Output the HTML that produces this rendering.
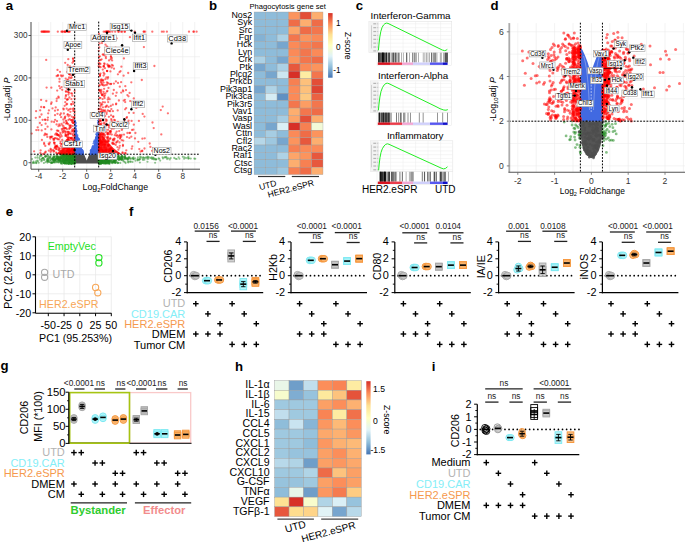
<!DOCTYPE html>
<html><head><meta charset="utf-8"><style>
html,body{margin:0;padding:0;background:#fff;}
svg{display:block;font-family:"Liberation Sans", sans-serif;}
</style></head><body>
<svg width="685" height="542" viewBox="0 0 685 542">
<rect x="0" y="0" width="685" height="542" fill="#fff"/>
<line x1="38.70" y1="22.00" x2="38.70" y2="169.20" stroke="#ebebeb" stroke-width="0.6"/>
<line x1="50.70" y1="22.00" x2="50.70" y2="169.20" stroke="#ebebeb" stroke-width="0.6"/>
<line x1="62.70" y1="22.00" x2="62.70" y2="169.20" stroke="#ebebeb" stroke-width="0.6"/>
<line x1="74.70" y1="22.00" x2="74.70" y2="169.20" stroke="#ebebeb" stroke-width="0.6"/>
<line x1="86.70" y1="22.00" x2="86.70" y2="169.20" stroke="#ebebeb" stroke-width="0.6"/>
<line x1="98.70" y1="22.00" x2="98.70" y2="169.20" stroke="#ebebeb" stroke-width="0.6"/>
<line x1="110.70" y1="22.00" x2="110.70" y2="169.20" stroke="#ebebeb" stroke-width="0.6"/>
<line x1="122.70" y1="22.00" x2="122.70" y2="169.20" stroke="#ebebeb" stroke-width="0.6"/>
<line x1="134.70" y1="22.00" x2="134.70" y2="169.20" stroke="#ebebeb" stroke-width="0.6"/>
<line x1="146.70" y1="22.00" x2="146.70" y2="169.20" stroke="#ebebeb" stroke-width="0.6"/>
<line x1="158.70" y1="22.00" x2="158.70" y2="169.20" stroke="#ebebeb" stroke-width="0.6"/>
<line x1="170.70" y1="22.00" x2="170.70" y2="169.20" stroke="#ebebeb" stroke-width="0.6"/>
<line x1="182.70" y1="22.00" x2="182.70" y2="169.20" stroke="#ebebeb" stroke-width="0.6"/>
<line x1="194.70" y1="22.00" x2="194.70" y2="169.20" stroke="#ebebeb" stroke-width="0.6"/>
<line x1="31.00" y1="162.70" x2="200.00" y2="162.70" stroke="#ebebeb" stroke-width="0.6"/>
<line x1="31.00" y1="141.50" x2="200.00" y2="141.50" stroke="#ebebeb" stroke-width="0.6"/>
<line x1="31.00" y1="120.30" x2="200.00" y2="120.30" stroke="#ebebeb" stroke-width="0.6"/>
<line x1="31.00" y1="99.10" x2="200.00" y2="99.10" stroke="#ebebeb" stroke-width="0.6"/>
<line x1="31.00" y1="77.90" x2="200.00" y2="77.90" stroke="#ebebeb" stroke-width="0.6"/>
<line x1="31.00" y1="56.70" x2="200.00" y2="56.70" stroke="#ebebeb" stroke-width="0.6"/>
<line x1="31.00" y1="35.50" x2="200.00" y2="35.50" stroke="#ebebeb" stroke-width="0.6"/>
<polygon points="74.70,154.22 84.06,154.22 86.70,160.58 89.34,154.22 98.70,154.22 98.70,163.55 74.70,163.55" fill="#4d4d4d" stroke="none" stroke-width="1"/>
<polygon points="83.10,154.22 82.82,154.06 82.54,153.75 82.26,153.31 81.98,152.79 81.70,152.17 81.42,151.48 81.14,150.71 80.86,149.87 80.58,148.97 80.30,148.01 80.02,146.98 79.74,145.90 79.46,144.76 79.18,143.57 78.90,142.33 78.62,141.04 78.34,139.70 78.06,138.30 77.78,136.87 77.50,135.38 77.22,133.85 76.94,132.28 76.66,130.66 76.38,129.00 76.10,127.30 75.82,125.56 75.54,123.77 75.26,121.95 74.98,120.08 74.70,118.18 74.70,154.22 83.10,154.22" fill="#4169e1" stroke="none" stroke-width="1"/>
<polygon points="90.30,154.22 90.58,154.06 90.86,153.75 91.14,153.31 91.42,152.79 91.70,152.17 91.98,151.48 92.26,150.71 92.54,149.87 92.82,148.97 93.10,148.01 93.38,146.98 93.66,145.90 93.94,144.76 94.22,143.57 94.50,142.33 94.78,141.04 95.06,139.70 95.34,138.30 95.62,136.87 95.90,135.38 96.18,133.85 96.46,132.28 96.74,130.66 97.02,129.00 97.30,127.30 97.58,125.56 97.86,123.77 98.14,121.95 98.42,120.08 98.70,118.18 98.70,154.22 90.30,154.22" fill="#4169e1" stroke="none" stroke-width="1"/>
<polygon points="74.70,154.22 74.70,141.50 67.50,145.74 59.10,151.25 56.70,154.22" fill="#ff0000" stroke="none" stroke-width="1" fill-opacity="0.8"/>
<polygon points="98.70,154.22 98.70,130.90 105.90,139.38 113.10,147.86 119.10,152.52 121.50,154.22" fill="#ff0000" stroke="none" stroke-width="1" fill-opacity="0.8"/>
<g fill="#228b22" fill-opacity="0.5"><circle cx="105.8" cy="158.9" r="1.05"/><circle cx="111.9" cy="158.1" r="1.05"/><circle cx="70.9" cy="162.7" r="1.05"/><circle cx="99.8" cy="156.3" r="1.05"/><circle cx="128.9" cy="157.3" r="1.05"/><circle cx="100.0" cy="158.8" r="1.05"/><circle cx="102.1" cy="158.7" r="1.05"/><circle cx="66.1" cy="163.8" r="1.05"/><circle cx="67.9" cy="160.7" r="1.05"/><circle cx="57.3" cy="157.9" r="1.05"/><circle cx="62.8" cy="160.0" r="1.05"/><circle cx="74.7" cy="161.0" r="1.05"/><circle cx="117.9" cy="156.8" r="1.05"/><circle cx="137.8" cy="159.6" r="1.05"/><circle cx="103.4" cy="156.3" r="1.05"/><circle cx="102.0" cy="162.1" r="1.05"/><circle cx="105.5" cy="160.2" r="1.05"/><circle cx="69.1" cy="159.5" r="1.05"/><circle cx="52.2" cy="158.7" r="1.05"/><circle cx="119.2" cy="157.4" r="1.05"/><circle cx="59.1" cy="158.2" r="1.05"/><circle cx="107.6" cy="159.7" r="1.05"/><circle cx="107.7" cy="154.4" r="1.05"/><circle cx="115.6" cy="157.3" r="1.05"/><circle cx="107.1" cy="160.3" r="1.05"/><circle cx="60.7" cy="155.1" r="1.05"/><circle cx="100.2" cy="155.5" r="1.05"/><circle cx="67.5" cy="163.3" r="1.05"/><circle cx="111.0" cy="159.5" r="1.05"/><circle cx="62.5" cy="163.6" r="1.05"/><circle cx="125.0" cy="157.9" r="1.05"/><circle cx="61.4" cy="157.7" r="1.05"/><circle cx="72.0" cy="154.9" r="1.05"/><circle cx="73.8" cy="155.5" r="1.05"/><circle cx="102.8" cy="158.7" r="1.05"/><circle cx="100.4" cy="157.3" r="1.05"/><circle cx="113.9" cy="161.1" r="1.05"/><circle cx="101.1" cy="158.2" r="1.05"/><circle cx="56.9" cy="156.5" r="1.05"/><circle cx="71.8" cy="154.2" r="1.05"/><circle cx="115.4" cy="162.9" r="1.05"/><circle cx="107.5" cy="160.6" r="1.05"/><circle cx="58.4" cy="157.1" r="1.05"/><circle cx="63.5" cy="162.1" r="1.05"/><circle cx="104.0" cy="154.7" r="1.05"/><circle cx="107.1" cy="161.1" r="1.05"/><circle cx="100.0" cy="162.4" r="1.05"/><circle cx="102.7" cy="156.3" r="1.05"/><circle cx="60.3" cy="157.6" r="1.05"/><circle cx="73.4" cy="159.8" r="1.05"/><circle cx="73.5" cy="161.9" r="1.05"/><circle cx="64.3" cy="154.9" r="1.05"/><circle cx="74.3" cy="156.7" r="1.05"/><circle cx="128.6" cy="158.4" r="1.05"/><circle cx="54.0" cy="162.2" r="1.05"/><circle cx="99.6" cy="159.8" r="1.05"/><circle cx="69.3" cy="162.1" r="1.05"/><circle cx="55.1" cy="159.6" r="1.05"/><circle cx="100.8" cy="156.6" r="1.05"/><circle cx="64.4" cy="154.7" r="1.05"/><circle cx="99.1" cy="155.8" r="1.05"/><circle cx="102.2" cy="159.9" r="1.05"/><circle cx="121.3" cy="160.1" r="1.05"/><circle cx="111.5" cy="162.2" r="1.05"/><circle cx="98.8" cy="162.3" r="1.05"/><circle cx="99.2" cy="160.0" r="1.05"/><circle cx="67.6" cy="155.4" r="1.05"/><circle cx="99.0" cy="163.2" r="1.05"/><circle cx="99.1" cy="161.0" r="1.05"/><circle cx="73.6" cy="163.5" r="1.05"/><circle cx="111.0" cy="156.9" r="1.05"/><circle cx="108.5" cy="159.9" r="1.05"/><circle cx="130.1" cy="158.2" r="1.05"/><circle cx="74.0" cy="154.4" r="1.05"/><circle cx="102.6" cy="157.7" r="1.05"/><circle cx="105.3" cy="163.2" r="1.05"/><circle cx="68.6" cy="161.8" r="1.05"/><circle cx="103.7" cy="157.2" r="1.05"/><circle cx="110.9" cy="156.6" r="1.05"/><circle cx="101.3" cy="154.0" r="1.05"/><circle cx="46.1" cy="156.6" r="1.05"/><circle cx="99.2" cy="162.9" r="1.05"/><circle cx="104.4" cy="160.1" r="1.05"/><circle cx="99.1" cy="158.5" r="1.05"/><circle cx="73.1" cy="159.8" r="1.05"/><circle cx="118.0" cy="162.9" r="1.05"/><circle cx="99.6" cy="155.8" r="1.05"/><circle cx="74.3" cy="159.9" r="1.05"/><circle cx="102.1" cy="162.5" r="1.05"/><circle cx="113.5" cy="156.6" r="1.05"/><circle cx="68.4" cy="161.3" r="1.05"/><circle cx="102.3" cy="160.4" r="1.05"/><circle cx="126.9" cy="158.7" r="1.05"/><circle cx="62.6" cy="159.3" r="1.05"/><circle cx="110.1" cy="155.4" r="1.05"/><circle cx="105.6" cy="154.8" r="1.05"/><circle cx="101.8" cy="162.2" r="1.05"/><circle cx="66.3" cy="162.8" r="1.05"/><circle cx="64.9" cy="163.3" r="1.05"/><circle cx="108.2" cy="160.6" r="1.05"/><circle cx="69.7" cy="160.5" r="1.05"/><circle cx="105.0" cy="158.5" r="1.05"/><circle cx="46.7" cy="160.6" r="1.05"/><circle cx="73.9" cy="154.0" r="1.05"/><circle cx="46.9" cy="156.0" r="1.05"/><circle cx="113.9" cy="156.1" r="1.05"/><circle cx="113.2" cy="162.1" r="1.05"/><circle cx="106.4" cy="153.9" r="1.05"/><circle cx="109.6" cy="156.3" r="1.05"/><circle cx="42.2" cy="158.2" r="1.05"/><circle cx="67.6" cy="154.0" r="1.05"/><circle cx="100.4" cy="162.3" r="1.05"/><circle cx="106.1" cy="154.7" r="1.05"/><circle cx="68.7" cy="156.5" r="1.05"/><circle cx="73.5" cy="158.3" r="1.05"/><circle cx="73.4" cy="161.2" r="1.05"/><circle cx="105.4" cy="163.0" r="1.05"/><circle cx="53.0" cy="158.2" r="1.05"/><circle cx="52.1" cy="163.0" r="1.05"/><circle cx="53.3" cy="157.7" r="1.05"/><circle cx="49.4" cy="158.6" r="1.05"/><circle cx="118.8" cy="159.9" r="1.05"/><circle cx="105.8" cy="154.3" r="1.05"/><circle cx="110.3" cy="155.6" r="1.05"/><circle cx="101.4" cy="161.8" r="1.05"/><circle cx="111.9" cy="158.6" r="1.05"/><circle cx="68.8" cy="155.0" r="1.05"/><circle cx="106.6" cy="163.4" r="1.05"/><circle cx="104.2" cy="161.9" r="1.05"/><circle cx="61.3" cy="163.7" r="1.05"/><circle cx="70.6" cy="154.9" r="1.05"/><circle cx="130.5" cy="159.0" r="1.05"/><circle cx="105.9" cy="158.5" r="1.05"/><circle cx="114.1" cy="155.8" r="1.05"/><circle cx="63.4" cy="160.7" r="1.05"/><circle cx="66.7" cy="157.9" r="1.05"/><circle cx="132.5" cy="161.9" r="1.05"/><circle cx="145.6" cy="157.5" r="1.05"/><circle cx="102.8" cy="159.8" r="1.05"/><circle cx="119.0" cy="158.0" r="1.05"/><circle cx="122.0" cy="156.7" r="1.05"/><circle cx="67.6" cy="155.8" r="1.05"/><circle cx="58.9" cy="159.4" r="1.05"/><circle cx="67.8" cy="162.6" r="1.05"/><circle cx="68.6" cy="163.6" r="1.05"/><circle cx="71.3" cy="155.2" r="1.05"/><circle cx="101.7" cy="153.8" r="1.05"/><circle cx="66.5" cy="156.4" r="1.05"/><circle cx="103.8" cy="156.0" r="1.05"/><circle cx="60.4" cy="158.9" r="1.05"/><circle cx="110.0" cy="162.8" r="1.05"/><circle cx="36.0" cy="161.4" r="1.05"/><circle cx="71.4" cy="159.0" r="1.05"/><circle cx="103.3" cy="156.6" r="1.05"/><circle cx="99.5" cy="157.7" r="1.05"/><circle cx="105.9" cy="158.4" r="1.05"/><circle cx="41.4" cy="155.7" r="1.05"/><circle cx="65.5" cy="159.6" r="1.05"/><circle cx="99.8" cy="161.1" r="1.05"/><circle cx="67.3" cy="155.9" r="1.05"/><circle cx="112.6" cy="157.0" r="1.05"/><circle cx="69.1" cy="157.1" r="1.05"/><circle cx="66.6" cy="154.7" r="1.05"/><circle cx="52.8" cy="162.3" r="1.05"/><circle cx="47.8" cy="161.6" r="1.05"/><circle cx="103.6" cy="154.9" r="1.05"/><circle cx="101.8" cy="158.9" r="1.05"/><circle cx="105.8" cy="161.6" r="1.05"/><circle cx="102.4" cy="158.9" r="1.05"/><circle cx="122.1" cy="155.7" r="1.05"/><circle cx="65.8" cy="159.4" r="1.05"/><circle cx="115.3" cy="161.4" r="1.05"/><circle cx="60.7" cy="159.7" r="1.05"/><circle cx="72.2" cy="158.2" r="1.05"/><circle cx="127.7" cy="159.1" r="1.05"/><circle cx="100.2" cy="159.6" r="1.05"/><circle cx="61.1" cy="161.1" r="1.05"/><circle cx="69.5" cy="159.1" r="1.05"/><circle cx="64.1" cy="162.0" r="1.05"/><circle cx="109.4" cy="158.4" r="1.05"/><circle cx="70.2" cy="156.9" r="1.05"/><circle cx="113.7" cy="156.3" r="1.05"/><circle cx="66.9" cy="160.5" r="1.05"/><circle cx="73.0" cy="161.2" r="1.05"/><circle cx="65.9" cy="156.8" r="1.05"/><circle cx="109.1" cy="161.5" r="1.05"/><circle cx="65.1" cy="154.9" r="1.05"/><circle cx="74.7" cy="163.6" r="1.05"/><circle cx="63.8" cy="162.9" r="1.05"/><circle cx="61.7" cy="153.9" r="1.05"/><circle cx="64.2" cy="158.6" r="1.05"/><circle cx="70.1" cy="162.4" r="1.05"/><circle cx="57.9" cy="157.9" r="1.05"/><circle cx="73.8" cy="156.5" r="1.05"/><circle cx="70.4" cy="161.1" r="1.05"/><circle cx="74.3" cy="162.4" r="1.05"/><circle cx="43.8" cy="158.3" r="1.05"/><circle cx="61.7" cy="161.0" r="1.05"/><circle cx="102.2" cy="154.3" r="1.05"/><circle cx="56.1" cy="158.2" r="1.05"/><circle cx="107.1" cy="155.1" r="1.05"/><circle cx="61.7" cy="157.6" r="1.05"/><circle cx="106.2" cy="158.4" r="1.05"/><circle cx="48.6" cy="158.3" r="1.05"/><circle cx="99.2" cy="158.7" r="1.05"/><circle cx="71.9" cy="159.4" r="1.05"/><circle cx="101.3" cy="161.1" r="1.05"/><circle cx="104.5" cy="159.7" r="1.05"/><circle cx="69.4" cy="157.2" r="1.05"/><circle cx="105.8" cy="155.4" r="1.05"/><circle cx="109.1" cy="163.5" r="1.05"/><circle cx="61.6" cy="162.2" r="1.05"/><circle cx="100.1" cy="155.0" r="1.05"/><circle cx="53.7" cy="156.7" r="1.05"/><circle cx="49.7" cy="161.9" r="1.05"/><circle cx="103.0" cy="159.4" r="1.05"/><circle cx="64.2" cy="161.1" r="1.05"/><circle cx="113.2" cy="158.5" r="1.05"/><circle cx="40.0" cy="156.1" r="1.05"/><circle cx="103.0" cy="158.2" r="1.05"/><circle cx="104.2" cy="156.0" r="1.05"/><circle cx="103.6" cy="154.5" r="1.05"/><circle cx="64.1" cy="163.2" r="1.05"/><circle cx="74.3" cy="156.7" r="1.05"/><circle cx="74.2" cy="162.7" r="1.05"/><circle cx="66.6" cy="160.2" r="1.05"/><circle cx="108.3" cy="155.8" r="1.05"/><circle cx="101.2" cy="155.7" r="1.05"/><circle cx="65.3" cy="160.2" r="1.05"/><circle cx="57.6" cy="156.1" r="1.05"/><circle cx="50.6" cy="160.5" r="1.05"/><circle cx="147.9" cy="157.2" r="1.05"/><circle cx="68.2" cy="160.0" r="1.05"/><circle cx="55.4" cy="159.8" r="1.05"/><circle cx="107.8" cy="158.6" r="1.05"/><circle cx="62.0" cy="154.9" r="1.05"/><circle cx="63.0" cy="158.9" r="1.05"/><circle cx="60.6" cy="154.0" r="1.05"/><circle cx="48.8" cy="160.2" r="1.05"/><circle cx="100.4" cy="156.6" r="1.05"/><circle cx="70.0" cy="154.1" r="1.05"/><circle cx="112.5" cy="159.2" r="1.05"/><circle cx="67.0" cy="156.1" r="1.05"/><circle cx="100.6" cy="159.4" r="1.05"/><circle cx="106.3" cy="154.5" r="1.05"/><circle cx="100.2" cy="160.0" r="1.05"/><circle cx="74.4" cy="163.0" r="1.05"/><circle cx="58.1" cy="158.0" r="1.05"/><circle cx="101.8" cy="162.2" r="1.05"/><circle cx="114.4" cy="155.9" r="1.05"/><circle cx="68.9" cy="157.4" r="1.05"/><circle cx="120.6" cy="159.0" r="1.05"/><circle cx="74.6" cy="155.8" r="1.05"/><circle cx="120.1" cy="158.1" r="1.05"/><circle cx="71.6" cy="156.0" r="1.05"/><circle cx="127.7" cy="161.8" r="1.05"/><circle cx="105.2" cy="159.5" r="1.05"/><circle cx="123.4" cy="157.6" r="1.05"/><circle cx="109.3" cy="157.2" r="1.05"/><circle cx="101.3" cy="156.0" r="1.05"/><circle cx="62.9" cy="159.9" r="1.05"/><circle cx="107.9" cy="159.0" r="1.05"/><circle cx="101.2" cy="163.6" r="1.05"/><circle cx="102.1" cy="161.0" r="1.05"/><circle cx="64.4" cy="153.9" r="1.05"/><circle cx="102.1" cy="158.4" r="1.05"/><circle cx="66.8" cy="159.6" r="1.05"/><circle cx="69.0" cy="159.9" r="1.05"/><circle cx="55.3" cy="160.4" r="1.05"/><circle cx="65.2" cy="155.3" r="1.05"/><circle cx="107.5" cy="156.5" r="1.05"/><circle cx="72.9" cy="161.2" r="1.05"/><circle cx="71.0" cy="159.1" r="1.05"/><circle cx="73.1" cy="161.2" r="1.05"/><circle cx="56.3" cy="159.0" r="1.05"/><circle cx="68.3" cy="155.1" r="1.05"/><circle cx="106.0" cy="159.9" r="1.05"/><circle cx="63.5" cy="163.0" r="1.05"/><circle cx="99.2" cy="156.3" r="1.05"/><circle cx="61.6" cy="157.9" r="1.05"/><circle cx="65.9" cy="163.0" r="1.05"/><circle cx="69.2" cy="160.9" r="1.05"/><circle cx="137.7" cy="160.4" r="1.05"/><circle cx="101.0" cy="156.7" r="1.05"/><circle cx="66.0" cy="162.9" r="1.05"/><circle cx="100.8" cy="159.1" r="1.05"/><circle cx="55.8" cy="158.6" r="1.05"/><circle cx="111.3" cy="161.2" r="1.05"/><circle cx="54.6" cy="160.7" r="1.05"/><circle cx="126.9" cy="158.3" r="1.05"/><circle cx="52.8" cy="158.3" r="1.05"/><circle cx="72.0" cy="158.7" r="1.05"/><circle cx="47.7" cy="157.7" r="1.05"/><circle cx="103.1" cy="154.6" r="1.05"/><circle cx="60.3" cy="161.2" r="1.05"/><circle cx="73.2" cy="161.8" r="1.05"/><circle cx="103.0" cy="159.0" r="1.05"/><circle cx="101.5" cy="157.4" r="1.05"/><circle cx="121.6" cy="159.3" r="1.05"/><circle cx="129.6" cy="157.3" r="1.05"/><circle cx="71.1" cy="162.8" r="1.05"/><circle cx="99.9" cy="158.2" r="1.05"/><circle cx="74.2" cy="161.6" r="1.05"/><circle cx="105.7" cy="154.5" r="1.05"/><circle cx="99.6" cy="157.0" r="1.05"/><circle cx="68.4" cy="159.4" r="1.05"/><circle cx="106.8" cy="161.9" r="1.05"/><circle cx="105.3" cy="161.8" r="1.05"/><circle cx="50.8" cy="155.6" r="1.05"/><circle cx="99.3" cy="154.7" r="1.05"/><circle cx="54.2" cy="161.8" r="1.05"/><circle cx="47.7" cy="160.9" r="1.05"/><circle cx="66.8" cy="153.9" r="1.05"/><circle cx="103.2" cy="153.9" r="1.05"/><circle cx="115.3" cy="158.2" r="1.05"/><circle cx="47.8" cy="159.5" r="1.05"/><circle cx="105.9" cy="154.7" r="1.05"/><circle cx="68.4" cy="157.9" r="1.05"/><circle cx="72.9" cy="157.9" r="1.05"/><circle cx="101.6" cy="155.1" r="1.05"/><circle cx="112.2" cy="159.6" r="1.05"/><circle cx="112.8" cy="158.0" r="1.05"/><circle cx="65.0" cy="163.6" r="1.05"/><circle cx="102.4" cy="160.1" r="1.05"/><circle cx="107.8" cy="158.0" r="1.05"/><circle cx="63.2" cy="155.3" r="1.05"/><circle cx="66.8" cy="155.7" r="1.05"/><circle cx="72.7" cy="160.5" r="1.05"/><circle cx="48.9" cy="162.0" r="1.05"/><circle cx="70.4" cy="158.7" r="1.05"/><circle cx="147.6" cy="156.6" r="1.05"/><circle cx="99.0" cy="163.1" r="1.05"/><circle cx="114.1" cy="161.1" r="1.05"/><circle cx="105.9" cy="158.0" r="1.05"/><circle cx="99.4" cy="162.1" r="1.05"/><circle cx="101.5" cy="162.9" r="1.05"/><circle cx="59.9" cy="161.1" r="1.05"/><circle cx="71.0" cy="159.0" r="1.05"/><circle cx="101.9" cy="155.1" r="1.05"/><circle cx="114.2" cy="162.6" r="1.05"/><circle cx="45.1" cy="156.6" r="1.05"/><circle cx="68.0" cy="160.1" r="1.05"/><circle cx="99.0" cy="160.6" r="1.05"/><circle cx="118.3" cy="162.8" r="1.05"/><circle cx="108.5" cy="155.1" r="1.05"/><circle cx="33.5" cy="161.6" r="1.05"/><circle cx="73.1" cy="157.9" r="1.05"/><circle cx="71.2" cy="161.8" r="1.05"/><circle cx="37.3" cy="160.6" r="1.05"/><circle cx="110.3" cy="161.6" r="1.05"/><circle cx="98.8" cy="154.0" r="1.05"/><circle cx="71.4" cy="158.3" r="1.05"/><circle cx="58.2" cy="162.5" r="1.05"/><circle cx="99.0" cy="158.5" r="1.05"/><circle cx="70.8" cy="158.9" r="1.05"/><circle cx="69.0" cy="157.2" r="1.05"/><circle cx="72.4" cy="156.9" r="1.05"/><circle cx="43.9" cy="159.9" r="1.05"/><circle cx="74.4" cy="163.6" r="1.05"/><circle cx="63.5" cy="157.1" r="1.05"/><circle cx="103.8" cy="156.7" r="1.05"/><circle cx="73.8" cy="159.6" r="1.05"/><circle cx="113.4" cy="155.9" r="1.05"/><circle cx="106.2" cy="158.3" r="1.05"/><circle cx="104.5" cy="157.0" r="1.05"/><circle cx="116.2" cy="159.7" r="1.05"/><circle cx="54.4" cy="158.0" r="1.05"/><circle cx="106.2" cy="155.7" r="1.05"/><circle cx="101.4" cy="160.7" r="1.05"/><circle cx="99.1" cy="159.2" r="1.05"/><circle cx="101.1" cy="159.3" r="1.05"/><circle cx="122.1" cy="157.8" r="1.05"/><circle cx="103.1" cy="159.4" r="1.05"/><circle cx="102.7" cy="155.9" r="1.05"/><circle cx="58.8" cy="157.5" r="1.05"/><circle cx="74.5" cy="160.4" r="1.05"/><circle cx="112.6" cy="155.1" r="1.05"/><circle cx="73.7" cy="162.6" r="1.05"/><circle cx="108.0" cy="162.5" r="1.05"/><circle cx="127.6" cy="158.5" r="1.05"/><circle cx="37.3" cy="157.8" r="1.05"/><circle cx="58.1" cy="159.3" r="1.05"/><circle cx="102.8" cy="160.8" r="1.05"/><circle cx="66.2" cy="159.2" r="1.05"/><circle cx="99.4" cy="161.8" r="1.05"/><circle cx="107.1" cy="157.6" r="1.05"/><circle cx="101.2" cy="159.8" r="1.05"/><circle cx="72.8" cy="153.9" r="1.05"/><circle cx="117.7" cy="163.1" r="1.05"/><circle cx="102.0" cy="158.8" r="1.05"/><circle cx="99.0" cy="160.1" r="1.05"/><circle cx="117.4" cy="159.2" r="1.05"/><circle cx="64.1" cy="157.9" r="1.05"/><circle cx="65.6" cy="161.0" r="1.05"/><circle cx="70.5" cy="162.9" r="1.05"/><circle cx="66.8" cy="155.1" r="1.05"/><circle cx="111.2" cy="153.9" r="1.05"/><circle cx="69.4" cy="161.5" r="1.05"/><circle cx="66.4" cy="158.7" r="1.05"/><circle cx="45.5" cy="155.7" r="1.05"/><circle cx="74.7" cy="163.1" r="1.05"/><circle cx="115.9" cy="162.6" r="1.05"/><circle cx="65.9" cy="160.4" r="1.05"/><circle cx="74.6" cy="161.7" r="1.05"/><circle cx="70.7" cy="158.3" r="1.05"/><circle cx="71.7" cy="161.7" r="1.05"/><circle cx="101.2" cy="158.2" r="1.05"/><circle cx="70.1" cy="159.7" r="1.05"/><circle cx="72.4" cy="157.4" r="1.05"/><circle cx="100.9" cy="162.0" r="1.05"/><circle cx="99.6" cy="155.8" r="1.05"/><circle cx="100.1" cy="155.5" r="1.05"/><circle cx="74.2" cy="160.9" r="1.05"/><circle cx="64.5" cy="159.4" r="1.05"/><circle cx="108.5" cy="162.6" r="1.05"/><circle cx="59.1" cy="162.2" r="1.05"/><circle cx="113.7" cy="161.4" r="1.05"/><circle cx="71.4" cy="159.5" r="1.05"/><circle cx="74.3" cy="161.3" r="1.05"/><circle cx="69.8" cy="159.2" r="1.05"/><circle cx="108.4" cy="157.6" r="1.05"/><circle cx="103.1" cy="159.5" r="1.05"/><circle cx="54.5" cy="156.4" r="1.05"/><circle cx="107.1" cy="162.6" r="1.05"/><circle cx="56.5" cy="156.4" r="1.05"/><circle cx="121.5" cy="156.0" r="1.05"/><circle cx="102.9" cy="159.2" r="1.05"/><circle cx="69.0" cy="159.1" r="1.05"/><circle cx="73.1" cy="162.1" r="1.05"/><circle cx="117.2" cy="157.7" r="1.05"/><circle cx="67.7" cy="157.5" r="1.05"/><circle cx="73.8" cy="157.7" r="1.05"/><circle cx="62.9" cy="162.1" r="1.05"/><circle cx="102.0" cy="159.5" r="1.05"/><circle cx="118.3" cy="156.1" r="1.05"/><circle cx="109.1" cy="163.1" r="1.05"/><circle cx="66.0" cy="153.9" r="1.05"/><circle cx="100.6" cy="160.2" r="1.05"/><circle cx="105.1" cy="155.1" r="1.05"/><circle cx="112.4" cy="157.5" r="1.05"/><circle cx="102.5" cy="162.6" r="1.05"/><circle cx="99.0" cy="161.1" r="1.05"/><circle cx="128.9" cy="161.5" r="1.05"/><circle cx="53.2" cy="160.6" r="1.05"/><circle cx="69.6" cy="163.3" r="1.05"/><circle cx="109.5" cy="163.7" r="1.05"/><circle cx="73.0" cy="160.1" r="1.05"/><circle cx="100.1" cy="161.5" r="1.05"/><circle cx="66.6" cy="154.8" r="1.05"/><circle cx="119.7" cy="159.0" r="1.05"/><circle cx="51.3" cy="158.7" r="1.05"/><circle cx="66.5" cy="160.2" r="1.05"/><circle cx="73.8" cy="161.7" r="1.05"/><circle cx="100.0" cy="161.7" r="1.05"/><circle cx="69.6" cy="163.3" r="1.05"/><circle cx="64.0" cy="157.0" r="1.05"/><circle cx="99.5" cy="157.3" r="1.05"/><circle cx="69.9" cy="158.0" r="1.05"/><circle cx="108.7" cy="153.9" r="1.05"/><circle cx="70.4" cy="159.0" r="1.05"/><circle cx="74.1" cy="160.1" r="1.05"/><circle cx="100.0" cy="163.1" r="1.05"/><circle cx="59.3" cy="158.8" r="1.05"/><circle cx="107.1" cy="154.9" r="1.05"/><circle cx="104.6" cy="159.6" r="1.05"/><circle cx="74.0" cy="157.2" r="1.05"/><circle cx="98.9" cy="162.0" r="1.05"/><circle cx="70.4" cy="155.4" r="1.05"/><circle cx="70.5" cy="158.9" r="1.05"/><circle cx="101.8" cy="157.4" r="1.05"/><circle cx="68.3" cy="154.5" r="1.05"/><circle cx="69.7" cy="157.2" r="1.05"/><circle cx="106.4" cy="157.7" r="1.05"/><circle cx="102.2" cy="160.3" r="1.05"/><circle cx="66.3" cy="158.1" r="1.05"/><circle cx="103.2" cy="159.3" r="1.05"/><circle cx="130.6" cy="161.3" r="1.05"/><circle cx="101.3" cy="156.4" r="1.05"/><circle cx="66.6" cy="158.1" r="1.05"/><circle cx="121.1" cy="157.1" r="1.05"/><circle cx="104.9" cy="163.6" r="1.05"/><circle cx="106.1" cy="156.4" r="1.05"/><circle cx="64.6" cy="163.2" r="1.05"/><circle cx="114.2" cy="159.8" r="1.05"/><circle cx="108.5" cy="160.7" r="1.05"/><circle cx="58.5" cy="160.4" r="1.05"/><circle cx="68.0" cy="155.5" r="1.05"/><circle cx="106.2" cy="154.1" r="1.05"/><circle cx="67.0" cy="163.7" r="1.05"/><circle cx="50.9" cy="162.7" r="1.05"/><circle cx="105.1" cy="153.9" r="1.05"/><circle cx="99.9" cy="161.1" r="1.05"/><circle cx="102.3" cy="162.0" r="1.05"/><circle cx="107.3" cy="160.7" r="1.05"/><circle cx="103.7" cy="159.2" r="1.05"/><circle cx="100.4" cy="157.6" r="1.05"/><circle cx="106.8" cy="155.9" r="1.05"/><circle cx="72.8" cy="163.7" r="1.05"/><circle cx="99.8" cy="160.0" r="1.05"/><circle cx="110.6" cy="157.6" r="1.05"/><circle cx="55.5" cy="159.7" r="1.05"/><circle cx="99.2" cy="156.6" r="1.05"/><circle cx="69.1" cy="159.3" r="1.05"/><circle cx="67.9" cy="155.3" r="1.05"/><circle cx="72.2" cy="154.0" r="1.05"/><circle cx="69.1" cy="154.7" r="1.05"/><circle cx="100.4" cy="157.8" r="1.05"/><circle cx="57.7" cy="158.9" r="1.05"/><circle cx="99.3" cy="154.5" r="1.05"/><circle cx="53.1" cy="159.8" r="1.05"/><circle cx="99.7" cy="163.2" r="1.05"/><circle cx="44.3" cy="159.6" r="1.05"/><circle cx="100.3" cy="158.4" r="1.05"/><circle cx="49.8" cy="157.5" r="1.05"/><circle cx="72.9" cy="162.3" r="1.05"/><circle cx="107.2" cy="161.5" r="1.05"/><circle cx="100.9" cy="159.2" r="1.05"/><circle cx="99.7" cy="162.7" r="1.05"/><circle cx="72.8" cy="160.0" r="1.05"/><circle cx="71.0" cy="163.6" r="1.05"/><circle cx="68.0" cy="156.4" r="1.05"/><circle cx="64.8" cy="160.6" r="1.05"/><circle cx="100.4" cy="158.9" r="1.05"/><circle cx="67.7" cy="158.4" r="1.05"/><circle cx="102.1" cy="155.5" r="1.05"/><circle cx="106.1" cy="157.4" r="1.05"/><circle cx="102.2" cy="157.9" r="1.05"/><circle cx="67.1" cy="159.8" r="1.05"/><circle cx="100.9" cy="161.4" r="1.05"/><circle cx="64.4" cy="161.3" r="1.05"/><circle cx="119.9" cy="157.3" r="1.05"/><circle cx="42.1" cy="160.5" r="1.05"/><circle cx="64.4" cy="157.2" r="1.05"/><circle cx="57.1" cy="156.6" r="1.05"/><circle cx="71.8" cy="159.8" r="1.05"/><circle cx="108.7" cy="162.0" r="1.05"/><circle cx="48.2" cy="155.8" r="1.05"/><circle cx="112.3" cy="155.4" r="1.05"/><circle cx="73.9" cy="157.7" r="1.05"/><circle cx="60.6" cy="160.8" r="1.05"/><circle cx="55.9" cy="162.4" r="1.05"/><circle cx="72.8" cy="158.4" r="1.05"/><circle cx="137.9" cy="157.4" r="1.05"/><circle cx="68.2" cy="158.4" r="1.05"/><circle cx="109.6" cy="154.1" r="1.05"/><circle cx="100.8" cy="162.2" r="1.05"/><circle cx="100.3" cy="154.1" r="1.05"/><circle cx="64.7" cy="162.5" r="1.05"/><circle cx="70.1" cy="155.9" r="1.05"/><circle cx="102.1" cy="162.4" r="1.05"/><circle cx="72.5" cy="161.4" r="1.05"/><circle cx="67.1" cy="154.6" r="1.05"/><circle cx="66.0" cy="158.1" r="1.05"/><circle cx="69.6" cy="162.4" r="1.05"/><circle cx="102.6" cy="163.1" r="1.05"/><circle cx="66.1" cy="154.9" r="1.05"/><circle cx="100.8" cy="154.7" r="1.05"/><circle cx="61.1" cy="163.3" r="1.05"/><circle cx="100.6" cy="155.8" r="1.05"/><circle cx="112.0" cy="162.7" r="1.05"/><circle cx="73.4" cy="156.6" r="1.05"/><circle cx="105.4" cy="157.3" r="1.05"/><circle cx="100.1" cy="160.1" r="1.05"/><circle cx="58.9" cy="160.0" r="1.05"/><circle cx="65.6" cy="161.7" r="1.05"/><circle cx="71.6" cy="163.6" r="1.05"/><circle cx="104.2" cy="157.6" r="1.05"/><circle cx="99.2" cy="155.6" r="1.05"/><circle cx="98.8" cy="159.5" r="1.05"/><circle cx="103.5" cy="155.2" r="1.05"/><circle cx="108.4" cy="154.7" r="1.05"/><circle cx="106.6" cy="163.3" r="1.05"/><circle cx="61.4" cy="158.5" r="1.05"/><circle cx="102.6" cy="155.4" r="1.05"/><circle cx="63.1" cy="159.4" r="1.05"/><circle cx="74.5" cy="162.5" r="1.05"/><circle cx="67.4" cy="163.5" r="1.05"/><circle cx="56.6" cy="155.6" r="1.05"/><circle cx="67.5" cy="157.8" r="1.05"/><circle cx="65.9" cy="157.0" r="1.05"/><circle cx="108.0" cy="158.3" r="1.05"/><circle cx="47.0" cy="159.1" r="1.05"/><circle cx="59.6" cy="159.8" r="1.05"/><circle cx="64.5" cy="155.1" r="1.05"/><circle cx="73.5" cy="162.7" r="1.05"/><circle cx="99.8" cy="157.2" r="1.05"/><circle cx="66.5" cy="154.7" r="1.05"/><circle cx="70.5" cy="157.7" r="1.05"/><circle cx="106.1" cy="159.9" r="1.05"/><circle cx="64.4" cy="161.0" r="1.05"/><circle cx="103.9" cy="161.1" r="1.05"/><circle cx="102.2" cy="154.1" r="1.05"/><circle cx="66.0" cy="161.1" r="1.05"/><circle cx="60.7" cy="159.2" r="1.05"/><circle cx="100.5" cy="158.7" r="1.05"/><circle cx="111.5" cy="157.1" r="1.05"/><circle cx="61.5" cy="157.8" r="1.05"/><circle cx="63.4" cy="160.7" r="1.05"/><circle cx="72.9" cy="154.1" r="1.05"/><circle cx="114.5" cy="161.1" r="1.05"/><circle cx="112.7" cy="158.4" r="1.05"/><circle cx="73.4" cy="153.8" r="1.05"/><circle cx="115.8" cy="159.7" r="1.05"/><circle cx="120.4" cy="159.0" r="1.05"/><circle cx="32.1" cy="159.0" r="1.05"/><circle cx="107.5" cy="163.1" r="1.05"/><circle cx="74.6" cy="161.1" r="1.05"/><circle cx="109.3" cy="158.1" r="1.05"/><circle cx="61.5" cy="157.7" r="1.05"/><circle cx="109.2" cy="154.5" r="1.05"/><circle cx="63.9" cy="158.5" r="1.05"/><circle cx="108.9" cy="161.9" r="1.05"/><circle cx="73.3" cy="163.3" r="1.05"/><circle cx="102.0" cy="155.9" r="1.05"/><circle cx="72.8" cy="155.1" r="1.05"/><circle cx="69.7" cy="156.9" r="1.05"/><circle cx="101.5" cy="162.4" r="1.05"/><circle cx="101.3" cy="155.2" r="1.05"/><circle cx="43.9" cy="163.0" r="1.05"/><circle cx="101.7" cy="159.0" r="1.05"/><circle cx="55.8" cy="161.7" r="1.05"/><circle cx="99.0" cy="157.4" r="1.05"/><circle cx="103.7" cy="155.3" r="1.05"/><circle cx="69.7" cy="154.7" r="1.05"/><circle cx="112.7" cy="161.5" r="1.05"/><circle cx="102.8" cy="155.1" r="1.05"/><circle cx="71.9" cy="161.2" r="1.05"/><circle cx="133.7" cy="159.1" r="1.05"/><circle cx="61.5" cy="154.8" r="1.05"/><circle cx="98.7" cy="160.6" r="1.05"/><circle cx="109.6" cy="153.8" r="1.05"/><circle cx="113.1" cy="157.9" r="1.05"/><circle cx="74.3" cy="156.1" r="1.05"/><circle cx="51.9" cy="162.1" r="1.05"/><circle cx="108.0" cy="154.9" r="1.05"/><circle cx="103.9" cy="158.6" r="1.05"/><circle cx="71.5" cy="158.0" r="1.05"/><circle cx="69.6" cy="157.4" r="1.05"/><circle cx="118.9" cy="159.8" r="1.05"/><circle cx="103.6" cy="156.2" r="1.05"/><circle cx="124.9" cy="162.0" r="1.05"/><circle cx="70.8" cy="157.6" r="1.05"/><circle cx="100.7" cy="161.1" r="1.05"/><circle cx="101.5" cy="155.5" r="1.05"/><circle cx="57.3" cy="162.0" r="1.05"/><circle cx="112.4" cy="154.4" r="1.05"/><circle cx="98.9" cy="157.2" r="1.05"/><circle cx="111.9" cy="159.2" r="1.05"/><circle cx="101.7" cy="155.8" r="1.05"/><circle cx="34.4" cy="162.9" r="1.05"/><circle cx="100.0" cy="156.1" r="1.05"/><circle cx="104.8" cy="155.4" r="1.05"/><circle cx="74.4" cy="155.8" r="1.05"/><circle cx="73.7" cy="157.1" r="1.05"/><circle cx="99.5" cy="157.7" r="1.05"/><circle cx="74.2" cy="163.0" r="1.05"/><circle cx="70.5" cy="160.7" r="1.05"/><circle cx="107.4" cy="155.3" r="1.05"/><circle cx="100.4" cy="157.5" r="1.05"/><circle cx="101.3" cy="157.8" r="1.05"/><circle cx="107.8" cy="156.8" r="1.05"/><circle cx="102.2" cy="160.8" r="1.05"/><circle cx="67.2" cy="155.1" r="1.05"/><circle cx="100.1" cy="161.4" r="1.05"/><circle cx="71.3" cy="161.7" r="1.05"/><circle cx="65.5" cy="154.7" r="1.05"/><circle cx="107.4" cy="160.6" r="1.05"/><circle cx="100.8" cy="163.4" r="1.05"/><circle cx="56.9" cy="157.8" r="1.05"/><circle cx="71.9" cy="157.4" r="1.05"/><circle cx="112.9" cy="159.3" r="1.05"/><circle cx="73.9" cy="161.5" r="1.05"/><circle cx="110.0" cy="158.2" r="1.05"/><circle cx="39.9" cy="159.6" r="1.05"/><circle cx="100.6" cy="161.3" r="1.05"/><circle cx="64.1" cy="154.7" r="1.05"/><circle cx="69.8" cy="160.9" r="1.05"/><circle cx="74.6" cy="156.0" r="1.05"/><circle cx="99.1" cy="163.0" r="1.05"/><circle cx="70.6" cy="161.3" r="1.05"/><circle cx="100.6" cy="161.8" r="1.05"/><circle cx="107.5" cy="156.9" r="1.05"/><circle cx="98.9" cy="154.0" r="1.05"/><circle cx="71.8" cy="159.0" r="1.05"/><circle cx="125.6" cy="163.1" r="1.05"/><circle cx="74.5" cy="162.4" r="1.05"/><circle cx="99.5" cy="158.4" r="1.05"/><circle cx="74.6" cy="161.0" r="1.05"/><circle cx="65.8" cy="155.1" r="1.05"/><circle cx="105.6" cy="161.0" r="1.05"/><circle cx="67.3" cy="159.8" r="1.05"/><circle cx="100.8" cy="163.5" r="1.05"/><circle cx="70.4" cy="161.6" r="1.05"/><circle cx="50.5" cy="157.6" r="1.05"/><circle cx="114.8" cy="156.4" r="1.05"/><circle cx="61.4" cy="162.5" r="1.05"/><circle cx="69.1" cy="161.1" r="1.05"/><circle cx="72.2" cy="156.7" r="1.05"/><circle cx="120.3" cy="162.9" r="1.05"/><circle cx="100.6" cy="158.6" r="1.05"/><circle cx="100.3" cy="162.9" r="1.05"/><circle cx="74.1" cy="155.4" r="1.05"/><circle cx="98.8" cy="155.8" r="1.05"/><circle cx="99.1" cy="157.9" r="1.05"/><circle cx="72.5" cy="155.6" r="1.05"/><circle cx="113.8" cy="156.0" r="1.05"/><circle cx="108.5" cy="155.1" r="1.05"/><circle cx="70.0" cy="159.0" r="1.05"/><circle cx="102.8" cy="155.6" r="1.05"/><circle cx="115.6" cy="159.7" r="1.05"/><circle cx="102.7" cy="153.9" r="1.05"/><circle cx="103.0" cy="157.6" r="1.05"/><circle cx="61.5" cy="157.8" r="1.05"/><circle cx="99.4" cy="159.6" r="1.05"/><circle cx="99.3" cy="156.2" r="1.05"/><circle cx="107.5" cy="156.1" r="1.05"/><circle cx="104.2" cy="158.7" r="1.05"/><circle cx="108.9" cy="161.0" r="1.05"/><circle cx="111.8" cy="155.3" r="1.05"/><circle cx="72.6" cy="156.9" r="1.05"/><circle cx="110.5" cy="158.9" r="1.05"/><circle cx="37.9" cy="161.2" r="1.05"/><circle cx="74.4" cy="162.9" r="1.05"/><circle cx="108.5" cy="161.6" r="1.05"/><circle cx="100.4" cy="160.1" r="1.05"/><circle cx="112.2" cy="159.2" r="1.05"/><circle cx="104.4" cy="157.1" r="1.05"/><circle cx="106.1" cy="158.2" r="1.05"/><circle cx="99.0" cy="163.6" r="1.05"/><circle cx="70.5" cy="158.4" r="1.05"/><circle cx="109.0" cy="163.6" r="1.05"/><circle cx="101.1" cy="154.1" r="1.05"/><circle cx="53.5" cy="157.7" r="1.05"/><circle cx="66.5" cy="159.8" r="1.05"/><circle cx="101.1" cy="159.8" r="1.05"/><circle cx="74.6" cy="158.4" r="1.05"/><circle cx="100.3" cy="155.4" r="1.05"/><circle cx="43.1" cy="158.0" r="1.05"/><circle cx="103.9" cy="155.4" r="1.05"/><circle cx="110.0" cy="159.7" r="1.05"/><circle cx="101.6" cy="160.4" r="1.05"/><circle cx="99.4" cy="155.5" r="1.05"/><circle cx="100.3" cy="159.5" r="1.05"/><circle cx="105.1" cy="158.7" r="1.05"/><circle cx="100.4" cy="153.9" r="1.05"/><circle cx="101.7" cy="160.3" r="1.05"/><circle cx="117.1" cy="158.9" r="1.05"/><circle cx="69.6" cy="158.3" r="1.05"/><circle cx="109.7" cy="161.5" r="1.05"/><circle cx="62.5" cy="161.1" r="1.05"/><circle cx="100.3" cy="153.8" r="1.05"/><circle cx="101.3" cy="163.6" r="1.05"/><circle cx="99.8" cy="162.2" r="1.05"/><circle cx="72.5" cy="162.8" r="1.05"/><circle cx="108.3" cy="155.9" r="1.05"/><circle cx="74.1" cy="159.1" r="1.05"/><circle cx="100.8" cy="157.8" r="1.05"/><circle cx="48.6" cy="156.5" r="1.05"/><circle cx="103.1" cy="162.9" r="1.05"/><circle cx="103.9" cy="160.3" r="1.05"/><circle cx="60.6" cy="156.5" r="1.05"/><circle cx="71.2" cy="162.3" r="1.05"/><circle cx="37.4" cy="155.7" r="1.05"/><circle cx="64.5" cy="154.1" r="1.05"/><circle cx="130.5" cy="162.0" r="1.05"/><circle cx="115.3" cy="162.2" r="1.05"/><circle cx="41.3" cy="161.3" r="1.05"/><circle cx="120.5" cy="157.7" r="1.05"/><circle cx="101.9" cy="155.3" r="1.05"/><circle cx="68.9" cy="158.9" r="1.05"/><circle cx="99.0" cy="163.0" r="1.05"/><circle cx="72.8" cy="154.7" r="1.05"/><circle cx="64.6" cy="159.5" r="1.05"/><circle cx="122.1" cy="156.3" r="1.05"/><circle cx="63.9" cy="156.0" r="1.05"/><circle cx="106.0" cy="159.1" r="1.05"/><circle cx="74.6" cy="163.5" r="1.05"/><circle cx="60.2" cy="160.1" r="1.05"/><circle cx="101.5" cy="154.1" r="1.05"/><circle cx="101.5" cy="159.9" r="1.05"/><circle cx="69.0" cy="161.4" r="1.05"/><circle cx="102.1" cy="156.9" r="1.05"/><circle cx="60.7" cy="157.4" r="1.05"/><circle cx="57.9" cy="156.5" r="1.05"/><circle cx="109.4" cy="159.4" r="1.05"/><circle cx="111.6" cy="160.6" r="1.05"/><circle cx="112.6" cy="156.8" r="1.05"/><circle cx="99.2" cy="155.7" r="1.05"/><circle cx="61.5" cy="157.3" r="1.05"/><circle cx="59.5" cy="156.6" r="1.05"/><circle cx="98.9" cy="154.6" r="1.05"/><circle cx="106.8" cy="156.2" r="1.05"/><circle cx="68.8" cy="163.4" r="1.05"/><circle cx="113.5" cy="159.2" r="1.05"/><circle cx="114.3" cy="161.9" r="1.05"/><circle cx="110.3" cy="158.0" r="1.05"/><circle cx="101.4" cy="157.0" r="1.05"/><circle cx="103.2" cy="154.4" r="1.05"/><circle cx="72.9" cy="162.1" r="1.05"/><circle cx="119.4" cy="158.1" r="1.05"/><circle cx="108.0" cy="157.7" r="1.05"/><circle cx="103.2" cy="159.9" r="1.05"/><circle cx="113.4" cy="157.5" r="1.05"/><circle cx="63.3" cy="161.1" r="1.05"/><circle cx="71.3" cy="163.7" r="1.05"/><circle cx="62.0" cy="155.8" r="1.05"/><circle cx="41.3" cy="159.6" r="1.05"/><circle cx="99.1" cy="163.0" r="1.05"/><circle cx="99.6" cy="163.4" r="1.05"/><circle cx="99.1" cy="159.6" r="1.05"/><circle cx="99.8" cy="155.4" r="1.05"/><circle cx="131.9" cy="158.4" r="1.05"/><circle cx="100.3" cy="158.0" r="1.05"/><circle cx="116.8" cy="161.8" r="1.05"/><circle cx="103.3" cy="158.7" r="1.05"/><circle cx="108.6" cy="160.5" r="1.05"/><circle cx="122.7" cy="157.0" r="1.05"/><circle cx="74.5" cy="158.0" r="1.05"/><circle cx="73.7" cy="155.1" r="1.05"/><circle cx="70.9" cy="160.7" r="1.05"/><circle cx="125.1" cy="157.1" r="1.05"/><circle cx="73.3" cy="154.2" r="1.05"/><circle cx="63.0" cy="156.0" r="1.05"/><circle cx="118.2" cy="156.0" r="1.05"/><circle cx="60.6" cy="162.8" r="1.05"/><circle cx="62.0" cy="161.0" r="1.05"/><circle cx="58.5" cy="161.5" r="1.05"/><circle cx="100.1" cy="161.5" r="1.05"/><circle cx="101.1" cy="155.4" r="1.05"/><circle cx="73.1" cy="157.1" r="1.05"/><circle cx="63.6" cy="162.6" r="1.05"/><circle cx="70.7" cy="158.6" r="1.05"/><circle cx="72.0" cy="155.4" r="1.05"/><circle cx="69.8" cy="155.1" r="1.05"/><circle cx="112.0" cy="162.4" r="1.05"/><circle cx="99.6" cy="155.8" r="1.05"/><circle cx="71.9" cy="159.5" r="1.05"/><circle cx="62.2" cy="155.6" r="1.05"/><circle cx="113.1" cy="162.2" r="1.05"/><circle cx="54.0" cy="160.6" r="1.05"/><circle cx="106.2" cy="162.3" r="1.05"/><circle cx="45.4" cy="156.2" r="1.05"/><circle cx="98.8" cy="163.6" r="1.05"/><circle cx="113.1" cy="157.8" r="1.05"/><circle cx="47.4" cy="162.6" r="1.05"/><circle cx="109.2" cy="160.1" r="1.05"/><circle cx="100.6" cy="154.2" r="1.05"/><circle cx="102.4" cy="160.5" r="1.05"/><circle cx="102.5" cy="157.9" r="1.05"/><circle cx="124.8" cy="157.4" r="1.05"/><circle cx="69.7" cy="163.0" r="1.05"/><circle cx="115.5" cy="161.4" r="1.05"/><circle cx="69.9" cy="160.9" r="1.05"/><circle cx="64.4" cy="154.3" r="1.05"/><circle cx="58.7" cy="157.2" r="1.05"/><circle cx="115.7" cy="159.9" r="1.05"/><circle cx="99.3" cy="162.2" r="1.05"/><circle cx="115.3" cy="159.5" r="1.05"/><circle cx="104.8" cy="159.7" r="1.05"/><circle cx="121.5" cy="156.2" r="1.05"/><circle cx="100.9" cy="160.7" r="1.05"/><circle cx="99.0" cy="160.8" r="1.05"/><circle cx="101.3" cy="157.3" r="1.05"/><circle cx="73.1" cy="160.4" r="1.05"/><circle cx="71.0" cy="160.7" r="1.05"/><circle cx="106.4" cy="158.8" r="1.05"/><circle cx="70.8" cy="155.8" r="1.05"/><circle cx="72.9" cy="159.9" r="1.05"/><circle cx="124.1" cy="156.8" r="1.05"/><circle cx="72.6" cy="154.9" r="1.05"/><circle cx="64.7" cy="154.1" r="1.05"/><circle cx="66.3" cy="160.7" r="1.05"/><circle cx="73.4" cy="157.6" r="1.05"/><circle cx="99.9" cy="163.7" r="1.05"/><circle cx="69.7" cy="159.4" r="1.05"/><circle cx="105.3" cy="163.4" r="1.05"/><circle cx="68.0" cy="162.1" r="1.05"/><circle cx="111.0" cy="155.7" r="1.05"/><circle cx="100.8" cy="155.9" r="1.05"/><circle cx="72.6" cy="163.4" r="1.05"/><circle cx="39.4" cy="157.9" r="1.05"/><circle cx="103.0" cy="159.4" r="1.05"/><circle cx="160.2" cy="160.6" r="1.05"/><circle cx="104.7" cy="161.7" r="1.05"/><circle cx="99.5" cy="155.8" r="1.05"/><circle cx="62.6" cy="156.0" r="1.05"/><circle cx="41.1" cy="155.6" r="1.05"/><circle cx="73.8" cy="157.4" r="1.05"/><circle cx="100.9" cy="156.0" r="1.05"/><circle cx="71.3" cy="162.9" r="1.05"/><circle cx="111.4" cy="156.8" r="1.05"/><circle cx="70.7" cy="163.2" r="1.05"/><circle cx="71.4" cy="161.7" r="1.05"/><circle cx="68.9" cy="163.7" r="1.05"/><circle cx="98.7" cy="160.0" r="1.05"/><circle cx="72.7" cy="156.8" r="1.05"/><circle cx="57.4" cy="157.9" r="1.05"/><circle cx="105.5" cy="156.6" r="1.05"/><circle cx="68.8" cy="163.6" r="1.05"/><circle cx="68.6" cy="157.6" r="1.05"/><circle cx="115.1" cy="162.7" r="1.05"/><circle cx="103.2" cy="159.6" r="1.05"/><circle cx="73.6" cy="159.3" r="1.05"/><circle cx="115.9" cy="158.1" r="1.05"/><circle cx="64.4" cy="155.6" r="1.05"/><circle cx="70.8" cy="161.2" r="1.05"/><circle cx="100.1" cy="157.5" r="1.05"/><circle cx="60.0" cy="159.3" r="1.05"/><circle cx="52.3" cy="159.0" r="1.05"/><circle cx="71.9" cy="162.1" r="1.05"/><circle cx="72.7" cy="157.3" r="1.05"/><circle cx="103.1" cy="161.2" r="1.05"/><circle cx="102.9" cy="156.1" r="1.05"/><circle cx="110.1" cy="154.4" r="1.05"/><circle cx="53.0" cy="160.0" r="1.05"/><circle cx="107.3" cy="160.9" r="1.05"/><circle cx="52.5" cy="159.4" r="1.05"/><circle cx="64.8" cy="162.4" r="1.05"/><circle cx="71.3" cy="156.0" r="1.05"/><circle cx="52.0" cy="162.8" r="1.05"/><circle cx="74.7" cy="156.9" r="1.05"/><circle cx="112.5" cy="155.6" r="1.05"/><circle cx="103.7" cy="160.1" r="1.05"/><circle cx="104.7" cy="161.8" r="1.05"/><circle cx="69.0" cy="154.9" r="1.05"/><circle cx="59.9" cy="157.7" r="1.05"/><circle cx="106.3" cy="156.7" r="1.05"/><circle cx="51.1" cy="162.7" r="1.05"/><circle cx="99.8" cy="161.5" r="1.05"/><circle cx="103.1" cy="156.9" r="1.05"/><circle cx="73.6" cy="160.3" r="1.05"/><circle cx="113.6" cy="156.5" r="1.05"/><circle cx="42.1" cy="158.8" r="1.05"/><circle cx="66.7" cy="157.0" r="1.05"/><circle cx="99.8" cy="154.1" r="1.05"/><circle cx="98.7" cy="160.9" r="1.05"/><circle cx="99.2" cy="160.7" r="1.05"/><circle cx="99.9" cy="156.6" r="1.05"/><circle cx="101.5" cy="155.7" r="1.05"/><circle cx="72.3" cy="156.1" r="1.05"/><circle cx="100.9" cy="159.8" r="1.05"/><circle cx="100.4" cy="163.1" r="1.05"/><circle cx="72.1" cy="157.0" r="1.05"/><circle cx="72.3" cy="157.6" r="1.05"/><circle cx="105.9" cy="154.1" r="1.05"/><circle cx="111.2" cy="158.0" r="1.05"/><circle cx="73.8" cy="158.5" r="1.05"/><circle cx="65.2" cy="159.4" r="1.05"/><circle cx="106.4" cy="158.2" r="1.05"/><circle cx="106.0" cy="162.6" r="1.05"/><circle cx="110.9" cy="160.1" r="1.05"/><circle cx="65.3" cy="159.9" r="1.05"/><circle cx="155.1" cy="162.7" r="1.05"/><circle cx="140.2" cy="156.5" r="1.05"/><circle cx="62.3" cy="159.1" r="1.05"/><circle cx="72.8" cy="161.8" r="1.05"/><circle cx="70.9" cy="161.7" r="1.05"/><circle cx="101.7" cy="155.5" r="1.05"/><circle cx="71.8" cy="159.5" r="1.05"/><circle cx="54.0" cy="159.4" r="1.05"/><circle cx="72.1" cy="156.8" r="1.05"/><circle cx="70.6" cy="161.7" r="1.05"/><circle cx="58.5" cy="160.6" r="1.05"/><circle cx="73.4" cy="158.7" r="1.05"/><circle cx="125.2" cy="156.0" r="1.05"/><circle cx="66.9" cy="158.9" r="1.05"/><circle cx="103.7" cy="154.5" r="1.05"/><circle cx="103.9" cy="154.2" r="1.05"/><circle cx="98.8" cy="157.5" r="1.05"/><circle cx="108.2" cy="161.8" r="1.05"/><circle cx="99.0" cy="155.3" r="1.05"/><circle cx="53.7" cy="161.8" r="1.05"/><circle cx="71.4" cy="158.7" r="1.05"/><circle cx="105.2" cy="163.1" r="1.05"/><circle cx="115.1" cy="160.3" r="1.05"/><circle cx="68.7" cy="154.2" r="1.05"/><circle cx="100.4" cy="161.8" r="1.05"/><circle cx="102.4" cy="156.8" r="1.05"/><circle cx="114.4" cy="157.0" r="1.05"/><circle cx="113.5" cy="161.3" r="1.05"/><circle cx="100.9" cy="162.5" r="1.05"/><circle cx="141.5" cy="157.3" r="1.05"/><circle cx="99.5" cy="158.5" r="1.05"/><circle cx="65.8" cy="159.7" r="1.05"/><circle cx="65.7" cy="155.9" r="1.05"/><circle cx="100.1" cy="154.4" r="1.05"/><circle cx="102.7" cy="154.0" r="1.05"/><circle cx="68.9" cy="155.4" r="1.05"/><circle cx="69.0" cy="163.7" r="1.05"/><circle cx="69.7" cy="155.4" r="1.05"/><circle cx="99.6" cy="155.8" r="1.05"/><circle cx="102.0" cy="162.0" r="1.05"/><circle cx="123.7" cy="161.5" r="1.05"/><circle cx="70.1" cy="154.1" r="1.05"/><circle cx="74.5" cy="161.9" r="1.05"/><circle cx="36.2" cy="162.8" r="1.05"/><circle cx="105.4" cy="154.9" r="1.05"/><circle cx="110.1" cy="161.3" r="1.05"/><circle cx="98.8" cy="153.9" r="1.05"/><circle cx="71.1" cy="155.0" r="1.05"/><circle cx="69.1" cy="160.7" r="1.05"/><circle cx="71.4" cy="158.6" r="1.05"/><circle cx="71.2" cy="163.7" r="1.05"/><circle cx="57.4" cy="157.7" r="1.05"/><circle cx="100.2" cy="154.5" r="1.05"/><circle cx="102.6" cy="154.2" r="1.05"/><circle cx="115.5" cy="158.9" r="1.05"/><circle cx="100.2" cy="162.4" r="1.05"/><circle cx="61.2" cy="154.2" r="1.05"/><circle cx="73.0" cy="154.9" r="1.05"/><circle cx="99.9" cy="163.4" r="1.05"/><circle cx="71.1" cy="163.7" r="1.05"/><circle cx="54.1" cy="162.6" r="1.05"/><circle cx="60.3" cy="156.6" r="1.05"/><circle cx="73.1" cy="159.5" r="1.05"/><circle cx="67.9" cy="160.8" r="1.05"/><circle cx="32.9" cy="163.1" r="1.05"/><circle cx="53.1" cy="159.3" r="1.05"/><circle cx="99.4" cy="153.9" r="1.05"/><circle cx="57.1" cy="161.3" r="1.05"/><circle cx="113.4" cy="157.5" r="1.05"/><circle cx="101.0" cy="155.3" r="1.05"/><circle cx="100.5" cy="161.6" r="1.05"/><circle cx="48.2" cy="160.6" r="1.05"/><circle cx="73.2" cy="155.8" r="1.05"/><circle cx="100.8" cy="155.8" r="1.05"/><circle cx="112.9" cy="156.7" r="1.05"/><circle cx="69.7" cy="154.9" r="1.05"/><circle cx="73.5" cy="155.2" r="1.05"/><circle cx="122.1" cy="158.5" r="1.05"/><circle cx="103.8" cy="163.1" r="1.05"/><circle cx="101.3" cy="159.9" r="1.05"/><circle cx="70.2" cy="158.6" r="1.05"/><circle cx="99.4" cy="154.9" r="1.05"/><circle cx="59.5" cy="160.5" r="1.05"/><circle cx="70.1" cy="161.5" r="1.05"/><circle cx="62.1" cy="157.0" r="1.05"/><circle cx="60.8" cy="157.6" r="1.05"/><circle cx="64.8" cy="163.2" r="1.05"/><circle cx="101.5" cy="157.9" r="1.05"/><circle cx="109.7" cy="158.2" r="1.05"/><circle cx="101.3" cy="159.1" r="1.05"/><circle cx="67.0" cy="154.1" r="1.05"/><circle cx="111.0" cy="154.8" r="1.05"/><circle cx="100.0" cy="153.9" r="1.05"/><circle cx="103.7" cy="163.1" r="1.05"/><circle cx="115.6" cy="159.1" r="1.05"/><circle cx="60.7" cy="161.9" r="1.05"/><circle cx="71.6" cy="158.5" r="1.05"/><circle cx="106.1" cy="162.1" r="1.05"/><circle cx="71.9" cy="158.7" r="1.05"/><circle cx="108.3" cy="155.2" r="1.05"/><circle cx="74.4" cy="158.3" r="1.05"/><circle cx="70.1" cy="156.5" r="1.05"/><circle cx="50.7" cy="160.0" r="1.05"/><circle cx="99.1" cy="163.1" r="1.05"/><circle cx="99.0" cy="157.4" r="1.05"/><circle cx="70.6" cy="154.2" r="1.05"/><circle cx="102.0" cy="159.9" r="1.05"/><circle cx="73.2" cy="154.3" r="1.05"/><circle cx="110.0" cy="159.5" r="1.05"/><circle cx="63.3" cy="161.3" r="1.05"/><circle cx="124.8" cy="155.7" r="1.05"/><circle cx="70.7" cy="155.2" r="1.05"/><circle cx="65.4" cy="156.6" r="1.05"/><circle cx="67.6" cy="162.9" r="1.05"/><circle cx="35.3" cy="157.6" r="1.05"/><circle cx="100.8" cy="160.8" r="1.05"/><circle cx="144.6" cy="158.2" r="1.05"/><circle cx="103.2" cy="155.4" r="1.05"/><circle cx="101.0" cy="154.6" r="1.05"/><circle cx="71.1" cy="158.8" r="1.05"/><circle cx="102.6" cy="162.7" r="1.05"/><circle cx="108.7" cy="162.6" r="1.05"/><circle cx="103.1" cy="159.6" r="1.05"/><circle cx="114.8" cy="155.7" r="1.05"/><circle cx="103.1" cy="160.0" r="1.05"/><circle cx="73.9" cy="158.7" r="1.05"/><circle cx="64.8" cy="161.6" r="1.05"/><circle cx="119.3" cy="159.6" r="1.05"/><circle cx="101.9" cy="162.4" r="1.05"/><circle cx="103.8" cy="157.1" r="1.05"/><circle cx="103.8" cy="160.1" r="1.05"/><circle cx="67.7" cy="154.9" r="1.05"/><circle cx="135.2" cy="158.4" r="1.05"/><circle cx="51.6" cy="162.6" r="1.05"/><circle cx="104.0" cy="157.0" r="1.05"/><circle cx="105.3" cy="155.6" r="1.05"/><circle cx="105.1" cy="154.7" r="1.05"/><circle cx="72.8" cy="156.7" r="1.05"/><circle cx="103.5" cy="163.5" r="1.05"/><circle cx="71.8" cy="163.0" r="1.05"/><circle cx="64.2" cy="160.0" r="1.05"/><circle cx="100.9" cy="157.7" r="1.05"/><circle cx="70.9" cy="162.3" r="1.05"/><circle cx="101.7" cy="157.1" r="1.05"/><circle cx="106.0" cy="157.2" r="1.05"/><circle cx="99.6" cy="156.1" r="1.05"/><circle cx="113.9" cy="162.3" r="1.05"/><circle cx="62.8" cy="160.7" r="1.05"/><circle cx="102.0" cy="159.3" r="1.05"/><circle cx="65.4" cy="161.6" r="1.05"/><circle cx="101.6" cy="154.6" r="1.05"/><circle cx="102.4" cy="155.6" r="1.05"/><circle cx="99.0" cy="154.1" r="1.05"/><circle cx="70.0" cy="155.8" r="1.05"/><circle cx="74.4" cy="154.1" r="1.05"/><circle cx="63.1" cy="158.1" r="1.05"/><circle cx="54.8" cy="156.9" r="1.05"/><circle cx="63.7" cy="155.2" r="1.05"/><circle cx="73.2" cy="158.0" r="1.05"/><circle cx="69.2" cy="158.8" r="1.05"/><circle cx="64.7" cy="155.5" r="1.05"/><circle cx="65.8" cy="161.9" r="1.05"/><circle cx="67.4" cy="161.3" r="1.05"/><circle cx="99.7" cy="159.3" r="1.05"/><circle cx="112.5" cy="163.2" r="1.05"/><circle cx="100.2" cy="154.6" r="1.05"/><circle cx="118.6" cy="156.1" r="1.05"/><circle cx="69.6" cy="157.9" r="1.05"/><circle cx="62.4" cy="155.1" r="1.05"/><circle cx="70.3" cy="155.1" r="1.05"/><circle cx="73.7" cy="156.3" r="1.05"/><circle cx="64.7" cy="163.1" r="1.05"/><circle cx="113.8" cy="159.7" r="1.05"/><circle cx="58.0" cy="159.1" r="1.05"/><circle cx="72.5" cy="157.0" r="1.05"/><circle cx="98.7" cy="160.7" r="1.05"/><circle cx="100.2" cy="155.2" r="1.05"/><circle cx="71.5" cy="159.2" r="1.05"/><circle cx="47.8" cy="159.3" r="1.05"/><circle cx="63.9" cy="156.3" r="1.05"/><circle cx="108.1" cy="157.0" r="1.05"/><circle cx="71.0" cy="162.5" r="1.05"/><circle cx="103.0" cy="154.3" r="1.05"/><circle cx="57.3" cy="159.8" r="1.05"/><circle cx="69.1" cy="157.5" r="1.05"/><circle cx="102.5" cy="161.5" r="1.05"/><circle cx="64.5" cy="157.0" r="1.05"/><circle cx="104.8" cy="160.5" r="1.05"/><circle cx="107.8" cy="156.5" r="1.05"/><circle cx="54.9" cy="160.1" r="1.05"/><circle cx="99.4" cy="163.8" r="1.05"/><circle cx="73.8" cy="162.9" r="1.05"/><circle cx="105.9" cy="163.1" r="1.05"/><circle cx="103.8" cy="157.0" r="1.05"/><circle cx="102.7" cy="155.5" r="1.05"/><circle cx="103.4" cy="160.2" r="1.05"/><circle cx="54.4" cy="159.3" r="1.05"/><circle cx="74.6" cy="157.2" r="1.05"/><circle cx="58.1" cy="158.5" r="1.05"/><circle cx="73.9" cy="157.1" r="1.05"/><circle cx="102.3" cy="155.7" r="1.05"/><circle cx="108.4" cy="155.9" r="1.05"/><circle cx="74.2" cy="162.2" r="1.05"/><circle cx="107.5" cy="163.5" r="1.05"/><circle cx="73.4" cy="161.2" r="1.05"/><circle cx="122.3" cy="158.8" r="1.05"/><circle cx="45.6" cy="162.1" r="1.05"/><circle cx="108.0" cy="161.4" r="1.05"/><circle cx="100.4" cy="157.9" r="1.05"/><circle cx="73.4" cy="154.4" r="1.05"/><circle cx="69.5" cy="157.4" r="1.05"/><circle cx="73.6" cy="160.8" r="1.05"/><circle cx="56.0" cy="159.0" r="1.05"/><circle cx="100.1" cy="155.5" r="1.05"/><circle cx="135.5" cy="160.8" r="1.05"/><circle cx="58.2" cy="159.8" r="1.05"/><circle cx="99.6" cy="154.2" r="1.05"/><circle cx="36.3" cy="163.1" r="1.05"/><circle cx="67.5" cy="160.1" r="1.05"/><circle cx="123.5" cy="159.2" r="1.05"/><circle cx="107.9" cy="162.4" r="1.05"/><circle cx="111.1" cy="156.6" r="1.05"/><circle cx="74.1" cy="155.5" r="1.05"/><circle cx="99.3" cy="163.3" r="1.05"/><circle cx="59.5" cy="159.7" r="1.05"/><circle cx="117.8" cy="158.6" r="1.05"/><circle cx="108.0" cy="160.1" r="1.05"/><circle cx="47.2" cy="161.1" r="1.05"/><circle cx="105.3" cy="156.4" r="1.05"/><circle cx="118.0" cy="156.7" r="1.05"/><circle cx="54.2" cy="156.5" r="1.05"/><circle cx="100.7" cy="153.9" r="1.05"/><circle cx="103.1" cy="160.7" r="1.05"/><circle cx="108.4" cy="160.0" r="1.05"/><circle cx="140.1" cy="157.9" r="1.05"/><circle cx="106.9" cy="160.7" r="1.05"/><circle cx="109.5" cy="155.0" r="1.05"/><circle cx="42.9" cy="157.8" r="1.05"/><circle cx="115.3" cy="159.7" r="1.05"/><circle cx="118.6" cy="155.7" r="1.05"/><circle cx="99.3" cy="161.4" r="1.05"/><circle cx="73.0" cy="160.0" r="1.05"/><circle cx="139.9" cy="162.5" r="1.05"/><circle cx="105.8" cy="155.8" r="1.05"/><circle cx="102.6" cy="156.8" r="1.05"/><circle cx="102.3" cy="154.5" r="1.05"/><circle cx="98.8" cy="155.2" r="1.05"/><circle cx="38.7" cy="162.7" r="1.05"/><circle cx="105.1" cy="161.0" r="1.05"/><circle cx="54.2" cy="159.9" r="1.05"/><circle cx="50.1" cy="156.7" r="1.05"/><circle cx="66.5" cy="159.8" r="1.05"/><circle cx="72.1" cy="162.6" r="1.05"/><circle cx="68.5" cy="161.2" r="1.05"/><circle cx="99.6" cy="161.4" r="1.05"/><circle cx="106.3" cy="161.9" r="1.05"/><circle cx="98.9" cy="160.7" r="1.05"/><circle cx="68.7" cy="159.1" r="1.05"/><circle cx="104.9" cy="154.8" r="1.05"/><circle cx="99.1" cy="162.7" r="1.05"/><circle cx="101.8" cy="159.1" r="1.05"/><circle cx="103.7" cy="155.1" r="1.05"/><circle cx="71.2" cy="163.1" r="1.05"/><circle cx="65.8" cy="161.6" r="1.05"/><circle cx="100.3" cy="156.3" r="1.05"/><circle cx="128.3" cy="162.5" r="1.05"/><circle cx="120.4" cy="159.1" r="1.05"/><circle cx="45.4" cy="156.8" r="1.05"/><circle cx="103.4" cy="160.5" r="1.05"/><circle cx="33.2" cy="162.5" r="1.05"/><circle cx="63.3" cy="155.0" r="1.05"/><circle cx="107.1" cy="155.2" r="1.05"/><circle cx="66.4" cy="156.1" r="1.05"/><circle cx="60.9" cy="159.5" r="1.05"/><circle cx="69.7" cy="156.4" r="1.05"/><circle cx="109.1" cy="156.6" r="1.05"/><circle cx="70.5" cy="159.8" r="1.05"/><circle cx="70.2" cy="154.9" r="1.05"/><circle cx="100.2" cy="162.4" r="1.05"/><circle cx="63.1" cy="156.8" r="1.05"/><circle cx="64.9" cy="157.7" r="1.05"/><circle cx="56.0" cy="160.5" r="1.05"/><circle cx="72.9" cy="157.3" r="1.05"/><circle cx="53.4" cy="156.4" r="1.05"/><circle cx="57.4" cy="157.9" r="1.05"/><circle cx="147.5" cy="161.8" r="1.05"/><circle cx="68.7" cy="161.1" r="1.05"/><circle cx="116.1" cy="159.5" r="1.05"/><circle cx="71.2" cy="156.6" r="1.05"/><circle cx="74.2" cy="161.2" r="1.05"/><circle cx="159.3" cy="158.7" r="1.05"/><circle cx="133.3" cy="159.1" r="1.05"/><circle cx="125.6" cy="157.8" r="1.05"/><circle cx="142.5" cy="158.6" r="1.05"/><circle cx="158.6" cy="158.4" r="1.05"/><circle cx="190.8" cy="158.6" r="1.05"/><circle cx="156.4" cy="159.3" r="1.05"/><circle cx="121.6" cy="158.4" r="1.05"/><circle cx="143.6" cy="157.8" r="1.05"/><circle cx="155.9" cy="159.6" r="1.05"/><circle cx="123.2" cy="160.4" r="1.05"/><circle cx="163.0" cy="158.4" r="1.05"/><circle cx="140.1" cy="159.2" r="1.05"/><circle cx="151.4" cy="157.3" r="1.05"/><circle cx="188.4" cy="156.6" r="1.05"/><circle cx="176.7" cy="159.0" r="1.05"/><circle cx="146.6" cy="157.5" r="1.05"/><circle cx="133.0" cy="158.1" r="1.05"/><circle cx="125.4" cy="158.0" r="1.05"/><circle cx="137.5" cy="159.4" r="1.05"/><circle cx="194.3" cy="158.6" r="1.05"/><circle cx="189.0" cy="158.2" r="1.05"/><circle cx="139.2" cy="159.7" r="1.05"/><circle cx="121.3" cy="159.4" r="1.05"/><circle cx="152.4" cy="158.9" r="1.05"/><circle cx="117.3" cy="157.9" r="1.05"/><circle cx="184.4" cy="157.3" r="1.05"/><circle cx="127.7" cy="159.9" r="1.05"/><circle cx="155.7" cy="159.2" r="1.05"/><circle cx="139.3" cy="159.4" r="1.05"/><circle cx="178.6" cy="157.3" r="1.05"/><circle cx="133.4" cy="157.4" r="1.05"/><circle cx="165.3" cy="157.2" r="1.05"/><circle cx="170.7" cy="158.1" r="1.05"/><circle cx="154.5" cy="158.5" r="1.05"/><circle cx="122.2" cy="157.7" r="1.05"/><circle cx="144.4" cy="159.8" r="1.05"/><circle cx="125.1" cy="159.3" r="1.05"/><circle cx="174.2" cy="157.9" r="1.05"/><circle cx="143.3" cy="157.3" r="1.05"/><circle cx="122.2" cy="159.7" r="1.05"/><circle cx="187.8" cy="157.7" r="1.05"/><circle cx="154.1" cy="159.5" r="1.05"/><circle cx="164.7" cy="157.4" r="1.05"/><circle cx="184.1" cy="158.8" r="1.05"/><circle cx="162.6" cy="157.2" r="1.05"/><circle cx="188.4" cy="158.8" r="1.05"/><circle cx="128.3" cy="157.6" r="1.05"/><circle cx="147.4" cy="158.7" r="1.05"/><circle cx="175.6" cy="158.7" r="1.05"/><circle cx="128.5" cy="158.7" r="1.05"/><circle cx="166.3" cy="156.8" r="1.05"/><circle cx="124.9" cy="158.5" r="1.05"/><circle cx="126.7" cy="158.6" r="1.05"/><circle cx="168.4" cy="158.2" r="1.05"/><circle cx="148.4" cy="158.7" r="1.05"/><circle cx="182.8" cy="156.7" r="1.05"/><circle cx="153.0" cy="157.6" r="1.05"/><circle cx="151.7" cy="158.5" r="1.05"/><circle cx="166.8" cy="157.7" r="1.05"/><circle cx="153.5" cy="158.4" r="1.05"/><circle cx="186.0" cy="158.1" r="1.05"/><circle cx="167.1" cy="159.1" r="1.05"/><circle cx="195.3" cy="158.8" r="1.05"/><circle cx="179.4" cy="158.8" r="1.05"/><circle cx="169.7" cy="159.4" r="1.05"/><circle cx="143.0" cy="159.9" r="1.05"/><circle cx="150.6" cy="158.0" r="1.05"/><circle cx="118.1" cy="158.9" r="1.05"/><circle cx="149.0" cy="157.3" r="1.05"/></g>
<g fill="#4169e1" fill-opacity="0.8"><circle cx="82.0" cy="150.1" r="1.05"/><circle cx="76.7" cy="147.4" r="1.05"/><circle cx="78.9" cy="147.4" r="1.05"/><circle cx="77.6" cy="137.2" r="1.05"/><circle cx="82.3" cy="154.1" r="1.05"/><circle cx="76.1" cy="141.0" r="1.05"/><circle cx="76.7" cy="154.2" r="1.05"/><circle cx="79.4" cy="144.6" r="1.05"/><circle cx="81.2" cy="147.8" r="1.05"/><circle cx="75.5" cy="153.2" r="1.05"/><circle cx="82.9" cy="152.3" r="1.05"/><circle cx="75.2" cy="140.5" r="1.05"/><circle cx="81.3" cy="151.5" r="1.05"/><circle cx="82.9" cy="153.4" r="1.05"/><circle cx="79.4" cy="147.8" r="1.05"/><circle cx="81.1" cy="152.6" r="1.05"/><circle cx="81.3" cy="151.2" r="1.05"/><circle cx="80.7" cy="154.0" r="1.05"/><circle cx="76.1" cy="137.2" r="1.05"/><circle cx="77.7" cy="150.3" r="1.05"/><circle cx="74.8" cy="120.7" r="1.05"/><circle cx="82.1" cy="152.7" r="1.05"/><circle cx="77.0" cy="136.6" r="1.05"/><circle cx="75.2" cy="139.1" r="1.05"/><circle cx="76.1" cy="134.0" r="1.05"/><circle cx="80.6" cy="149.1" r="1.05"/><circle cx="75.7" cy="126.4" r="1.05"/><circle cx="78.9" cy="145.1" r="1.05"/><circle cx="82.8" cy="153.4" r="1.05"/><circle cx="76.4" cy="142.4" r="1.05"/><circle cx="81.6" cy="151.2" r="1.05"/><circle cx="77.2" cy="138.1" r="1.05"/><circle cx="80.0" cy="149.4" r="1.05"/><circle cx="78.8" cy="142.1" r="1.05"/><circle cx="78.7" cy="147.9" r="1.05"/><circle cx="79.0" cy="153.8" r="1.05"/><circle cx="82.7" cy="151.7" r="1.05"/><circle cx="74.8" cy="131.4" r="1.05"/><circle cx="79.8" cy="152.3" r="1.05"/><circle cx="78.9" cy="139.1" r="1.05"/><circle cx="76.6" cy="139.6" r="1.05"/><circle cx="75.9" cy="146.9" r="1.05"/><circle cx="78.8" cy="139.2" r="1.05"/><circle cx="78.2" cy="145.8" r="1.05"/><circle cx="80.8" cy="149.9" r="1.05"/><circle cx="75.1" cy="154.0" r="1.05"/><circle cx="76.5" cy="131.4" r="1.05"/><circle cx="75.7" cy="129.7" r="1.05"/><circle cx="76.3" cy="139.1" r="1.05"/><circle cx="78.4" cy="146.7" r="1.05"/><circle cx="82.6" cy="151.0" r="1.05"/><circle cx="78.3" cy="150.6" r="1.05"/><circle cx="78.9" cy="146.7" r="1.05"/><circle cx="80.1" cy="150.6" r="1.05"/><circle cx="78.6" cy="143.8" r="1.05"/><circle cx="78.0" cy="145.1" r="1.05"/><circle cx="82.9" cy="153.4" r="1.05"/><circle cx="81.6" cy="150.9" r="1.05"/><circle cx="75.9" cy="128.9" r="1.05"/><circle cx="76.4" cy="131.0" r="1.05"/><circle cx="81.0" cy="148.0" r="1.05"/><circle cx="77.4" cy="152.3" r="1.05"/><circle cx="83.0" cy="154.2" r="1.05"/><circle cx="76.8" cy="147.6" r="1.05"/><circle cx="82.2" cy="151.4" r="1.05"/><circle cx="80.2" cy="153.5" r="1.05"/><circle cx="81.8" cy="151.4" r="1.05"/><circle cx="81.7" cy="152.7" r="1.05"/><circle cx="77.1" cy="143.2" r="1.05"/><circle cx="80.4" cy="149.8" r="1.05"/><circle cx="82.9" cy="152.9" r="1.05"/><circle cx="79.6" cy="151.9" r="1.05"/><circle cx="82.2" cy="150.2" r="1.05"/><circle cx="78.8" cy="150.9" r="1.05"/><circle cx="78.0" cy="138.2" r="1.05"/><circle cx="82.9" cy="154.2" r="1.05"/><circle cx="81.9" cy="150.6" r="1.05"/><circle cx="81.8" cy="150.5" r="1.05"/><circle cx="77.4" cy="141.8" r="1.05"/><circle cx="81.2" cy="147.8" r="1.05"/><circle cx="76.4" cy="139.5" r="1.05"/><circle cx="81.2" cy="149.9" r="1.05"/><circle cx="79.8" cy="147.6" r="1.05"/><circle cx="80.4" cy="148.4" r="1.05"/><circle cx="82.6" cy="153.1" r="1.05"/><circle cx="75.0" cy="121.3" r="1.05"/><circle cx="80.5" cy="146.6" r="1.05"/><circle cx="80.5" cy="145.8" r="1.05"/><circle cx="76.9" cy="143.5" r="1.05"/><circle cx="81.0" cy="154.2" r="1.05"/><circle cx="75.7" cy="153.0" r="1.05"/><circle cx="76.2" cy="125.7" r="1.05"/><circle cx="78.3" cy="151.1" r="1.05"/><circle cx="75.8" cy="122.9" r="1.05"/><circle cx="77.2" cy="142.0" r="1.05"/><circle cx="79.9" cy="150.4" r="1.05"/><circle cx="81.4" cy="150.0" r="1.05"/><circle cx="79.5" cy="151.7" r="1.05"/><circle cx="82.2" cy="151.3" r="1.05"/><circle cx="80.6" cy="150.0" r="1.05"/><circle cx="80.4" cy="146.1" r="1.05"/><circle cx="75.5" cy="153.6" r="1.05"/><circle cx="81.4" cy="152.2" r="1.05"/><circle cx="74.8" cy="123.9" r="1.05"/><circle cx="80.3" cy="152.1" r="1.05"/><circle cx="77.4" cy="135.3" r="1.05"/><circle cx="75.3" cy="142.0" r="1.05"/><circle cx="75.7" cy="131.6" r="1.05"/><circle cx="79.0" cy="139.7" r="1.05"/><circle cx="81.1" cy="149.2" r="1.05"/><circle cx="82.4" cy="153.5" r="1.05"/><circle cx="75.4" cy="146.9" r="1.05"/><circle cx="76.7" cy="138.3" r="1.05"/><circle cx="76.0" cy="142.9" r="1.05"/><circle cx="80.2" cy="151.4" r="1.05"/><circle cx="75.8" cy="134.8" r="1.05"/><circle cx="75.1" cy="121.5" r="1.05"/><circle cx="82.0" cy="151.5" r="1.05"/><circle cx="82.2" cy="154.0" r="1.05"/><circle cx="82.5" cy="150.8" r="1.05"/><circle cx="96.9" cy="131.0" r="1.05"/><circle cx="93.2" cy="148.2" r="1.05"/><circle cx="96.9" cy="143.7" r="1.05"/><circle cx="95.1" cy="150.2" r="1.05"/><circle cx="91.0" cy="153.1" r="1.05"/><circle cx="97.8" cy="135.4" r="1.05"/><circle cx="98.1" cy="138.1" r="1.05"/><circle cx="92.6" cy="147.9" r="1.05"/><circle cx="97.3" cy="153.8" r="1.05"/><circle cx="95.9" cy="152.2" r="1.05"/><circle cx="91.3" cy="150.2" r="1.05"/><circle cx="90.6" cy="153.4" r="1.05"/><circle cx="98.6" cy="137.9" r="1.05"/><circle cx="91.3" cy="153.5" r="1.05"/><circle cx="92.3" cy="148.9" r="1.05"/><circle cx="91.2" cy="150.3" r="1.05"/><circle cx="93.5" cy="143.5" r="1.05"/><circle cx="97.9" cy="144.1" r="1.05"/><circle cx="92.4" cy="150.7" r="1.05"/><circle cx="91.1" cy="151.4" r="1.05"/><circle cx="90.6" cy="154.2" r="1.05"/><circle cx="98.6" cy="142.9" r="1.05"/><circle cx="95.3" cy="145.6" r="1.05"/><circle cx="92.9" cy="153.7" r="1.05"/><circle cx="98.0" cy="120.7" r="1.05"/><circle cx="98.4" cy="150.0" r="1.05"/><circle cx="92.1" cy="150.2" r="1.05"/><circle cx="98.5" cy="133.4" r="1.05"/><circle cx="96.1" cy="138.9" r="1.05"/><circle cx="92.5" cy="150.1" r="1.05"/><circle cx="92.9" cy="152.0" r="1.05"/><circle cx="91.0" cy="153.1" r="1.05"/><circle cx="98.6" cy="137.0" r="1.05"/><circle cx="95.8" cy="140.3" r="1.05"/><circle cx="98.2" cy="140.1" r="1.05"/><circle cx="92.9" cy="151.3" r="1.05"/><circle cx="93.0" cy="146.5" r="1.05"/><circle cx="97.8" cy="144.1" r="1.05"/><circle cx="93.1" cy="149.0" r="1.05"/><circle cx="95.2" cy="143.2" r="1.05"/><circle cx="92.4" cy="154.1" r="1.05"/><circle cx="92.3" cy="153.7" r="1.05"/><circle cx="94.9" cy="153.0" r="1.05"/><circle cx="90.9" cy="151.7" r="1.05"/><circle cx="92.7" cy="147.6" r="1.05"/><circle cx="94.4" cy="141.3" r="1.05"/><circle cx="91.6" cy="151.6" r="1.05"/><circle cx="97.0" cy="152.0" r="1.05"/><circle cx="98.3" cy="147.9" r="1.05"/><circle cx="96.8" cy="127.2" r="1.05"/><circle cx="97.2" cy="144.7" r="1.05"/><circle cx="91.2" cy="152.0" r="1.05"/><circle cx="98.0" cy="144.0" r="1.05"/><circle cx="97.8" cy="149.5" r="1.05"/><circle cx="97.9" cy="153.1" r="1.05"/><circle cx="93.0" cy="146.0" r="1.05"/><circle cx="97.1" cy="128.1" r="1.05"/><circle cx="97.4" cy="131.3" r="1.05"/><circle cx="96.1" cy="150.1" r="1.05"/><circle cx="93.9" cy="152.2" r="1.05"/><circle cx="96.3" cy="137.9" r="1.05"/><circle cx="92.4" cy="153.7" r="1.05"/><circle cx="98.4" cy="124.0" r="1.05"/><circle cx="94.9" cy="144.9" r="1.05"/><circle cx="97.5" cy="140.1" r="1.05"/><circle cx="93.6" cy="150.3" r="1.05"/><circle cx="92.5" cy="154.0" r="1.05"/><circle cx="95.7" cy="145.3" r="1.05"/><circle cx="95.1" cy="153.1" r="1.05"/><circle cx="93.3" cy="152.8" r="1.05"/><circle cx="91.4" cy="153.0" r="1.05"/><circle cx="97.3" cy="142.3" r="1.05"/><circle cx="93.7" cy="147.0" r="1.05"/><circle cx="92.3" cy="154.2" r="1.05"/><circle cx="94.7" cy="146.0" r="1.05"/><circle cx="95.8" cy="144.8" r="1.05"/><circle cx="96.1" cy="137.3" r="1.05"/><circle cx="92.3" cy="150.7" r="1.05"/><circle cx="94.3" cy="151.0" r="1.05"/><circle cx="93.8" cy="147.4" r="1.05"/><circle cx="97.9" cy="122.8" r="1.05"/><circle cx="92.6" cy="149.1" r="1.05"/><circle cx="90.7" cy="154.0" r="1.05"/><circle cx="94.6" cy="140.4" r="1.05"/><circle cx="91.6" cy="150.2" r="1.05"/><circle cx="97.7" cy="144.0" r="1.05"/><circle cx="96.1" cy="134.3" r="1.05"/><circle cx="93.4" cy="146.7" r="1.05"/><circle cx="96.5" cy="139.1" r="1.05"/><circle cx="97.5" cy="126.0" r="1.05"/><circle cx="98.4" cy="133.0" r="1.05"/><circle cx="91.8" cy="152.8" r="1.05"/><circle cx="92.1" cy="150.5" r="1.05"/><circle cx="96.7" cy="152.8" r="1.05"/><circle cx="96.0" cy="137.8" r="1.05"/><circle cx="93.2" cy="149.0" r="1.05"/><circle cx="91.7" cy="150.3" r="1.05"/><circle cx="90.6" cy="150.7" r="1.05"/><circle cx="97.1" cy="136.0" r="1.05"/><circle cx="92.5" cy="147.1" r="1.05"/><circle cx="98.4" cy="149.1" r="1.05"/><circle cx="96.8" cy="131.2" r="1.05"/><circle cx="95.8" cy="138.9" r="1.05"/><circle cx="94.0" cy="142.0" r="1.05"/><circle cx="98.5" cy="139.8" r="1.05"/><circle cx="97.0" cy="141.8" r="1.05"/><circle cx="91.7" cy="152.5" r="1.05"/><circle cx="91.4" cy="149.9" r="1.05"/><circle cx="98.4" cy="149.8" r="1.05"/><circle cx="95.3" cy="146.3" r="1.05"/><circle cx="91.3" cy="152.9" r="1.05"/><circle cx="92.4" cy="148.8" r="1.05"/><circle cx="90.3" cy="153.6" r="1.05"/><circle cx="94.0" cy="153.9" r="1.05"/><circle cx="95.6" cy="141.8" r="1.05"/><circle cx="97.3" cy="147.9" r="1.05"/><circle cx="92.7" cy="149.8" r="1.05"/><circle cx="92.6" cy="149.6" r="1.05"/><circle cx="92.4" cy="149.2" r="1.05"/><circle cx="96.9" cy="131.4" r="1.05"/></g>
<g fill="#ff0000" fill-opacity="0.55"><circle cx="68.7" cy="147.8" r="1.15"/><circle cx="49.8" cy="142.7" r="1.15"/><circle cx="70.2" cy="150.7" r="1.15"/><circle cx="64.7" cy="150.7" r="1.15"/><circle cx="72.8" cy="101.8" r="1.15"/><circle cx="72.0" cy="84.5" r="1.15"/><circle cx="66.6" cy="84.3" r="1.15"/><circle cx="67.1" cy="154.2" r="1.15"/><circle cx="68.2" cy="143.1" r="1.15"/><circle cx="51.3" cy="87.7" r="1.15"/><circle cx="57.1" cy="145.7" r="1.15"/><circle cx="66.1" cy="85.7" r="1.15"/><circle cx="54.2" cy="151.0" r="1.15"/><circle cx="65.9" cy="120.7" r="1.15"/><circle cx="69.2" cy="73.9" r="1.15"/><circle cx="58.1" cy="75.5" r="1.15"/><circle cx="73.6" cy="140.6" r="1.15"/><circle cx="68.1" cy="140.7" r="1.15"/><circle cx="69.0" cy="153.1" r="1.15"/><circle cx="66.7" cy="148.1" r="1.15"/><circle cx="74.5" cy="149.6" r="1.15"/><circle cx="67.0" cy="139.9" r="1.15"/><circle cx="58.5" cy="131.1" r="1.15"/><circle cx="57.7" cy="75.5" r="1.15"/><circle cx="72.2" cy="129.8" r="1.15"/><circle cx="65.3" cy="102.2" r="1.15"/><circle cx="54.0" cy="139.4" r="1.15"/><circle cx="72.0" cy="152.5" r="1.15"/><circle cx="39.8" cy="117.0" r="1.15"/><circle cx="56.9" cy="130.6" r="1.15"/><circle cx="57.2" cy="90.6" r="1.15"/><circle cx="61.0" cy="75.4" r="1.15"/><circle cx="69.4" cy="154.2" r="1.15"/><circle cx="53.2" cy="150.0" r="1.15"/><circle cx="63.0" cy="75.7" r="1.15"/><circle cx="69.8" cy="154.1" r="1.15"/><circle cx="72.8" cy="131.2" r="1.15"/><circle cx="74.6" cy="91.1" r="1.15"/><circle cx="51.3" cy="136.9" r="1.15"/><circle cx="45.3" cy="152.3" r="1.15"/><circle cx="72.8" cy="149.6" r="1.15"/><circle cx="74.3" cy="140.7" r="1.15"/><circle cx="70.1" cy="138.0" r="1.15"/><circle cx="60.0" cy="71.8" r="1.15"/><circle cx="39.9" cy="123.0" r="1.15"/><circle cx="71.4" cy="138.4" r="1.15"/><circle cx="66.0" cy="95.1" r="1.15"/><circle cx="41.7" cy="130.4" r="1.15"/><circle cx="71.0" cy="154.1" r="1.15"/><circle cx="69.1" cy="145.0" r="1.15"/><circle cx="74.2" cy="147.6" r="1.15"/><circle cx="59.2" cy="124.4" r="1.15"/><circle cx="45.0" cy="133.6" r="1.15"/><circle cx="72.0" cy="122.0" r="1.15"/><circle cx="56.2" cy="149.2" r="1.15"/><circle cx="67.3" cy="132.0" r="1.15"/><circle cx="50.6" cy="151.9" r="1.15"/><circle cx="73.6" cy="143.5" r="1.15"/><circle cx="73.1" cy="119.7" r="1.15"/><circle cx="71.3" cy="104.1" r="1.15"/><circle cx="62.8" cy="143.7" r="1.15"/><circle cx="72.5" cy="139.7" r="1.15"/><circle cx="72.9" cy="152.3" r="1.15"/><circle cx="73.8" cy="147.7" r="1.15"/><circle cx="70.4" cy="84.1" r="1.15"/><circle cx="66.9" cy="151.5" r="1.15"/><circle cx="61.8" cy="129.1" r="1.15"/><circle cx="68.7" cy="144.8" r="1.15"/><circle cx="72.7" cy="83.2" r="1.15"/><circle cx="72.1" cy="93.6" r="1.15"/><circle cx="68.5" cy="151.6" r="1.15"/><circle cx="73.0" cy="109.2" r="1.15"/><circle cx="70.0" cy="125.4" r="1.15"/><circle cx="73.0" cy="121.5" r="1.15"/><circle cx="55.2" cy="134.5" r="1.15"/><circle cx="72.7" cy="145.3" r="1.15"/><circle cx="69.7" cy="151.2" r="1.15"/><circle cx="68.3" cy="150.9" r="1.15"/><circle cx="54.1" cy="142.7" r="1.15"/><circle cx="68.8" cy="131.8" r="1.15"/><circle cx="66.0" cy="123.5" r="1.15"/><circle cx="73.5" cy="103.9" r="1.15"/><circle cx="57.9" cy="139.3" r="1.15"/><circle cx="57.0" cy="135.2" r="1.15"/><circle cx="50.0" cy="136.9" r="1.15"/><circle cx="60.3" cy="132.9" r="1.15"/><circle cx="58.5" cy="149.9" r="1.15"/><circle cx="71.1" cy="125.6" r="1.15"/><circle cx="68.5" cy="152.2" r="1.15"/><circle cx="41.1" cy="99.9" r="1.15"/><circle cx="45.3" cy="129.1" r="1.15"/><circle cx="51.6" cy="102.5" r="1.15"/><circle cx="57.9" cy="135.1" r="1.15"/><circle cx="68.4" cy="92.2" r="1.15"/><circle cx="68.5" cy="150.0" r="1.15"/><circle cx="72.2" cy="144.6" r="1.15"/><circle cx="41.2" cy="107.0" r="1.15"/><circle cx="68.2" cy="124.2" r="1.15"/><circle cx="65.5" cy="144.2" r="1.15"/><circle cx="60.0" cy="125.6" r="1.15"/><circle cx="56.8" cy="98.7" r="1.15"/><circle cx="67.1" cy="80.1" r="1.15"/><circle cx="73.5" cy="82.1" r="1.15"/><circle cx="69.0" cy="139.9" r="1.15"/><circle cx="61.6" cy="87.1" r="1.15"/><circle cx="45.0" cy="119.7" r="1.15"/><circle cx="68.1" cy="144.1" r="1.15"/><circle cx="67.2" cy="137.1" r="1.15"/><circle cx="74.6" cy="80.3" r="1.15"/><circle cx="56.2" cy="146.8" r="1.15"/><circle cx="71.7" cy="77.6" r="1.15"/><circle cx="69.4" cy="150.6" r="1.15"/><circle cx="61.4" cy="144.1" r="1.15"/><circle cx="61.7" cy="76.3" r="1.15"/><circle cx="68.4" cy="139.9" r="1.15"/><circle cx="74.0" cy="122.6" r="1.15"/><circle cx="44.4" cy="135.2" r="1.15"/><circle cx="55.7" cy="146.6" r="1.15"/><circle cx="68.2" cy="110.3" r="1.15"/><circle cx="70.6" cy="78.2" r="1.15"/><circle cx="38.4" cy="130.1" r="1.15"/><circle cx="60.2" cy="137.4" r="1.15"/><circle cx="69.4" cy="85.4" r="1.15"/><circle cx="65.3" cy="145.1" r="1.15"/><circle cx="51.1" cy="103.9" r="1.15"/><circle cx="67.7" cy="139.4" r="1.15"/><circle cx="55.8" cy="138.3" r="1.15"/><circle cx="60.7" cy="146.1" r="1.15"/><circle cx="63.5" cy="151.3" r="1.15"/><circle cx="47.9" cy="117.6" r="1.15"/><circle cx="44.4" cy="153.4" r="1.15"/><circle cx="40.6" cy="150.4" r="1.15"/><circle cx="74.4" cy="117.2" r="1.15"/><circle cx="73.0" cy="135.3" r="1.15"/><circle cx="53.7" cy="140.3" r="1.15"/><circle cx="69.9" cy="66.3" r="1.15"/><circle cx="73.9" cy="80.7" r="1.15"/><circle cx="71.2" cy="93.3" r="1.15"/><circle cx="62.8" cy="128.7" r="1.15"/><circle cx="54.3" cy="143.1" r="1.15"/><circle cx="31.7" cy="133.6" r="1.15"/><circle cx="52.5" cy="108.4" r="1.15"/><circle cx="65.7" cy="145.5" r="1.15"/><circle cx="57.2" cy="138.7" r="1.15"/><circle cx="69.2" cy="148.8" r="1.15"/><circle cx="65.3" cy="131.3" r="1.15"/><circle cx="64.0" cy="145.4" r="1.15"/><circle cx="67.7" cy="65.0" r="1.15"/><circle cx="63.9" cy="122.4" r="1.15"/><circle cx="46.6" cy="87.6" r="1.15"/><circle cx="63.2" cy="148.6" r="1.15"/><circle cx="71.7" cy="144.3" r="1.15"/><circle cx="67.9" cy="145.6" r="1.15"/><circle cx="74.3" cy="130.0" r="1.15"/><circle cx="71.4" cy="104.5" r="1.15"/><circle cx="65.1" cy="152.7" r="1.15"/><circle cx="62.5" cy="125.4" r="1.15"/><circle cx="69.8" cy="115.1" r="1.15"/><circle cx="57.1" cy="133.9" r="1.15"/><circle cx="42.8" cy="154.2" r="1.15"/><circle cx="74.5" cy="113.8" r="1.15"/><circle cx="71.7" cy="116.6" r="1.15"/><circle cx="71.4" cy="99.1" r="1.15"/><circle cx="68.3" cy="149.8" r="1.15"/><circle cx="53.1" cy="138.8" r="1.15"/><circle cx="74.0" cy="142.6" r="1.15"/><circle cx="69.3" cy="84.1" r="1.15"/><circle cx="72.5" cy="62.8" r="1.15"/><circle cx="36.3" cy="130.1" r="1.15"/><circle cx="46.2" cy="59.9" r="1.15"/><circle cx="69.5" cy="125.8" r="1.15"/><circle cx="58.9" cy="148.5" r="1.15"/><circle cx="55.0" cy="115.2" r="1.15"/><circle cx="60.1" cy="88.3" r="1.15"/><circle cx="58.7" cy="97.7" r="1.15"/><circle cx="69.3" cy="109.3" r="1.15"/><circle cx="68.4" cy="137.4" r="1.15"/><circle cx="65.6" cy="148.0" r="1.15"/><circle cx="65.4" cy="135.9" r="1.15"/><circle cx="57.5" cy="113.8" r="1.15"/><circle cx="63.7" cy="148.9" r="1.15"/><circle cx="68.8" cy="148.7" r="1.15"/><circle cx="65.8" cy="91.3" r="1.15"/><circle cx="51.7" cy="121.7" r="1.15"/><circle cx="62.4" cy="130.7" r="1.15"/><circle cx="61.1" cy="117.2" r="1.15"/><circle cx="69.2" cy="73.9" r="1.15"/><circle cx="68.1" cy="131.9" r="1.15"/><circle cx="72.2" cy="146.1" r="1.15"/><circle cx="60.9" cy="113.5" r="1.15"/><circle cx="71.2" cy="142.5" r="1.15"/><circle cx="68.5" cy="148.9" r="1.15"/><circle cx="70.7" cy="150.6" r="1.15"/><circle cx="69.8" cy="73.8" r="1.15"/><circle cx="65.4" cy="132.2" r="1.15"/><circle cx="64.2" cy="128.1" r="1.15"/><circle cx="69.1" cy="148.2" r="1.15"/><circle cx="68.7" cy="150.7" r="1.15"/><circle cx="56.6" cy="101.1" r="1.15"/><circle cx="61.8" cy="144.1" r="1.15"/><circle cx="72.8" cy="140.4" r="1.15"/><circle cx="68.6" cy="116.3" r="1.15"/><circle cx="50.6" cy="148.8" r="1.15"/><circle cx="68.8" cy="137.6" r="1.15"/><circle cx="73.6" cy="74.7" r="1.15"/><circle cx="73.3" cy="117.7" r="1.15"/><circle cx="73.3" cy="61.3" r="1.15"/><circle cx="59.2" cy="86.1" r="1.15"/><circle cx="54.1" cy="138.8" r="1.15"/><circle cx="73.7" cy="66.8" r="1.15"/><circle cx="37.7" cy="127.3" r="1.15"/><circle cx="57.8" cy="110.0" r="1.15"/><circle cx="72.2" cy="149.1" r="1.15"/><circle cx="70.8" cy="138.2" r="1.15"/><circle cx="58.4" cy="96.7" r="1.15"/><circle cx="72.7" cy="145.6" r="1.15"/><circle cx="60.5" cy="153.7" r="1.15"/><circle cx="70.6" cy="127.7" r="1.15"/><circle cx="72.5" cy="137.7" r="1.15"/><circle cx="55.7" cy="107.4" r="1.15"/><circle cx="67.6" cy="149.2" r="1.15"/><circle cx="74.1" cy="145.0" r="1.15"/><circle cx="69.4" cy="153.2" r="1.15"/><circle cx="68.7" cy="150.3" r="1.15"/><circle cx="47.6" cy="126.7" r="1.15"/><circle cx="67.3" cy="71.9" r="1.15"/><circle cx="66.0" cy="135.0" r="1.15"/><circle cx="65.3" cy="116.6" r="1.15"/><circle cx="73.9" cy="86.0" r="1.15"/><circle cx="65.5" cy="144.7" r="1.15"/><circle cx="66.6" cy="150.9" r="1.15"/><circle cx="68.1" cy="135.0" r="1.15"/><circle cx="69.0" cy="92.8" r="1.15"/><circle cx="55.2" cy="147.7" r="1.15"/><circle cx="66.8" cy="140.5" r="1.15"/><circle cx="73.7" cy="61.0" r="1.15"/><circle cx="40.4" cy="153.0" r="1.15"/><circle cx="67.0" cy="99.8" r="1.15"/><circle cx="62.3" cy="153.4" r="1.15"/><circle cx="41.9" cy="139.9" r="1.15"/><circle cx="67.1" cy="142.1" r="1.15"/><circle cx="73.4" cy="148.1" r="1.15"/><circle cx="73.4" cy="128.8" r="1.15"/><circle cx="46.3" cy="101.0" r="1.15"/><circle cx="70.3" cy="150.7" r="1.15"/><circle cx="70.2" cy="133.6" r="1.15"/><circle cx="74.3" cy="139.7" r="1.15"/><circle cx="59.3" cy="136.2" r="1.15"/><circle cx="74.7" cy="143.4" r="1.15"/><circle cx="68.0" cy="150.7" r="1.15"/><circle cx="60.3" cy="143.3" r="1.15"/><circle cx="69.7" cy="74.6" r="1.15"/><circle cx="74.1" cy="138.4" r="1.15"/><circle cx="71.6" cy="131.5" r="1.15"/><circle cx="65.2" cy="62.8" r="1.15"/><circle cx="57.5" cy="69.9" r="1.15"/><circle cx="64.0" cy="130.4" r="1.15"/><circle cx="58.5" cy="126.2" r="1.15"/><circle cx="66.9" cy="150.9" r="1.15"/><circle cx="74.2" cy="145.9" r="1.15"/><circle cx="55.0" cy="110.7" r="1.15"/><circle cx="44.2" cy="144.2" r="1.15"/><circle cx="69.8" cy="153.4" r="1.15"/><circle cx="68.0" cy="69.9" r="1.15"/><circle cx="69.1" cy="77.5" r="1.15"/><circle cx="57.8" cy="147.2" r="1.15"/><circle cx="70.5" cy="126.9" r="1.15"/><circle cx="43.9" cy="107.2" r="1.15"/><circle cx="52.2" cy="136.6" r="1.15"/><circle cx="45.9" cy="134.4" r="1.15"/><circle cx="65.8" cy="135.3" r="1.15"/><circle cx="71.6" cy="150.6" r="1.15"/><circle cx="59.5" cy="78.9" r="1.15"/><circle cx="62.7" cy="132.5" r="1.15"/><circle cx="56.6" cy="76.1" r="1.15"/><circle cx="48.8" cy="150.7" r="1.15"/><circle cx="73.7" cy="67.4" r="1.15"/><circle cx="72.2" cy="153.8" r="1.15"/><circle cx="68.0" cy="99.3" r="1.15"/><circle cx="73.3" cy="111.0" r="1.15"/><circle cx="63.7" cy="109.4" r="1.15"/><circle cx="73.5" cy="130.9" r="1.15"/><circle cx="67.1" cy="104.0" r="1.15"/><circle cx="67.9" cy="143.2" r="1.15"/><circle cx="69.6" cy="142.4" r="1.15"/><circle cx="36.1" cy="111.2" r="1.15"/><circle cx="68.4" cy="94.6" r="1.15"/><circle cx="60.6" cy="150.7" r="1.15"/><circle cx="45.3" cy="119.8" r="1.15"/><circle cx="48.7" cy="143.7" r="1.15"/><circle cx="73.7" cy="141.5" r="1.15"/><circle cx="62.3" cy="150.7" r="1.15"/><circle cx="58.9" cy="153.3" r="1.15"/><circle cx="73.1" cy="58.4" r="1.15"/><circle cx="71.9" cy="149.0" r="1.15"/><circle cx="69.1" cy="133.2" r="1.15"/><circle cx="67.3" cy="123.4" r="1.15"/><circle cx="62.9" cy="150.7" r="1.15"/><circle cx="61.8" cy="148.6" r="1.15"/><circle cx="47.3" cy="136.9" r="1.15"/><circle cx="66.1" cy="91.7" r="1.15"/><circle cx="58.9" cy="135.1" r="1.15"/><circle cx="67.2" cy="99.4" r="1.15"/><circle cx="64.7" cy="145.9" r="1.15"/><circle cx="56.5" cy="148.9" r="1.15"/><circle cx="72.3" cy="82.7" r="1.15"/><circle cx="48.2" cy="113.3" r="1.15"/><circle cx="71.5" cy="138.6" r="1.15"/><circle cx="60.6" cy="141.6" r="1.15"/><circle cx="34.1" cy="151.3" r="1.15"/><circle cx="67.6" cy="81.0" r="1.15"/><circle cx="55.1" cy="119.8" r="1.15"/><circle cx="71.3" cy="138.0" r="1.15"/><circle cx="63.4" cy="108.6" r="1.15"/><circle cx="73.6" cy="87.1" r="1.15"/><circle cx="65.9" cy="128.1" r="1.15"/><circle cx="65.3" cy="145.4" r="1.15"/><circle cx="72.8" cy="126.1" r="1.15"/><circle cx="72.4" cy="95.7" r="1.15"/><circle cx="74.7" cy="136.1" r="1.15"/><circle cx="44.2" cy="107.3" r="1.15"/><circle cx="62.2" cy="139.9" r="1.15"/><circle cx="64.7" cy="152.7" r="1.15"/><circle cx="69.4" cy="152.7" r="1.15"/><circle cx="72.4" cy="134.2" r="1.15"/><circle cx="72.1" cy="87.0" r="1.15"/><circle cx="66.7" cy="108.7" r="1.15"/><circle cx="45.7" cy="151.7" r="1.15"/><circle cx="50.8" cy="149.7" r="1.15"/><circle cx="45.3" cy="145.9" r="1.15"/><circle cx="47.0" cy="134.5" r="1.15"/><circle cx="65.4" cy="133.9" r="1.15"/><circle cx="67.7" cy="114.7" r="1.15"/><circle cx="56.2" cy="133.5" r="1.15"/><circle cx="70.4" cy="111.8" r="1.15"/><circle cx="53.6" cy="151.7" r="1.15"/><circle cx="50.3" cy="138.5" r="1.15"/><circle cx="40.2" cy="110.3" r="1.15"/><circle cx="59.5" cy="81.7" r="1.15"/><circle cx="64.4" cy="147.7" r="1.15"/><circle cx="65.4" cy="128.1" r="1.15"/><circle cx="71.2" cy="120.2" r="1.15"/><circle cx="69.7" cy="119.1" r="1.15"/><circle cx="73.0" cy="123.2" r="1.15"/><circle cx="68.4" cy="133.9" r="1.15"/><circle cx="67.9" cy="134.5" r="1.15"/><circle cx="57.0" cy="121.2" r="1.15"/><circle cx="73.0" cy="58.9" r="1.15"/><circle cx="74.5" cy="152.9" r="1.15"/><circle cx="67.7" cy="114.4" r="1.15"/><circle cx="70.0" cy="89.7" r="1.15"/><circle cx="35.8" cy="117.8" r="1.15"/><circle cx="71.8" cy="142.7" r="1.15"/><circle cx="56.9" cy="146.6" r="1.15"/><circle cx="72.6" cy="120.3" r="1.15"/><circle cx="63.5" cy="131.8" r="1.15"/><circle cx="64.5" cy="147.7" r="1.15"/><circle cx="66.4" cy="135.9" r="1.15"/><circle cx="73.3" cy="123.1" r="1.15"/><circle cx="59.7" cy="148.3" r="1.15"/><circle cx="73.5" cy="151.5" r="1.15"/><circle cx="57.3" cy="134.4" r="1.15"/><circle cx="66.0" cy="153.8" r="1.15"/><circle cx="63.6" cy="142.9" r="1.15"/><circle cx="67.9" cy="140.3" r="1.15"/><circle cx="66.9" cy="123.0" r="1.15"/><circle cx="56.2" cy="152.6" r="1.15"/><circle cx="73.1" cy="151.3" r="1.15"/><circle cx="71.0" cy="145.6" r="1.15"/><circle cx="69.6" cy="128.0" r="1.15"/><circle cx="41.5" cy="114.5" r="1.15"/><circle cx="62.4" cy="147.2" r="1.15"/><circle cx="61.2" cy="153.9" r="1.15"/><circle cx="61.2" cy="152.4" r="1.15"/><circle cx="68.5" cy="119.8" r="1.15"/><circle cx="45.6" cy="123.7" r="1.15"/><circle cx="68.5" cy="153.6" r="1.15"/><circle cx="70.7" cy="108.9" r="1.15"/><circle cx="68.2" cy="138.3" r="1.15"/><circle cx="72.2" cy="146.4" r="1.15"/><circle cx="42.6" cy="119.8" r="1.15"/><circle cx="68.3" cy="59.2" r="1.15"/><circle cx="70.5" cy="133.7" r="1.15"/><circle cx="74.3" cy="146.1" r="1.15"/><circle cx="66.7" cy="88.5" r="1.15"/><circle cx="56.6" cy="124.4" r="1.15"/><circle cx="60.1" cy="114.9" r="1.15"/><circle cx="56.4" cy="146.1" r="1.15"/><circle cx="49.1" cy="144.4" r="1.15"/><circle cx="71.3" cy="75.7" r="1.15"/><circle cx="73.5" cy="145.4" r="1.15"/><circle cx="63.9" cy="113.5" r="1.15"/><circle cx="68.9" cy="148.0" r="1.15"/><circle cx="65.8" cy="96.2" r="1.15"/><circle cx="68.2" cy="79.5" r="1.15"/><circle cx="74.6" cy="98.6" r="1.15"/><circle cx="64.8" cy="117.4" r="1.15"/><circle cx="48.9" cy="110.4" r="1.15"/><circle cx="71.7" cy="149.7" r="1.15"/><circle cx="64.6" cy="128.4" r="1.15"/><circle cx="47.6" cy="120.0" r="1.15"/><circle cx="65.7" cy="78.6" r="1.15"/><circle cx="62.4" cy="152.5" r="1.15"/><circle cx="51.4" cy="129.4" r="1.15"/><circle cx="63.4" cy="119.5" r="1.15"/><circle cx="72.6" cy="148.8" r="1.15"/><circle cx="69.4" cy="97.5" r="1.15"/><circle cx="70.3" cy="140.4" r="1.15"/><circle cx="58.2" cy="135.1" r="1.15"/><circle cx="54.8" cy="138.1" r="1.15"/><circle cx="59.3" cy="150.2" r="1.15"/><circle cx="61.5" cy="123.8" r="1.15"/><circle cx="54.1" cy="122.0" r="1.15"/><circle cx="71.4" cy="120.1" r="1.15"/><circle cx="41.6" cy="125.1" r="1.15"/><circle cx="69.2" cy="128.9" r="1.15"/><circle cx="60.8" cy="134.6" r="1.15"/><circle cx="44.1" cy="142.9" r="1.15"/><circle cx="73.5" cy="154.2" r="1.15"/><circle cx="72.3" cy="143.3" r="1.15"/><circle cx="66.1" cy="140.8" r="1.15"/><circle cx="63.5" cy="146.8" r="1.15"/><circle cx="66.9" cy="129.2" r="1.15"/><circle cx="62.2" cy="89.8" r="1.15"/><circle cx="72.6" cy="146.3" r="1.15"/><circle cx="51.7" cy="150.6" r="1.15"/><circle cx="63.6" cy="126.5" r="1.15"/><circle cx="74.5" cy="111.2" r="1.15"/><circle cx="72.1" cy="150.4" r="1.15"/><circle cx="69.7" cy="151.5" r="1.15"/><circle cx="54.7" cy="144.6" r="1.15"/><circle cx="68.1" cy="139.3" r="1.15"/><circle cx="66.4" cy="104.5" r="1.15"/><circle cx="73.7" cy="132.8" r="1.15"/><circle cx="72.9" cy="147.8" r="1.15"/><circle cx="51.2" cy="137.0" r="1.15"/><circle cx="64.5" cy="153.5" r="1.15"/><circle cx="73.5" cy="108.3" r="1.15"/><circle cx="54.6" cy="148.1" r="1.15"/><circle cx="74.0" cy="117.5" r="1.15"/><circle cx="61.6" cy="136.2" r="1.15"/><circle cx="70.9" cy="70.3" r="1.15"/><circle cx="56.1" cy="146.1" r="1.15"/><circle cx="71.5" cy="144.9" r="1.15"/><circle cx="64.9" cy="118.3" r="1.15"/><circle cx="65.3" cy="98.3" r="1.15"/><circle cx="56.7" cy="153.5" r="1.15"/><circle cx="66.9" cy="151.8" r="1.15"/><circle cx="67.7" cy="91.6" r="1.15"/><circle cx="66.5" cy="121.3" r="1.15"/><circle cx="67.6" cy="149.2" r="1.15"/><circle cx="57.8" cy="130.7" r="1.15"/><circle cx="63.6" cy="153.6" r="1.15"/><circle cx="54.6" cy="142.8" r="1.15"/><circle cx="55.1" cy="146.8" r="1.15"/><circle cx="64.7" cy="105.8" r="1.15"/><circle cx="67.5" cy="142.5" r="1.15"/><circle cx="74.0" cy="144.0" r="1.15"/><circle cx="59.1" cy="139.4" r="1.15"/><circle cx="74.2" cy="135.7" r="1.15"/><circle cx="49.1" cy="31.7" r="1.15"/><circle cx="68.3" cy="31.7" r="1.15"/><circle cx="48.4" cy="31.7" r="1.15"/><circle cx="69.1" cy="31.7" r="1.15"/><circle cx="62.4" cy="31.7" r="1.15"/><circle cx="46.8" cy="31.7" r="1.15"/><circle cx="61.4" cy="31.7" r="1.15"/><circle cx="43.8" cy="31.7" r="1.15"/><circle cx="67.5" cy="31.7" r="1.15"/><circle cx="57.8" cy="31.7" r="1.15"/><circle cx="111.1" cy="115.3" r="1.15"/><circle cx="99.9" cy="102.8" r="1.15"/><circle cx="104.7" cy="128.8" r="1.15"/><circle cx="100.8" cy="79.9" r="1.15"/><circle cx="105.5" cy="142.3" r="1.15"/><circle cx="120.5" cy="137.1" r="1.15"/><circle cx="111.0" cy="56.3" r="1.15"/><circle cx="103.5" cy="91.8" r="1.15"/><circle cx="116.7" cy="131.6" r="1.15"/><circle cx="104.0" cy="123.6" r="1.15"/><circle cx="100.6" cy="60.1" r="1.15"/><circle cx="101.3" cy="149.6" r="1.15"/><circle cx="159.9" cy="151.4" r="1.15"/><circle cx="118.2" cy="152.8" r="1.15"/><circle cx="102.4" cy="134.0" r="1.15"/><circle cx="108.8" cy="141.0" r="1.15"/><circle cx="110.2" cy="131.4" r="1.15"/><circle cx="115.8" cy="95.8" r="1.15"/><circle cx="100.8" cy="131.4" r="1.15"/><circle cx="132.3" cy="146.3" r="1.15"/><circle cx="108.1" cy="125.0" r="1.15"/><circle cx="98.7" cy="66.2" r="1.15"/><circle cx="121.3" cy="136.2" r="1.15"/><circle cx="104.3" cy="150.8" r="1.15"/><circle cx="121.7" cy="140.2" r="1.15"/><circle cx="105.4" cy="151.9" r="1.15"/><circle cx="105.0" cy="149.4" r="1.15"/><circle cx="129.6" cy="92.9" r="1.15"/><circle cx="113.4" cy="143.9" r="1.15"/><circle cx="111.7" cy="67.5" r="1.15"/><circle cx="113.8" cy="90.0" r="1.15"/><circle cx="117.4" cy="147.1" r="1.15"/><circle cx="107.0" cy="84.7" r="1.15"/><circle cx="101.6" cy="59.3" r="1.15"/><circle cx="110.4" cy="148.8" r="1.15"/><circle cx="114.0" cy="68.7" r="1.15"/><circle cx="111.9" cy="128.8" r="1.15"/><circle cx="99.3" cy="149.7" r="1.15"/><circle cx="103.4" cy="134.7" r="1.15"/><circle cx="100.9" cy="115.2" r="1.15"/><circle cx="109.9" cy="132.1" r="1.15"/><circle cx="109.0" cy="60.4" r="1.15"/><circle cx="111.0" cy="131.2" r="1.15"/><circle cx="107.1" cy="71.1" r="1.15"/><circle cx="101.7" cy="145.1" r="1.15"/><circle cx="100.8" cy="92.5" r="1.15"/><circle cx="104.0" cy="96.4" r="1.15"/><circle cx="103.2" cy="139.3" r="1.15"/><circle cx="112.6" cy="152.8" r="1.15"/><circle cx="111.8" cy="134.6" r="1.15"/><circle cx="99.0" cy="149.1" r="1.15"/><circle cx="117.7" cy="110.4" r="1.15"/><circle cx="101.5" cy="132.0" r="1.15"/><circle cx="100.6" cy="133.9" r="1.15"/><circle cx="122.7" cy="153.1" r="1.15"/><circle cx="109.2" cy="125.7" r="1.15"/><circle cx="104.3" cy="63.5" r="1.15"/><circle cx="111.3" cy="119.1" r="1.15"/><circle cx="99.9" cy="145.3" r="1.15"/><circle cx="108.6" cy="66.0" r="1.15"/><circle cx="152.5" cy="122.5" r="1.15"/><circle cx="108.4" cy="146.1" r="1.15"/><circle cx="106.3" cy="149.9" r="1.15"/><circle cx="124.9" cy="99.8" r="1.15"/><circle cx="111.4" cy="109.1" r="1.15"/><circle cx="115.7" cy="144.9" r="1.15"/><circle cx="104.9" cy="95.6" r="1.15"/><circle cx="105.4" cy="79.2" r="1.15"/><circle cx="116.4" cy="135.8" r="1.15"/><circle cx="142.3" cy="106.0" r="1.15"/><circle cx="102.8" cy="140.4" r="1.15"/><circle cx="100.1" cy="135.3" r="1.15"/><circle cx="103.4" cy="142.0" r="1.15"/><circle cx="123.0" cy="145.0" r="1.15"/><circle cx="104.9" cy="102.3" r="1.15"/><circle cx="100.2" cy="140.5" r="1.15"/><circle cx="108.4" cy="145.4" r="1.15"/><circle cx="104.7" cy="144.5" r="1.15"/><circle cx="103.5" cy="134.7" r="1.15"/><circle cx="108.0" cy="129.8" r="1.15"/><circle cx="118.0" cy="82.9" r="1.15"/><circle cx="127.0" cy="117.1" r="1.15"/><circle cx="101.2" cy="131.3" r="1.15"/><circle cx="99.4" cy="153.9" r="1.15"/><circle cx="105.0" cy="128.6" r="1.15"/><circle cx="101.2" cy="118.2" r="1.15"/><circle cx="99.7" cy="89.8" r="1.15"/><circle cx="110.3" cy="149.9" r="1.15"/><circle cx="101.3" cy="147.4" r="1.15"/><circle cx="114.8" cy="135.2" r="1.15"/><circle cx="128.6" cy="120.7" r="1.15"/><circle cx="127.4" cy="95.1" r="1.15"/><circle cx="101.5" cy="147.5" r="1.15"/><circle cx="101.5" cy="103.6" r="1.15"/><circle cx="98.7" cy="127.2" r="1.15"/><circle cx="108.6" cy="106.9" r="1.15"/><circle cx="113.0" cy="139.4" r="1.15"/><circle cx="103.6" cy="66.7" r="1.15"/><circle cx="107.6" cy="47.5" r="1.15"/><circle cx="107.5" cy="138.0" r="1.15"/><circle cx="102.4" cy="136.8" r="1.15"/><circle cx="99.4" cy="143.4" r="1.15"/><circle cx="100.0" cy="121.0" r="1.15"/><circle cx="112.1" cy="60.4" r="1.15"/><circle cx="103.2" cy="120.2" r="1.15"/><circle cx="138.9" cy="120.9" r="1.15"/><circle cx="99.5" cy="139.4" r="1.15"/><circle cx="117.7" cy="140.9" r="1.15"/><circle cx="105.3" cy="145.0" r="1.15"/><circle cx="106.4" cy="149.0" r="1.15"/><circle cx="109.2" cy="150.6" r="1.15"/><circle cx="144.4" cy="116.6" r="1.15"/><circle cx="137.1" cy="103.4" r="1.15"/><circle cx="99.8" cy="125.0" r="1.15"/><circle cx="153.7" cy="128.1" r="1.15"/><circle cx="104.9" cy="144.5" r="1.15"/><circle cx="112.4" cy="122.3" r="1.15"/><circle cx="102.1" cy="84.6" r="1.15"/><circle cx="167.9" cy="113.3" r="1.15"/><circle cx="103.7" cy="66.1" r="1.15"/><circle cx="101.6" cy="133.5" r="1.15"/><circle cx="110.6" cy="54.2" r="1.15"/><circle cx="119.2" cy="131.1" r="1.15"/><circle cx="101.5" cy="123.5" r="1.15"/><circle cx="100.4" cy="98.1" r="1.15"/><circle cx="117.9" cy="74.3" r="1.15"/><circle cx="130.2" cy="101.1" r="1.15"/><circle cx="99.8" cy="152.7" r="1.15"/><circle cx="107.9" cy="145.3" r="1.15"/><circle cx="104.1" cy="146.2" r="1.15"/><circle cx="102.2" cy="127.4" r="1.15"/><circle cx="100.1" cy="137.0" r="1.15"/><circle cx="127.4" cy="133.0" r="1.15"/><circle cx="108.4" cy="97.6" r="1.15"/><circle cx="99.7" cy="144.6" r="1.15"/><circle cx="106.8" cy="46.3" r="1.15"/><circle cx="106.6" cy="137.3" r="1.15"/><circle cx="102.9" cy="151.8" r="1.15"/><circle cx="110.4" cy="148.4" r="1.15"/><circle cx="102.6" cy="99.1" r="1.15"/><circle cx="102.0" cy="80.6" r="1.15"/><circle cx="120.5" cy="71.2" r="1.15"/><circle cx="105.0" cy="135.1" r="1.15"/><circle cx="98.7" cy="117.6" r="1.15"/><circle cx="106.2" cy="141.7" r="1.15"/><circle cx="103.6" cy="82.6" r="1.15"/><circle cx="100.5" cy="73.6" r="1.15"/><circle cx="112.8" cy="104.7" r="1.15"/><circle cx="133.4" cy="129.7" r="1.15"/><circle cx="99.3" cy="138.2" r="1.15"/><circle cx="111.2" cy="152.7" r="1.15"/><circle cx="112.9" cy="154.0" r="1.15"/><circle cx="108.5" cy="87.9" r="1.15"/><circle cx="133.8" cy="124.7" r="1.15"/><circle cx="107.4" cy="133.9" r="1.15"/><circle cx="111.5" cy="128.1" r="1.15"/><circle cx="118.7" cy="153.5" r="1.15"/><circle cx="126.5" cy="117.9" r="1.15"/><circle cx="99.1" cy="56.8" r="1.15"/><circle cx="103.9" cy="66.1" r="1.15"/><circle cx="99.1" cy="131.7" r="1.15"/><circle cx="109.0" cy="151.3" r="1.15"/><circle cx="108.0" cy="133.2" r="1.15"/><circle cx="105.7" cy="125.7" r="1.15"/><circle cx="121.1" cy="82.2" r="1.15"/><circle cx="110.9" cy="148.1" r="1.15"/><circle cx="103.1" cy="144.2" r="1.15"/><circle cx="114.4" cy="153.1" r="1.15"/><circle cx="126.2" cy="108.1" r="1.15"/><circle cx="118.6" cy="135.8" r="1.15"/><circle cx="113.8" cy="124.8" r="1.15"/><circle cx="131.3" cy="82.3" r="1.15"/><circle cx="107.4" cy="90.9" r="1.15"/><circle cx="106.3" cy="77.3" r="1.15"/><circle cx="107.4" cy="139.3" r="1.15"/><circle cx="103.3" cy="127.7" r="1.15"/><circle cx="99.8" cy="56.3" r="1.15"/><circle cx="101.2" cy="82.4" r="1.15"/><circle cx="108.3" cy="35.8" r="1.15"/><circle cx="101.4" cy="36.8" r="1.15"/><circle cx="115.6" cy="153.0" r="1.15"/><circle cx="99.3" cy="47.3" r="1.15"/><circle cx="121.8" cy="129.9" r="1.15"/><circle cx="121.2" cy="92.6" r="1.15"/><circle cx="99.9" cy="112.1" r="1.15"/><circle cx="105.5" cy="107.0" r="1.15"/><circle cx="111.9" cy="58.1" r="1.15"/><circle cx="99.0" cy="34.0" r="1.15"/><circle cx="120.4" cy="137.8" r="1.15"/><circle cx="99.6" cy="63.5" r="1.15"/><circle cx="108.9" cy="149.3" r="1.15"/><circle cx="119.5" cy="142.4" r="1.15"/><circle cx="102.1" cy="95.2" r="1.15"/><circle cx="122.5" cy="152.5" r="1.15"/><circle cx="101.2" cy="141.8" r="1.15"/><circle cx="118.4" cy="149.7" r="1.15"/><circle cx="101.0" cy="126.5" r="1.15"/><circle cx="103.6" cy="75.6" r="1.15"/><circle cx="106.8" cy="153.4" r="1.15"/><circle cx="102.2" cy="153.6" r="1.15"/><circle cx="149.7" cy="143.5" r="1.15"/><circle cx="110.8" cy="105.9" r="1.15"/><circle cx="112.2" cy="142.9" r="1.15"/><circle cx="113.0" cy="65.6" r="1.15"/><circle cx="101.2" cy="141.1" r="1.15"/><circle cx="111.9" cy="148.3" r="1.15"/><circle cx="99.8" cy="85.0" r="1.15"/><circle cx="116.4" cy="152.2" r="1.15"/><circle cx="102.7" cy="150.0" r="1.15"/><circle cx="107.9" cy="132.6" r="1.15"/><circle cx="135.4" cy="133.0" r="1.15"/><circle cx="108.1" cy="77.2" r="1.15"/><circle cx="103.8" cy="110.6" r="1.15"/><circle cx="102.3" cy="112.2" r="1.15"/><circle cx="100.3" cy="118.3" r="1.15"/><circle cx="120.0" cy="138.6" r="1.15"/><circle cx="103.4" cy="114.3" r="1.15"/><circle cx="110.4" cy="71.4" r="1.15"/><circle cx="126.3" cy="150.3" r="1.15"/><circle cx="108.1" cy="134.3" r="1.15"/><circle cx="99.5" cy="149.2" r="1.15"/><circle cx="104.1" cy="133.6" r="1.15"/><circle cx="100.8" cy="91.3" r="1.15"/><circle cx="101.6" cy="109.8" r="1.15"/><circle cx="108.9" cy="116.8" r="1.15"/><circle cx="111.6" cy="120.5" r="1.15"/><circle cx="102.1" cy="130.0" r="1.15"/><circle cx="114.2" cy="119.9" r="1.15"/><circle cx="100.0" cy="148.0" r="1.15"/><circle cx="110.0" cy="138.7" r="1.15"/><circle cx="109.0" cy="127.6" r="1.15"/><circle cx="104.5" cy="64.1" r="1.15"/><circle cx="129.4" cy="137.9" r="1.15"/><circle cx="110.1" cy="131.2" r="1.15"/><circle cx="100.6" cy="153.8" r="1.15"/><circle cx="109.4" cy="111.1" r="1.15"/><circle cx="103.7" cy="150.4" r="1.15"/><circle cx="102.9" cy="80.7" r="1.15"/><circle cx="102.9" cy="107.3" r="1.15"/><circle cx="100.6" cy="67.2" r="1.15"/><circle cx="105.9" cy="58.2" r="1.15"/><circle cx="101.0" cy="105.0" r="1.15"/><circle cx="117.9" cy="137.3" r="1.15"/><circle cx="99.2" cy="127.8" r="1.15"/><circle cx="107.4" cy="64.5" r="1.15"/><circle cx="104.6" cy="98.1" r="1.15"/><circle cx="125.2" cy="102.1" r="1.15"/><circle cx="125.1" cy="109.3" r="1.15"/><circle cx="98.8" cy="152.9" r="1.15"/><circle cx="107.7" cy="78.5" r="1.15"/><circle cx="107.4" cy="149.9" r="1.15"/><circle cx="131.6" cy="120.9" r="1.15"/><circle cx="98.8" cy="50.8" r="1.15"/><circle cx="101.5" cy="93.7" r="1.15"/><circle cx="109.8" cy="66.6" r="1.15"/><circle cx="136.3" cy="107.9" r="1.15"/><circle cx="105.9" cy="124.4" r="1.15"/><circle cx="101.3" cy="129.4" r="1.15"/><circle cx="122.9" cy="145.9" r="1.15"/><circle cx="99.6" cy="90.5" r="1.15"/><circle cx="99.5" cy="59.9" r="1.15"/><circle cx="101.9" cy="150.7" r="1.15"/><circle cx="108.2" cy="152.4" r="1.15"/><circle cx="106.8" cy="152.8" r="1.15"/><circle cx="107.1" cy="70.9" r="1.15"/><circle cx="108.2" cy="141.7" r="1.15"/><circle cx="108.4" cy="125.3" r="1.15"/><circle cx="119.8" cy="86.7" r="1.15"/><circle cx="113.8" cy="128.5" r="1.15"/><circle cx="113.3" cy="116.3" r="1.15"/><circle cx="102.5" cy="95.2" r="1.15"/><circle cx="108.9" cy="152.7" r="1.15"/><circle cx="123.9" cy="58.4" r="1.15"/><circle cx="109.8" cy="134.2" r="1.15"/><circle cx="111.9" cy="65.0" r="1.15"/><circle cx="122.9" cy="90.4" r="1.15"/><circle cx="106.3" cy="106.3" r="1.15"/><circle cx="101.9" cy="129.4" r="1.15"/><circle cx="100.8" cy="124.6" r="1.15"/><circle cx="104.9" cy="68.2" r="1.15"/><circle cx="142.2" cy="151.2" r="1.15"/><circle cx="102.8" cy="135.0" r="1.15"/><circle cx="113.2" cy="117.0" r="1.15"/><circle cx="119.9" cy="134.9" r="1.15"/><circle cx="102.9" cy="151.8" r="1.15"/><circle cx="101.7" cy="83.3" r="1.15"/><circle cx="99.2" cy="146.7" r="1.15"/><circle cx="144.7" cy="138.3" r="1.15"/><circle cx="109.2" cy="65.6" r="1.15"/><circle cx="100.4" cy="64.0" r="1.15"/><circle cx="126.0" cy="90.1" r="1.15"/><circle cx="115.0" cy="120.3" r="1.15"/><circle cx="112.0" cy="127.7" r="1.15"/><circle cx="102.0" cy="142.1" r="1.15"/><circle cx="119.4" cy="147.8" r="1.15"/><circle cx="105.4" cy="50.2" r="1.15"/><circle cx="108.9" cy="145.1" r="1.15"/><circle cx="110.9" cy="57.0" r="1.15"/><circle cx="107.9" cy="110.5" r="1.15"/><circle cx="101.0" cy="120.6" r="1.15"/><circle cx="100.4" cy="140.9" r="1.15"/><circle cx="103.4" cy="54.4" r="1.15"/><circle cx="104.7" cy="41.1" r="1.15"/><circle cx="103.5" cy="152.6" r="1.15"/><circle cx="102.0" cy="43.1" r="1.15"/><circle cx="102.6" cy="85.0" r="1.15"/><circle cx="108.6" cy="67.0" r="1.15"/><circle cx="105.5" cy="85.2" r="1.15"/><circle cx="99.7" cy="120.2" r="1.15"/><circle cx="98.9" cy="108.9" r="1.15"/><circle cx="125.2" cy="153.0" r="1.15"/><circle cx="124.6" cy="120.2" r="1.15"/><circle cx="101.0" cy="130.5" r="1.15"/><circle cx="106.9" cy="91.6" r="1.15"/><circle cx="120.0" cy="135.9" r="1.15"/><circle cx="109.4" cy="83.8" r="1.15"/><circle cx="99.0" cy="153.9" r="1.15"/><circle cx="102.9" cy="112.4" r="1.15"/><circle cx="104.4" cy="73.9" r="1.15"/><circle cx="99.9" cy="74.6" r="1.15"/><circle cx="121.4" cy="66.7" r="1.15"/><circle cx="100.7" cy="153.7" r="1.15"/><circle cx="106.3" cy="121.4" r="1.15"/><circle cx="100.3" cy="117.6" r="1.15"/><circle cx="105.7" cy="150.4" r="1.15"/><circle cx="98.7" cy="149.7" r="1.15"/><circle cx="100.0" cy="75.5" r="1.15"/><circle cx="106.7" cy="120.2" r="1.15"/><circle cx="98.8" cy="136.6" r="1.15"/><circle cx="142.4" cy="138.7" r="1.15"/><circle cx="103.6" cy="129.6" r="1.15"/><circle cx="123.7" cy="124.4" r="1.15"/><circle cx="106.2" cy="151.0" r="1.15"/><circle cx="116.6" cy="92.7" r="1.15"/><circle cx="128.5" cy="123.7" r="1.15"/><circle cx="130.1" cy="132.9" r="1.15"/><circle cx="100.4" cy="124.1" r="1.15"/><circle cx="99.4" cy="145.5" r="1.15"/><circle cx="128.5" cy="96.3" r="1.15"/><circle cx="100.5" cy="143.3" r="1.15"/><circle cx="122.3" cy="128.4" r="1.15"/><circle cx="119.8" cy="145.8" r="1.15"/><circle cx="99.0" cy="122.8" r="1.15"/><circle cx="99.6" cy="115.3" r="1.15"/><circle cx="99.8" cy="127.5" r="1.15"/><circle cx="114.2" cy="140.3" r="1.15"/><circle cx="102.9" cy="102.2" r="1.15"/><circle cx="104.9" cy="141.5" r="1.15"/><circle cx="108.6" cy="139.6" r="1.15"/><circle cx="103.8" cy="144.7" r="1.15"/><circle cx="109.3" cy="149.8" r="1.15"/><circle cx="125.6" cy="153.5" r="1.15"/><circle cx="112.9" cy="93.7" r="1.15"/><circle cx="99.1" cy="150.9" r="1.15"/><circle cx="110.1" cy="111.2" r="1.15"/><circle cx="106.9" cy="125.0" r="1.15"/><circle cx="99.6" cy="43.4" r="1.15"/><circle cx="104.7" cy="141.1" r="1.15"/><circle cx="104.1" cy="88.8" r="1.15"/><circle cx="112.6" cy="143.8" r="1.15"/><circle cx="114.4" cy="138.9" r="1.15"/><circle cx="128.2" cy="122.5" r="1.15"/><circle cx="103.2" cy="80.2" r="1.15"/><circle cx="99.9" cy="75.9" r="1.15"/><circle cx="106.0" cy="150.0" r="1.15"/><circle cx="110.4" cy="138.4" r="1.15"/><circle cx="100.5" cy="112.0" r="1.15"/><circle cx="102.9" cy="133.4" r="1.15"/><circle cx="101.3" cy="90.0" r="1.15"/><circle cx="99.9" cy="151.2" r="1.15"/><circle cx="99.2" cy="90.6" r="1.15"/><circle cx="109.4" cy="66.2" r="1.15"/><circle cx="111.1" cy="83.8" r="1.15"/><circle cx="113.1" cy="142.6" r="1.15"/><circle cx="107.5" cy="141.6" r="1.15"/><circle cx="108.6" cy="144.9" r="1.15"/><circle cx="115.9" cy="81.4" r="1.15"/><circle cx="100.7" cy="108.9" r="1.15"/><circle cx="119.5" cy="72.2" r="1.15"/><circle cx="123.6" cy="75.7" r="1.15"/><circle cx="104.6" cy="136.4" r="1.15"/><circle cx="108.2" cy="102.1" r="1.15"/><circle cx="102.1" cy="94.7" r="1.15"/><circle cx="107.8" cy="99.5" r="1.15"/><circle cx="105.8" cy="56.6" r="1.15"/><circle cx="113.9" cy="83.6" r="1.15"/><circle cx="142.2" cy="150.7" r="1.15"/><circle cx="100.7" cy="142.9" r="1.15"/><circle cx="99.3" cy="85.8" r="1.15"/><circle cx="99.3" cy="139.7" r="1.15"/><circle cx="99.0" cy="146.5" r="1.15"/><circle cx="112.9" cy="111.2" r="1.15"/><circle cx="102.7" cy="54.6" r="1.15"/><circle cx="129.9" cy="37.2" r="1.15"/><circle cx="99.5" cy="66.7" r="1.15"/><circle cx="102.4" cy="142.3" r="1.15"/><circle cx="114.3" cy="143.9" r="1.15"/><circle cx="100.6" cy="37.1" r="1.15"/><circle cx="99.9" cy="130.4" r="1.15"/><circle cx="101.6" cy="149.3" r="1.15"/><circle cx="103.1" cy="110.3" r="1.15"/><circle cx="103.6" cy="72.7" r="1.15"/><circle cx="114.0" cy="127.5" r="1.15"/><circle cx="103.1" cy="152.0" r="1.15"/><circle cx="106.4" cy="153.7" r="1.15"/><circle cx="117.9" cy="121.8" r="1.15"/><circle cx="142.7" cy="113.9" r="1.15"/><circle cx="162.7" cy="106.6" r="1.15"/><circle cx="103.8" cy="93.8" r="1.15"/><circle cx="144.5" cy="148.5" r="1.15"/><circle cx="102.8" cy="69.6" r="1.15"/><circle cx="116.3" cy="142.6" r="1.15"/><circle cx="102.8" cy="130.9" r="1.15"/><circle cx="111.1" cy="150.3" r="1.15"/><circle cx="103.8" cy="147.9" r="1.15"/><circle cx="105.5" cy="44.7" r="1.15"/><circle cx="133.6" cy="112.9" r="1.15"/><circle cx="123.3" cy="140.6" r="1.15"/><circle cx="110.9" cy="84.1" r="1.15"/><circle cx="105.9" cy="147.5" r="1.15"/><circle cx="105.4" cy="93.5" r="1.15"/><circle cx="131.7" cy="148.7" r="1.15"/><circle cx="100.6" cy="142.6" r="1.15"/><circle cx="129.4" cy="133.0" r="1.15"/><circle cx="98.8" cy="63.2" r="1.15"/><circle cx="102.0" cy="145.1" r="1.15"/><circle cx="124.0" cy="134.6" r="1.15"/><circle cx="139.3" cy="149.1" r="1.15"/><circle cx="105.6" cy="129.9" r="1.15"/><circle cx="102.9" cy="137.5" r="1.15"/><circle cx="112.1" cy="150.1" r="1.15"/><circle cx="104.3" cy="55.2" r="1.15"/><circle cx="116.8" cy="142.1" r="1.15"/><circle cx="105.1" cy="110.4" r="1.15"/><circle cx="98.7" cy="144.1" r="1.15"/><circle cx="99.9" cy="139.3" r="1.15"/><circle cx="101.0" cy="116.5" r="1.15"/><circle cx="110.7" cy="132.7" r="1.15"/><circle cx="116.2" cy="103.7" r="1.15"/><circle cx="107.9" cy="83.0" r="1.15"/><circle cx="100.4" cy="121.2" r="1.15"/><circle cx="115.7" cy="133.3" r="1.15"/><circle cx="100.8" cy="149.8" r="1.15"/><circle cx="104.3" cy="154.1" r="1.15"/><circle cx="108.1" cy="65.7" r="1.15"/><circle cx="127.0" cy="137.1" r="1.15"/><circle cx="99.6" cy="97.8" r="1.15"/><circle cx="123.3" cy="91.3" r="1.15"/><circle cx="138.3" cy="141.8" r="1.15"/><circle cx="118.9" cy="100.5" r="1.15"/><circle cx="100.9" cy="134.3" r="1.15"/><circle cx="117.1" cy="135.2" r="1.15"/><circle cx="106.6" cy="114.1" r="1.15"/><circle cx="129.0" cy="112.8" r="1.15"/><circle cx="101.1" cy="142.3" r="1.15"/><circle cx="108.7" cy="50.7" r="1.15"/><circle cx="103.7" cy="139.2" r="1.15"/><circle cx="99.4" cy="126.8" r="1.15"/><circle cx="101.8" cy="142.5" r="1.15"/><circle cx="101.5" cy="143.4" r="1.15"/><circle cx="122.0" cy="124.5" r="1.15"/><circle cx="100.5" cy="81.4" r="1.15"/><circle cx="105.7" cy="124.9" r="1.15"/><circle cx="98.8" cy="117.6" r="1.15"/><circle cx="99.3" cy="141.3" r="1.15"/><circle cx="99.0" cy="147.8" r="1.15"/><circle cx="100.4" cy="106.6" r="1.15"/><circle cx="107.1" cy="71.1" r="1.15"/><circle cx="114.3" cy="138.6" r="1.15"/><circle cx="109.0" cy="151.7" r="1.15"/><circle cx="99.6" cy="153.9" r="1.15"/><circle cx="131.3" cy="136.7" r="1.15"/><circle cx="107.8" cy="136.7" r="1.15"/><circle cx="107.5" cy="134.1" r="1.15"/><circle cx="140.6" cy="151.5" r="1.15"/><circle cx="98.7" cy="109.4" r="1.15"/><circle cx="112.9" cy="140.2" r="1.15"/><circle cx="101.6" cy="79.5" r="1.15"/><circle cx="123.7" cy="100.6" r="1.15"/><circle cx="106.9" cy="105.6" r="1.15"/><circle cx="108.1" cy="137.7" r="1.15"/><circle cx="99.3" cy="130.2" r="1.15"/><circle cx="106.0" cy="132.2" r="1.15"/><circle cx="104.2" cy="137.7" r="1.15"/><circle cx="121.6" cy="134.8" r="1.15"/><circle cx="101.0" cy="152.4" r="1.15"/><circle cx="100.5" cy="124.7" r="1.15"/><circle cx="106.1" cy="151.1" r="1.15"/><circle cx="99.5" cy="149.0" r="1.15"/><circle cx="104.7" cy="147.3" r="1.15"/><circle cx="106.6" cy="112.4" r="1.15"/><circle cx="99.1" cy="130.7" r="1.15"/><circle cx="104.3" cy="122.6" r="1.15"/><circle cx="112.0" cy="126.5" r="1.15"/><circle cx="103.3" cy="40.1" r="1.15"/><circle cx="108.0" cy="140.9" r="1.15"/><circle cx="103.7" cy="152.9" r="1.15"/><circle cx="101.3" cy="111.6" r="1.15"/><circle cx="107.5" cy="51.9" r="1.15"/><circle cx="102.3" cy="104.6" r="1.15"/><circle cx="160.8" cy="110.1" r="1.15"/><circle cx="161.3" cy="134.4" r="1.15"/><circle cx="104.8" cy="111.6" r="1.15"/><circle cx="133.8" cy="98.4" r="1.15"/><circle cx="128.2" cy="73.0" r="1.15"/><circle cx="105.1" cy="116.1" r="1.15"/><circle cx="154.4" cy="66.0" r="1.15"/><circle cx="115.5" cy="47.6" r="1.15"/><circle cx="116.0" cy="104.3" r="1.15"/><circle cx="101.2" cy="130.7" r="1.15"/><circle cx="102.3" cy="149.7" r="1.15"/><circle cx="157.7" cy="153.7" r="1.15"/><circle cx="143.9" cy="47.1" r="1.15"/><circle cx="106.9" cy="82.4" r="1.15"/><circle cx="132.0" cy="129.9" r="1.15"/><circle cx="152.1" cy="150.8" r="1.15"/><circle cx="141.8" cy="80.0" r="1.15"/><circle cx="135.0" cy="138.4" r="1.15"/><circle cx="116.6" cy="38.4" r="1.15"/><circle cx="110.7" cy="59.2" r="1.15"/><circle cx="150.4" cy="146.9" r="1.15"/><circle cx="109.6" cy="99.2" r="1.15"/><circle cx="103.9" cy="85.5" r="1.15"/><circle cx="105.8" cy="119.5" r="1.15"/><circle cx="125.3" cy="86.2" r="1.15"/><circle cx="144.0" cy="31.7" r="1.15"/><circle cx="143.6" cy="31.7" r="1.15"/><circle cx="163.7" cy="31.7" r="1.15"/><circle cx="193.5" cy="31.7" r="1.15"/><circle cx="189.0" cy="31.7" r="1.15"/><circle cx="134.7" cy="31.7" r="1.15"/><circle cx="161.9" cy="31.7" r="1.15"/><circle cx="166.9" cy="31.7" r="1.15"/><circle cx="193.8" cy="31.7" r="1.15"/><circle cx="196.6" cy="31.7" r="1.15"/><circle cx="145.2" cy="31.7" r="1.15"/><circle cx="152.3" cy="31.7" r="1.15"/><circle cx="108.5" cy="31.7" r="1.15"/><circle cx="107.1" cy="31.7" r="1.15"/><circle cx="107.2" cy="31.7" r="1.15"/><circle cx="124.9" cy="31.7" r="1.15"/><circle cx="115.2" cy="31.7" r="1.15"/><circle cx="108.8" cy="31.7" r="1.15"/><circle cx="108.2" cy="31.7" r="1.15"/><circle cx="106.7" cy="31.7" r="1.15"/><circle cx="118.7" cy="31.7" r="1.15"/><circle cx="105.1" cy="31.7" r="1.15"/><circle cx="121.2" cy="31.7" r="1.15"/><circle cx="118.4" cy="31.7" r="1.15"/><circle cx="106.0" cy="31.7" r="1.15"/><circle cx="110.1" cy="31.7" r="1.15"/><circle cx="103.7" cy="31.7" r="1.15"/><circle cx="112.3" cy="31.7" r="1.15"/><circle cx="124.6" cy="31.7" r="1.15"/><circle cx="122.0" cy="31.7" r="1.15"/><circle cx="41.5" cy="31.7" r="1.15"/><circle cx="45.4" cy="31.7" r="1.15"/><circle cx="42.0" cy="31.7" r="1.15"/><circle cx="43.9" cy="31.7" r="1.15"/><circle cx="47.4" cy="31.7" r="1.15"/><circle cx="42.8" cy="31.7" r="1.15"/><circle cx="44.5" cy="31.7" r="1.15"/><circle cx="45.7" cy="31.7" r="1.15"/><circle cx="62.5" cy="31.7" r="1.15"/><circle cx="69.7" cy="31.7" r="1.15"/><circle cx="65.3" cy="31.7" r="1.15"/><circle cx="64.3" cy="31.7" r="1.15"/><circle cx="64.7" cy="31.7" r="1.15"/><circle cx="65.7" cy="31.7" r="1.15"/></g>
<line x1="74.70" y1="22.00" x2="74.70" y2="169.20" stroke="#000" stroke-width="1.0" stroke-dasharray="1 2.2" stroke-linecap="round"/>
<line x1="98.70" y1="22.00" x2="98.70" y2="169.20" stroke="#000" stroke-width="1.0" stroke-dasharray="1 2.2" stroke-linecap="round"/>
<line x1="31.00" y1="154.22" x2="200.00" y2="154.22" stroke="#000" stroke-width="1.0" stroke-dasharray="1 2.2" stroke-linecap="round"/>
<line x1="31.00" y1="22.00" x2="31.00" y2="169.20" stroke="#333" stroke-width="0.9"/>
<line x1="31.00" y1="169.20" x2="200.00" y2="169.20" stroke="#333" stroke-width="0.9"/>
<line x1="28.50" y1="162.70" x2="31.00" y2="162.70" stroke="#333" stroke-width="0.8"/>
<text x="27.50" y="165.60" font-size="8.2" text-anchor="end" fill="#333">0</text>
<line x1="28.50" y1="120.30" x2="31.00" y2="120.30" stroke="#333" stroke-width="0.8"/>
<text x="27.50" y="123.20" font-size="8.2" text-anchor="end" fill="#333">100</text>
<line x1="28.50" y1="77.90" x2="31.00" y2="77.90" stroke="#333" stroke-width="0.8"/>
<text x="27.50" y="80.80" font-size="8.2" text-anchor="end" fill="#333">200</text>
<line x1="28.50" y1="35.50" x2="31.00" y2="35.50" stroke="#333" stroke-width="0.8"/>
<text x="27.50" y="38.40" font-size="8.2" text-anchor="end" fill="#333">300</text>
<line x1="38.70" y1="169.20" x2="38.70" y2="171.70" stroke="#333" stroke-width="0.8"/>
<text x="38.70" y="179.00" font-size="8.2" text-anchor="middle" fill="#333">-4</text>
<line x1="62.70" y1="169.20" x2="62.70" y2="171.70" stroke="#333" stroke-width="0.8"/>
<text x="62.70" y="179.00" font-size="8.2" text-anchor="middle" fill="#333">-2</text>
<line x1="86.70" y1="169.20" x2="86.70" y2="171.70" stroke="#333" stroke-width="0.8"/>
<text x="86.70" y="179.00" font-size="8.2" text-anchor="middle" fill="#333">0</text>
<line x1="110.70" y1="169.20" x2="110.70" y2="171.70" stroke="#333" stroke-width="0.8"/>
<text x="110.70" y="179.00" font-size="8.2" text-anchor="middle" fill="#333">2</text>
<line x1="134.70" y1="169.20" x2="134.70" y2="171.70" stroke="#333" stroke-width="0.8"/>
<text x="134.70" y="179.00" font-size="8.2" text-anchor="middle" fill="#333">4</text>
<line x1="158.70" y1="169.20" x2="158.70" y2="171.70" stroke="#333" stroke-width="0.8"/>
<text x="158.70" y="179.00" font-size="8.2" text-anchor="middle" fill="#333">6</text>
<line x1="182.70" y1="169.20" x2="182.70" y2="171.70" stroke="#333" stroke-width="0.8"/>
<text x="182.70" y="179.00" font-size="8.2" text-anchor="middle" fill="#333">8</text>
<text x="115.30" y="189.80" font-size="8.75" text-anchor="middle" fill="#000">Log<tspan font-size="5.8" dy="2">2</tspan><tspan dy="-2">FoldChange</tspan></text>
<text x="0" y="0" font-size="8.6" text-anchor="middle" transform="translate(9.8 99.3) rotate(-90)">-Log<tspan font-size="6" dy="2">10</tspan><tspan dy="-2">adj </tspan><tspan font-style="italic">P</tspan></text>
<line x1="68.00" y1="30.60" x2="67.00" y2="30.80" stroke="#000" stroke-width="0.6"/>
<circle cx="67.00" cy="30.80" r="1.20" fill="#000" stroke="none" stroke-width="1"/>
<rect x="68.00" y="24.10" width="18.20" height="6.50" fill="#fff" stroke="#9d9d9d" stroke-width="0.6"/>
<text x="77.10" y="29.30" font-size="7.4" text-anchor="middle" fill="#000" textLength="16.2" lengthAdjust="spacingAndGlyphs">Mrc1</text>
<line x1="67.80" y1="48.30" x2="67.80" y2="49.70" stroke="#000" stroke-width="0.6"/>
<circle cx="67.80" cy="49.70" r="1.20" fill="#000" stroke="none" stroke-width="1"/>
<rect x="64.00" y="41.40" width="17.80" height="6.90" fill="#fff" stroke="#9d9d9d" stroke-width="0.6"/>
<text x="72.90" y="47.00" font-size="7.4" text-anchor="middle" fill="#000" textLength="15.8" lengthAdjust="spacingAndGlyphs">Apoe</text>
<line x1="73.00" y1="73.40" x2="73.00" y2="74.70" stroke="#000" stroke-width="0.6"/>
<circle cx="73.00" cy="74.70" r="1.20" fill="#000" stroke="none" stroke-width="1"/>
<rect x="67.00" y="66.90" width="22.90" height="6.50" fill="#fff" stroke="#9d9d9d" stroke-width="0.6"/>
<text x="78.45" y="72.10" font-size="7.4" text-anchor="middle" fill="#000" textLength="20.9" lengthAdjust="spacingAndGlyphs">Trem2</text>
<line x1="68.50" y1="87.60" x2="68.50" y2="89.50" stroke="#000" stroke-width="0.6"/>
<circle cx="68.50" cy="89.50" r="1.20" fill="#000" stroke="none" stroke-width="1"/>
<rect x="64.00" y="80.60" width="20.70" height="7.00" fill="#fff" stroke="#9d9d9d" stroke-width="0.6"/>
<text x="74.35" y="86.30" font-size="7.4" text-anchor="middle" fill="#000" textLength="18.7" lengthAdjust="spacingAndGlyphs">Stab1</text>
<line x1="74.60" y1="147.50" x2="74.60" y2="150.00" stroke="#000" stroke-width="0.6"/>
<circle cx="74.60" cy="150.00" r="1.20" fill="#000" stroke="none" stroke-width="1"/>
<rect x="62.40" y="141.00" width="19.90" height="6.50" fill="#fff" stroke="#9d9d9d" stroke-width="0.6"/>
<text x="72.35" y="146.20" font-size="7.4" text-anchor="middle" fill="#000" textLength="17.9" lengthAdjust="spacingAndGlyphs">Csf1r</text>
<line x1="129.50" y1="30.40" x2="131.40" y2="30.60" stroke="#000" stroke-width="0.6"/>
<circle cx="131.40" cy="30.60" r="1.20" fill="#000" stroke="none" stroke-width="1"/>
<rect x="110.10" y="23.60" width="19.40" height="6.80" fill="#fff" stroke="#9d9d9d" stroke-width="0.6"/>
<text x="119.80" y="29.10" font-size="7.4" text-anchor="middle" fill="#000" textLength="17.4" lengthAdjust="spacingAndGlyphs">Isg15</text>
<line x1="107.00" y1="35.00" x2="107.00" y2="32.80" stroke="#000" stroke-width="0.6"/>
<circle cx="107.00" cy="32.80" r="1.20" fill="#000" stroke="none" stroke-width="1"/>
<rect x="91.00" y="35.00" width="25.60" height="6.60" fill="#fff" stroke="#9d9d9d" stroke-width="0.6"/>
<text x="103.80" y="40.30" font-size="7.4" text-anchor="middle" fill="#000" textLength="23.6" lengthAdjust="spacingAndGlyphs">Adgre1</text>
<line x1="135.00" y1="34.10" x2="135.00" y2="32.80" stroke="#000" stroke-width="0.6"/>
<circle cx="135.00" cy="32.80" r="1.20" fill="#000" stroke="none" stroke-width="1"/>
<rect x="132.30" y="34.10" width="13.80" height="7.40" fill="#fff" stroke="#9d9d9d" stroke-width="0.6"/>
<text x="139.20" y="40.20" font-size="7.4" text-anchor="middle" fill="#000" textLength="11.8" lengthAdjust="spacingAndGlyphs">Ifit1</text>
<line x1="171.60" y1="42.00" x2="171.60" y2="43.40" stroke="#000" stroke-width="0.6"/>
<circle cx="171.60" cy="43.40" r="1.20" fill="#000" stroke="none" stroke-width="1"/>
<rect x="167.30" y="35.00" width="19.80" height="7.00" fill="#fff" stroke="#9d9d9d" stroke-width="0.6"/>
<text x="177.20" y="40.70" font-size="7.4" text-anchor="middle" fill="#000" textLength="17.8" lengthAdjust="spacingAndGlyphs">Cd38</text>
<line x1="122.10" y1="47.00" x2="122.10" y2="45.20" stroke="#000" stroke-width="0.6"/>
<circle cx="122.10" cy="45.20" r="1.20" fill="#000" stroke="none" stroke-width="1"/>
<rect x="104.60" y="47.00" width="24.90" height="7.40" fill="#fff" stroke="#9d9d9d" stroke-width="0.6"/>
<text x="117.05" y="53.10" font-size="7.4" text-anchor="middle" fill="#000" textLength="22.9" lengthAdjust="spacingAndGlyphs">Clec4e</text>
<line x1="134.10" y1="69.70" x2="134.10" y2="71.00" stroke="#000" stroke-width="0.6"/>
<circle cx="134.10" cy="71.00" r="1.20" fill="#000" stroke="none" stroke-width="1"/>
<rect x="133.20" y="62.70" width="14.40" height="7.00" fill="#fff" stroke="#9d9d9d" stroke-width="0.6"/>
<text x="140.40" y="68.40" font-size="7.4" text-anchor="middle" fill="#000" textLength="12.4" lengthAdjust="spacingAndGlyphs">Ifit3</text>
<line x1="131.40" y1="107.70" x2="131.40" y2="109.20" stroke="#000" stroke-width="0.6"/>
<circle cx="131.40" cy="109.20" r="1.20" fill="#000" stroke="none" stroke-width="1"/>
<rect x="131.40" y="101.00" width="12.90" height="6.70" fill="#fff" stroke="#9d9d9d" stroke-width="0.6"/>
<text x="137.85" y="106.40" font-size="7.4" text-anchor="middle" fill="#000" textLength="10.9" lengthAdjust="spacingAndGlyphs">Ifit2</text>
<line x1="103.00" y1="118.40" x2="103.00" y2="120.00" stroke="#000" stroke-width="0.6"/>
<circle cx="103.00" cy="120.00" r="1.20" fill="#000" stroke="none" stroke-width="1"/>
<rect x="90.10" y="112.40" width="14.30" height="6.00" fill="#fff" stroke="#9d9d9d" stroke-width="0.6"/>
<text x="97.25" y="117.10" font-size="7.4" text-anchor="middle" fill="#000" textLength="12.3" lengthAdjust="spacingAndGlyphs">Ccl4</text>
<line x1="105.90" y1="125.20" x2="106.60" y2="124.50" stroke="#000" stroke-width="0.6"/>
<circle cx="106.60" cy="124.50" r="1.20" fill="#000" stroke="none" stroke-width="1"/>
<rect x="93.60" y="125.20" width="12.30" height="6.70" fill="#fff" stroke="#9d9d9d" stroke-width="0.6"/>
<text x="99.75" y="130.60" font-size="7.4" text-anchor="middle" fill="#000" textLength="10.3" lengthAdjust="spacingAndGlyphs">Tnf</text>
<line x1="124.30" y1="122.00" x2="124.30" y2="119.30" stroke="#000" stroke-width="0.6"/>
<circle cx="124.30" cy="119.30" r="1.20" fill="#000" stroke="none" stroke-width="1"/>
<rect x="109.90" y="122.00" width="18.80" height="6.30" fill="#fff" stroke="#9d9d9d" stroke-width="0.6"/>
<text x="119.30" y="127.00" font-size="7.4" text-anchor="middle" fill="#000" textLength="16.8" lengthAdjust="spacingAndGlyphs">Cxcl2</text>
<line x1="113.00" y1="153.00" x2="113.00" y2="151.00" stroke="#000" stroke-width="0.6"/>
<circle cx="113.00" cy="151.00" r="1.20" fill="#000" stroke="none" stroke-width="1"/>
<rect x="98.00" y="153.00" width="19.00" height="6.50" fill="#fff" stroke="#9d9d9d" stroke-width="0.6"/>
<text x="107.50" y="158.20" font-size="7.4" text-anchor="middle" fill="#000" textLength="17.0" lengthAdjust="spacingAndGlyphs">Isg20</text>
<line x1="155.40" y1="154.40" x2="155.40" y2="154.80" stroke="#000" stroke-width="0.6"/>
<circle cx="155.40" cy="154.80" r="1.20" fill="#000" stroke="none" stroke-width="1"/>
<rect x="152.60" y="147.60" width="18.40" height="6.80" fill="#fff" stroke="#9d9d9d" stroke-width="0.6"/>
<text x="161.80" y="153.10" font-size="7.4" text-anchor="middle" fill="#000" textLength="16.4" lengthAdjust="spacingAndGlyphs">Nos2</text>
<text x="5.80" y="10.00" font-size="13.2" text-anchor="start" fill="#000" font-weight="bold">a</text>
<rect x="254.10" y="12.00" width="11.48" height="7.39" fill="#8ebcda" stroke="#9a9a9a" stroke-width="0.35"/>
<rect x="265.58" y="12.00" width="11.48" height="7.39" fill="#8ebcda" stroke="#9a9a9a" stroke-width="0.35"/>
<rect x="277.06" y="12.00" width="11.48" height="7.39" fill="#8ebcda" stroke="#9a9a9a" stroke-width="0.35"/>
<rect x="288.54" y="12.00" width="11.48" height="7.39" fill="#fc945d" stroke="#9a9a9a" stroke-width="0.35"/>
<rect x="300.02" y="12.00" width="11.48" height="7.39" fill="#e34e37" stroke="#9a9a9a" stroke-width="0.35"/>
<rect x="311.50" y="12.00" width="11.48" height="7.39" fill="#fdae6f" stroke="#9a9a9a" stroke-width="0.35"/>
<text x="252.10" y="17.89" font-size="8.9" text-anchor="end" fill="#000">Nos2</text>
<rect x="254.10" y="19.39" width="11.48" height="7.39" fill="#8ebcda" stroke="#9a9a9a" stroke-width="0.35"/>
<rect x="265.58" y="19.39" width="11.48" height="7.39" fill="#8ebcda" stroke="#9a9a9a" stroke-width="0.35"/>
<rect x="277.06" y="19.39" width="11.48" height="7.39" fill="#8ebcda" stroke="#9a9a9a" stroke-width="0.35"/>
<rect x="288.54" y="19.39" width="11.48" height="7.39" fill="#ef6c47" stroke="#9a9a9a" stroke-width="0.35"/>
<rect x="300.02" y="19.39" width="11.48" height="7.39" fill="#fdae6f" stroke="#9a9a9a" stroke-width="0.35"/>
<rect x="311.50" y="19.39" width="11.48" height="7.39" fill="#ef6c47" stroke="#9a9a9a" stroke-width="0.35"/>
<text x="252.10" y="25.29" font-size="8.9" text-anchor="end" fill="#000">Syk</text>
<rect x="254.10" y="26.78" width="11.48" height="7.39" fill="#8ebcda" stroke="#9a9a9a" stroke-width="0.35"/>
<rect x="265.58" y="26.78" width="11.48" height="7.39" fill="#8ebcda" stroke="#9a9a9a" stroke-width="0.35"/>
<rect x="277.06" y="26.78" width="11.48" height="7.39" fill="#8ebcda" stroke="#9a9a9a" stroke-width="0.35"/>
<rect x="288.54" y="26.78" width="11.48" height="7.39" fill="#fda569" stroke="#9a9a9a" stroke-width="0.35"/>
<rect x="300.02" y="26.78" width="11.48" height="7.39" fill="#ef6c47" stroke="#9a9a9a" stroke-width="0.35"/>
<rect x="311.50" y="26.78" width="11.48" height="7.39" fill="#f3764d" stroke="#9a9a9a" stroke-width="0.35"/>
<text x="252.10" y="32.68" font-size="8.9" text-anchor="end" fill="#000">Src</text>
<rect x="254.10" y="34.17" width="11.48" height="7.39" fill="#84b2d4" stroke="#9a9a9a" stroke-width="0.35"/>
<rect x="265.58" y="34.17" width="11.48" height="7.39" fill="#8ebcda" stroke="#9a9a9a" stroke-width="0.35"/>
<rect x="277.06" y="34.17" width="11.48" height="7.39" fill="#acd1e5" stroke="#9a9a9a" stroke-width="0.35"/>
<rect x="288.54" y="34.17" width="11.48" height="7.39" fill="#f3764d" stroke="#9a9a9a" stroke-width="0.35"/>
<rect x="300.02" y="34.17" width="11.48" height="7.39" fill="#fc945d" stroke="#9a9a9a" stroke-width="0.35"/>
<rect x="311.50" y="34.17" width="11.48" height="7.39" fill="#fb8a58" stroke="#9a9a9a" stroke-width="0.35"/>
<text x="252.10" y="40.07" font-size="8.9" text-anchor="end" fill="#000">Fgr</text>
<rect x="254.10" y="41.56" width="11.48" height="7.39" fill="#8ebcda" stroke="#9a9a9a" stroke-width="0.35"/>
<rect x="265.58" y="41.56" width="11.48" height="7.39" fill="#8ebcda" stroke="#9a9a9a" stroke-width="0.35"/>
<rect x="277.06" y="41.56" width="11.48" height="7.39" fill="#77a6ce" stroke="#9a9a9a" stroke-width="0.35"/>
<rect x="288.54" y="41.56" width="11.48" height="7.39" fill="#fb8a58" stroke="#9a9a9a" stroke-width="0.35"/>
<rect x="300.02" y="41.56" width="11.48" height="7.39" fill="#f78052" stroke="#9a9a9a" stroke-width="0.35"/>
<rect x="311.50" y="41.56" width="11.48" height="7.39" fill="#f3764d" stroke="#9a9a9a" stroke-width="0.35"/>
<text x="252.10" y="47.46" font-size="8.9" text-anchor="end" fill="#000">Hck</text>
<rect x="254.10" y="48.95" width="11.48" height="7.39" fill="#8ebcda" stroke="#9a9a9a" stroke-width="0.35"/>
<rect x="265.58" y="48.95" width="11.48" height="7.39" fill="#8ebcda" stroke="#9a9a9a" stroke-width="0.35"/>
<rect x="277.06" y="48.95" width="11.48" height="7.39" fill="#8ebcda" stroke="#9a9a9a" stroke-width="0.35"/>
<rect x="288.54" y="48.95" width="11.48" height="7.39" fill="#fb8a58" stroke="#9a9a9a" stroke-width="0.35"/>
<rect x="300.02" y="48.95" width="11.48" height="7.39" fill="#f3764d" stroke="#9a9a9a" stroke-width="0.35"/>
<rect x="311.50" y="48.95" width="11.48" height="7.39" fill="#fb8a58" stroke="#9a9a9a" stroke-width="0.35"/>
<text x="252.10" y="54.84" font-size="8.9" text-anchor="end" fill="#000">Lyn</text>
<rect x="254.10" y="56.34" width="11.48" height="7.39" fill="#acd1e5" stroke="#9a9a9a" stroke-width="0.35"/>
<rect x="265.58" y="56.34" width="11.48" height="7.39" fill="#8ebcda" stroke="#9a9a9a" stroke-width="0.35"/>
<rect x="277.06" y="56.34" width="11.48" height="7.39" fill="#77a6ce" stroke="#9a9a9a" stroke-width="0.35"/>
<rect x="288.54" y="56.34" width="11.48" height="7.39" fill="#fc945d" stroke="#9a9a9a" stroke-width="0.35"/>
<rect x="300.02" y="56.34" width="11.48" height="7.39" fill="#f3764d" stroke="#9a9a9a" stroke-width="0.35"/>
<rect x="311.50" y="56.34" width="11.48" height="7.39" fill="#ef6c47" stroke="#9a9a9a" stroke-width="0.35"/>
<text x="252.10" y="62.23" font-size="8.9" text-anchor="end" fill="#000">Crk</text>
<rect x="254.10" y="63.73" width="11.48" height="7.39" fill="#77a6ce" stroke="#9a9a9a" stroke-width="0.35"/>
<rect x="265.58" y="63.73" width="11.48" height="7.39" fill="#8ebcda" stroke="#9a9a9a" stroke-width="0.35"/>
<rect x="277.06" y="63.73" width="11.48" height="7.39" fill="#acd1e5" stroke="#9a9a9a" stroke-width="0.35"/>
<rect x="288.54" y="63.73" width="11.48" height="7.39" fill="#e7583d" stroke="#9a9a9a" stroke-width="0.35"/>
<rect x="300.02" y="63.73" width="11.48" height="7.39" fill="#fb8a58" stroke="#9a9a9a" stroke-width="0.35"/>
<rect x="311.50" y="63.73" width="11.48" height="7.39" fill="#fc945d" stroke="#9a9a9a" stroke-width="0.35"/>
<text x="252.10" y="69.62" font-size="8.9" text-anchor="end" fill="#000">Ptk</text>
<rect x="254.10" y="71.12" width="11.48" height="7.39" fill="#8ebcda" stroke="#9a9a9a" stroke-width="0.35"/>
<rect x="265.58" y="71.12" width="11.48" height="7.39" fill="#77a6ce" stroke="#9a9a9a" stroke-width="0.35"/>
<rect x="277.06" y="71.12" width="11.48" height="7.39" fill="#cce6f1" stroke="#9a9a9a" stroke-width="0.35"/>
<rect x="288.54" y="71.12" width="11.48" height="7.39" fill="#d73027" stroke="#9a9a9a" stroke-width="0.35"/>
<rect x="300.02" y="71.12" width="11.48" height="7.39" fill="#feeca2" stroke="#9a9a9a" stroke-width="0.35"/>
<rect x="311.50" y="71.12" width="11.48" height="7.39" fill="#f3764d" stroke="#9a9a9a" stroke-width="0.35"/>
<text x="252.10" y="77.02" font-size="8.9" text-anchor="end" fill="#000">Plcg2</text>
<rect x="254.10" y="78.51" width="11.48" height="7.39" fill="#8ebcda" stroke="#9a9a9a" stroke-width="0.35"/>
<rect x="265.58" y="78.51" width="11.48" height="7.39" fill="#8ebcda" stroke="#9a9a9a" stroke-width="0.35"/>
<rect x="277.06" y="78.51" width="11.48" height="7.39" fill="#8ebcda" stroke="#9a9a9a" stroke-width="0.35"/>
<rect x="288.54" y="78.51" width="11.48" height="7.39" fill="#f78052" stroke="#9a9a9a" stroke-width="0.35"/>
<rect x="300.02" y="78.51" width="11.48" height="7.39" fill="#fdc07b" stroke="#9a9a9a" stroke-width="0.35"/>
<rect x="311.50" y="78.51" width="11.48" height="7.39" fill="#e34e37" stroke="#9a9a9a" stroke-width="0.35"/>
<text x="252.10" y="84.40" font-size="8.9" text-anchor="end" fill="#000">Prkcb</text>
<rect x="254.10" y="85.90" width="11.48" height="7.39" fill="#77a6ce" stroke="#9a9a9a" stroke-width="0.35"/>
<rect x="265.58" y="85.90" width="11.48" height="7.39" fill="#afd3e6" stroke="#9a9a9a" stroke-width="0.35"/>
<rect x="277.06" y="85.90" width="11.48" height="7.39" fill="#8ebcda" stroke="#9a9a9a" stroke-width="0.35"/>
<rect x="288.54" y="85.90" width="11.48" height="7.39" fill="#fb8a58" stroke="#9a9a9a" stroke-width="0.35"/>
<rect x="300.02" y="85.90" width="11.48" height="7.39" fill="#fdc07b" stroke="#9a9a9a" stroke-width="0.35"/>
<rect x="311.50" y="85.90" width="11.48" height="7.39" fill="#df4432" stroke="#9a9a9a" stroke-width="0.35"/>
<text x="252.10" y="91.79" font-size="8.9" text-anchor="end" fill="#000">Pik3ap1</text>
<rect x="254.10" y="93.29" width="11.48" height="7.39" fill="#8ebcda" stroke="#9a9a9a" stroke-width="0.35"/>
<rect x="265.58" y="93.29" width="11.48" height="7.39" fill="#d5ecf4" stroke="#9a9a9a" stroke-width="0.35"/>
<rect x="277.06" y="93.29" width="11.48" height="7.39" fill="#6090c2" stroke="#9a9a9a" stroke-width="0.35"/>
<rect x="288.54" y="93.29" width="11.48" height="7.39" fill="#fb8a58" stroke="#9a9a9a" stroke-width="0.35"/>
<rect x="300.02" y="93.29" width="11.48" height="7.39" fill="#fdc981" stroke="#9a9a9a" stroke-width="0.35"/>
<rect x="311.50" y="93.29" width="11.48" height="7.39" fill="#eb6242" stroke="#9a9a9a" stroke-width="0.35"/>
<text x="252.10" y="99.18" font-size="8.9" text-anchor="end" fill="#000">Pik3ca</text>
<rect x="254.10" y="100.68" width="11.48" height="7.39" fill="#8ebcda" stroke="#9a9a9a" stroke-width="0.35"/>
<rect x="265.58" y="100.68" width="11.48" height="7.39" fill="#8ebcda" stroke="#9a9a9a" stroke-width="0.35"/>
<rect x="277.06" y="100.68" width="11.48" height="7.39" fill="#8ebcda" stroke="#9a9a9a" stroke-width="0.35"/>
<rect x="288.54" y="100.68" width="11.48" height="7.39" fill="#f3764d" stroke="#9a9a9a" stroke-width="0.35"/>
<rect x="300.02" y="100.68" width="11.48" height="7.39" fill="#fc9d63" stroke="#9a9a9a" stroke-width="0.35"/>
<rect x="311.50" y="100.68" width="11.48" height="7.39" fill="#f3764d" stroke="#9a9a9a" stroke-width="0.35"/>
<text x="252.10" y="106.57" font-size="8.9" text-anchor="end" fill="#000">Pik3r5</text>
<rect x="254.10" y="108.07" width="11.48" height="7.39" fill="#8ebcda" stroke="#9a9a9a" stroke-width="0.35"/>
<rect x="265.58" y="108.07" width="11.48" height="7.39" fill="#8ebcda" stroke="#9a9a9a" stroke-width="0.35"/>
<rect x="277.06" y="108.07" width="11.48" height="7.39" fill="#8ebcda" stroke="#9a9a9a" stroke-width="0.35"/>
<rect x="288.54" y="108.07" width="11.48" height="7.39" fill="#fdae6f" stroke="#9a9a9a" stroke-width="0.35"/>
<rect x="300.02" y="108.07" width="11.48" height="7.39" fill="#f3764d" stroke="#9a9a9a" stroke-width="0.35"/>
<rect x="311.50" y="108.07" width="11.48" height="7.39" fill="#ef6c47" stroke="#9a9a9a" stroke-width="0.35"/>
<text x="252.10" y="113.96" font-size="8.9" text-anchor="end" fill="#000">Vav1</text>
<rect x="254.10" y="115.46" width="11.48" height="7.39" fill="#8ebcda" stroke="#9a9a9a" stroke-width="0.35"/>
<rect x="265.58" y="115.46" width="11.48" height="7.39" fill="#8ebcda" stroke="#9a9a9a" stroke-width="0.35"/>
<rect x="277.06" y="115.46" width="11.48" height="7.39" fill="#a6cde3" stroke="#9a9a9a" stroke-width="0.35"/>
<rect x="288.54" y="115.46" width="11.48" height="7.39" fill="#fda569" stroke="#9a9a9a" stroke-width="0.35"/>
<rect x="300.02" y="115.46" width="11.48" height="7.39" fill="#e34e37" stroke="#9a9a9a" stroke-width="0.35"/>
<rect x="311.50" y="115.46" width="11.48" height="7.39" fill="#fdae6f" stroke="#9a9a9a" stroke-width="0.35"/>
<text x="252.10" y="121.35" font-size="8.9" text-anchor="end" fill="#000">Vasp</text>
<rect x="254.10" y="122.85" width="11.48" height="7.39" fill="#8ebcda" stroke="#9a9a9a" stroke-width="0.35"/>
<rect x="265.58" y="122.85" width="11.48" height="7.39" fill="#77a6ce" stroke="#9a9a9a" stroke-width="0.35"/>
<rect x="277.06" y="122.85" width="11.48" height="7.39" fill="#daeff6" stroke="#9a9a9a" stroke-width="0.35"/>
<rect x="288.54" y="122.85" width="11.48" height="7.39" fill="#d73027" stroke="#9a9a9a" stroke-width="0.35"/>
<rect x="300.02" y="122.85" width="11.48" height="7.39" fill="#f78052" stroke="#9a9a9a" stroke-width="0.35"/>
<rect x="311.50" y="122.85" width="11.48" height="7.39" fill="#f2fad8" stroke="#9a9a9a" stroke-width="0.35"/>
<text x="252.10" y="128.74" font-size="8.9" text-anchor="end" fill="#000">Wasl</text>
<rect x="254.10" y="130.24" width="11.48" height="7.39" fill="#8ebcda" stroke="#9a9a9a" stroke-width="0.35"/>
<rect x="265.58" y="130.24" width="11.48" height="7.39" fill="#a6cde3" stroke="#9a9a9a" stroke-width="0.35"/>
<rect x="277.06" y="130.24" width="11.48" height="7.39" fill="#8ebcda" stroke="#9a9a9a" stroke-width="0.35"/>
<rect x="288.54" y="130.24" width="11.48" height="7.39" fill="#fb8a58" stroke="#9a9a9a" stroke-width="0.35"/>
<rect x="300.02" y="130.24" width="11.48" height="7.39" fill="#ef6c47" stroke="#9a9a9a" stroke-width="0.35"/>
<rect x="311.50" y="130.24" width="11.48" height="7.39" fill="#fc945d" stroke="#9a9a9a" stroke-width="0.35"/>
<text x="252.10" y="136.13" font-size="8.9" text-anchor="end" fill="#000">Cttn</text>
<rect x="254.10" y="137.63" width="11.48" height="7.39" fill="#b6d7e8" stroke="#9a9a9a" stroke-width="0.35"/>
<rect x="265.58" y="137.63" width="11.48" height="7.39" fill="#9ec8e0" stroke="#9a9a9a" stroke-width="0.35"/>
<rect x="277.06" y="137.63" width="11.48" height="7.39" fill="#77a6ce" stroke="#9a9a9a" stroke-width="0.35"/>
<rect x="288.54" y="137.63" width="11.48" height="7.39" fill="#fc945d" stroke="#9a9a9a" stroke-width="0.35"/>
<rect x="300.02" y="137.63" width="11.48" height="7.39" fill="#e7583d" stroke="#9a9a9a" stroke-width="0.35"/>
<rect x="311.50" y="137.63" width="11.48" height="7.39" fill="#fdae6f" stroke="#9a9a9a" stroke-width="0.35"/>
<text x="252.10" y="143.52" font-size="8.9" text-anchor="end" fill="#000">Cfl2</text>
<rect x="254.10" y="145.02" width="11.48" height="7.39" fill="#8ebcda" stroke="#9a9a9a" stroke-width="0.35"/>
<rect x="265.58" y="145.02" width="11.48" height="7.39" fill="#8ebcda" stroke="#9a9a9a" stroke-width="0.35"/>
<rect x="277.06" y="145.02" width="11.48" height="7.39" fill="#8ebcda" stroke="#9a9a9a" stroke-width="0.35"/>
<rect x="288.54" y="145.02" width="11.48" height="7.39" fill="#f78052" stroke="#9a9a9a" stroke-width="0.35"/>
<rect x="300.02" y="145.02" width="11.48" height="7.39" fill="#fb8a58" stroke="#9a9a9a" stroke-width="0.35"/>
<rect x="311.50" y="145.02" width="11.48" height="7.39" fill="#fb8a58" stroke="#9a9a9a" stroke-width="0.35"/>
<text x="252.10" y="150.91" font-size="8.9" text-anchor="end" fill="#000">Rac2</text>
<rect x="254.10" y="152.41" width="11.48" height="7.39" fill="#8ebcda" stroke="#9a9a9a" stroke-width="0.35"/>
<rect x="265.58" y="152.41" width="11.48" height="7.39" fill="#8ebcda" stroke="#9a9a9a" stroke-width="0.35"/>
<rect x="277.06" y="152.41" width="11.48" height="7.39" fill="#aed2e6" stroke="#9a9a9a" stroke-width="0.35"/>
<rect x="288.54" y="152.41" width="11.48" height="7.39" fill="#fda569" stroke="#9a9a9a" stroke-width="0.35"/>
<rect x="300.02" y="152.41" width="11.48" height="7.39" fill="#fc945d" stroke="#9a9a9a" stroke-width="0.35"/>
<rect x="311.50" y="152.41" width="11.48" height="7.39" fill="#e7583d" stroke="#9a9a9a" stroke-width="0.35"/>
<text x="252.10" y="158.30" font-size="8.9" text-anchor="end" fill="#000">Raf1</text>
<rect x="254.10" y="159.80" width="11.48" height="7.39" fill="#8ebcda" stroke="#9a9a9a" stroke-width="0.35"/>
<rect x="265.58" y="159.80" width="11.48" height="7.39" fill="#8ebcda" stroke="#9a9a9a" stroke-width="0.35"/>
<rect x="277.06" y="159.80" width="11.48" height="7.39" fill="#8ebcda" stroke="#9a9a9a" stroke-width="0.35"/>
<rect x="288.54" y="159.80" width="11.48" height="7.39" fill="#fdae6f" stroke="#9a9a9a" stroke-width="0.35"/>
<rect x="300.02" y="159.80" width="11.48" height="7.39" fill="#f78052" stroke="#9a9a9a" stroke-width="0.35"/>
<rect x="311.50" y="159.80" width="11.48" height="7.39" fill="#e7583d" stroke="#9a9a9a" stroke-width="0.35"/>
<text x="252.10" y="165.69" font-size="8.9" text-anchor="end" fill="#000">Ctsc</text>
<rect x="254.10" y="167.19" width="11.48" height="7.39" fill="#8ebcda" stroke="#9a9a9a" stroke-width="0.35"/>
<rect x="265.58" y="167.19" width="11.48" height="7.39" fill="#8ebcda" stroke="#9a9a9a" stroke-width="0.35"/>
<rect x="277.06" y="167.19" width="11.48" height="7.39" fill="#9ec8e0" stroke="#9a9a9a" stroke-width="0.35"/>
<rect x="288.54" y="167.19" width="11.48" height="7.39" fill="#f78052" stroke="#9a9a9a" stroke-width="0.35"/>
<rect x="300.02" y="167.19" width="11.48" height="7.39" fill="#ef6c47" stroke="#9a9a9a" stroke-width="0.35"/>
<rect x="311.50" y="167.19" width="11.48" height="7.39" fill="#fdae6f" stroke="#9a9a9a" stroke-width="0.35"/>
<text x="252.10" y="173.08" font-size="8.9" text-anchor="end" fill="#000">Ctsg</text>
<defs><linearGradient id="gb" x1="0" y1="1" x2="0" y2="0"><stop offset="0.000" stop-color="#4575B4"/><stop offset="0.167" stop-color="#91BFDB"/><stop offset="0.333" stop-color="#E0F3F8"/><stop offset="0.500" stop-color="#FFFFBF"/><stop offset="0.667" stop-color="#FEE090"/><stop offset="0.833" stop-color="#FC8D59"/><stop offset="1.000" stop-color="#D73027"/></linearGradient></defs>
<rect x="328.10" y="13.10" width="4.50" height="64.60" fill="url(#gb)" stroke="none" stroke-width="1"/>
<text x="336.00" y="26.30" font-size="8.2" text-anchor="start" fill="#000">1</text>
<text x="336.00" y="50.00" font-size="8.2" text-anchor="start" fill="#000">0</text>
<text x="333.20" y="73.00" font-size="8.2" text-anchor="start" fill="#000">-1</text>
<text x="0" y="0" font-size="8.2" text-anchor="middle" transform="translate(344.6 45.8) rotate(90)">Z-score</text>
<text x="287.70" y="9.00" font-size="7.6" text-anchor="middle" fill="#000">Phagocytosis gene set</text>
<line x1="258.00" y1="176.50" x2="285.30" y2="176.50" stroke="#333" stroke-width="1.2"/>
<line x1="291.80" y1="176.50" x2="319.00" y2="176.50" stroke="#333" stroke-width="1.2"/>
<text x="0" y="0" font-size="8.6" text-anchor="middle" transform="translate(268.5 188.0) rotate(-15)">UTD</text>
<text x="0" y="0" font-size="8.6" text-anchor="middle" transform="translate(291.5 191.5) rotate(-15)">HER2.eSPR</text>
<text x="209.00" y="10.20" font-size="13.2" text-anchor="start" fill="#000" font-weight="bold">b</text>
<text x="355.80" y="10.20" font-size="13.2" text-anchor="start" fill="#000" font-weight="bold">c</text>
<text x="410.50" y="19.40" font-size="9.8" text-anchor="middle" fill="#000">Interferon-Gamma</text>
<rect x="368.90" y="21.30" width="82.80" height="31.10" fill="#fff" stroke="#e3e3e3" stroke-width="0.6"/>
<rect x="369.20" y="21.60" width="8.90" height="30.50" fill="#f3f3f3" stroke="none" stroke-width="1"/>
<line x1="390.60" y1="21.80" x2="390.60" y2="51.90" stroke="#ececec" stroke-width="0.5"/>
<line x1="403.10" y1="21.80" x2="403.10" y2="51.90" stroke="#ececec" stroke-width="0.5"/>
<line x1="415.60" y1="21.80" x2="415.60" y2="51.90" stroke="#ececec" stroke-width="0.5"/>
<line x1="428.00" y1="21.80" x2="428.00" y2="51.90" stroke="#ececec" stroke-width="0.5"/>
<line x1="440.60" y1="21.80" x2="440.60" y2="51.90" stroke="#ececec" stroke-width="0.5"/>
<line x1="378.10" y1="23.80" x2="451.20" y2="23.80" stroke="#ededed" stroke-width="0.5"/>
<line x1="376.80" y1="23.80" x2="378.10" y2="23.80" stroke="#999" stroke-width="0.4"/>
<rect x="373.30" y="23.20" width="2.80" height="1.20" fill="#b5b5b5" stroke="none" stroke-width="1"/>
<line x1="378.10" y1="27.67" x2="451.20" y2="27.67" stroke="#ededed" stroke-width="0.5"/>
<line x1="376.80" y1="27.67" x2="378.10" y2="27.67" stroke="#999" stroke-width="0.4"/>
<rect x="373.30" y="27.07" width="2.80" height="1.20" fill="#b5b5b5" stroke="none" stroke-width="1"/>
<line x1="378.10" y1="31.54" x2="451.20" y2="31.54" stroke="#ededed" stroke-width="0.5"/>
<line x1="376.80" y1="31.54" x2="378.10" y2="31.54" stroke="#999" stroke-width="0.4"/>
<rect x="373.30" y="30.94" width="2.80" height="1.20" fill="#b5b5b5" stroke="none" stroke-width="1"/>
<line x1="378.10" y1="35.41" x2="451.20" y2="35.41" stroke="#ededed" stroke-width="0.5"/>
<line x1="376.80" y1="35.41" x2="378.10" y2="35.41" stroke="#999" stroke-width="0.4"/>
<rect x="373.30" y="34.81" width="2.80" height="1.20" fill="#b5b5b5" stroke="none" stroke-width="1"/>
<line x1="378.10" y1="39.29" x2="451.20" y2="39.29" stroke="#ededed" stroke-width="0.5"/>
<line x1="376.80" y1="39.29" x2="378.10" y2="39.29" stroke="#999" stroke-width="0.4"/>
<rect x="373.30" y="38.69" width="2.80" height="1.20" fill="#b5b5b5" stroke="none" stroke-width="1"/>
<line x1="378.10" y1="43.16" x2="451.20" y2="43.16" stroke="#ededed" stroke-width="0.5"/>
<line x1="376.80" y1="43.16" x2="378.10" y2="43.16" stroke="#999" stroke-width="0.4"/>
<rect x="373.30" y="42.56" width="2.80" height="1.20" fill="#b5b5b5" stroke="none" stroke-width="1"/>
<line x1="378.10" y1="47.03" x2="451.20" y2="47.03" stroke="#ededed" stroke-width="0.5"/>
<line x1="376.80" y1="47.03" x2="378.10" y2="47.03" stroke="#999" stroke-width="0.4"/>
<rect x="373.30" y="46.43" width="2.80" height="1.20" fill="#b5b5b5" stroke="none" stroke-width="1"/>
<line x1="378.10" y1="50.90" x2="451.20" y2="50.90" stroke="#ededed" stroke-width="0.5"/>
<line x1="376.80" y1="50.90" x2="378.10" y2="50.90" stroke="#999" stroke-width="0.4"/>
<rect x="373.30" y="50.30" width="2.80" height="1.20" fill="#b5b5b5" stroke="none" stroke-width="1"/>
<rect x="371.00" y="25.30" width="1.00" height="23.10" fill="#d0d0d0" stroke="none" stroke-width="1"/>
<line x1="378.10" y1="22.30" x2="378.10" y2="51.40" stroke="#bbb" stroke-width="0.4"/>
<path d="M378.40,50.30 L379.00,44.00 L379.80,37.00 L380.80,31.50 L382.00,27.60 L383.50,25.00 L385.00,23.60 L386.50,23.10 L388.00,23.40 L442.30,50.00 L444.50,50.60 L446.00,50.30 L447.30,49.40" fill="none" stroke="#22ee22" stroke-width="1.0" stroke-linejoin="round"/>
<rect x="377.00" y="52.40" width="74.70" height="13.00" fill="#fff" stroke="#e6e6e6" stroke-width="0.5"/>
<g fill="#000" fill-opacity="0.55"><rect x="381.62" y="52.70" width="0.55" height="9.8"/><rect x="382.48" y="52.70" width="0.55" height="9.8"/><rect x="385.39" y="52.70" width="0.55" height="9.8"/><rect x="381.73" y="52.70" width="0.55" height="9.8"/><rect x="382.06" y="52.70" width="0.55" height="9.8"/><rect x="382.70" y="52.70" width="0.55" height="9.8"/><rect x="379.48" y="52.70" width="0.55" height="9.8"/><rect x="382.10" y="52.70" width="0.55" height="9.8"/><rect x="383.04" y="52.70" width="0.55" height="9.8"/><rect x="384.34" y="52.70" width="0.55" height="9.8"/><rect x="378.75" y="52.70" width="0.55" height="9.8"/><rect x="380.43" y="52.70" width="0.55" height="9.8"/><rect x="378.73" y="52.70" width="0.55" height="9.8"/><rect x="384.48" y="52.70" width="0.55" height="9.8"/><rect x="383.55" y="52.70" width="0.55" height="9.8"/><rect x="378.34" y="52.70" width="0.55" height="9.8"/><rect x="385.86" y="52.70" width="0.55" height="9.8"/><rect x="385.72" y="52.70" width="0.55" height="9.8"/><rect x="383.23" y="52.70" width="0.55" height="9.8"/><rect x="382.92" y="52.70" width="0.55" height="9.8"/><rect x="379.26" y="52.70" width="0.55" height="9.8"/><rect x="378.12" y="52.70" width="0.55" height="9.8"/><rect x="382.23" y="52.70" width="0.55" height="9.8"/><rect x="378.48" y="52.70" width="0.55" height="9.8"/><rect x="379.52" y="52.70" width="0.55" height="9.8"/><rect x="379.94" y="52.70" width="0.55" height="9.8"/><rect x="378.24" y="52.70" width="0.55" height="9.8"/><rect x="381.71" y="52.70" width="0.55" height="9.8"/><rect x="381.52" y="52.70" width="0.55" height="9.8"/><rect x="384.74" y="52.70" width="0.55" height="9.8"/><rect x="382.15" y="52.70" width="0.55" height="9.8"/><rect x="383.12" y="52.70" width="0.55" height="9.8"/><rect x="382.00" y="52.70" width="0.55" height="9.8"/><rect x="383.30" y="52.70" width="0.55" height="9.8"/><rect x="381.66" y="52.70" width="0.55" height="9.8"/><rect x="380.23" y="52.70" width="0.55" height="9.8"/><rect x="385.98" y="52.70" width="0.55" height="9.8"/><rect x="385.97" y="52.70" width="0.55" height="9.8"/><rect x="384.72" y="52.70" width="0.55" height="9.8"/><rect x="383.66" y="52.70" width="0.55" height="9.8"/><rect x="388.52" y="52.70" width="0.55" height="9.8"/><rect x="387.84" y="52.70" width="0.55" height="9.8"/><rect x="388.31" y="52.70" width="0.55" height="9.8"/><rect x="386.56" y="52.70" width="0.55" height="9.8"/><rect x="392.13" y="52.70" width="0.55" height="9.8"/><rect x="389.20" y="52.70" width="0.55" height="9.8"/><rect x="392.77" y="52.70" width="0.55" height="9.8"/><rect x="389.09" y="52.70" width="0.55" height="9.8"/><rect x="393.66" y="52.70" width="0.55" height="9.8"/><rect x="392.78" y="52.70" width="0.55" height="9.8"/><rect x="386.00" y="52.70" width="0.55" height="9.8"/><rect x="387.68" y="52.70" width="0.55" height="9.8"/><rect x="393.28" y="52.70" width="0.55" height="9.8"/><rect x="389.76" y="52.70" width="0.55" height="9.8"/><rect x="393.84" y="52.70" width="0.55" height="9.8"/><rect x="389.18" y="52.70" width="0.55" height="9.8"/><rect x="386.58" y="52.70" width="0.55" height="9.8"/><rect x="391.04" y="52.70" width="0.55" height="9.8"/><rect x="406.46" y="52.70" width="0.55" height="9.8"/><rect x="398.32" y="52.70" width="0.55" height="9.8"/><rect x="395.39" y="52.70" width="0.55" height="9.8"/><rect x="399.32" y="52.70" width="0.55" height="9.8"/><rect x="409.43" y="52.70" width="0.55" height="9.8"/><rect x="406.13" y="52.70" width="0.55" height="9.8"/><rect x="395.89" y="52.70" width="0.55" height="9.8"/><rect x="397.94" y="52.70" width="0.55" height="9.8"/><rect x="395.62" y="52.70" width="0.55" height="9.8"/><rect x="394.96" y="52.70" width="0.55" height="9.8"/><rect x="406.75" y="52.70" width="0.55" height="9.8"/><rect x="396.84" y="52.70" width="0.55" height="9.8"/><rect x="402.95" y="52.70" width="0.55" height="9.8"/><rect x="401.16" y="52.70" width="0.55" height="9.8"/><rect x="413.81" y="52.70" width="0.55" height="9.8"/><rect x="424.64" y="52.70" width="0.55" height="9.8"/><rect x="412.62" y="52.70" width="0.55" height="9.8"/><rect x="422.87" y="52.70" width="0.55" height="9.8"/><rect x="412.33" y="52.70" width="0.55" height="9.8"/><rect x="418.42" y="52.70" width="0.55" height="9.8"/><rect x="414.26" y="52.70" width="0.55" height="9.8"/><rect x="415.40" y="52.70" width="0.55" height="9.8"/><rect x="429.42" y="52.70" width="0.55" height="9.8"/><rect x="426.07" y="52.70" width="0.55" height="9.8"/><rect x="416.08" y="52.70" width="0.55" height="9.8"/><rect x="427.70" y="52.70" width="0.55" height="9.8"/><rect x="433.58" y="52.70" width="0.55" height="9.8"/><rect x="436.70" y="52.70" width="0.55" height="9.8"/><rect x="444.52" y="52.70" width="0.55" height="9.8"/><rect x="440.91" y="52.70" width="0.55" height="9.8"/><rect x="431.71" y="52.70" width="0.55" height="9.8"/><rect x="446.82" y="52.70" width="0.55" height="9.8"/><rect x="433.63" y="52.70" width="0.55" height="9.8"/><rect x="434.39" y="52.70" width="0.55" height="9.8"/><rect x="443.14" y="52.70" width="0.55" height="9.8"/><rect x="435.59" y="52.70" width="0.55" height="9.8"/><rect x="435.04" y="52.70" width="0.55" height="9.8"/><rect x="431.25" y="52.70" width="0.55" height="9.8"/><rect x="431.53" y="52.70" width="0.55" height="9.8"/><rect x="439.91" y="52.70" width="0.55" height="9.8"/><rect x="444.85" y="52.70" width="0.55" height="9.8"/><rect x="446.10" y="52.70" width="0.55" height="9.8"/><rect x="445.30" y="52.70" width="0.55" height="9.8"/><rect x="445.59" y="52.70" width="0.55" height="9.8"/><rect x="447.36" y="52.70" width="0.55" height="9.8"/><rect x="445.69" y="52.70" width="0.55" height="9.8"/><rect x="446.01" y="52.70" width="0.55" height="9.8"/><rect x="447.03" y="52.70" width="0.55" height="9.8"/></g>
<rect x="377.80" y="62.50" width="12.20" height="2.40" fill="#d8121e" stroke="none" stroke-width="1"/>
<rect x="390.00" y="62.50" width="12.00" height="2.40" fill="#ea3c4a" stroke="none" stroke-width="1"/>
<rect x="402.00" y="62.50" width="11.00" height="2.40" fill="#f2a7d4" stroke="none" stroke-width="1"/>
<rect x="413.00" y="62.50" width="17.00" height="2.40" fill="#d0d0fb" stroke="none" stroke-width="1"/>
<rect x="430.00" y="62.50" width="13.00" height="2.40" fill="#5757f0" stroke="none" stroke-width="1"/>
<rect x="443.00" y="62.50" width="4.60" height="2.40" fill="#1010c8" stroke="none" stroke-width="1"/>
<text x="413.10" y="79.30" font-size="9.8" text-anchor="middle" fill="#000">Interferon-Alpha</text>
<rect x="370.30" y="80.90" width="81.40" height="31.50" fill="#fff" stroke="#e3e3e3" stroke-width="0.6"/>
<rect x="370.60" y="81.20" width="7.50" height="30.90" fill="#f3f3f3" stroke="none" stroke-width="1"/>
<line x1="390.60" y1="81.40" x2="390.60" y2="111.90" stroke="#ececec" stroke-width="0.5"/>
<line x1="403.10" y1="81.40" x2="403.10" y2="111.90" stroke="#ececec" stroke-width="0.5"/>
<line x1="415.60" y1="81.40" x2="415.60" y2="111.90" stroke="#ececec" stroke-width="0.5"/>
<line x1="428.00" y1="81.40" x2="428.00" y2="111.90" stroke="#ececec" stroke-width="0.5"/>
<line x1="440.60" y1="81.40" x2="440.60" y2="111.90" stroke="#ececec" stroke-width="0.5"/>
<line x1="378.10" y1="83.40" x2="451.20" y2="83.40" stroke="#ededed" stroke-width="0.5"/>
<line x1="376.80" y1="83.40" x2="378.10" y2="83.40" stroke="#999" stroke-width="0.4"/>
<rect x="373.30" y="82.80" width="2.80" height="1.20" fill="#b5b5b5" stroke="none" stroke-width="1"/>
<line x1="378.10" y1="87.33" x2="451.20" y2="87.33" stroke="#ededed" stroke-width="0.5"/>
<line x1="376.80" y1="87.33" x2="378.10" y2="87.33" stroke="#999" stroke-width="0.4"/>
<rect x="373.30" y="86.73" width="2.80" height="1.20" fill="#b5b5b5" stroke="none" stroke-width="1"/>
<line x1="378.10" y1="91.26" x2="451.20" y2="91.26" stroke="#ededed" stroke-width="0.5"/>
<line x1="376.80" y1="91.26" x2="378.10" y2="91.26" stroke="#999" stroke-width="0.4"/>
<rect x="373.30" y="90.66" width="2.80" height="1.20" fill="#b5b5b5" stroke="none" stroke-width="1"/>
<line x1="378.10" y1="95.19" x2="451.20" y2="95.19" stroke="#ededed" stroke-width="0.5"/>
<line x1="376.80" y1="95.19" x2="378.10" y2="95.19" stroke="#999" stroke-width="0.4"/>
<rect x="373.30" y="94.59" width="2.80" height="1.20" fill="#b5b5b5" stroke="none" stroke-width="1"/>
<line x1="378.10" y1="99.11" x2="451.20" y2="99.11" stroke="#ededed" stroke-width="0.5"/>
<line x1="376.80" y1="99.11" x2="378.10" y2="99.11" stroke="#999" stroke-width="0.4"/>
<rect x="373.30" y="98.51" width="2.80" height="1.20" fill="#b5b5b5" stroke="none" stroke-width="1"/>
<line x1="378.10" y1="103.04" x2="451.20" y2="103.04" stroke="#ededed" stroke-width="0.5"/>
<line x1="376.80" y1="103.04" x2="378.10" y2="103.04" stroke="#999" stroke-width="0.4"/>
<rect x="373.30" y="102.44" width="2.80" height="1.20" fill="#b5b5b5" stroke="none" stroke-width="1"/>
<line x1="378.10" y1="106.97" x2="451.20" y2="106.97" stroke="#ededed" stroke-width="0.5"/>
<line x1="376.80" y1="106.97" x2="378.10" y2="106.97" stroke="#999" stroke-width="0.4"/>
<rect x="373.30" y="106.37" width="2.80" height="1.20" fill="#b5b5b5" stroke="none" stroke-width="1"/>
<line x1="378.10" y1="110.90" x2="451.20" y2="110.90" stroke="#ededed" stroke-width="0.5"/>
<line x1="376.80" y1="110.90" x2="378.10" y2="110.90" stroke="#999" stroke-width="0.4"/>
<rect x="373.30" y="110.30" width="2.80" height="1.20" fill="#b5b5b5" stroke="none" stroke-width="1"/>
<rect x="371.00" y="84.90" width="1.00" height="23.50" fill="#d0d0d0" stroke="none" stroke-width="1"/>
<line x1="378.10" y1="81.90" x2="378.10" y2="111.40" stroke="#bbb" stroke-width="0.4"/>
<path d="M378.40,110.30 L379.00,104.00 L379.90,97.00 L381.00,91.50 L382.50,87.50 L384.30,84.70 L386.00,83.40 L387.50,83.20 L389.00,83.70 L436.00,106.60 L440.00,108.70 L443.80,110.00 L446.00,110.20 L447.80,109.60" fill="none" stroke="#22ee22" stroke-width="1.0" stroke-linejoin="round"/>
<rect x="377.00" y="112.40" width="74.70" height="13.00" fill="#fff" stroke="#e6e6e6" stroke-width="0.5"/>
<g fill="#000" fill-opacity="0.55"><rect x="382.06" y="112.70" width="0.55" height="9.8"/><rect x="383.43" y="112.70" width="0.55" height="9.8"/><rect x="383.50" y="112.70" width="0.55" height="9.8"/><rect x="379.57" y="112.70" width="0.55" height="9.8"/><rect x="378.58" y="112.70" width="0.55" height="9.8"/><rect x="381.31" y="112.70" width="0.55" height="9.8"/><rect x="380.56" y="112.70" width="0.55" height="9.8"/><rect x="384.58" y="112.70" width="0.55" height="9.8"/><rect x="383.68" y="112.70" width="0.55" height="9.8"/><rect x="383.01" y="112.70" width="0.55" height="9.8"/><rect x="382.69" y="112.70" width="0.55" height="9.8"/><rect x="383.46" y="112.70" width="0.55" height="9.8"/><rect x="379.59" y="112.70" width="0.55" height="9.8"/><rect x="381.80" y="112.70" width="0.55" height="9.8"/><rect x="379.72" y="112.70" width="0.55" height="9.8"/><rect x="385.29" y="112.70" width="0.55" height="9.8"/><rect x="378.94" y="112.70" width="0.55" height="9.8"/><rect x="384.64" y="112.70" width="0.55" height="9.8"/><rect x="379.06" y="112.70" width="0.55" height="9.8"/><rect x="383.65" y="112.70" width="0.55" height="9.8"/><rect x="381.03" y="112.70" width="0.55" height="9.8"/><rect x="381.53" y="112.70" width="0.55" height="9.8"/><rect x="384.82" y="112.70" width="0.55" height="9.8"/><rect x="378.64" y="112.70" width="0.55" height="9.8"/><rect x="378.96" y="112.70" width="0.55" height="9.8"/><rect x="385.36" y="112.70" width="0.55" height="9.8"/><rect x="382.32" y="112.70" width="0.55" height="9.8"/><rect x="379.18" y="112.70" width="0.55" height="9.8"/><rect x="385.90" y="112.70" width="0.55" height="9.8"/><rect x="385.60" y="112.70" width="0.55" height="9.8"/><rect x="386.56" y="112.70" width="0.55" height="9.8"/><rect x="388.12" y="112.70" width="0.55" height="9.8"/><rect x="386.68" y="112.70" width="0.55" height="9.8"/><rect x="387.56" y="112.70" width="0.55" height="9.8"/><rect x="389.11" y="112.70" width="0.55" height="9.8"/><rect x="386.82" y="112.70" width="0.55" height="9.8"/><rect x="389.48" y="112.70" width="0.55" height="9.8"/><rect x="386.26" y="112.70" width="0.55" height="9.8"/><rect x="386.86" y="112.70" width="0.55" height="9.8"/><rect x="390.08" y="112.70" width="0.55" height="9.8"/><rect x="388.00" y="112.70" width="0.55" height="9.8"/><rect x="388.09" y="112.70" width="0.55" height="9.8"/><rect x="388.98" y="112.70" width="0.55" height="9.8"/><rect x="388.38" y="112.70" width="0.55" height="9.8"/><rect x="396.38" y="112.70" width="0.55" height="9.8"/><rect x="391.43" y="112.70" width="0.55" height="9.8"/><rect x="401.17" y="112.70" width="0.55" height="9.8"/><rect x="404.54" y="112.70" width="0.55" height="9.8"/><rect x="404.67" y="112.70" width="0.55" height="9.8"/><rect x="400.29" y="112.70" width="0.55" height="9.8"/><rect x="395.99" y="112.70" width="0.55" height="9.8"/></g>
<rect x="377.80" y="122.50" width="12.20" height="2.40" fill="#d8121e" stroke="none" stroke-width="1"/>
<rect x="390.00" y="122.50" width="12.00" height="2.40" fill="#ea3c4a" stroke="none" stroke-width="1"/>
<rect x="402.00" y="122.50" width="11.00" height="2.40" fill="#f2a7d4" stroke="none" stroke-width="1"/>
<rect x="413.00" y="122.50" width="17.00" height="2.40" fill="#d0d0fb" stroke="none" stroke-width="1"/>
<rect x="430.00" y="122.50" width="13.00" height="2.40" fill="#5757f0" stroke="none" stroke-width="1"/>
<rect x="443.00" y="122.50" width="4.60" height="2.40" fill="#1010c8" stroke="none" stroke-width="1"/>
<rect x="398.50" y="112.70" width="0.60" height="9.80" fill="#000" stroke="none" stroke-width="1" fill-opacity="0.7"/>
<rect x="400.50" y="112.70" width="0.60" height="9.80" fill="#000" stroke="none" stroke-width="1" fill-opacity="0.7"/>
<rect x="403.10" y="112.70" width="0.60" height="9.80" fill="#000" stroke="none" stroke-width="1" fill-opacity="0.7"/>
<rect x="407.70" y="112.70" width="0.60" height="9.80" fill="#000" stroke="none" stroke-width="1" fill-opacity="0.7"/>
<rect x="410.30" y="112.70" width="0.60" height="9.80" fill="#000" stroke="none" stroke-width="1" fill-opacity="0.7"/>
<rect x="418.90" y="112.70" width="0.60" height="9.80" fill="#000" stroke="none" stroke-width="1" fill-opacity="0.7"/>
<rect x="422.80" y="112.70" width="0.60" height="9.80" fill="#000" stroke="none" stroke-width="1" fill-opacity="0.7"/>
<rect x="437.30" y="112.70" width="0.60" height="9.80" fill="#000" stroke="none" stroke-width="1" fill-opacity="0.7"/>
<rect x="442.50" y="112.70" width="0.60" height="9.80" fill="#000" stroke="none" stroke-width="1" fill-opacity="0.7"/>
<rect x="447.20" y="112.70" width="0.60" height="9.80" fill="#000" stroke="none" stroke-width="1" fill-opacity="0.7"/>
<text x="415.20" y="139.10" font-size="9.8" text-anchor="middle" fill="#000">Inflammatory</text>
<rect x="370.50" y="140.80" width="82.30" height="30.50" fill="#fff" stroke="#e3e3e3" stroke-width="0.6"/>
<rect x="370.80" y="141.10" width="7.30" height="29.90" fill="#f3f3f3" stroke="none" stroke-width="1"/>
<line x1="390.60" y1="141.30" x2="390.60" y2="170.80" stroke="#ececec" stroke-width="0.5"/>
<line x1="403.10" y1="141.30" x2="403.10" y2="170.80" stroke="#ececec" stroke-width="0.5"/>
<line x1="415.60" y1="141.30" x2="415.60" y2="170.80" stroke="#ececec" stroke-width="0.5"/>
<line x1="428.00" y1="141.30" x2="428.00" y2="170.80" stroke="#ececec" stroke-width="0.5"/>
<line x1="440.60" y1="141.30" x2="440.60" y2="170.80" stroke="#ececec" stroke-width="0.5"/>
<line x1="378.10" y1="143.30" x2="452.30" y2="143.30" stroke="#ededed" stroke-width="0.5"/>
<line x1="376.80" y1="143.30" x2="378.10" y2="143.30" stroke="#999" stroke-width="0.4"/>
<rect x="373.30" y="142.70" width="2.80" height="1.20" fill="#b5b5b5" stroke="none" stroke-width="1"/>
<line x1="378.10" y1="147.09" x2="452.30" y2="147.09" stroke="#ededed" stroke-width="0.5"/>
<line x1="376.80" y1="147.09" x2="378.10" y2="147.09" stroke="#999" stroke-width="0.4"/>
<rect x="373.30" y="146.49" width="2.80" height="1.20" fill="#b5b5b5" stroke="none" stroke-width="1"/>
<line x1="378.10" y1="150.87" x2="452.30" y2="150.87" stroke="#ededed" stroke-width="0.5"/>
<line x1="376.80" y1="150.87" x2="378.10" y2="150.87" stroke="#999" stroke-width="0.4"/>
<rect x="373.30" y="150.27" width="2.80" height="1.20" fill="#b5b5b5" stroke="none" stroke-width="1"/>
<line x1="378.10" y1="154.66" x2="452.30" y2="154.66" stroke="#ededed" stroke-width="0.5"/>
<line x1="376.80" y1="154.66" x2="378.10" y2="154.66" stroke="#999" stroke-width="0.4"/>
<rect x="373.30" y="154.06" width="2.80" height="1.20" fill="#b5b5b5" stroke="none" stroke-width="1"/>
<line x1="378.10" y1="158.44" x2="452.30" y2="158.44" stroke="#ededed" stroke-width="0.5"/>
<line x1="376.80" y1="158.44" x2="378.10" y2="158.44" stroke="#999" stroke-width="0.4"/>
<rect x="373.30" y="157.84" width="2.80" height="1.20" fill="#b5b5b5" stroke="none" stroke-width="1"/>
<line x1="378.10" y1="162.23" x2="452.30" y2="162.23" stroke="#ededed" stroke-width="0.5"/>
<line x1="376.80" y1="162.23" x2="378.10" y2="162.23" stroke="#999" stroke-width="0.4"/>
<rect x="373.30" y="161.63" width="2.80" height="1.20" fill="#b5b5b5" stroke="none" stroke-width="1"/>
<line x1="378.10" y1="166.01" x2="452.30" y2="166.01" stroke="#ededed" stroke-width="0.5"/>
<line x1="376.80" y1="166.01" x2="378.10" y2="166.01" stroke="#999" stroke-width="0.4"/>
<rect x="373.30" y="165.41" width="2.80" height="1.20" fill="#b5b5b5" stroke="none" stroke-width="1"/>
<line x1="378.10" y1="169.80" x2="452.30" y2="169.80" stroke="#ededed" stroke-width="0.5"/>
<line x1="376.80" y1="169.80" x2="378.10" y2="169.80" stroke="#999" stroke-width="0.4"/>
<rect x="373.30" y="169.20" width="2.80" height="1.20" fill="#b5b5b5" stroke="none" stroke-width="1"/>
<rect x="371.00" y="144.80" width="1.00" height="22.50" fill="#d0d0d0" stroke="none" stroke-width="1"/>
<line x1="378.10" y1="141.80" x2="378.10" y2="170.30" stroke="#bbb" stroke-width="0.4"/>
<path d="M378.60,170.30 L379.20,164.00 L380.00,157.50 L381.00,152.50 L382.30,148.80 L384.00,146.00 L385.80,144.30 L387.50,143.80 L389.00,144.30 L441.00,168.00 L443.50,168.90 L445.50,168.40 L447.50,166.80" fill="none" stroke="#22ee22" stroke-width="1.0" stroke-linejoin="round"/>
<rect x="377.00" y="171.50" width="75.80" height="13.00" fill="#fff" stroke="#e6e6e6" stroke-width="0.5"/>
<g fill="#000" fill-opacity="0.55"><rect x="380.81" y="171.80" width="0.55" height="9.8"/><rect x="383.80" y="171.80" width="0.55" height="9.8"/><rect x="383.79" y="171.80" width="0.55" height="9.8"/><rect x="384.95" y="171.80" width="0.55" height="9.8"/><rect x="380.30" y="171.80" width="0.55" height="9.8"/><rect x="380.61" y="171.80" width="0.55" height="9.8"/><rect x="380.03" y="171.80" width="0.55" height="9.8"/><rect x="380.58" y="171.80" width="0.55" height="9.8"/><rect x="384.14" y="171.80" width="0.55" height="9.8"/><rect x="379.91" y="171.80" width="0.55" height="9.8"/><rect x="382.72" y="171.80" width="0.55" height="9.8"/><rect x="380.50" y="171.80" width="0.55" height="9.8"/><rect x="381.06" y="171.80" width="0.55" height="9.8"/><rect x="382.02" y="171.80" width="0.55" height="9.8"/><rect x="384.86" y="171.80" width="0.55" height="9.8"/><rect x="383.26" y="171.80" width="0.55" height="9.8"/><rect x="379.10" y="171.80" width="0.55" height="9.8"/><rect x="380.93" y="171.80" width="0.55" height="9.8"/><rect x="380.03" y="171.80" width="0.55" height="9.8"/><rect x="385.10" y="171.80" width="0.55" height="9.8"/><rect x="384.67" y="171.80" width="0.55" height="9.8"/><rect x="384.64" y="171.80" width="0.55" height="9.8"/><rect x="384.78" y="171.80" width="0.55" height="9.8"/><rect x="384.21" y="171.80" width="0.55" height="9.8"/><rect x="385.65" y="171.80" width="0.55" height="9.8"/><rect x="384.56" y="171.80" width="0.55" height="9.8"/><rect x="380.80" y="171.80" width="0.55" height="9.8"/><rect x="384.95" y="171.80" width="0.55" height="9.8"/><rect x="382.41" y="171.80" width="0.55" height="9.8"/><rect x="384.29" y="171.80" width="0.55" height="9.8"/><rect x="382.95" y="171.80" width="0.55" height="9.8"/><rect x="382.01" y="171.80" width="0.55" height="9.8"/><rect x="381.55" y="171.80" width="0.55" height="9.8"/><rect x="382.01" y="171.80" width="0.55" height="9.8"/><rect x="381.20" y="171.80" width="0.55" height="9.8"/><rect x="379.82" y="171.80" width="0.55" height="9.8"/><rect x="384.74" y="171.80" width="0.55" height="9.8"/><rect x="384.59" y="171.80" width="0.55" height="9.8"/><rect x="385.90" y="171.80" width="0.55" height="9.8"/><rect x="383.84" y="171.80" width="0.55" height="9.8"/><rect x="393.76" y="171.80" width="0.55" height="9.8"/><rect x="396.48" y="171.80" width="0.55" height="9.8"/><rect x="387.89" y="171.80" width="0.55" height="9.8"/><rect x="395.48" y="171.80" width="0.55" height="9.8"/><rect x="392.21" y="171.80" width="0.55" height="9.8"/><rect x="388.47" y="171.80" width="0.55" height="9.8"/><rect x="388.84" y="171.80" width="0.55" height="9.8"/><rect x="393.32" y="171.80" width="0.55" height="9.8"/><rect x="389.55" y="171.80" width="0.55" height="9.8"/><rect x="392.43" y="171.80" width="0.55" height="9.8"/><rect x="394.48" y="171.80" width="0.55" height="9.8"/><rect x="391.54" y="171.80" width="0.55" height="9.8"/><rect x="387.83" y="171.80" width="0.55" height="9.8"/><rect x="392.87" y="171.80" width="0.55" height="9.8"/><rect x="389.30" y="171.80" width="0.55" height="9.8"/><rect x="389.30" y="171.80" width="0.55" height="9.8"/><rect x="388.72" y="171.80" width="0.55" height="9.8"/><rect x="391.13" y="171.80" width="0.55" height="9.8"/><rect x="387.03" y="171.80" width="0.55" height="9.8"/><rect x="395.12" y="171.80" width="0.55" height="9.8"/><rect x="399.35" y="171.80" width="0.55" height="9.8"/><rect x="391.46" y="171.80" width="0.55" height="9.8"/><rect x="410.06" y="171.80" width="0.55" height="9.8"/><rect x="413.06" y="171.80" width="0.55" height="9.8"/><rect x="400.60" y="171.80" width="0.55" height="9.8"/><rect x="401.98" y="171.80" width="0.55" height="9.8"/><rect x="411.29" y="171.80" width="0.55" height="9.8"/><rect x="411.73" y="171.80" width="0.55" height="9.8"/><rect x="408.95" y="171.80" width="0.55" height="9.8"/><rect x="402.24" y="171.80" width="0.55" height="9.8"/><rect x="405.79" y="171.80" width="0.55" height="9.8"/><rect x="412.16" y="171.80" width="0.55" height="9.8"/><rect x="424.54" y="171.80" width="0.55" height="9.8"/><rect x="424.21" y="171.80" width="0.55" height="9.8"/><rect x="421.81" y="171.80" width="0.55" height="9.8"/><rect x="424.41" y="171.80" width="0.55" height="9.8"/><rect x="422.50" y="171.80" width="0.55" height="9.8"/><rect x="435.75" y="171.80" width="0.55" height="9.8"/><rect x="427.06" y="171.80" width="0.55" height="9.8"/><rect x="439.57" y="171.80" width="0.55" height="9.8"/><rect x="434.05" y="171.80" width="0.55" height="9.8"/><rect x="435.84" y="171.80" width="0.55" height="9.8"/><rect x="428.18" y="171.80" width="0.55" height="9.8"/><rect x="434.26" y="171.80" width="0.55" height="9.8"/><rect x="433.71" y="171.80" width="0.55" height="9.8"/><rect x="433.87" y="171.80" width="0.55" height="9.8"/><rect x="430.39" y="171.80" width="0.55" height="9.8"/><rect x="435.92" y="171.80" width="0.55" height="9.8"/><rect x="430.12" y="171.80" width="0.55" height="9.8"/><rect x="429.43" y="171.80" width="0.55" height="9.8"/><rect x="427.47" y="171.80" width="0.55" height="9.8"/><rect x="445.47" y="171.80" width="0.55" height="9.8"/><rect x="440.90" y="171.80" width="0.55" height="9.8"/><rect x="441.80" y="171.80" width="0.55" height="9.8"/><rect x="440.55" y="171.80" width="0.55" height="9.8"/><rect x="445.15" y="171.80" width="0.55" height="9.8"/><rect x="444.45" y="171.80" width="0.55" height="9.8"/><rect x="444.35" y="171.80" width="0.55" height="9.8"/><rect x="440.31" y="171.80" width="0.55" height="9.8"/><rect x="443.52" y="171.80" width="0.55" height="9.8"/><rect x="442.74" y="171.80" width="0.55" height="9.8"/><rect x="440.74" y="171.80" width="0.55" height="9.8"/><rect x="440.02" y="171.80" width="0.55" height="9.8"/><rect x="447.98" y="171.80" width="0.55" height="9.8"/><rect x="440.97" y="171.80" width="0.55" height="9.8"/></g>
<rect x="377.80" y="181.60" width="12.20" height="2.40" fill="#d8121e" stroke="none" stroke-width="1"/>
<rect x="390.00" y="181.60" width="12.00" height="2.40" fill="#ea3c4a" stroke="none" stroke-width="1"/>
<rect x="402.00" y="181.60" width="11.00" height="2.40" fill="#f2a7d4" stroke="none" stroke-width="1"/>
<rect x="413.00" y="181.60" width="17.00" height="2.40" fill="#d0d0fb" stroke="none" stroke-width="1"/>
<rect x="430.00" y="181.60" width="13.00" height="2.40" fill="#5757f0" stroke="none" stroke-width="1"/>
<rect x="443.00" y="181.60" width="4.60" height="2.40" fill="#1010c8" stroke="none" stroke-width="1"/>
<text x="389.70" y="193.20" font-size="10" text-anchor="middle" fill="#000">HER2.eSPR</text>
<text x="445.20" y="193.20" font-size="10" text-anchor="middle" fill="#000">UTD</text>
<line x1="517.80" y1="23.10" x2="517.80" y2="172.30" stroke="#ebebeb" stroke-width="0.6"/>
<line x1="536.20" y1="23.10" x2="536.20" y2="172.30" stroke="#ebebeb" stroke-width="0.6"/>
<line x1="554.60" y1="23.10" x2="554.60" y2="172.30" stroke="#ebebeb" stroke-width="0.6"/>
<line x1="573.00" y1="23.10" x2="573.00" y2="172.30" stroke="#ebebeb" stroke-width="0.6"/>
<line x1="591.40" y1="23.10" x2="591.40" y2="172.30" stroke="#ebebeb" stroke-width="0.6"/>
<line x1="609.80" y1="23.10" x2="609.80" y2="172.30" stroke="#ebebeb" stroke-width="0.6"/>
<line x1="628.20" y1="23.10" x2="628.20" y2="172.30" stroke="#ebebeb" stroke-width="0.6"/>
<line x1="646.60" y1="23.10" x2="646.60" y2="172.30" stroke="#ebebeb" stroke-width="0.6"/>
<line x1="665.00" y1="23.10" x2="665.00" y2="172.30" stroke="#ebebeb" stroke-width="0.6"/>
<line x1="683.40" y1="23.10" x2="683.40" y2="172.30" stroke="#ebebeb" stroke-width="0.6"/>
<line x1="509.30" y1="165.90" x2="685.00" y2="165.90" stroke="#ebebeb" stroke-width="0.6"/>
<line x1="509.30" y1="143.55" x2="685.00" y2="143.55" stroke="#ebebeb" stroke-width="0.6"/>
<line x1="509.30" y1="121.20" x2="685.00" y2="121.20" stroke="#ebebeb" stroke-width="0.6"/>
<line x1="509.30" y1="98.85" x2="685.00" y2="98.85" stroke="#ebebeb" stroke-width="0.6"/>
<line x1="509.30" y1="76.50" x2="685.00" y2="76.50" stroke="#ebebeb" stroke-width="0.6"/>
<line x1="509.30" y1="54.15" x2="685.00" y2="54.15" stroke="#ebebeb" stroke-width="0.6"/>
<line x1="509.30" y1="31.80" x2="685.00" y2="31.80" stroke="#ebebeb" stroke-width="0.6"/>
<polygon points="579.90,121.30 602.60,121.30 602.30,130.00 601.70,137.00 600.70,145.00 598.70,151.00 595.70,155.50 591.30,158.30 586.90,155.50 583.90,151.00 581.90,145.00 580.90,137.00 580.30,130.00" fill="#555555" stroke="none" stroke-width="1"/>
<polygon points="580.40,121.30 580.40,47.50 582.50,50.00 585.00,55.50 587.50,62.00 589.50,68.50 591.00,73.00 592.50,68.00 594.50,62.50 597.00,56.00 599.50,51.50 602.30,48.50 602.30,121.30" fill="#4169e1" stroke="none" stroke-width="1"/>
<line x1="591.20" y1="75.00" x2="591.20" y2="112.00" stroke="#ffffff" stroke-width="0.7" stroke-dasharray="2 1.2" stroke-opacity="0.8"/>
<path d="M583.5,56 Q588,68 589.5,110" fill="none" stroke="#ffffff" stroke-width="0.5" stroke-opacity="0.6"/>
<path d="M599.5,56 Q595,68 593.5,110" fill="none" stroke="#ffffff" stroke-width="0.5" stroke-opacity="0.6"/>
<g fill="#228b22" fill-opacity="0.55"><circle cx="579.7" cy="131.5" r="1.4"/><circle cx="605.6" cy="131.0" r="1.4"/><circle cx="575.4" cy="147.6" r="1.4"/><circle cx="577.0" cy="144.6" r="1.4"/><circle cx="572.2" cy="121.2" r="1.4"/><circle cx="575.6" cy="125.0" r="1.4"/><circle cx="575.1" cy="140.0" r="1.4"/><circle cx="612.9" cy="127.7" r="1.4"/><circle cx="613.3" cy="140.4" r="1.4"/><circle cx="580.0" cy="147.3" r="1.4"/><circle cx="580.0" cy="145.4" r="1.4"/><circle cx="608.6" cy="123.4" r="1.4"/><circle cx="604.0" cy="137.9" r="1.4"/><circle cx="604.8" cy="133.2" r="1.4"/><circle cx="608.3" cy="137.9" r="1.4"/><circle cx="572.1" cy="125.0" r="1.4"/><circle cx="574.6" cy="137.1" r="1.4"/><circle cx="606.3" cy="139.2" r="1.4"/><circle cx="603.8" cy="133.6" r="1.4"/><circle cx="579.7" cy="135.6" r="1.4"/><circle cx="602.5" cy="132.6" r="1.4"/><circle cx="615.5" cy="123.7" r="1.4"/><circle cx="616.2" cy="133.9" r="1.4"/><circle cx="576.9" cy="126.1" r="1.4"/><circle cx="603.0" cy="134.3" r="1.4"/><circle cx="574.1" cy="128.2" r="1.4"/><circle cx="612.1" cy="124.3" r="1.4"/><circle cx="609.8" cy="126.6" r="1.4"/><circle cx="602.8" cy="131.9" r="1.4"/><circle cx="611.5" cy="140.2" r="1.4"/><circle cx="609.7" cy="140.3" r="1.4"/><circle cx="604.6" cy="136.0" r="1.4"/><circle cx="606.5" cy="123.9" r="1.4"/><circle cx="605.1" cy="126.5" r="1.4"/><circle cx="580.2" cy="151.8" r="1.4"/><circle cx="580.4" cy="153.3" r="1.4"/><circle cx="575.0" cy="133.5" r="1.4"/><circle cx="566.1" cy="135.9" r="1.4"/><circle cx="570.7" cy="136.7" r="1.4"/><circle cx="605.5" cy="135.6" r="1.4"/><circle cx="605.9" cy="133.4" r="1.4"/><circle cx="609.0" cy="131.7" r="1.4"/><circle cx="575.5" cy="132.2" r="1.4"/><circle cx="578.9" cy="135.0" r="1.4"/><circle cx="579.8" cy="138.5" r="1.4"/><circle cx="580.1" cy="131.8" r="1.4"/><circle cx="569.6" cy="139.8" r="1.4"/><circle cx="614.9" cy="130.8" r="1.4"/><circle cx="574.9" cy="128.7" r="1.4"/><circle cx="603.8" cy="140.7" r="1.4"/><circle cx="603.0" cy="145.7" r="1.4"/><circle cx="573.8" cy="132.1" r="1.4"/><circle cx="603.1" cy="128.6" r="1.4"/><circle cx="603.0" cy="134.7" r="1.4"/><circle cx="603.3" cy="134.7" r="1.4"/><circle cx="603.7" cy="131.6" r="1.4"/><circle cx="613.0" cy="131.7" r="1.4"/><circle cx="606.0" cy="124.9" r="1.4"/><circle cx="605.6" cy="125.7" r="1.4"/><circle cx="605.6" cy="121.3" r="1.4"/><circle cx="579.6" cy="134.5" r="1.4"/><circle cx="564.2" cy="122.1" r="1.4"/><circle cx="580.2" cy="133.9" r="1.4"/><circle cx="578.2" cy="127.5" r="1.4"/><circle cx="570.4" cy="139.4" r="1.4"/><circle cx="607.2" cy="129.5" r="1.4"/><circle cx="602.6" cy="138.1" r="1.4"/><circle cx="606.4" cy="152.4" r="1.4"/><circle cx="603.1" cy="124.8" r="1.4"/></g>
<g fill="#4d4d4d" fill-opacity="0.8"><circle cx="581.2" cy="143.0" r="1.3"/><circle cx="598.2" cy="135.2" r="1.3"/><circle cx="603.0" cy="138.2" r="1.3"/><circle cx="587.7" cy="138.3" r="1.3"/><circle cx="590.1" cy="124.3" r="1.3"/><circle cx="596.6" cy="136.5" r="1.3"/><circle cx="599.3" cy="142.6" r="1.3"/><circle cx="589.6" cy="138.6" r="1.3"/><circle cx="597.7" cy="124.9" r="1.3"/><circle cx="590.5" cy="132.9" r="1.3"/><circle cx="592.3" cy="145.5" r="1.3"/><circle cx="595.7" cy="127.8" r="1.3"/><circle cx="601.8" cy="126.6" r="1.3"/><circle cx="593.5" cy="157.9" r="1.3"/><circle cx="588.0" cy="138.8" r="1.3"/><circle cx="597.2" cy="141.9" r="1.3"/><circle cx="594.9" cy="129.3" r="1.3"/><circle cx="588.4" cy="133.6" r="1.3"/><circle cx="597.2" cy="123.5" r="1.3"/><circle cx="592.9" cy="133.5" r="1.3"/><circle cx="599.6" cy="140.7" r="1.3"/><circle cx="595.5" cy="148.0" r="1.3"/><circle cx="594.2" cy="155.5" r="1.3"/><circle cx="600.8" cy="126.5" r="1.3"/><circle cx="588.0" cy="153.5" r="1.3"/><circle cx="598.0" cy="131.3" r="1.3"/><circle cx="586.8" cy="153.8" r="1.3"/><circle cx="597.3" cy="149.5" r="1.3"/><circle cx="585.0" cy="137.6" r="1.3"/><circle cx="584.8" cy="130.2" r="1.3"/><circle cx="594.6" cy="152.5" r="1.3"/><circle cx="597.6" cy="130.6" r="1.3"/><circle cx="588.1" cy="151.3" r="1.3"/><circle cx="592.6" cy="154.2" r="1.3"/><circle cx="588.8" cy="123.4" r="1.3"/><circle cx="583.9" cy="133.6" r="1.3"/><circle cx="589.9" cy="144.2" r="1.3"/><circle cx="591.0" cy="156.1" r="1.3"/><circle cx="600.1" cy="142.0" r="1.3"/><circle cx="586.6" cy="121.2" r="1.3"/><circle cx="592.9" cy="154.5" r="1.3"/><circle cx="585.8" cy="152.0" r="1.3"/><circle cx="587.8" cy="150.3" r="1.3"/><circle cx="587.8" cy="132.7" r="1.3"/><circle cx="599.2" cy="140.5" r="1.3"/><circle cx="595.1" cy="145.5" r="1.3"/><circle cx="596.5" cy="129.5" r="1.3"/><circle cx="599.5" cy="134.9" r="1.3"/><circle cx="584.6" cy="143.6" r="1.3"/><circle cx="595.4" cy="135.5" r="1.3"/><circle cx="585.9" cy="145.0" r="1.3"/><circle cx="597.5" cy="128.6" r="1.3"/><circle cx="592.0" cy="124.4" r="1.3"/><circle cx="586.8" cy="149.8" r="1.3"/><circle cx="603.3" cy="121.9" r="1.3"/><circle cx="594.3" cy="151.4" r="1.3"/><circle cx="596.5" cy="148.6" r="1.3"/><circle cx="601.0" cy="138.6" r="1.3"/><circle cx="592.8" cy="156.4" r="1.3"/><circle cx="583.7" cy="148.1" r="1.3"/><circle cx="592.7" cy="127.6" r="1.3"/><circle cx="584.3" cy="150.0" r="1.3"/><circle cx="595.6" cy="154.0" r="1.3"/><circle cx="597.1" cy="122.5" r="1.3"/><circle cx="587.8" cy="147.3" r="1.3"/><circle cx="584.4" cy="141.9" r="1.3"/><circle cx="601.0" cy="136.8" r="1.3"/><circle cx="591.2" cy="136.5" r="1.3"/><circle cx="596.0" cy="133.1" r="1.3"/><circle cx="588.8" cy="139.6" r="1.3"/><circle cx="594.2" cy="140.6" r="1.3"/><circle cx="589.8" cy="155.4" r="1.3"/><circle cx="584.8" cy="128.0" r="1.3"/><circle cx="592.3" cy="130.3" r="1.3"/><circle cx="583.3" cy="125.5" r="1.3"/><circle cx="579.8" cy="137.7" r="1.3"/><circle cx="601.0" cy="135.3" r="1.3"/><circle cx="593.6" cy="131.3" r="1.3"/><circle cx="595.1" cy="146.0" r="1.3"/><circle cx="591.5" cy="156.6" r="1.3"/><circle cx="597.3" cy="128.3" r="1.3"/><circle cx="589.6" cy="126.2" r="1.3"/><circle cx="584.0" cy="123.0" r="1.3"/><circle cx="594.0" cy="131.4" r="1.3"/><circle cx="586.9" cy="153.9" r="1.3"/><circle cx="590.1" cy="156.3" r="1.3"/><circle cx="579.6" cy="131.6" r="1.3"/><circle cx="578.9" cy="132.1" r="1.3"/><circle cx="596.7" cy="134.6" r="1.3"/><circle cx="585.6" cy="140.7" r="1.3"/><circle cx="593.9" cy="156.7" r="1.3"/><circle cx="586.7" cy="143.8" r="1.3"/><circle cx="581.0" cy="135.2" r="1.3"/><circle cx="593.6" cy="148.6" r="1.3"/><circle cx="594.4" cy="146.5" r="1.3"/><circle cx="591.4" cy="138.5" r="1.3"/><circle cx="586.2" cy="134.6" r="1.3"/><circle cx="593.8" cy="123.8" r="1.3"/><circle cx="600.4" cy="141.9" r="1.3"/><circle cx="603.1" cy="137.0" r="1.3"/><circle cx="591.0" cy="123.7" r="1.3"/><circle cx="593.4" cy="139.4" r="1.3"/><circle cx="592.1" cy="153.3" r="1.3"/><circle cx="598.1" cy="145.8" r="1.3"/><circle cx="589.3" cy="157.2" r="1.3"/><circle cx="590.0" cy="151.5" r="1.3"/><circle cx="596.8" cy="147.5" r="1.3"/><circle cx="580.0" cy="124.5" r="1.3"/><circle cx="591.7" cy="154.0" r="1.3"/><circle cx="586.3" cy="151.5" r="1.3"/><circle cx="592.8" cy="140.5" r="1.3"/><circle cx="595.1" cy="124.6" r="1.3"/><circle cx="594.5" cy="130.6" r="1.3"/><circle cx="596.3" cy="126.8" r="1.3"/><circle cx="596.5" cy="142.2" r="1.3"/><circle cx="597.1" cy="144.8" r="1.3"/><circle cx="581.0" cy="121.1" r="1.3"/><circle cx="589.2" cy="135.9" r="1.3"/><circle cx="593.9" cy="139.2" r="1.3"/><circle cx="586.2" cy="133.5" r="1.3"/></g>
<g fill="#ff0000" fill-opacity="0.55"><circle cx="579.1" cy="113.4" r="1.5"/><circle cx="577.9" cy="109.4" r="1.5"/><circle cx="580.1" cy="90.7" r="1.5"/><circle cx="573.1" cy="60.4" r="1.5"/><circle cx="574.6" cy="104.3" r="1.5"/><circle cx="576.8" cy="100.2" r="1.5"/><circle cx="579.5" cy="113.1" r="1.5"/><circle cx="579.3" cy="50.7" r="1.5"/><circle cx="574.0" cy="59.9" r="1.5"/><circle cx="574.3" cy="106.5" r="1.5"/><circle cx="578.6" cy="73.6" r="1.5"/><circle cx="575.0" cy="56.3" r="1.5"/><circle cx="573.5" cy="114.6" r="1.5"/><circle cx="576.1" cy="70.2" r="1.5"/><circle cx="577.0" cy="107.7" r="1.5"/><circle cx="577.3" cy="114.4" r="1.5"/><circle cx="572.9" cy="55.4" r="1.5"/><circle cx="576.7" cy="98.4" r="1.5"/><circle cx="573.2" cy="77.7" r="1.5"/><circle cx="573.5" cy="56.8" r="1.5"/><circle cx="577.0" cy="89.7" r="1.5"/><circle cx="576.2" cy="88.4" r="1.5"/><circle cx="579.6" cy="98.0" r="1.5"/><circle cx="574.2" cy="117.9" r="1.5"/><circle cx="580.2" cy="73.6" r="1.5"/><circle cx="578.8" cy="80.6" r="1.5"/><circle cx="577.3" cy="95.1" r="1.5"/><circle cx="572.3" cy="106.3" r="1.5"/><circle cx="577.8" cy="105.8" r="1.5"/><circle cx="575.9" cy="100.2" r="1.5"/><circle cx="578.2" cy="64.4" r="1.5"/><circle cx="578.5" cy="78.8" r="1.5"/><circle cx="573.3" cy="113.5" r="1.5"/><circle cx="580.1" cy="103.8" r="1.5"/><circle cx="574.6" cy="74.4" r="1.5"/><circle cx="579.1" cy="96.0" r="1.5"/><circle cx="579.5" cy="86.3" r="1.5"/><circle cx="580.2" cy="68.2" r="1.5"/><circle cx="573.3" cy="48.6" r="1.5"/><circle cx="574.9" cy="48.3" r="1.5"/><circle cx="580.3" cy="99.2" r="1.5"/><circle cx="572.6" cy="62.3" r="1.5"/><circle cx="577.8" cy="49.5" r="1.5"/><circle cx="576.0" cy="59.0" r="1.5"/><circle cx="578.7" cy="106.7" r="1.5"/><circle cx="577.5" cy="110.8" r="1.5"/><circle cx="578.0" cy="48.1" r="1.5"/><circle cx="578.4" cy="120.5" r="1.5"/><circle cx="580.2" cy="108.3" r="1.5"/><circle cx="574.5" cy="93.6" r="1.5"/><circle cx="578.7" cy="113.8" r="1.5"/><circle cx="572.5" cy="89.0" r="1.5"/><circle cx="579.3" cy="116.7" r="1.5"/><circle cx="580.2" cy="108.4" r="1.5"/><circle cx="575.5" cy="109.8" r="1.5"/><circle cx="580.2" cy="83.9" r="1.5"/><circle cx="579.0" cy="45.4" r="1.5"/><circle cx="579.8" cy="81.0" r="1.5"/><circle cx="574.6" cy="90.1" r="1.5"/><circle cx="572.4" cy="84.9" r="1.5"/><circle cx="579.1" cy="90.0" r="1.5"/><circle cx="580.2" cy="89.2" r="1.5"/><circle cx="579.0" cy="53.6" r="1.5"/><circle cx="574.0" cy="83.3" r="1.5"/><circle cx="580.3" cy="101.9" r="1.5"/><circle cx="579.1" cy="105.4" r="1.5"/><circle cx="579.2" cy="55.1" r="1.5"/><circle cx="579.7" cy="117.3" r="1.5"/><circle cx="573.0" cy="78.2" r="1.5"/><circle cx="572.4" cy="90.6" r="1.5"/><circle cx="573.3" cy="71.5" r="1.5"/><circle cx="574.4" cy="64.6" r="1.5"/><circle cx="577.1" cy="114.1" r="1.5"/><circle cx="579.3" cy="54.8" r="1.5"/><circle cx="573.3" cy="50.9" r="1.5"/><circle cx="578.4" cy="71.3" r="1.5"/><circle cx="574.3" cy="72.4" r="1.5"/><circle cx="574.2" cy="81.1" r="1.5"/><circle cx="575.7" cy="69.1" r="1.5"/><circle cx="578.9" cy="51.1" r="1.5"/><circle cx="572.7" cy="115.5" r="1.5"/><circle cx="572.6" cy="48.1" r="1.5"/><circle cx="575.6" cy="117.8" r="1.5"/><circle cx="573.3" cy="111.5" r="1.5"/><circle cx="572.6" cy="70.5" r="1.5"/><circle cx="580.1" cy="108.5" r="1.5"/><circle cx="575.9" cy="77.9" r="1.5"/><circle cx="574.8" cy="50.7" r="1.5"/><circle cx="579.2" cy="121.0" r="1.5"/><circle cx="573.1" cy="120.2" r="1.5"/><circle cx="573.5" cy="112.4" r="1.5"/><circle cx="574.2" cy="61.7" r="1.5"/><circle cx="573.5" cy="79.4" r="1.5"/><circle cx="573.5" cy="105.9" r="1.5"/><circle cx="575.5" cy="96.1" r="1.5"/><circle cx="573.4" cy="62.4" r="1.5"/><circle cx="577.3" cy="81.2" r="1.5"/><circle cx="580.3" cy="118.6" r="1.5"/><circle cx="576.2" cy="84.1" r="1.5"/><circle cx="573.7" cy="75.0" r="1.5"/><circle cx="579.7" cy="93.6" r="1.5"/><circle cx="574.6" cy="81.5" r="1.5"/><circle cx="580.3" cy="57.5" r="1.5"/><circle cx="574.0" cy="114.7" r="1.5"/><circle cx="576.7" cy="92.2" r="1.5"/><circle cx="574.4" cy="97.6" r="1.5"/><circle cx="579.1" cy="84.2" r="1.5"/><circle cx="572.6" cy="114.0" r="1.5"/><circle cx="579.9" cy="74.0" r="1.5"/><circle cx="573.4" cy="82.3" r="1.5"/><circle cx="577.6" cy="56.0" r="1.5"/><circle cx="574.5" cy="116.1" r="1.5"/><circle cx="573.5" cy="106.3" r="1.5"/><circle cx="578.7" cy="57.6" r="1.5"/><circle cx="577.7" cy="60.5" r="1.5"/><circle cx="579.6" cy="54.8" r="1.5"/><circle cx="579.5" cy="109.9" r="1.5"/><circle cx="577.1" cy="95.5" r="1.5"/><circle cx="576.7" cy="52.5" r="1.5"/><circle cx="575.2" cy="120.8" r="1.5"/><circle cx="578.6" cy="79.8" r="1.5"/><circle cx="577.2" cy="66.8" r="1.5"/><circle cx="577.2" cy="115.4" r="1.5"/><circle cx="579.1" cy="56.8" r="1.5"/><circle cx="578.2" cy="62.9" r="1.5"/><circle cx="572.4" cy="73.6" r="1.5"/><circle cx="575.5" cy="74.9" r="1.5"/><circle cx="578.6" cy="51.8" r="1.5"/><circle cx="577.4" cy="51.9" r="1.5"/><circle cx="578.6" cy="55.3" r="1.5"/><circle cx="574.4" cy="74.6" r="1.5"/><circle cx="577.6" cy="110.5" r="1.5"/><circle cx="574.6" cy="93.7" r="1.5"/><circle cx="575.6" cy="111.1" r="1.5"/><circle cx="580.0" cy="110.3" r="1.5"/><circle cx="574.2" cy="107.7" r="1.5"/><circle cx="573.3" cy="92.9" r="1.5"/><circle cx="576.4" cy="94.6" r="1.5"/><circle cx="576.0" cy="114.1" r="1.5"/><circle cx="577.9" cy="50.1" r="1.5"/><circle cx="579.5" cy="71.5" r="1.5"/><circle cx="578.5" cy="98.4" r="1.5"/><circle cx="580.3" cy="119.7" r="1.5"/><circle cx="572.8" cy="58.1" r="1.5"/><circle cx="574.3" cy="59.9" r="1.5"/><circle cx="572.8" cy="109.2" r="1.5"/><circle cx="576.3" cy="83.6" r="1.5"/><circle cx="576.4" cy="49.9" r="1.5"/><circle cx="574.7" cy="47.6" r="1.5"/><circle cx="579.9" cy="71.7" r="1.5"/><circle cx="575.5" cy="64.6" r="1.5"/><circle cx="576.0" cy="58.0" r="1.5"/><circle cx="578.6" cy="50.7" r="1.5"/><circle cx="577.9" cy="75.7" r="1.5"/><circle cx="573.3" cy="67.7" r="1.5"/><circle cx="578.6" cy="103.7" r="1.5"/><circle cx="578.5" cy="73.6" r="1.5"/><circle cx="572.3" cy="52.9" r="1.5"/><circle cx="577.9" cy="90.8" r="1.5"/><circle cx="574.1" cy="99.6" r="1.5"/><circle cx="577.8" cy="120.2" r="1.5"/><circle cx="579.5" cy="80.2" r="1.5"/><circle cx="575.3" cy="74.5" r="1.5"/><circle cx="578.2" cy="48.9" r="1.5"/><circle cx="576.0" cy="109.3" r="1.5"/><circle cx="580.1" cy="47.2" r="1.5"/><circle cx="572.4" cy="51.3" r="1.5"/><circle cx="576.2" cy="97.5" r="1.5"/><circle cx="580.0" cy="101.6" r="1.5"/><circle cx="579.2" cy="50.7" r="1.5"/><circle cx="573.4" cy="62.1" r="1.5"/><circle cx="579.7" cy="103.1" r="1.5"/><circle cx="578.7" cy="49.2" r="1.5"/><circle cx="579.6" cy="61.1" r="1.5"/><circle cx="575.4" cy="79.6" r="1.5"/><circle cx="572.7" cy="101.3" r="1.5"/><circle cx="576.9" cy="109.2" r="1.5"/><circle cx="580.0" cy="118.8" r="1.5"/><circle cx="578.5" cy="111.9" r="1.5"/><circle cx="580.1" cy="45.8" r="1.5"/><circle cx="578.7" cy="53.6" r="1.5"/><circle cx="575.2" cy="65.6" r="1.5"/><circle cx="575.7" cy="48.8" r="1.5"/><circle cx="573.5" cy="66.5" r="1.5"/><circle cx="576.6" cy="68.5" r="1.5"/><circle cx="575.0" cy="79.2" r="1.5"/><circle cx="577.1" cy="109.5" r="1.5"/><circle cx="573.9" cy="84.4" r="1.5"/><circle cx="580.1" cy="108.4" r="1.5"/><circle cx="573.6" cy="101.7" r="1.5"/><circle cx="578.0" cy="69.4" r="1.5"/><circle cx="573.7" cy="96.2" r="1.5"/><circle cx="578.0" cy="89.0" r="1.5"/><circle cx="580.3" cy="54.6" r="1.5"/><circle cx="580.3" cy="48.2" r="1.5"/><circle cx="579.7" cy="109.3" r="1.5"/><circle cx="573.8" cy="58.6" r="1.5"/><circle cx="579.1" cy="79.1" r="1.5"/><circle cx="577.3" cy="66.6" r="1.5"/><circle cx="579.5" cy="58.5" r="1.5"/><circle cx="572.3" cy="67.5" r="1.5"/><circle cx="573.1" cy="50.0" r="1.5"/><circle cx="578.1" cy="56.8" r="1.5"/><circle cx="574.0" cy="76.6" r="1.5"/><circle cx="579.9" cy="74.1" r="1.5"/><circle cx="573.2" cy="98.0" r="1.5"/><circle cx="575.8" cy="53.0" r="1.5"/><circle cx="576.2" cy="118.4" r="1.5"/><circle cx="575.9" cy="101.8" r="1.5"/><circle cx="573.7" cy="70.9" r="1.5"/><circle cx="578.6" cy="53.1" r="1.5"/><circle cx="576.0" cy="95.4" r="1.5"/><circle cx="574.0" cy="53.4" r="1.5"/><circle cx="573.4" cy="54.1" r="1.5"/><circle cx="575.7" cy="68.1" r="1.5"/><circle cx="576.2" cy="81.1" r="1.5"/><circle cx="572.4" cy="94.4" r="1.5"/><circle cx="580.0" cy="67.0" r="1.5"/><circle cx="577.1" cy="79.7" r="1.5"/><circle cx="576.2" cy="102.2" r="1.5"/><circle cx="579.4" cy="115.8" r="1.5"/><circle cx="574.5" cy="52.2" r="1.5"/><circle cx="575.3" cy="112.3" r="1.5"/><circle cx="572.5" cy="58.4" r="1.5"/><circle cx="577.0" cy="121.1" r="1.5"/><circle cx="573.9" cy="73.8" r="1.5"/><circle cx="576.0" cy="119.8" r="1.5"/><circle cx="575.0" cy="118.6" r="1.5"/><circle cx="577.3" cy="110.2" r="1.5"/><circle cx="578.2" cy="53.6" r="1.5"/><circle cx="574.8" cy="59.2" r="1.5"/><circle cx="578.7" cy="91.7" r="1.5"/><circle cx="576.1" cy="118.6" r="1.5"/><circle cx="577.8" cy="47.1" r="1.5"/><circle cx="574.8" cy="55.6" r="1.5"/><circle cx="578.7" cy="68.7" r="1.5"/><circle cx="574.4" cy="67.7" r="1.5"/><circle cx="577.6" cy="107.9" r="1.5"/><circle cx="580.3" cy="53.8" r="1.5"/><circle cx="573.0" cy="100.2" r="1.5"/><circle cx="574.7" cy="90.3" r="1.5"/><circle cx="575.9" cy="57.2" r="1.5"/><circle cx="578.5" cy="74.1" r="1.5"/><circle cx="579.0" cy="82.4" r="1.5"/><circle cx="580.3" cy="101.2" r="1.5"/><circle cx="578.8" cy="51.7" r="1.5"/><circle cx="579.8" cy="63.6" r="1.5"/><circle cx="580.0" cy="46.2" r="1.5"/><circle cx="579.6" cy="114.2" r="1.5"/><circle cx="579.3" cy="50.3" r="1.5"/><circle cx="575.6" cy="53.5" r="1.5"/><circle cx="577.1" cy="112.5" r="1.5"/><circle cx="578.4" cy="86.6" r="1.5"/><circle cx="572.4" cy="108.6" r="1.5"/><circle cx="579.1" cy="57.1" r="1.5"/><circle cx="579.9" cy="47.4" r="1.5"/><circle cx="578.7" cy="78.1" r="1.5"/><circle cx="575.6" cy="52.3" r="1.5"/><circle cx="580.1" cy="56.9" r="1.5"/><circle cx="579.5" cy="66.6" r="1.5"/><circle cx="574.7" cy="56.5" r="1.5"/><circle cx="572.5" cy="89.1" r="1.5"/><circle cx="574.6" cy="82.2" r="1.5"/><circle cx="569.4" cy="44.0" r="1.5"/><circle cx="562.0" cy="79.9" r="1.5"/><circle cx="549.4" cy="91.1" r="1.5"/><circle cx="571.8" cy="45.5" r="1.5"/><circle cx="550.8" cy="61.3" r="1.5"/><circle cx="549.8" cy="97.7" r="1.5"/><circle cx="552.5" cy="60.2" r="1.5"/><circle cx="560.2" cy="52.1" r="1.5"/><circle cx="573.8" cy="89.5" r="1.5"/><circle cx="573.2" cy="73.3" r="1.5"/><circle cx="563.8" cy="69.7" r="1.5"/><circle cx="568.6" cy="57.9" r="1.5"/><circle cx="554.7" cy="57.0" r="1.5"/><circle cx="574.6" cy="92.2" r="1.5"/><circle cx="571.8" cy="87.2" r="1.5"/><circle cx="563.0" cy="89.8" r="1.5"/><circle cx="561.5" cy="81.1" r="1.5"/><circle cx="568.6" cy="59.9" r="1.5"/><circle cx="551.1" cy="90.0" r="1.5"/><circle cx="569.0" cy="44.0" r="1.5"/><circle cx="571.9" cy="99.5" r="1.5"/><circle cx="572.3" cy="53.1" r="1.5"/><circle cx="558.2" cy="46.6" r="1.5"/><circle cx="565.2" cy="98.7" r="1.5"/><circle cx="569.9" cy="59.3" r="1.5"/><circle cx="567.9" cy="93.0" r="1.5"/><circle cx="568.3" cy="74.1" r="1.5"/><circle cx="568.8" cy="75.1" r="1.5"/><circle cx="573.3" cy="99.4" r="1.5"/><circle cx="556.5" cy="58.5" r="1.5"/><circle cx="567.2" cy="94.4" r="1.5"/><circle cx="570.2" cy="68.6" r="1.5"/><circle cx="552.8" cy="73.1" r="1.5"/><circle cx="550.0" cy="70.5" r="1.5"/><circle cx="572.5" cy="65.3" r="1.5"/><circle cx="562.2" cy="66.3" r="1.5"/><circle cx="558.4" cy="99.8" r="1.5"/><circle cx="566.8" cy="54.6" r="1.5"/><circle cx="573.2" cy="98.6" r="1.5"/><circle cx="572.5" cy="84.5" r="1.5"/><circle cx="566.8" cy="82.8" r="1.5"/><circle cx="561.2" cy="91.2" r="1.5"/><circle cx="569.0" cy="61.8" r="1.5"/><circle cx="563.8" cy="45.4" r="1.5"/><circle cx="551.4" cy="86.1" r="1.5"/><circle cx="569.3" cy="69.8" r="1.5"/><circle cx="563.9" cy="79.8" r="1.5"/><circle cx="553.9" cy="89.6" r="1.5"/><circle cx="565.9" cy="94.1" r="1.5"/><circle cx="553.2" cy="66.5" r="1.5"/><circle cx="549.5" cy="92.8" r="1.5"/><circle cx="558.9" cy="66.4" r="1.5"/><circle cx="574.4" cy="53.4" r="1.5"/><circle cx="553.5" cy="96.4" r="1.5"/><circle cx="551.2" cy="55.5" r="1.5"/><circle cx="562.1" cy="69.5" r="1.5"/><circle cx="570.9" cy="97.8" r="1.5"/><circle cx="565.7" cy="50.8" r="1.5"/><circle cx="572.0" cy="73.6" r="1.5"/><circle cx="570.5" cy="60.9" r="1.5"/><circle cx="550.5" cy="49.5" r="1.5"/><circle cx="570.3" cy="76.9" r="1.5"/><circle cx="574.8" cy="70.3" r="1.5"/><circle cx="554.2" cy="52.0" r="1.5"/><circle cx="574.2" cy="75.9" r="1.5"/><circle cx="574.1" cy="76.4" r="1.5"/><circle cx="552.2" cy="84.6" r="1.5"/><circle cx="554.5" cy="45.6" r="1.5"/><circle cx="555.4" cy="89.3" r="1.5"/><circle cx="552.0" cy="47.5" r="1.5"/><circle cx="549.1" cy="100.5" r="1.5"/><circle cx="574.8" cy="84.1" r="1.5"/><circle cx="564.6" cy="76.4" r="1.5"/><circle cx="573.9" cy="63.9" r="1.5"/><circle cx="560.2" cy="64.5" r="1.5"/><circle cx="564.8" cy="69.2" r="1.5"/><circle cx="559.5" cy="97.3" r="1.5"/><circle cx="566.8" cy="93.2" r="1.5"/><circle cx="573.8" cy="56.8" r="1.5"/><circle cx="569.5" cy="81.4" r="1.5"/><circle cx="570.6" cy="67.0" r="1.5"/><circle cx="573.5" cy="63.8" r="1.5"/><circle cx="574.2" cy="45.6" r="1.5"/><circle cx="572.9" cy="56.5" r="1.5"/><circle cx="563.8" cy="76.4" r="1.5"/><circle cx="570.0" cy="80.2" r="1.5"/><circle cx="557.3" cy="70.6" r="1.5"/><circle cx="564.1" cy="86.7" r="1.5"/><circle cx="561.5" cy="91.2" r="1.5"/><circle cx="565.6" cy="63.2" r="1.5"/><circle cx="563.8" cy="67.3" r="1.5"/><circle cx="563.1" cy="89.8" r="1.5"/><circle cx="550.6" cy="61.3" r="1.5"/><circle cx="558.4" cy="45.6" r="1.5"/><circle cx="566.4" cy="81.8" r="1.5"/><circle cx="570.0" cy="82.7" r="1.5"/><circle cx="570.1" cy="82.7" r="1.5"/><circle cx="572.0" cy="73.0" r="1.5"/><circle cx="570.2" cy="79.7" r="1.5"/><circle cx="560.3" cy="82.8" r="1.5"/><circle cx="553.9" cy="54.7" r="1.5"/><circle cx="569.4" cy="52.6" r="1.5"/><circle cx="572.6" cy="95.5" r="1.5"/><circle cx="549.3" cy="99.2" r="1.5"/><circle cx="574.8" cy="50.7" r="1.5"/><circle cx="574.8" cy="63.0" r="1.5"/><circle cx="563.5" cy="88.1" r="1.5"/><circle cx="571.2" cy="44.9" r="1.5"/><circle cx="567.9" cy="87.0" r="1.5"/><circle cx="566.6" cy="58.5" r="1.5"/><circle cx="570.3" cy="95.9" r="1.5"/><circle cx="556.3" cy="95.5" r="1.5"/><circle cx="574.4" cy="100.8" r="1.5"/><circle cx="549.3" cy="75.9" r="1.5"/><circle cx="558.0" cy="68.7" r="1.5"/><circle cx="550.0" cy="81.1" r="1.5"/><circle cx="568.9" cy="61.4" r="1.5"/><circle cx="574.8" cy="80.0" r="1.5"/><circle cx="557.3" cy="67.8" r="1.5"/><circle cx="565.4" cy="46.6" r="1.5"/><circle cx="566.9" cy="58.6" r="1.5"/><circle cx="567.9" cy="96.1" r="1.5"/><circle cx="568.0" cy="88.8" r="1.5"/><circle cx="574.7" cy="84.5" r="1.5"/><circle cx="573.4" cy="74.6" r="1.5"/><circle cx="558.0" cy="57.0" r="1.5"/><circle cx="553.2" cy="82.6" r="1.5"/><circle cx="560.2" cy="49.4" r="1.5"/><circle cx="567.8" cy="48.0" r="1.5"/><circle cx="573.8" cy="47.6" r="1.5"/><circle cx="553.3" cy="44.1" r="1.5"/><circle cx="555.0" cy="59.8" r="1.5"/><circle cx="566.8" cy="59.4" r="1.5"/><circle cx="553.4" cy="67.6" r="1.5"/><circle cx="561.6" cy="47.4" r="1.5"/><circle cx="570.4" cy="81.6" r="1.5"/><circle cx="574.6" cy="50.1" r="1.5"/><circle cx="556.1" cy="106.2" r="1.5"/><circle cx="567.7" cy="117.1" r="1.5"/><circle cx="560.8" cy="101.6" r="1.5"/><circle cx="564.5" cy="111.8" r="1.5"/><circle cx="562.7" cy="102.3" r="1.5"/><circle cx="570.6" cy="101.9" r="1.5"/><circle cx="572.9" cy="105.6" r="1.5"/><circle cx="551.7" cy="110.7" r="1.5"/><circle cx="552.4" cy="114.9" r="1.5"/><circle cx="570.2" cy="113.2" r="1.5"/><circle cx="567.0" cy="105.2" r="1.5"/><circle cx="558.2" cy="106.4" r="1.5"/><circle cx="544.4" cy="103.9" r="1.5"/><circle cx="550.8" cy="99.5" r="1.5"/><circle cx="546.1" cy="104.6" r="1.5"/><circle cx="564.7" cy="109.8" r="1.5"/><circle cx="552.0" cy="103.6" r="1.5"/><circle cx="547.1" cy="104.6" r="1.5"/><circle cx="554.8" cy="115.5" r="1.5"/><circle cx="556.4" cy="117.0" r="1.5"/><circle cx="555.5" cy="117.3" r="1.5"/><circle cx="572.8" cy="99.8" r="1.5"/><circle cx="548.1" cy="114.4" r="1.5"/><circle cx="572.3" cy="102.9" r="1.5"/><circle cx="551.4" cy="117.7" r="1.5"/><circle cx="549.9" cy="102.5" r="1.5"/><circle cx="557.9" cy="115.1" r="1.5"/><circle cx="572.1" cy="119.8" r="1.5"/><circle cx="562.0" cy="105.1" r="1.5"/><circle cx="555.8" cy="116.2" r="1.5"/><circle cx="550.5" cy="119.8" r="1.5"/><circle cx="556.6" cy="117.3" r="1.5"/><circle cx="572.9" cy="116.9" r="1.5"/><circle cx="550.6" cy="116.3" r="1.5"/><circle cx="572.8" cy="110.4" r="1.5"/><circle cx="564.7" cy="108.4" r="1.5"/><circle cx="557.8" cy="105.4" r="1.5"/><circle cx="546.5" cy="113.6" r="1.5"/><circle cx="555.9" cy="118.6" r="1.5"/><circle cx="567.4" cy="119.1" r="1.5"/><circle cx="548.4" cy="113.7" r="1.5"/><circle cx="553.5" cy="101.6" r="1.5"/><circle cx="563.6" cy="116.6" r="1.5"/><circle cx="567.5" cy="110.3" r="1.5"/><circle cx="563.6" cy="119.6" r="1.5"/><circle cx="548.8" cy="106.9" r="1.5"/><circle cx="548.0" cy="102.3" r="1.5"/><circle cx="553.0" cy="102.8" r="1.5"/><circle cx="553.7" cy="111.6" r="1.5"/><circle cx="549.8" cy="100.7" r="1.5"/><circle cx="571.0" cy="118.0" r="1.5"/><circle cx="569.5" cy="111.0" r="1.5"/><circle cx="548.3" cy="109.4" r="1.5"/><circle cx="548.6" cy="113.0" r="1.5"/><circle cx="558.1" cy="115.7" r="1.5"/><circle cx="555.8" cy="115.2" r="1.5"/><circle cx="572.9" cy="112.3" r="1.5"/><circle cx="558.2" cy="101.5" r="1.5"/><circle cx="566.4" cy="100.5" r="1.5"/><circle cx="550.1" cy="117.7" r="1.5"/><circle cx="528.8" cy="52.0" r="1.5"/><circle cx="522.7" cy="60.7" r="1.5"/><circle cx="541.7" cy="66.0" r="1.5"/><circle cx="533.0" cy="63.5" r="1.5"/><circle cx="548.3" cy="53.8" r="1.5"/><circle cx="536.7" cy="82.9" r="1.5"/><circle cx="544.5" cy="82.6" r="1.5"/><circle cx="539.3" cy="82.1" r="1.5"/><circle cx="537.1" cy="75.5" r="1.5"/><circle cx="527.2" cy="57.9" r="1.5"/><circle cx="548.4" cy="56.4" r="1.5"/><circle cx="535.3" cy="75.8" r="1.5"/><circle cx="524.4" cy="85.2" r="1.5"/><circle cx="541.4" cy="64.0" r="1.5"/><circle cx="549.2" cy="67.9" r="1.5"/><circle cx="525.3" cy="73.2" r="1.5"/><circle cx="531.1" cy="78.6" r="1.5"/><circle cx="522.3" cy="51.0" r="1.5"/><circle cx="549.1" cy="58.1" r="1.5"/><circle cx="543.5" cy="84.3" r="1.5"/><circle cx="547.6" cy="59.4" r="1.5"/><circle cx="539.2" cy="66.5" r="1.5"/><circle cx="578.0" cy="42.9" r="1.5"/><circle cx="573.6" cy="38.3" r="1.5"/><circle cx="565.3" cy="39.2" r="1.5"/><circle cx="574.3" cy="33.0" r="1.5"/><circle cx="567.7" cy="35.1" r="1.5"/><circle cx="565.5" cy="38.7" r="1.5"/><circle cx="575.6" cy="43.7" r="1.5"/><circle cx="568.3" cy="35.2" r="1.5"/><circle cx="563.8" cy="32.9" r="1.5"/><circle cx="571.1" cy="38.7" r="1.5"/><circle cx="562.6" cy="44.1" r="1.5"/><circle cx="573.5" cy="37.9" r="1.5"/><circle cx="569.3" cy="37.0" r="1.5"/><circle cx="577.4" cy="38.4" r="1.5"/><circle cx="603.2" cy="93.7" r="1.5"/><circle cx="603.2" cy="98.3" r="1.5"/><circle cx="606.5" cy="92.7" r="1.5"/><circle cx="603.2" cy="87.7" r="1.5"/><circle cx="606.8" cy="99.7" r="1.5"/><circle cx="603.8" cy="90.0" r="1.5"/><circle cx="607.0" cy="118.6" r="1.5"/><circle cx="606.8" cy="117.3" r="1.5"/><circle cx="608.8" cy="107.5" r="1.5"/><circle cx="608.2" cy="118.8" r="1.5"/><circle cx="605.4" cy="102.8" r="1.5"/><circle cx="607.7" cy="66.1" r="1.5"/><circle cx="602.9" cy="117.5" r="1.5"/><circle cx="607.3" cy="91.2" r="1.5"/><circle cx="604.5" cy="96.3" r="1.5"/><circle cx="604.4" cy="80.0" r="1.5"/><circle cx="604.6" cy="112.0" r="1.5"/><circle cx="605.2" cy="50.5" r="1.5"/><circle cx="607.7" cy="69.8" r="1.5"/><circle cx="609.1" cy="89.4" r="1.5"/><circle cx="604.4" cy="64.5" r="1.5"/><circle cx="602.8" cy="66.4" r="1.5"/><circle cx="603.1" cy="76.6" r="1.5"/><circle cx="605.5" cy="66.0" r="1.5"/><circle cx="602.6" cy="73.2" r="1.5"/><circle cx="608.2" cy="118.4" r="1.5"/><circle cx="606.9" cy="101.2" r="1.5"/><circle cx="607.5" cy="51.2" r="1.5"/><circle cx="602.4" cy="92.1" r="1.5"/><circle cx="605.4" cy="51.0" r="1.5"/><circle cx="609.1" cy="119.1" r="1.5"/><circle cx="603.0" cy="92.0" r="1.5"/><circle cx="608.0" cy="64.7" r="1.5"/><circle cx="605.9" cy="55.3" r="1.5"/><circle cx="608.1" cy="58.4" r="1.5"/><circle cx="606.5" cy="102.7" r="1.5"/><circle cx="607.4" cy="70.0" r="1.5"/><circle cx="609.1" cy="109.0" r="1.5"/><circle cx="602.5" cy="96.8" r="1.5"/><circle cx="603.7" cy="93.5" r="1.5"/><circle cx="602.6" cy="77.5" r="1.5"/><circle cx="604.9" cy="102.2" r="1.5"/><circle cx="602.8" cy="80.1" r="1.5"/><circle cx="602.8" cy="59.7" r="1.5"/><circle cx="603.8" cy="57.0" r="1.5"/><circle cx="602.9" cy="93.3" r="1.5"/><circle cx="607.8" cy="83.9" r="1.5"/><circle cx="605.0" cy="58.2" r="1.5"/><circle cx="603.1" cy="60.3" r="1.5"/><circle cx="605.5" cy="100.8" r="1.5"/><circle cx="604.3" cy="101.3" r="1.5"/><circle cx="606.5" cy="89.7" r="1.5"/><circle cx="605.6" cy="74.8" r="1.5"/><circle cx="608.5" cy="71.3" r="1.5"/><circle cx="604.0" cy="73.6" r="1.5"/><circle cx="607.0" cy="56.2" r="1.5"/><circle cx="604.6" cy="83.1" r="1.5"/><circle cx="607.6" cy="97.3" r="1.5"/><circle cx="604.2" cy="76.8" r="1.5"/><circle cx="604.5" cy="60.6" r="1.5"/><circle cx="604.3" cy="105.4" r="1.5"/><circle cx="606.3" cy="78.4" r="1.5"/><circle cx="609.7" cy="53.8" r="1.5"/><circle cx="604.8" cy="89.1" r="1.5"/><circle cx="606.7" cy="85.1" r="1.5"/><circle cx="606.1" cy="92.5" r="1.5"/><circle cx="608.5" cy="57.4" r="1.5"/><circle cx="607.9" cy="67.6" r="1.5"/><circle cx="608.7" cy="102.9" r="1.5"/><circle cx="609.2" cy="106.8" r="1.5"/><circle cx="602.8" cy="85.8" r="1.5"/><circle cx="603.1" cy="102.9" r="1.5"/><circle cx="606.3" cy="110.6" r="1.5"/><circle cx="604.7" cy="95.0" r="1.5"/><circle cx="609.3" cy="115.6" r="1.5"/><circle cx="605.5" cy="87.7" r="1.5"/><circle cx="603.1" cy="96.4" r="1.5"/><circle cx="604.4" cy="95.6" r="1.5"/><circle cx="605.9" cy="81.4" r="1.5"/><circle cx="605.2" cy="89.7" r="1.5"/><circle cx="606.3" cy="86.5" r="1.5"/><circle cx="602.9" cy="74.3" r="1.5"/><circle cx="604.7" cy="60.2" r="1.5"/><circle cx="603.0" cy="82.2" r="1.5"/><circle cx="604.0" cy="76.0" r="1.5"/><circle cx="608.1" cy="74.7" r="1.5"/><circle cx="606.0" cy="54.6" r="1.5"/><circle cx="603.5" cy="50.0" r="1.5"/><circle cx="605.0" cy="75.9" r="1.5"/><circle cx="603.0" cy="119.0" r="1.5"/><circle cx="603.1" cy="82.3" r="1.5"/><circle cx="603.6" cy="64.4" r="1.5"/><circle cx="603.1" cy="73.8" r="1.5"/><circle cx="608.9" cy="71.6" r="1.5"/><circle cx="609.1" cy="62.3" r="1.5"/><circle cx="608.5" cy="118.4" r="1.5"/><circle cx="605.5" cy="99.8" r="1.5"/><circle cx="605.0" cy="69.1" r="1.5"/><circle cx="607.3" cy="106.6" r="1.5"/><circle cx="603.2" cy="116.2" r="1.5"/><circle cx="607.4" cy="62.4" r="1.5"/><circle cx="602.8" cy="111.4" r="1.5"/><circle cx="603.0" cy="50.4" r="1.5"/><circle cx="602.7" cy="80.0" r="1.5"/><circle cx="608.6" cy="109.0" r="1.5"/><circle cx="606.9" cy="96.9" r="1.5"/><circle cx="606.6" cy="87.7" r="1.5"/><circle cx="603.1" cy="57.0" r="1.5"/><circle cx="605.4" cy="51.0" r="1.5"/><circle cx="606.2" cy="52.6" r="1.5"/><circle cx="606.7" cy="117.1" r="1.5"/><circle cx="602.4" cy="50.2" r="1.5"/><circle cx="606.8" cy="64.6" r="1.5"/><circle cx="608.3" cy="95.4" r="1.5"/><circle cx="607.1" cy="74.9" r="1.5"/><circle cx="602.6" cy="82.7" r="1.5"/><circle cx="609.1" cy="81.4" r="1.5"/><circle cx="607.8" cy="116.4" r="1.5"/><circle cx="604.8" cy="85.0" r="1.5"/><circle cx="605.9" cy="60.7" r="1.5"/><circle cx="605.4" cy="80.7" r="1.5"/><circle cx="605.6" cy="73.0" r="1.5"/><circle cx="606.1" cy="92.9" r="1.5"/><circle cx="603.9" cy="59.4" r="1.5"/><circle cx="604.4" cy="70.2" r="1.5"/><circle cx="603.8" cy="50.6" r="1.5"/><circle cx="603.4" cy="91.2" r="1.5"/><circle cx="604.5" cy="58.4" r="1.5"/><circle cx="607.3" cy="102.4" r="1.5"/><circle cx="603.6" cy="68.0" r="1.5"/><circle cx="605.0" cy="108.3" r="1.5"/><circle cx="602.9" cy="69.6" r="1.5"/><circle cx="606.7" cy="63.5" r="1.5"/><circle cx="602.7" cy="86.8" r="1.5"/><circle cx="603.0" cy="80.4" r="1.5"/><circle cx="603.5" cy="104.7" r="1.5"/><circle cx="605.9" cy="109.5" r="1.5"/><circle cx="607.9" cy="109.3" r="1.5"/><circle cx="603.8" cy="67.2" r="1.5"/><circle cx="603.7" cy="99.9" r="1.5"/><circle cx="607.8" cy="80.9" r="1.5"/><circle cx="608.0" cy="59.1" r="1.5"/><circle cx="609.4" cy="115.0" r="1.5"/><circle cx="604.6" cy="88.7" r="1.5"/><circle cx="603.9" cy="59.2" r="1.5"/><circle cx="604.6" cy="54.8" r="1.5"/><circle cx="602.7" cy="89.4" r="1.5"/><circle cx="606.5" cy="65.0" r="1.5"/><circle cx="605.3" cy="56.9" r="1.5"/><circle cx="604.0" cy="95.8" r="1.5"/><circle cx="603.3" cy="107.7" r="1.5"/><circle cx="605.3" cy="68.9" r="1.5"/><circle cx="603.3" cy="86.3" r="1.5"/><circle cx="604.9" cy="50.9" r="1.5"/><circle cx="605.4" cy="63.3" r="1.5"/><circle cx="603.6" cy="57.2" r="1.5"/><circle cx="602.5" cy="110.4" r="1.5"/><circle cx="606.5" cy="83.3" r="1.5"/><circle cx="605.6" cy="76.7" r="1.5"/><circle cx="604.3" cy="73.9" r="1.5"/><circle cx="604.7" cy="79.4" r="1.5"/><circle cx="607.2" cy="99.1" r="1.5"/><circle cx="607.6" cy="62.2" r="1.5"/><circle cx="609.7" cy="116.7" r="1.5"/><circle cx="604.9" cy="109.5" r="1.5"/><circle cx="603.2" cy="87.4" r="1.5"/><circle cx="607.8" cy="112.2" r="1.5"/><circle cx="607.9" cy="60.8" r="1.5"/><circle cx="609.5" cy="67.1" r="1.5"/><circle cx="603.4" cy="69.9" r="1.5"/><circle cx="606.0" cy="101.7" r="1.5"/><circle cx="607.9" cy="97.5" r="1.5"/><circle cx="608.3" cy="58.2" r="1.5"/><circle cx="604.7" cy="111.5" r="1.5"/><circle cx="608.1" cy="110.0" r="1.5"/><circle cx="602.9" cy="58.5" r="1.5"/><circle cx="603.6" cy="102.6" r="1.5"/><circle cx="604.6" cy="69.5" r="1.5"/><circle cx="603.3" cy="98.6" r="1.5"/><circle cx="602.7" cy="102.8" r="1.5"/><circle cx="607.5" cy="75.5" r="1.5"/><circle cx="606.2" cy="57.0" r="1.5"/><circle cx="602.5" cy="101.1" r="1.5"/><circle cx="606.5" cy="95.5" r="1.5"/><circle cx="609.6" cy="105.2" r="1.5"/><circle cx="609.4" cy="68.8" r="1.5"/><circle cx="606.9" cy="53.9" r="1.5"/><circle cx="604.9" cy="97.1" r="1.5"/><circle cx="604.9" cy="68.6" r="1.5"/><circle cx="608.1" cy="76.1" r="1.5"/><circle cx="607.9" cy="73.6" r="1.5"/><circle cx="607.7" cy="112.0" r="1.5"/><circle cx="608.2" cy="83.0" r="1.5"/><circle cx="604.2" cy="111.9" r="1.5"/><circle cx="606.3" cy="105.5" r="1.5"/><circle cx="604.4" cy="82.1" r="1.5"/><circle cx="603.4" cy="104.6" r="1.5"/><circle cx="602.7" cy="96.3" r="1.5"/><circle cx="608.2" cy="103.7" r="1.5"/><circle cx="603.8" cy="111.6" r="1.5"/><circle cx="606.3" cy="68.2" r="1.5"/><circle cx="603.3" cy="62.5" r="1.5"/><circle cx="602.5" cy="112.8" r="1.5"/><circle cx="602.8" cy="64.9" r="1.5"/><circle cx="602.7" cy="68.9" r="1.5"/><circle cx="603.4" cy="99.9" r="1.5"/><circle cx="602.8" cy="63.2" r="1.5"/><circle cx="604.5" cy="54.7" r="1.5"/><circle cx="607.0" cy="80.9" r="1.5"/><circle cx="605.1" cy="81.0" r="1.5"/><circle cx="606.1" cy="51.9" r="1.5"/><circle cx="603.5" cy="108.4" r="1.5"/><circle cx="609.8" cy="72.0" r="1.5"/><circle cx="606.5" cy="87.7" r="1.5"/><circle cx="602.5" cy="105.2" r="1.5"/><circle cx="608.0" cy="101.8" r="1.5"/><circle cx="606.3" cy="86.3" r="1.5"/><circle cx="603.2" cy="117.2" r="1.5"/><circle cx="602.7" cy="70.2" r="1.5"/><circle cx="603.6" cy="84.7" r="1.5"/><circle cx="606.0" cy="66.8" r="1.5"/><circle cx="603.1" cy="90.7" r="1.5"/><circle cx="607.6" cy="73.7" r="1.5"/><circle cx="605.2" cy="75.4" r="1.5"/><circle cx="607.8" cy="58.5" r="1.5"/><circle cx="605.7" cy="114.0" r="1.5"/><circle cx="603.0" cy="73.6" r="1.5"/><circle cx="606.9" cy="89.4" r="1.5"/><circle cx="607.0" cy="105.6" r="1.5"/><circle cx="604.6" cy="94.0" r="1.5"/><circle cx="607.5" cy="52.1" r="1.5"/><circle cx="603.8" cy="114.1" r="1.5"/><circle cx="604.5" cy="59.3" r="1.5"/><circle cx="609.8" cy="117.1" r="1.5"/><circle cx="604.2" cy="87.1" r="1.5"/><circle cx="608.8" cy="80.5" r="1.5"/><circle cx="604.9" cy="51.6" r="1.5"/><circle cx="607.4" cy="57.0" r="1.5"/><circle cx="608.0" cy="50.9" r="1.5"/><circle cx="606.9" cy="65.4" r="1.5"/><circle cx="605.5" cy="72.7" r="1.5"/><circle cx="609.2" cy="53.4" r="1.5"/><circle cx="608.9" cy="72.9" r="1.5"/><circle cx="605.4" cy="91.3" r="1.5"/><circle cx="604.6" cy="53.1" r="1.5"/><circle cx="606.8" cy="64.1" r="1.5"/><circle cx="606.8" cy="114.0" r="1.5"/><circle cx="605.0" cy="96.2" r="1.5"/><circle cx="609.5" cy="72.0" r="1.5"/><circle cx="604.4" cy="84.6" r="1.5"/><circle cx="608.8" cy="83.4" r="1.5"/><circle cx="607.1" cy="95.3" r="1.5"/><circle cx="604.9" cy="66.4" r="1.5"/><circle cx="603.3" cy="72.9" r="1.5"/><circle cx="608.3" cy="50.0" r="1.5"/><circle cx="605.7" cy="77.3" r="1.5"/><circle cx="609.7" cy="64.5" r="1.5"/><circle cx="608.6" cy="83.6" r="1.5"/><circle cx="603.0" cy="62.0" r="1.5"/><circle cx="602.8" cy="70.2" r="1.5"/><circle cx="610.2" cy="55.5" r="1.5"/><circle cx="619.4" cy="71.4" r="1.5"/><circle cx="614.7" cy="82.8" r="1.5"/><circle cx="631.8" cy="69.0" r="1.5"/><circle cx="630.3" cy="92.4" r="1.5"/><circle cx="606.2" cy="89.5" r="1.5"/><circle cx="610.8" cy="46.0" r="1.5"/><circle cx="607.3" cy="70.9" r="1.5"/><circle cx="626.5" cy="82.5" r="1.5"/><circle cx="610.2" cy="87.5" r="1.5"/><circle cx="606.4" cy="67.6" r="1.5"/><circle cx="617.0" cy="87.3" r="1.5"/><circle cx="616.9" cy="71.9" r="1.5"/><circle cx="621.0" cy="85.8" r="1.5"/><circle cx="608.9" cy="51.8" r="1.5"/><circle cx="620.8" cy="58.2" r="1.5"/><circle cx="611.3" cy="67.6" r="1.5"/><circle cx="612.1" cy="62.4" r="1.5"/><circle cx="630.2" cy="72.7" r="1.5"/><circle cx="614.0" cy="61.2" r="1.5"/><circle cx="615.1" cy="79.1" r="1.5"/><circle cx="606.2" cy="54.9" r="1.5"/><circle cx="615.5" cy="53.4" r="1.5"/><circle cx="611.3" cy="51.4" r="1.5"/><circle cx="624.8" cy="86.3" r="1.5"/><circle cx="623.8" cy="96.6" r="1.5"/><circle cx="619.5" cy="57.0" r="1.5"/><circle cx="621.9" cy="83.2" r="1.5"/><circle cx="611.5" cy="89.1" r="1.5"/><circle cx="628.0" cy="67.1" r="1.5"/><circle cx="623.9" cy="72.6" r="1.5"/><circle cx="613.4" cy="48.3" r="1.5"/><circle cx="629.4" cy="59.0" r="1.5"/><circle cx="619.6" cy="51.1" r="1.5"/><circle cx="610.9" cy="81.7" r="1.5"/><circle cx="624.1" cy="62.7" r="1.5"/><circle cx="623.3" cy="60.5" r="1.5"/><circle cx="612.7" cy="92.6" r="1.5"/><circle cx="623.6" cy="52.2" r="1.5"/><circle cx="616.1" cy="81.8" r="1.5"/><circle cx="626.2" cy="88.7" r="1.5"/><circle cx="608.3" cy="67.9" r="1.5"/><circle cx="614.7" cy="58.1" r="1.5"/><circle cx="606.2" cy="48.9" r="1.5"/><circle cx="609.9" cy="72.1" r="1.5"/><circle cx="606.2" cy="78.7" r="1.5"/><circle cx="615.4" cy="48.1" r="1.5"/><circle cx="608.3" cy="92.0" r="1.5"/><circle cx="626.9" cy="49.4" r="1.5"/><circle cx="615.2" cy="71.2" r="1.5"/><circle cx="627.4" cy="74.1" r="1.5"/><circle cx="613.9" cy="75.6" r="1.5"/><circle cx="609.2" cy="84.1" r="1.5"/><circle cx="611.8" cy="95.3" r="1.5"/><circle cx="614.2" cy="57.0" r="1.5"/><circle cx="627.1" cy="92.1" r="1.5"/><circle cx="611.8" cy="52.2" r="1.5"/><circle cx="630.2" cy="81.9" r="1.5"/><circle cx="608.1" cy="53.8" r="1.5"/><circle cx="610.3" cy="63.6" r="1.5"/><circle cx="629.0" cy="85.3" r="1.5"/><circle cx="610.3" cy="68.3" r="1.5"/><circle cx="606.8" cy="71.7" r="1.5"/><circle cx="617.4" cy="75.7" r="1.5"/><circle cx="622.5" cy="63.1" r="1.5"/><circle cx="617.5" cy="55.1" r="1.5"/><circle cx="607.5" cy="89.3" r="1.5"/><circle cx="610.0" cy="89.5" r="1.5"/><circle cx="628.0" cy="53.2" r="1.5"/><circle cx="627.9" cy="77.9" r="1.5"/><circle cx="626.3" cy="48.7" r="1.5"/><circle cx="623.5" cy="53.5" r="1.5"/><circle cx="620.7" cy="98.2" r="1.5"/><circle cx="611.0" cy="85.0" r="1.5"/><circle cx="616.1" cy="68.7" r="1.5"/><circle cx="628.8" cy="84.9" r="1.5"/><circle cx="631.0" cy="90.7" r="1.5"/><circle cx="624.0" cy="81.9" r="1.5"/><circle cx="617.0" cy="65.7" r="1.5"/><circle cx="606.4" cy="67.8" r="1.5"/><circle cx="619.9" cy="84.9" r="1.5"/><circle cx="606.9" cy="66.4" r="1.5"/><circle cx="609.5" cy="89.4" r="1.5"/><circle cx="609.2" cy="68.2" r="1.5"/><circle cx="614.4" cy="78.3" r="1.5"/><circle cx="607.2" cy="87.1" r="1.5"/><circle cx="618.5" cy="77.4" r="1.5"/><circle cx="608.1" cy="55.0" r="1.5"/><circle cx="616.5" cy="80.3" r="1.5"/><circle cx="630.8" cy="70.0" r="1.5"/><circle cx="607.7" cy="73.2" r="1.5"/><circle cx="609.6" cy="53.5" r="1.5"/><circle cx="623.8" cy="94.8" r="1.5"/><circle cx="607.4" cy="62.7" r="1.5"/><circle cx="615.3" cy="82.1" r="1.5"/><circle cx="614.9" cy="91.4" r="1.5"/><circle cx="614.4" cy="68.4" r="1.5"/><circle cx="629.4" cy="66.0" r="1.5"/><circle cx="617.4" cy="96.8" r="1.5"/><circle cx="615.4" cy="68.7" r="1.5"/><circle cx="620.1" cy="82.0" r="1.5"/><circle cx="629.7" cy="60.8" r="1.5"/><circle cx="621.9" cy="46.4" r="1.5"/><circle cx="630.2" cy="91.9" r="1.5"/><circle cx="628.1" cy="70.4" r="1.5"/><circle cx="618.2" cy="97.7" r="1.5"/><circle cx="606.6" cy="56.1" r="1.5"/><circle cx="611.8" cy="46.1" r="1.5"/><circle cx="629.8" cy="69.8" r="1.5"/><circle cx="617.8" cy="66.9" r="1.5"/><circle cx="616.3" cy="55.3" r="1.5"/><circle cx="631.3" cy="80.9" r="1.5"/><circle cx="613.0" cy="77.8" r="1.5"/><circle cx="606.7" cy="90.3" r="1.5"/><circle cx="608.1" cy="58.9" r="1.5"/><circle cx="608.1" cy="66.9" r="1.5"/><circle cx="631.0" cy="76.9" r="1.5"/><circle cx="631.9" cy="85.4" r="1.5"/><circle cx="611.6" cy="91.2" r="1.5"/><circle cx="607.7" cy="77.0" r="1.5"/><circle cx="623.7" cy="63.7" r="1.5"/><circle cx="608.8" cy="95.4" r="1.5"/><circle cx="606.7" cy="81.1" r="1.5"/><circle cx="616.6" cy="98.8" r="1.5"/><circle cx="607.0" cy="63.1" r="1.5"/><circle cx="609.0" cy="96.5" r="1.5"/><circle cx="624.9" cy="94.8" r="1.5"/><circle cx="622.6" cy="96.0" r="1.5"/><circle cx="626.7" cy="73.5" r="1.5"/><circle cx="611.2" cy="87.5" r="1.5"/><circle cx="625.3" cy="76.5" r="1.5"/><circle cx="616.8" cy="81.6" r="1.5"/><circle cx="608.1" cy="82.3" r="1.5"/><circle cx="609.5" cy="59.1" r="1.5"/><circle cx="625.4" cy="57.3" r="1.5"/><circle cx="610.2" cy="80.7" r="1.5"/><circle cx="629.7" cy="74.1" r="1.5"/><circle cx="617.5" cy="96.1" r="1.5"/><circle cx="623.7" cy="75.1" r="1.5"/><circle cx="608.7" cy="73.4" r="1.5"/><circle cx="608.4" cy="80.0" r="1.5"/><circle cx="611.7" cy="75.5" r="1.5"/><circle cx="611.2" cy="89.8" r="1.5"/><circle cx="625.7" cy="70.4" r="1.5"/><circle cx="612.1" cy="65.1" r="1.5"/><circle cx="606.9" cy="83.0" r="1.5"/><circle cx="611.6" cy="73.0" r="1.5"/><circle cx="626.8" cy="75.0" r="1.5"/><circle cx="612.8" cy="66.6" r="1.5"/><circle cx="623.7" cy="81.7" r="1.5"/><circle cx="620.5" cy="79.4" r="1.5"/><circle cx="606.2" cy="94.9" r="1.5"/><circle cx="606.4" cy="77.8" r="1.5"/><circle cx="608.8" cy="68.7" r="1.5"/><circle cx="622.4" cy="74.7" r="1.5"/><circle cx="622.2" cy="82.6" r="1.5"/><circle cx="608.2" cy="54.6" r="1.5"/><circle cx="616.8" cy="87.2" r="1.5"/><circle cx="611.6" cy="51.4" r="1.5"/><circle cx="606.5" cy="53.1" r="1.5"/><circle cx="607.1" cy="51.8" r="1.5"/><circle cx="616.2" cy="92.2" r="1.5"/><circle cx="609.8" cy="77.7" r="1.5"/><circle cx="618.2" cy="56.5" r="1.5"/><circle cx="626.1" cy="87.1" r="1.5"/><circle cx="617.5" cy="57.4" r="1.5"/><circle cx="608.3" cy="55.5" r="1.5"/><circle cx="609.2" cy="67.1" r="1.5"/><circle cx="615.2" cy="70.2" r="1.5"/><circle cx="626.4" cy="91.4" r="1.5"/><circle cx="612.7" cy="99.6" r="1.5"/><circle cx="621.7" cy="101.1" r="1.5"/><circle cx="612.0" cy="114.0" r="1.5"/><circle cx="620.5" cy="103.8" r="1.5"/><circle cx="618.6" cy="119.5" r="1.5"/><circle cx="617.0" cy="104.0" r="1.5"/><circle cx="628.5" cy="119.2" r="1.5"/><circle cx="615.7" cy="100.8" r="1.5"/><circle cx="624.5" cy="107.4" r="1.5"/><circle cx="610.7" cy="110.1" r="1.5"/><circle cx="616.4" cy="110.0" r="1.5"/><circle cx="618.2" cy="119.2" r="1.5"/><circle cx="626.6" cy="111.4" r="1.5"/><circle cx="611.2" cy="107.4" r="1.5"/><circle cx="614.1" cy="118.4" r="1.5"/><circle cx="620.5" cy="120.8" r="1.5"/><circle cx="629.5" cy="108.5" r="1.5"/><circle cx="612.8" cy="100.3" r="1.5"/><circle cx="620.4" cy="120.9" r="1.5"/><circle cx="624.2" cy="120.0" r="1.5"/><circle cx="613.1" cy="108.5" r="1.5"/><circle cx="622.5" cy="99.9" r="1.5"/><circle cx="626.8" cy="117.2" r="1.5"/><circle cx="619.6" cy="118.9" r="1.5"/><circle cx="623.6" cy="111.7" r="1.5"/><circle cx="622.3" cy="119.7" r="1.5"/><circle cx="618.2" cy="111.4" r="1.5"/><circle cx="608.5" cy="106.5" r="1.5"/><circle cx="631.3" cy="104.5" r="1.5"/><circle cx="630.8" cy="119.0" r="1.5"/><circle cx="622.0" cy="108.2" r="1.5"/><circle cx="617.2" cy="103.3" r="1.5"/><circle cx="616.2" cy="119.2" r="1.5"/><circle cx="621.8" cy="102.2" r="1.5"/><circle cx="615.2" cy="107.2" r="1.5"/><circle cx="610.4" cy="99.4" r="1.5"/><circle cx="631.3" cy="120.9" r="1.5"/><circle cx="622.0" cy="100.4" r="1.5"/><circle cx="618.7" cy="119.4" r="1.5"/><circle cx="624.3" cy="110.0" r="1.5"/><circle cx="643.4" cy="89.1" r="1.5"/><circle cx="636.8" cy="50.1" r="1.5"/><circle cx="650.5" cy="64.8" r="1.5"/><circle cx="660.0" cy="72.6" r="1.5"/><circle cx="666.5" cy="54.9" r="1.5"/><circle cx="625.6" cy="59.3" r="1.5"/><circle cx="626.0" cy="66.2" r="1.5"/><circle cx="675.6" cy="49.6" r="1.5"/><circle cx="641.3" cy="44.2" r="1.5"/><circle cx="634.1" cy="56.0" r="1.5"/><circle cx="666.7" cy="90.1" r="1.5"/><circle cx="638.8" cy="64.5" r="1.5"/><circle cx="679.5" cy="83.6" r="1.5"/><circle cx="650.0" cy="46.1" r="1.5"/><circle cx="634.0" cy="49.2" r="1.5"/><circle cx="665.5" cy="51.2" r="1.5"/><circle cx="643.4" cy="61.1" r="1.5"/><circle cx="632.7" cy="77.7" r="1.5"/><circle cx="669.2" cy="86.3" r="1.5"/><circle cx="654.5" cy="87.8" r="1.5"/><circle cx="669.1" cy="59.2" r="1.5"/><circle cx="631.2" cy="46.8" r="1.5"/><circle cx="660.5" cy="59.0" r="1.5"/><circle cx="628.8" cy="49.7" r="1.5"/><circle cx="663.1" cy="72.4" r="1.5"/><circle cx="628.7" cy="52.4" r="1.5"/><circle cx="607.3" cy="34.6" r="1.5"/><circle cx="615.3" cy="40.2" r="1.5"/><circle cx="612.3" cy="41.4" r="1.5"/><circle cx="613.7" cy="33.4" r="1.5"/><circle cx="614.9" cy="40.0" r="1.5"/><circle cx="617.7" cy="32.2" r="1.5"/><circle cx="606.5" cy="37.7" r="1.5"/><circle cx="622.1" cy="37.8" r="1.5"/><circle cx="607.7" cy="42.7" r="1.5"/><circle cx="618.0" cy="37.5" r="1.5"/></g>
<line x1="580.36" y1="23.10" x2="580.36" y2="172.30" stroke="#000" stroke-width="1.0" stroke-dasharray="1 2.2" stroke-linecap="round"/>
<line x1="602.44" y1="23.10" x2="602.44" y2="172.30" stroke="#000" stroke-width="1.0" stroke-dasharray="1 2.2" stroke-linecap="round"/>
<line x1="509.30" y1="121.20" x2="685.00" y2="121.20" stroke="#000" stroke-width="1.0" stroke-dasharray="1 2.2" stroke-linecap="round"/>
<line x1="509.30" y1="23.10" x2="509.30" y2="172.30" stroke="#ababab" stroke-width="1.8"/>
<line x1="508.40" y1="172.30" x2="685.00" y2="172.30" stroke="#555" stroke-width="1.1"/>
<line x1="506.80" y1="165.90" x2="509.30" y2="165.90" stroke="#666" stroke-width="0.8"/>
<text x="503.70" y="168.90" font-size="8.6" text-anchor="end" fill="#333">0</text>
<line x1="506.80" y1="121.20" x2="509.30" y2="121.20" stroke="#666" stroke-width="0.8"/>
<text x="503.70" y="124.20" font-size="8.6" text-anchor="end" fill="#333">2</text>
<line x1="506.80" y1="76.50" x2="509.30" y2="76.50" stroke="#666" stroke-width="0.8"/>
<text x="503.70" y="79.50" font-size="8.6" text-anchor="end" fill="#333">4</text>
<line x1="506.80" y1="31.80" x2="509.30" y2="31.80" stroke="#666" stroke-width="0.8"/>
<text x="503.70" y="34.80" font-size="8.6" text-anchor="end" fill="#333">6</text>
<line x1="517.80" y1="172.30" x2="517.80" y2="174.80" stroke="#666" stroke-width="0.8"/>
<text x="517.80" y="183.60" font-size="8.6" text-anchor="middle" fill="#333">-2</text>
<line x1="554.60" y1="172.30" x2="554.60" y2="174.80" stroke="#666" stroke-width="0.8"/>
<text x="554.60" y="183.60" font-size="8.6" text-anchor="middle" fill="#333">-1</text>
<line x1="591.40" y1="172.30" x2="591.40" y2="174.80" stroke="#666" stroke-width="0.8"/>
<text x="591.40" y="183.60" font-size="8.6" text-anchor="middle" fill="#333">0</text>
<line x1="628.20" y1="172.30" x2="628.20" y2="174.80" stroke="#666" stroke-width="0.8"/>
<text x="628.20" y="183.60" font-size="8.6" text-anchor="middle" fill="#333">1</text>
<line x1="665.00" y1="172.30" x2="665.00" y2="174.80" stroke="#666" stroke-width="0.8"/>
<text x="665.00" y="183.60" font-size="8.6" text-anchor="middle" fill="#333">2</text>
<text x="592.40" y="193.80" font-size="8.4" text-anchor="middle" fill="#000">Log<tspan font-size="5.6" dy="2">2</tspan><tspan dy="-2"> FoldChange</tspan></text>
<text x="0" y="0" font-size="8.8" text-anchor="middle" transform="translate(495.6 99.4) rotate(-90)">-Log<tspan font-size="6" dy="2">10</tspan><tspan dy="-2">adj </tspan><tspan font-style="italic">P</tspan></text>
<line x1="542.40" y1="56.90" x2="542.40" y2="57.80" stroke="#000" stroke-width="0.6"/>
<circle cx="542.40" cy="57.80" r="1.20" fill="#000" stroke="none" stroke-width="1"/>
<rect x="529.20" y="50.40" width="16.60" height="6.50" fill="#fff" stroke="#9d9d9d" stroke-width="0.6"/>
<text x="537.50" y="55.60" font-size="7.2" text-anchor="middle" fill="#000" textLength="14.6" lengthAdjust="spacingAndGlyphs">Cd36</text>
<line x1="553.50" y1="68.90" x2="553.50" y2="69.80" stroke="#000" stroke-width="0.6"/>
<circle cx="553.50" cy="69.80" r="1.20" fill="#000" stroke="none" stroke-width="1"/>
<rect x="539.70" y="62.00" width="15.30" height="6.90" fill="#fff" stroke="#9d9d9d" stroke-width="0.6"/>
<text x="547.35" y="67.60" font-size="7.2" text-anchor="middle" fill="#000" textLength="13.3" lengthAdjust="spacingAndGlyphs">Mrc1</text>
<line x1="565.50" y1="75.00" x2="565.50" y2="75.40" stroke="#000" stroke-width="0.6"/>
<circle cx="565.50" cy="75.40" r="1.20" fill="#000" stroke="none" stroke-width="1"/>
<rect x="561.80" y="68.30" width="19.40" height="6.70" fill="#fff" stroke="#9d9d9d" stroke-width="0.6"/>
<text x="571.50" y="73.70" font-size="7.2" text-anchor="middle" fill="#000" textLength="17.4" lengthAdjust="spacingAndGlyphs">Trem2</text>
<line x1="576.00" y1="89.70" x2="576.00" y2="91.00" stroke="#000" stroke-width="0.6"/>
<circle cx="576.00" cy="91.00" r="1.20" fill="#000" stroke="none" stroke-width="1"/>
<rect x="568.60" y="83.10" width="17.20" height="6.60" fill="#fff" stroke="#9d9d9d" stroke-width="0.6"/>
<text x="577.20" y="88.40" font-size="7.2" text-anchor="middle" fill="#000" textLength="15.2" lengthAdjust="spacingAndGlyphs">Mertk</text>
<line x1="572.00" y1="95.60" x2="574.70" y2="95.60" stroke="#000" stroke-width="0.6"/>
<circle cx="574.70" cy="95.60" r="1.20" fill="#000" stroke="none" stroke-width="1"/>
<rect x="555.70" y="93.40" width="16.30" height="6.30" fill="#fff" stroke="#9d9d9d" stroke-width="0.6"/>
<text x="563.85" y="98.40" font-size="7.2" text-anchor="middle" fill="#000" textLength="14.3" lengthAdjust="spacingAndGlyphs">Tgfb1</text>
<line x1="580.50" y1="105.00" x2="580.50" y2="105.00" stroke="#000" stroke-width="0.6"/>
<circle cx="580.50" cy="105.00" r="1.20" fill="#000" stroke="none" stroke-width="1"/>
<rect x="577.10" y="100.30" width="16.10" height="6.40" fill="#fff" stroke="#9d9d9d" stroke-width="0.6"/>
<text x="585.15" y="105.40" font-size="7.2" text-anchor="middle" fill="#000" textLength="14.1" lengthAdjust="spacingAndGlyphs">Chil3</text>
<line x1="614.50" y1="47.30" x2="613.60" y2="48.60" stroke="#000" stroke-width="0.6"/>
<circle cx="613.60" cy="48.60" r="1.20" fill="#000" stroke="none" stroke-width="1"/>
<rect x="614.50" y="40.70" width="12.50" height="6.60" fill="#fff" stroke="#9d9d9d" stroke-width="0.6"/>
<text x="620.75" y="46.00" font-size="7.2" text-anchor="middle" fill="#000" textLength="10.5" lengthAdjust="spacingAndGlyphs">Syk</text>
<line x1="629.30" y1="51.40" x2="629.30" y2="52.30" stroke="#000" stroke-width="0.6"/>
<circle cx="629.30" cy="52.30" r="1.20" fill="#000" stroke="none" stroke-width="1"/>
<rect x="629.30" y="44.90" width="15.70" height="6.50" fill="#fff" stroke="#9d9d9d" stroke-width="0.6"/>
<text x="637.15" y="50.10" font-size="7.2" text-anchor="middle" fill="#000" textLength="13.7" lengthAdjust="spacingAndGlyphs">Ptk2</text>
<line x1="605.30" y1="56.90" x2="605.30" y2="57.80" stroke="#000" stroke-width="0.6"/>
<circle cx="605.30" cy="57.80" r="1.20" fill="#000" stroke="none" stroke-width="1"/>
<rect x="593.30" y="50.40" width="15.30" height="6.50" fill="#fff" stroke="#9d9d9d" stroke-width="0.6"/>
<text x="600.95" y="55.60" font-size="7.2" text-anchor="middle" fill="#000" textLength="13.3" lengthAdjust="spacingAndGlyphs">Vav1</text>
<line x1="633.90" y1="58.70" x2="633.30" y2="57.80" stroke="#000" stroke-width="0.6"/>
<circle cx="633.30" cy="57.80" r="1.20" fill="#000" stroke="none" stroke-width="1"/>
<rect x="633.90" y="58.70" width="12.00" height="6.50" fill="#fff" stroke="#9d9d9d" stroke-width="0.6"/>
<text x="639.90" y="63.90" font-size="7.2" text-anchor="middle" fill="#000" textLength="10.0" lengthAdjust="spacingAndGlyphs">Ifit2</text>
<line x1="623.70" y1="60.60" x2="624.70" y2="60.20" stroke="#000" stroke-width="0.6"/>
<circle cx="624.70" cy="60.20" r="1.20" fill="#000" stroke="none" stroke-width="1"/>
<rect x="607.10" y="60.60" width="16.60" height="6.40" fill="#fff" stroke="#9d9d9d" stroke-width="0.6"/>
<text x="615.40" y="65.70" font-size="7.2" text-anchor="middle" fill="#000" textLength="14.6" lengthAdjust="spacingAndGlyphs">Isg15</text>
<line x1="603.10" y1="68.50" x2="621.00" y2="68.50" stroke="#000" stroke-width="0.6"/>
<circle cx="621.00" cy="68.50" r="1.20" fill="#000" stroke="none" stroke-width="1"/>
<rect x="587.80" y="67.60" width="15.30" height="6.30" fill="#fff" stroke="#9d9d9d" stroke-width="0.6"/>
<text x="595.45" y="72.60" font-size="7.2" text-anchor="middle" fill="#000" textLength="13.3" lengthAdjust="spacingAndGlyphs">Vasp</text>
<line x1="626.50" y1="75.40" x2="624.70" y2="75.40" stroke="#000" stroke-width="0.6"/>
<circle cx="624.70" cy="75.40" r="1.20" fill="#000" stroke="none" stroke-width="1"/>
<rect x="626.50" y="73.50" width="17.20" height="6.50" fill="#fff" stroke="#9d9d9d" stroke-width="0.6"/>
<text x="635.10" y="78.70" font-size="7.2" text-anchor="middle" fill="#000" textLength="15.2" lengthAdjust="spacingAndGlyphs">Isg20</text>
<line x1="603.10" y1="80.00" x2="605.00" y2="80.00" stroke="#000" stroke-width="0.6"/>
<circle cx="605.00" cy="80.00" r="1.20" fill="#000" stroke="none" stroke-width="1"/>
<rect x="590.50" y="77.20" width="12.60" height="6.50" fill="#fff" stroke="#9d9d9d" stroke-width="0.6"/>
<text x="596.80" y="82.40" font-size="7.2" text-anchor="middle" fill="#000" textLength="10.6" lengthAdjust="spacingAndGlyphs">Ifi35</text>
<line x1="610.80" y1="79.00" x2="609.00" y2="79.00" stroke="#000" stroke-width="0.6"/>
<circle cx="609.00" cy="79.00" r="1.20" fill="#000" stroke="none" stroke-width="1"/>
<rect x="610.80" y="77.20" width="12.60" height="6.50" fill="#fff" stroke="#9d9d9d" stroke-width="0.6"/>
<text x="617.10" y="82.40" font-size="7.2" text-anchor="middle" fill="#000" textLength="10.6" lengthAdjust="spacingAndGlyphs">Hck</text>
<line x1="607.00" y1="87.30" x2="607.00" y2="85.50" stroke="#000" stroke-width="0.6"/>
<circle cx="607.00" cy="85.50" r="1.20" fill="#000" stroke="none" stroke-width="1"/>
<rect x="604.40" y="87.30" width="13.80" height="6.50" fill="#fff" stroke="#9d9d9d" stroke-width="0.6"/>
<text x="611.30" y="92.50" font-size="7.2" text-anchor="middle" fill="#000" textLength="11.8" lengthAdjust="spacingAndGlyphs">Ifi44</text>
<line x1="632.00" y1="90.10" x2="632.00" y2="87.30" stroke="#000" stroke-width="0.6"/>
<circle cx="632.00" cy="87.30" r="1.20" fill="#000" stroke="none" stroke-width="1"/>
<rect x="621.90" y="90.10" width="15.70" height="6.50" fill="#fff" stroke="#9d9d9d" stroke-width="0.6"/>
<text x="629.75" y="95.30" font-size="7.2" text-anchor="middle" fill="#000" textLength="13.7" lengthAdjust="spacingAndGlyphs">Cd38</text>
<line x1="641.30" y1="91.00" x2="640.40" y2="89.20" stroke="#000" stroke-width="0.6"/>
<circle cx="640.40" cy="89.20" r="1.20" fill="#000" stroke="none" stroke-width="1"/>
<rect x="641.30" y="91.00" width="12.90" height="6.50" fill="#fff" stroke="#9d9d9d" stroke-width="0.6"/>
<text x="647.75" y="96.20" font-size="7.2" text-anchor="middle" fill="#000" textLength="10.9" lengthAdjust="spacingAndGlyphs">Ifit1</text>
<line x1="607.50" y1="105.20" x2="606.80" y2="104.00" stroke="#000" stroke-width="0.6"/>
<circle cx="606.80" cy="104.00" r="1.20" fill="#000" stroke="none" stroke-width="1"/>
<rect x="607.50" y="105.20" width="11.60" height="6.70" fill="#fff" stroke="#9d9d9d" stroke-width="0.6"/>
<text x="613.30" y="110.60" font-size="7.2" text-anchor="middle" fill="#000" textLength="9.6" lengthAdjust="spacingAndGlyphs">Lyn</text>
<text x="490.60" y="10.20" font-size="13.2" text-anchor="start" fill="#000" font-weight="bold">d</text>
<line x1="48.30" y1="236.70" x2="48.30" y2="313.20" stroke="#e6e6e6" stroke-width="0.7"/>
<line x1="64.05" y1="236.70" x2="64.05" y2="313.20" stroke="#e6e6e6" stroke-width="0.7"/>
<line x1="79.80" y1="236.70" x2="79.80" y2="313.20" stroke="#e6e6e6" stroke-width="0.7"/>
<line x1="95.55" y1="236.70" x2="95.55" y2="313.20" stroke="#e6e6e6" stroke-width="0.7"/>
<line x1="111.30" y1="236.70" x2="111.30" y2="313.20" stroke="#e6e6e6" stroke-width="0.7"/>
<line x1="35.50" y1="312.80" x2="111.40" y2="312.80" stroke="#e6e6e6" stroke-width="0.7"/>
<line x1="35.50" y1="293.80" x2="111.40" y2="293.80" stroke="#e6e6e6" stroke-width="0.7"/>
<line x1="35.50" y1="274.80" x2="111.40" y2="274.80" stroke="#e6e6e6" stroke-width="0.7"/>
<line x1="35.50" y1="255.80" x2="111.40" y2="255.80" stroke="#e6e6e6" stroke-width="0.7"/>
<line x1="35.50" y1="236.80" x2="111.40" y2="236.80" stroke="#e6e6e6" stroke-width="0.7"/>
<line x1="35.50" y1="236.70" x2="35.50" y2="313.20" stroke="#000" stroke-width="1.1"/>
<line x1="35.50" y1="313.20" x2="111.40" y2="313.20" stroke="#000" stroke-width="1.1"/>
<line x1="32.50" y1="312.80" x2="35.50" y2="312.80" stroke="#000" stroke-width="1.0"/>
<text x="31.20" y="316.70" font-size="10.7" text-anchor="end" fill="#000">-20</text>
<line x1="32.50" y1="293.80" x2="35.50" y2="293.80" stroke="#000" stroke-width="1.0"/>
<text x="31.20" y="297.70" font-size="10.7" text-anchor="end" fill="#000">-10</text>
<line x1="32.50" y1="274.80" x2="35.50" y2="274.80" stroke="#000" stroke-width="1.0"/>
<text x="31.20" y="278.70" font-size="10.7" text-anchor="end" fill="#000">0</text>
<line x1="32.50" y1="255.80" x2="35.50" y2="255.80" stroke="#000" stroke-width="1.0"/>
<text x="31.20" y="259.70" font-size="10.7" text-anchor="end" fill="#000">10</text>
<line x1="32.50" y1="236.80" x2="35.50" y2="236.80" stroke="#000" stroke-width="1.0"/>
<text x="31.20" y="240.70" font-size="10.7" text-anchor="end" fill="#000">20</text>
<line x1="48.30" y1="313.20" x2="48.30" y2="316.20" stroke="#000" stroke-width="1.0"/>
<line x1="64.05" y1="313.20" x2="64.05" y2="316.20" stroke="#000" stroke-width="1.0"/>
<line x1="79.80" y1="313.20" x2="79.80" y2="316.20" stroke="#000" stroke-width="1.0"/>
<line x1="95.55" y1="313.20" x2="95.55" y2="316.20" stroke="#000" stroke-width="1.0"/>
<line x1="111.30" y1="313.20" x2="111.30" y2="316.20" stroke="#000" stroke-width="1.0"/>
<text x="48.30" y="329.20" font-size="10.7" text-anchor="middle" fill="#000">-50</text>
<text x="64.35" y="329.20" font-size="10.7" text-anchor="middle" fill="#000">-25</text>
<text x="79.80" y="329.20" font-size="10.7" text-anchor="middle" fill="#000">0</text>
<text x="95.55" y="329.20" font-size="10.7" text-anchor="middle" fill="#000">25</text>
<text x="111.30" y="329.20" font-size="10.7" text-anchor="middle" fill="#000">50</text>
<text x="75.60" y="341.60" font-size="10.7" text-anchor="middle" fill="#000">PC1 (95.253%)</text>
<text x="0" y="0" font-size="10.7" text-anchor="middle" transform="translate(11.8 275.3) rotate(-90)">PC2 (2.624%)</text>
<circle cx="98.90" cy="257.60" r="3.10" fill="none" stroke="#1fe01f" stroke-width="1.1"/>
<circle cx="98.90" cy="262.90" r="3.10" fill="none" stroke="#1fe01f" stroke-width="1.1"/>
<circle cx="44.60" cy="272.30" r="3.10" fill="none" stroke="#a8a8a8" stroke-width="1.1"/>
<circle cx="44.60" cy="277.30" r="3.10" fill="none" stroke="#a8a8a8" stroke-width="1.1"/>
<circle cx="95.60" cy="287.40" r="3.10" fill="none" stroke="#f7a656" stroke-width="1.1"/>
<circle cx="97.80" cy="292.80" r="3.10" fill="none" stroke="#f7a656" stroke-width="1.1"/>
<text x="71.80" y="250.30" font-size="10.7" text-anchor="middle" fill="#1fe01f">EmptyVec</text>
<text x="52.60" y="278.10" font-size="10.7" text-anchor="start" fill="#a8a8a8">UTD</text>
<text x="68.80" y="308.30" font-size="10.7" text-anchor="middle" fill="#f7a656">HER2.eSPR</text>
<text x="5.80" y="215.50" font-size="13.2" text-anchor="start" fill="#000" font-weight="bold">e</text>
<line x1="190.20" y1="275.70" x2="262.70" y2="275.70" stroke="#000" stroke-width="1.75" stroke-dasharray="0.01 4.1" stroke-linecap="round"/>
<line x1="187.20" y1="241.90" x2="187.20" y2="293.20" stroke="#000" stroke-width="1.2"/>
<line x1="186.60" y1="292.60" x2="263.20" y2="292.60" stroke="#000" stroke-width="1.2"/>
<line x1="184.00" y1="241.90" x2="187.20" y2="241.90" stroke="#000" stroke-width="1.0"/>
<text x="181.30" y="244.80" font-size="10.9" text-anchor="end" fill="#000">4</text>
<line x1="184.00" y1="258.80" x2="187.20" y2="258.80" stroke="#000" stroke-width="1.0"/>
<text x="181.30" y="261.70" font-size="10.9" text-anchor="end" fill="#000">2</text>
<line x1="184.00" y1="275.70" x2="187.20" y2="275.70" stroke="#000" stroke-width="1.0"/>
<text x="181.30" y="278.60" font-size="10.9" text-anchor="end" fill="#000">0</text>
<line x1="184.00" y1="292.60" x2="187.20" y2="292.60" stroke="#000" stroke-width="1.0"/>
<text x="181.30" y="295.50" font-size="10.9" text-anchor="end" fill="#000">-2</text>
<line x1="185.20" y1="250.35" x2="187.20" y2="250.35" stroke="#000" stroke-width="0.9"/>
<line x1="185.20" y1="267.25" x2="187.20" y2="267.25" stroke="#000" stroke-width="0.9"/>
<line x1="185.20" y1="284.15" x2="187.20" y2="284.15" stroke="#000" stroke-width="0.9"/>
<text x="0" y="0" font-size="10.7" text-anchor="middle" transform="translate(171.60 266.20) rotate(-90)">CD206</text>
<circle cx="193.70" cy="274.90" r="3.50" fill="#c6c6c6" stroke="#a9a9a9" stroke-width="1.0" fill-opacity="0.8"/>
<circle cx="194.90" cy="276.30" r="3.50" fill="#c6c6c6" stroke="#a9a9a9" stroke-width="1.0" fill-opacity="0.8"/>
<circle cx="196.10" cy="275.70" r="3.50" fill="#c6c6c6" stroke="#a9a9a9" stroke-width="1.0" fill-opacity="0.8"/>
<line x1="190.90" y1="275.70" x2="198.90" y2="275.70" stroke="#000" stroke-width="1.6"/>
<circle cx="205.70" cy="280.69" r="3.30" fill="#aaf2f8" stroke="#7ee9f2" stroke-width="1.0" fill-opacity="0.8"/>
<circle cx="207.00" cy="280.69" r="3.30" fill="#aaf2f8" stroke="#7ee9f2" stroke-width="1.0" fill-opacity="0.8"/>
<circle cx="208.30" cy="280.69" r="3.30" fill="#aaf2f8" stroke="#7ee9f2" stroke-width="1.0" fill-opacity="0.8"/>
<line x1="204.00" y1="280.69" x2="210.00" y2="280.69" stroke="#000" stroke-width="1.6"/>
<circle cx="217.80" cy="279.93" r="3.30" fill="#f9b46e" stroke="#f6983f" stroke-width="1.0" fill-opacity="0.8"/>
<circle cx="219.10" cy="279.93" r="3.30" fill="#f9b46e" stroke="#f6983f" stroke-width="1.0" fill-opacity="0.8"/>
<circle cx="220.40" cy="279.93" r="3.30" fill="#f9b46e" stroke="#f6983f" stroke-width="1.0" fill-opacity="0.8"/>
<line x1="216.10" y1="279.93" x2="222.10" y2="279.93" stroke="#000" stroke-width="1.6"/>
<rect x="227.90" y="249.97" width="6.60" height="6.60" fill="#c6c6c6" stroke="#a9a9a9" stroke-width="1.0" fill-opacity="0.8"/>
<rect x="227.90" y="252.63" width="6.60" height="6.60" fill="#c6c6c6" stroke="#a9a9a9" stroke-width="1.0" fill-opacity="0.8"/>
<rect x="227.90" y="255.29" width="6.60" height="6.60" fill="#c6c6c6" stroke="#a9a9a9" stroke-width="1.0" fill-opacity="0.8"/>
<line x1="231.20" y1="252.97" x2="231.20" y2="258.88" stroke="#000" stroke-width="0.9"/>
<line x1="229.00" y1="252.97" x2="233.40" y2="252.97" stroke="#000" stroke-width="0.9"/>
<line x1="229.00" y1="258.88" x2="233.40" y2="258.88" stroke="#000" stroke-width="0.9"/>
<line x1="228.20" y1="255.93" x2="234.20" y2="255.93" stroke="#000" stroke-width="1.6"/>
<rect x="240.00" y="278.57" width="6.60" height="6.60" fill="#aaf2f8" stroke="#7ee9f2" stroke-width="1.0" fill-opacity="0.8"/>
<rect x="240.00" y="280.85" width="6.60" height="6.60" fill="#aaf2f8" stroke="#7ee9f2" stroke-width="1.0" fill-opacity="0.8"/>
<rect x="240.00" y="283.13" width="6.60" height="6.60" fill="#aaf2f8" stroke="#7ee9f2" stroke-width="1.0" fill-opacity="0.8"/>
<line x1="243.30" y1="281.61" x2="243.30" y2="286.69" stroke="#000" stroke-width="0.9"/>
<line x1="241.10" y1="281.61" x2="245.50" y2="281.61" stroke="#000" stroke-width="0.9"/>
<line x1="241.10" y1="286.69" x2="245.50" y2="286.69" stroke="#000" stroke-width="0.9"/>
<line x1="240.30" y1="284.15" x2="246.30" y2="284.15" stroke="#000" stroke-width="1.6"/>
<rect x="252.10" y="277.43" width="6.60" height="6.60" fill="#f9b46e" stroke="#f6983f" stroke-width="1.0" fill-opacity="0.8"/>
<rect x="252.10" y="278.57" width="6.60" height="6.60" fill="#f9b46e" stroke="#f6983f" stroke-width="1.0" fill-opacity="0.8"/>
<rect x="252.10" y="279.71" width="6.60" height="6.60" fill="#f9b46e" stroke="#f6983f" stroke-width="1.0" fill-opacity="0.8"/>
<line x1="255.40" y1="280.60" x2="255.40" y2="283.14" stroke="#000" stroke-width="0.9"/>
<line x1="253.20" y1="280.60" x2="257.60" y2="280.60" stroke="#000" stroke-width="0.9"/>
<line x1="253.20" y1="283.14" x2="257.60" y2="283.14" stroke="#000" stroke-width="0.9"/>
<line x1="252.40" y1="281.87" x2="258.40" y2="281.87" stroke="#000" stroke-width="1.6"/>
<line x1="194.70" y1="231.10" x2="219.60" y2="231.10" stroke="#222" stroke-width="1.3"/>
<text x="206.10" y="229.10" font-size="8.3" text-anchor="middle" fill="#222">0.0156</text>
<line x1="206.50" y1="241.40" x2="219.60" y2="241.40" stroke="#222" stroke-width="1.3"/>
<text x="213.05" y="237.60" font-size="8.3" text-anchor="middle" fill="#222">ns</text>
<line x1="231.00" y1="231.10" x2="255.90" y2="231.10" stroke="#222" stroke-width="1.3"/>
<text x="243.00" y="229.10" font-size="8.3" text-anchor="middle" fill="#222">&lt;0.0001</text>
<line x1="242.80" y1="241.40" x2="255.90" y2="241.40" stroke="#222" stroke-width="1.3"/>
<text x="249.35" y="237.60" font-size="8.3" text-anchor="middle" fill="#222">ns</text>
<line x1="193.00" y1="303.70" x2="198.60" y2="303.70" stroke="#000" stroke-width="1.4"/>
<line x1="195.80" y1="300.90" x2="195.80" y2="306.50" stroke="#000" stroke-width="1.4"/>
<line x1="229.30" y1="303.70" x2="234.90" y2="303.70" stroke="#000" stroke-width="1.4"/>
<line x1="232.10" y1="300.90" x2="232.10" y2="306.50" stroke="#000" stroke-width="1.4"/>
<line x1="205.10" y1="313.90" x2="210.70" y2="313.90" stroke="#000" stroke-width="1.4"/>
<line x1="207.90" y1="311.10" x2="207.90" y2="316.70" stroke="#000" stroke-width="1.4"/>
<line x1="241.40" y1="313.90" x2="247.00" y2="313.90" stroke="#000" stroke-width="1.4"/>
<line x1="244.20" y1="311.10" x2="244.20" y2="316.70" stroke="#000" stroke-width="1.4"/>
<line x1="217.20" y1="323.70" x2="222.80" y2="323.70" stroke="#000" stroke-width="1.4"/>
<line x1="220.00" y1="320.90" x2="220.00" y2="326.50" stroke="#000" stroke-width="1.4"/>
<line x1="253.50" y1="323.70" x2="259.10" y2="323.70" stroke="#000" stroke-width="1.4"/>
<line x1="256.30" y1="320.90" x2="256.30" y2="326.50" stroke="#000" stroke-width="1.4"/>
<line x1="193.00" y1="334.00" x2="198.60" y2="334.00" stroke="#000" stroke-width="1.4"/>
<line x1="195.80" y1="331.20" x2="195.80" y2="336.80" stroke="#000" stroke-width="1.4"/>
<line x1="205.10" y1="334.00" x2="210.70" y2="334.00" stroke="#000" stroke-width="1.4"/>
<line x1="207.90" y1="331.20" x2="207.90" y2="336.80" stroke="#000" stroke-width="1.4"/>
<line x1="217.20" y1="334.00" x2="222.80" y2="334.00" stroke="#000" stroke-width="1.4"/>
<line x1="220.00" y1="331.20" x2="220.00" y2="336.80" stroke="#000" stroke-width="1.4"/>
<line x1="229.30" y1="344.40" x2="234.90" y2="344.40" stroke="#000" stroke-width="1.4"/>
<line x1="232.10" y1="341.60" x2="232.10" y2="347.20" stroke="#000" stroke-width="1.4"/>
<line x1="241.40" y1="344.40" x2="247.00" y2="344.40" stroke="#000" stroke-width="1.4"/>
<line x1="244.20" y1="341.60" x2="244.20" y2="347.20" stroke="#000" stroke-width="1.4"/>
<line x1="253.50" y1="344.40" x2="259.10" y2="344.40" stroke="#000" stroke-width="1.4"/>
<line x1="256.30" y1="341.60" x2="256.30" y2="347.20" stroke="#000" stroke-width="1.4"/>
<line x1="294.00" y1="275.70" x2="366.50" y2="275.70" stroke="#000" stroke-width="1.75" stroke-dasharray="0.01 4.1" stroke-linecap="round"/>
<line x1="291.00" y1="241.90" x2="291.00" y2="293.20" stroke="#000" stroke-width="1.2"/>
<line x1="290.40" y1="292.60" x2="367.00" y2="292.60" stroke="#000" stroke-width="1.2"/>
<line x1="287.80" y1="241.90" x2="291.00" y2="241.90" stroke="#000" stroke-width="1.0"/>
<text x="285.10" y="244.80" font-size="10.9" text-anchor="end" fill="#000">4</text>
<line x1="287.80" y1="258.80" x2="291.00" y2="258.80" stroke="#000" stroke-width="1.0"/>
<text x="285.10" y="261.70" font-size="10.9" text-anchor="end" fill="#000">2</text>
<line x1="287.80" y1="275.70" x2="291.00" y2="275.70" stroke="#000" stroke-width="1.0"/>
<text x="285.10" y="278.60" font-size="10.9" text-anchor="end" fill="#000">0</text>
<line x1="287.80" y1="292.60" x2="291.00" y2="292.60" stroke="#000" stroke-width="1.0"/>
<text x="285.10" y="295.50" font-size="10.9" text-anchor="end" fill="#000">-2</text>
<line x1="289.00" y1="250.35" x2="291.00" y2="250.35" stroke="#000" stroke-width="0.9"/>
<line x1="289.00" y1="267.25" x2="291.00" y2="267.25" stroke="#000" stroke-width="0.9"/>
<line x1="289.00" y1="284.15" x2="291.00" y2="284.15" stroke="#000" stroke-width="0.9"/>
<text x="0" y="0" font-size="10.7" text-anchor="middle" transform="translate(277.20 267.30) rotate(-90)">H2Kb</text>
<circle cx="297.50" cy="274.90" r="3.50" fill="#c6c6c6" stroke="#a9a9a9" stroke-width="1.0" fill-opacity="0.8"/>
<circle cx="298.70" cy="276.30" r="3.50" fill="#c6c6c6" stroke="#a9a9a9" stroke-width="1.0" fill-opacity="0.8"/>
<circle cx="299.90" cy="275.70" r="3.50" fill="#c6c6c6" stroke="#a9a9a9" stroke-width="1.0" fill-opacity="0.8"/>
<line x1="294.70" y1="275.70" x2="302.70" y2="275.70" stroke="#000" stroke-width="1.6"/>
<circle cx="309.50" cy="260.32" r="3.30" fill="#aaf2f8" stroke="#7ee9f2" stroke-width="1.0" fill-opacity="0.8"/>
<circle cx="310.80" cy="260.32" r="3.30" fill="#aaf2f8" stroke="#7ee9f2" stroke-width="1.0" fill-opacity="0.8"/>
<circle cx="312.10" cy="260.32" r="3.30" fill="#aaf2f8" stroke="#7ee9f2" stroke-width="1.0" fill-opacity="0.8"/>
<line x1="307.80" y1="260.32" x2="313.80" y2="260.32" stroke="#000" stroke-width="1.6"/>
<circle cx="321.60" cy="258.72" r="3.30" fill="#f9b46e" stroke="#f6983f" stroke-width="1.0" fill-opacity="0.8"/>
<circle cx="322.90" cy="258.72" r="3.30" fill="#f9b46e" stroke="#f6983f" stroke-width="1.0" fill-opacity="0.8"/>
<circle cx="324.20" cy="258.72" r="3.30" fill="#f9b46e" stroke="#f6983f" stroke-width="1.0" fill-opacity="0.8"/>
<line x1="319.90" y1="258.72" x2="325.90" y2="258.72" stroke="#000" stroke-width="1.6"/>
<rect x="331.70" y="261.41" width="6.60" height="6.60" fill="#c6c6c6" stroke="#a9a9a9" stroke-width="1.0" fill-opacity="0.8"/>
<rect x="331.70" y="261.41" width="6.60" height="6.60" fill="#c6c6c6" stroke="#a9a9a9" stroke-width="1.0" fill-opacity="0.8"/>
<rect x="331.70" y="261.41" width="6.60" height="6.60" fill="#c6c6c6" stroke="#a9a9a9" stroke-width="1.0" fill-opacity="0.8"/>
<line x1="332.00" y1="264.71" x2="338.00" y2="264.71" stroke="#000" stroke-width="1.6"/>
<rect x="343.80" y="257.78" width="6.60" height="6.60" fill="#aaf2f8" stroke="#7ee9f2" stroke-width="1.0" fill-opacity="0.8"/>
<rect x="343.80" y="257.78" width="6.60" height="6.60" fill="#aaf2f8" stroke="#7ee9f2" stroke-width="1.0" fill-opacity="0.8"/>
<rect x="343.80" y="257.78" width="6.60" height="6.60" fill="#aaf2f8" stroke="#7ee9f2" stroke-width="1.0" fill-opacity="0.8"/>
<line x1="344.10" y1="261.08" x2="350.10" y2="261.08" stroke="#000" stroke-width="1.6"/>
<rect x="355.90" y="255.33" width="6.60" height="6.60" fill="#f9b46e" stroke="#f6983f" stroke-width="1.0" fill-opacity="0.8"/>
<rect x="355.90" y="255.33" width="6.60" height="6.60" fill="#f9b46e" stroke="#f6983f" stroke-width="1.0" fill-opacity="0.8"/>
<rect x="355.90" y="255.33" width="6.60" height="6.60" fill="#f9b46e" stroke="#f6983f" stroke-width="1.0" fill-opacity="0.8"/>
<line x1="356.20" y1="258.63" x2="362.20" y2="258.63" stroke="#000" stroke-width="1.6"/>
<line x1="298.50" y1="232.60" x2="323.40" y2="232.60" stroke="#222" stroke-width="1.3"/>
<text x="311.80" y="229.10" font-size="8.3" text-anchor="middle" fill="#222">&lt;0.0001</text>
<line x1="310.30" y1="242.50" x2="323.40" y2="242.50" stroke="#222" stroke-width="1.3"/>
<text x="316.85" y="239.30" font-size="8.3" text-anchor="middle" fill="#222">ns</text>
<line x1="334.80" y1="232.60" x2="359.70" y2="232.60" stroke="#222" stroke-width="1.3"/>
<text x="346.70" y="229.10" font-size="8.3" text-anchor="middle" fill="#222">&lt;0.0001</text>
<line x1="346.60" y1="242.50" x2="359.70" y2="242.50" stroke="#222" stroke-width="1.3"/>
<text x="353.15" y="239.30" font-size="8.3" text-anchor="middle" fill="#222">ns</text>
<line x1="296.80" y1="303.70" x2="302.40" y2="303.70" stroke="#000" stroke-width="1.4"/>
<line x1="299.60" y1="300.90" x2="299.60" y2="306.50" stroke="#000" stroke-width="1.4"/>
<line x1="333.10" y1="303.70" x2="338.70" y2="303.70" stroke="#000" stroke-width="1.4"/>
<line x1="335.90" y1="300.90" x2="335.90" y2="306.50" stroke="#000" stroke-width="1.4"/>
<line x1="308.90" y1="313.90" x2="314.50" y2="313.90" stroke="#000" stroke-width="1.4"/>
<line x1="311.70" y1="311.10" x2="311.70" y2="316.70" stroke="#000" stroke-width="1.4"/>
<line x1="345.20" y1="313.90" x2="350.80" y2="313.90" stroke="#000" stroke-width="1.4"/>
<line x1="348.00" y1="311.10" x2="348.00" y2="316.70" stroke="#000" stroke-width="1.4"/>
<line x1="321.00" y1="323.70" x2="326.60" y2="323.70" stroke="#000" stroke-width="1.4"/>
<line x1="323.80" y1="320.90" x2="323.80" y2="326.50" stroke="#000" stroke-width="1.4"/>
<line x1="357.30" y1="323.70" x2="362.90" y2="323.70" stroke="#000" stroke-width="1.4"/>
<line x1="360.10" y1="320.90" x2="360.10" y2="326.50" stroke="#000" stroke-width="1.4"/>
<line x1="296.80" y1="334.00" x2="302.40" y2="334.00" stroke="#000" stroke-width="1.4"/>
<line x1="299.60" y1="331.20" x2="299.60" y2="336.80" stroke="#000" stroke-width="1.4"/>
<line x1="308.90" y1="334.00" x2="314.50" y2="334.00" stroke="#000" stroke-width="1.4"/>
<line x1="311.70" y1="331.20" x2="311.70" y2="336.80" stroke="#000" stroke-width="1.4"/>
<line x1="321.00" y1="334.00" x2="326.60" y2="334.00" stroke="#000" stroke-width="1.4"/>
<line x1="323.80" y1="331.20" x2="323.80" y2="336.80" stroke="#000" stroke-width="1.4"/>
<line x1="333.10" y1="344.40" x2="338.70" y2="344.40" stroke="#000" stroke-width="1.4"/>
<line x1="335.90" y1="341.60" x2="335.90" y2="347.20" stroke="#000" stroke-width="1.4"/>
<line x1="345.20" y1="344.40" x2="350.80" y2="344.40" stroke="#000" stroke-width="1.4"/>
<line x1="348.00" y1="341.60" x2="348.00" y2="347.20" stroke="#000" stroke-width="1.4"/>
<line x1="357.30" y1="344.40" x2="362.90" y2="344.40" stroke="#000" stroke-width="1.4"/>
<line x1="360.10" y1="341.60" x2="360.10" y2="347.20" stroke="#000" stroke-width="1.4"/>
<line x1="397.80" y1="275.70" x2="470.30" y2="275.70" stroke="#000" stroke-width="1.75" stroke-dasharray="0.01 4.1" stroke-linecap="round"/>
<line x1="394.80" y1="241.90" x2="394.80" y2="293.20" stroke="#000" stroke-width="1.2"/>
<line x1="394.20" y1="292.60" x2="470.80" y2="292.60" stroke="#000" stroke-width="1.2"/>
<line x1="391.60" y1="241.90" x2="394.80" y2="241.90" stroke="#000" stroke-width="1.0"/>
<text x="388.90" y="244.80" font-size="10.9" text-anchor="end" fill="#000">4</text>
<line x1="391.60" y1="258.80" x2="394.80" y2="258.80" stroke="#000" stroke-width="1.0"/>
<text x="388.90" y="261.70" font-size="10.9" text-anchor="end" fill="#000">2</text>
<line x1="391.60" y1="275.70" x2="394.80" y2="275.70" stroke="#000" stroke-width="1.0"/>
<text x="388.90" y="278.60" font-size="10.9" text-anchor="end" fill="#000">0</text>
<line x1="391.60" y1="292.60" x2="394.80" y2="292.60" stroke="#000" stroke-width="1.0"/>
<text x="388.90" y="295.50" font-size="10.9" text-anchor="end" fill="#000">-2</text>
<line x1="392.80" y1="250.35" x2="394.80" y2="250.35" stroke="#000" stroke-width="0.9"/>
<line x1="392.80" y1="267.25" x2="394.80" y2="267.25" stroke="#000" stroke-width="0.9"/>
<line x1="392.80" y1="284.15" x2="394.80" y2="284.15" stroke="#000" stroke-width="0.9"/>
<text x="0" y="0" font-size="10.7" text-anchor="middle" transform="translate(381.20 266.40) rotate(-90)">CD80</text>
<circle cx="401.30" cy="274.90" r="3.50" fill="#c6c6c6" stroke="#a9a9a9" stroke-width="1.0" fill-opacity="0.8"/>
<circle cx="402.50" cy="276.30" r="3.50" fill="#c6c6c6" stroke="#a9a9a9" stroke-width="1.0" fill-opacity="0.8"/>
<circle cx="403.70" cy="275.70" r="3.50" fill="#c6c6c6" stroke="#a9a9a9" stroke-width="1.0" fill-opacity="0.8"/>
<line x1="398.50" y1="275.70" x2="406.50" y2="275.70" stroke="#000" stroke-width="1.6"/>
<circle cx="413.30" cy="267.50" r="3.30" fill="#aaf2f8" stroke="#7ee9f2" stroke-width="1.0" fill-opacity="0.8"/>
<circle cx="414.60" cy="267.50" r="3.30" fill="#aaf2f8" stroke="#7ee9f2" stroke-width="1.0" fill-opacity="0.8"/>
<circle cx="415.90" cy="267.50" r="3.30" fill="#aaf2f8" stroke="#7ee9f2" stroke-width="1.0" fill-opacity="0.8"/>
<line x1="411.60" y1="267.50" x2="417.60" y2="267.50" stroke="#000" stroke-width="1.6"/>
<circle cx="425.40" cy="266.57" r="3.30" fill="#f9b46e" stroke="#f6983f" stroke-width="1.0" fill-opacity="0.8"/>
<circle cx="426.70" cy="266.57" r="3.30" fill="#f9b46e" stroke="#f6983f" stroke-width="1.0" fill-opacity="0.8"/>
<circle cx="428.00" cy="266.57" r="3.30" fill="#f9b46e" stroke="#f6983f" stroke-width="1.0" fill-opacity="0.8"/>
<line x1="423.70" y1="266.57" x2="429.70" y2="266.57" stroke="#000" stroke-width="1.6"/>
<rect x="435.50" y="263.36" width="6.60" height="6.60" fill="#c6c6c6" stroke="#a9a9a9" stroke-width="1.0" fill-opacity="0.8"/>
<rect x="435.50" y="263.36" width="6.60" height="6.60" fill="#c6c6c6" stroke="#a9a9a9" stroke-width="1.0" fill-opacity="0.8"/>
<rect x="435.50" y="263.36" width="6.60" height="6.60" fill="#c6c6c6" stroke="#a9a9a9" stroke-width="1.0" fill-opacity="0.8"/>
<line x1="435.80" y1="266.66" x2="441.80" y2="266.66" stroke="#000" stroke-width="1.6"/>
<rect x="447.60" y="261.84" width="6.60" height="6.60" fill="#aaf2f8" stroke="#7ee9f2" stroke-width="1.0" fill-opacity="0.8"/>
<rect x="447.60" y="261.84" width="6.60" height="6.60" fill="#aaf2f8" stroke="#7ee9f2" stroke-width="1.0" fill-opacity="0.8"/>
<rect x="447.60" y="261.84" width="6.60" height="6.60" fill="#aaf2f8" stroke="#7ee9f2" stroke-width="1.0" fill-opacity="0.8"/>
<line x1="447.90" y1="265.14" x2="453.90" y2="265.14" stroke="#000" stroke-width="1.6"/>
<rect x="459.70" y="261.84" width="6.60" height="6.60" fill="#f9b46e" stroke="#f6983f" stroke-width="1.0" fill-opacity="0.8"/>
<rect x="459.70" y="261.84" width="6.60" height="6.60" fill="#f9b46e" stroke="#f6983f" stroke-width="1.0" fill-opacity="0.8"/>
<rect x="459.70" y="261.84" width="6.60" height="6.60" fill="#f9b46e" stroke="#f6983f" stroke-width="1.0" fill-opacity="0.8"/>
<line x1="460.00" y1="265.14" x2="466.00" y2="265.14" stroke="#000" stroke-width="1.6"/>
<line x1="402.30" y1="232.80" x2="427.20" y2="232.80" stroke="#222" stroke-width="1.3"/>
<text x="414.60" y="229.10" font-size="8.3" text-anchor="middle" fill="#222">&lt;0.0001</text>
<line x1="414.10" y1="242.90" x2="427.20" y2="242.90" stroke="#222" stroke-width="1.3"/>
<text x="420.65" y="240.20" font-size="8.3" text-anchor="middle" fill="#222">ns</text>
<line x1="438.60" y1="232.80" x2="463.50" y2="232.80" stroke="#222" stroke-width="1.3"/>
<text x="448.20" y="229.10" font-size="8.3" text-anchor="middle" fill="#222">0.0104</text>
<line x1="450.40" y1="242.90" x2="463.50" y2="242.90" stroke="#222" stroke-width="1.3"/>
<text x="456.95" y="240.20" font-size="8.3" text-anchor="middle" fill="#222">ns</text>
<line x1="400.60" y1="303.70" x2="406.20" y2="303.70" stroke="#000" stroke-width="1.4"/>
<line x1="403.40" y1="300.90" x2="403.40" y2="306.50" stroke="#000" stroke-width="1.4"/>
<line x1="436.90" y1="303.70" x2="442.50" y2="303.70" stroke="#000" stroke-width="1.4"/>
<line x1="439.70" y1="300.90" x2="439.70" y2="306.50" stroke="#000" stroke-width="1.4"/>
<line x1="412.70" y1="313.90" x2="418.30" y2="313.90" stroke="#000" stroke-width="1.4"/>
<line x1="415.50" y1="311.10" x2="415.50" y2="316.70" stroke="#000" stroke-width="1.4"/>
<line x1="449.00" y1="313.90" x2="454.60" y2="313.90" stroke="#000" stroke-width="1.4"/>
<line x1="451.80" y1="311.10" x2="451.80" y2="316.70" stroke="#000" stroke-width="1.4"/>
<line x1="424.80" y1="323.70" x2="430.40" y2="323.70" stroke="#000" stroke-width="1.4"/>
<line x1="427.60" y1="320.90" x2="427.60" y2="326.50" stroke="#000" stroke-width="1.4"/>
<line x1="461.10" y1="323.70" x2="466.70" y2="323.70" stroke="#000" stroke-width="1.4"/>
<line x1="463.90" y1="320.90" x2="463.90" y2="326.50" stroke="#000" stroke-width="1.4"/>
<line x1="400.60" y1="334.00" x2="406.20" y2="334.00" stroke="#000" stroke-width="1.4"/>
<line x1="403.40" y1="331.20" x2="403.40" y2="336.80" stroke="#000" stroke-width="1.4"/>
<line x1="412.70" y1="334.00" x2="418.30" y2="334.00" stroke="#000" stroke-width="1.4"/>
<line x1="415.50" y1="331.20" x2="415.50" y2="336.80" stroke="#000" stroke-width="1.4"/>
<line x1="424.80" y1="334.00" x2="430.40" y2="334.00" stroke="#000" stroke-width="1.4"/>
<line x1="427.60" y1="331.20" x2="427.60" y2="336.80" stroke="#000" stroke-width="1.4"/>
<line x1="436.90" y1="344.40" x2="442.50" y2="344.40" stroke="#000" stroke-width="1.4"/>
<line x1="439.70" y1="341.60" x2="439.70" y2="347.20" stroke="#000" stroke-width="1.4"/>
<line x1="449.00" y1="344.40" x2="454.60" y2="344.40" stroke="#000" stroke-width="1.4"/>
<line x1="451.80" y1="341.60" x2="451.80" y2="347.20" stroke="#000" stroke-width="1.4"/>
<line x1="461.10" y1="344.40" x2="466.70" y2="344.40" stroke="#000" stroke-width="1.4"/>
<line x1="463.90" y1="341.60" x2="463.90" y2="347.20" stroke="#000" stroke-width="1.4"/>
<line x1="501.60" y1="275.70" x2="574.10" y2="275.70" stroke="#000" stroke-width="1.75" stroke-dasharray="0.01 4.1" stroke-linecap="round"/>
<line x1="498.60" y1="241.90" x2="498.60" y2="293.20" stroke="#000" stroke-width="1.2"/>
<line x1="498.00" y1="292.60" x2="574.60" y2="292.60" stroke="#000" stroke-width="1.2"/>
<line x1="495.40" y1="241.90" x2="498.60" y2="241.90" stroke="#000" stroke-width="1.0"/>
<text x="492.70" y="244.80" font-size="10.9" text-anchor="end" fill="#000">4</text>
<line x1="495.40" y1="258.80" x2="498.60" y2="258.80" stroke="#000" stroke-width="1.0"/>
<text x="492.70" y="261.70" font-size="10.9" text-anchor="end" fill="#000">2</text>
<line x1="495.40" y1="275.70" x2="498.60" y2="275.70" stroke="#000" stroke-width="1.0"/>
<text x="492.70" y="278.60" font-size="10.9" text-anchor="end" fill="#000">0</text>
<line x1="495.40" y1="292.60" x2="498.60" y2="292.60" stroke="#000" stroke-width="1.0"/>
<text x="492.70" y="295.50" font-size="10.9" text-anchor="end" fill="#000">-2</text>
<line x1="496.60" y1="250.35" x2="498.60" y2="250.35" stroke="#000" stroke-width="0.9"/>
<line x1="496.60" y1="267.25" x2="498.60" y2="267.25" stroke="#000" stroke-width="0.9"/>
<line x1="496.60" y1="284.15" x2="498.60" y2="284.15" stroke="#000" stroke-width="0.9"/>
<text x="0" y="0" font-size="10.7" text-anchor="middle" transform="translate(485.20 266.70) rotate(-90)">IA/IE</text>
<circle cx="505.10" cy="274.90" r="3.50" fill="#c6c6c6" stroke="#a9a9a9" stroke-width="1.0" fill-opacity="0.8"/>
<circle cx="506.30" cy="276.30" r="3.50" fill="#c6c6c6" stroke="#a9a9a9" stroke-width="1.0" fill-opacity="0.8"/>
<circle cx="507.50" cy="275.70" r="3.50" fill="#c6c6c6" stroke="#a9a9a9" stroke-width="1.0" fill-opacity="0.8"/>
<line x1="502.30" y1="275.70" x2="510.30" y2="275.70" stroke="#000" stroke-width="1.6"/>
<circle cx="517.10" cy="269.78" r="3.30" fill="#aaf2f8" stroke="#7ee9f2" stroke-width="1.0" fill-opacity="0.8"/>
<circle cx="518.40" cy="266.49" r="3.30" fill="#aaf2f8" stroke="#7ee9f2" stroke-width="1.0" fill-opacity="0.8"/>
<circle cx="519.70" cy="268.52" r="3.30" fill="#aaf2f8" stroke="#7ee9f2" stroke-width="1.0" fill-opacity="0.8"/>
<line x1="518.40" y1="265.98" x2="518.40" y2="271.05" stroke="#000" stroke-width="0.9"/>
<line x1="516.20" y1="265.98" x2="520.60" y2="265.98" stroke="#000" stroke-width="0.9"/>
<line x1="516.20" y1="271.05" x2="520.60" y2="271.05" stroke="#000" stroke-width="0.9"/>
<line x1="515.40" y1="268.52" x2="521.40" y2="268.52" stroke="#000" stroke-width="1.6"/>
<circle cx="529.20" cy="267.04" r="3.30" fill="#f9b46e" stroke="#f6983f" stroke-width="1.0" fill-opacity="0.8"/>
<circle cx="530.50" cy="265.39" r="3.30" fill="#f9b46e" stroke="#f6983f" stroke-width="1.0" fill-opacity="0.8"/>
<circle cx="531.80" cy="266.40" r="3.30" fill="#f9b46e" stroke="#f6983f" stroke-width="1.0" fill-opacity="0.8"/>
<line x1="530.50" y1="265.14" x2="530.50" y2="267.67" stroke="#000" stroke-width="0.9"/>
<line x1="528.30" y1="265.14" x2="532.70" y2="265.14" stroke="#000" stroke-width="0.9"/>
<line x1="528.30" y1="267.67" x2="532.70" y2="267.67" stroke="#000" stroke-width="0.9"/>
<line x1="527.50" y1="266.40" x2="533.50" y2="266.40" stroke="#000" stroke-width="1.6"/>
<rect x="539.30" y="263.06" width="6.60" height="6.60" fill="#c6c6c6" stroke="#a9a9a9" stroke-width="1.0" fill-opacity="0.8"/>
<rect x="539.30" y="266.48" width="6.60" height="6.60" fill="#c6c6c6" stroke="#a9a9a9" stroke-width="1.0" fill-opacity="0.8"/>
<rect x="539.30" y="269.91" width="6.60" height="6.60" fill="#c6c6c6" stroke="#a9a9a9" stroke-width="1.0" fill-opacity="0.8"/>
<line x1="542.60" y1="265.98" x2="542.60" y2="273.59" stroke="#000" stroke-width="0.9"/>
<line x1="540.40" y1="265.98" x2="544.80" y2="265.98" stroke="#000" stroke-width="0.9"/>
<line x1="540.40" y1="273.59" x2="544.80" y2="273.59" stroke="#000" stroke-width="0.9"/>
<line x1="539.60" y1="269.78" x2="545.60" y2="269.78" stroke="#000" stroke-width="1.6"/>
<rect x="551.40" y="263.95" width="6.60" height="6.60" fill="#aaf2f8" stroke="#7ee9f2" stroke-width="1.0" fill-opacity="0.8"/>
<rect x="551.40" y="263.95" width="6.60" height="6.60" fill="#aaf2f8" stroke="#7ee9f2" stroke-width="1.0" fill-opacity="0.8"/>
<rect x="551.40" y="263.95" width="6.60" height="6.60" fill="#aaf2f8" stroke="#7ee9f2" stroke-width="1.0" fill-opacity="0.8"/>
<line x1="551.70" y1="267.25" x2="557.70" y2="267.25" stroke="#000" stroke-width="1.6"/>
<rect x="563.50" y="259.72" width="6.60" height="6.60" fill="#f9b46e" stroke="#f6983f" stroke-width="1.0" fill-opacity="0.8"/>
<rect x="563.50" y="259.72" width="6.60" height="6.60" fill="#f9b46e" stroke="#f6983f" stroke-width="1.0" fill-opacity="0.8"/>
<rect x="563.50" y="259.72" width="6.60" height="6.60" fill="#f9b46e" stroke="#f6983f" stroke-width="1.0" fill-opacity="0.8"/>
<line x1="563.80" y1="263.02" x2="569.80" y2="263.02" stroke="#000" stroke-width="1.6"/>
<line x1="506.10" y1="231.20" x2="531.00" y2="231.20" stroke="#222" stroke-width="1.3"/>
<text x="518.70" y="229.10" font-size="8.3" text-anchor="middle" fill="#222">0.001</text>
<line x1="517.90" y1="241.40" x2="531.00" y2="241.40" stroke="#222" stroke-width="1.3"/>
<text x="524.45" y="237.90" font-size="8.3" text-anchor="middle" fill="#222">ns</text>
<line x1="542.40" y1="231.20" x2="567.30" y2="231.20" stroke="#222" stroke-width="1.3"/>
<text x="552.90" y="229.10" font-size="8.3" text-anchor="middle" fill="#222">0.0108</text>
<line x1="554.20" y1="241.40" x2="567.30" y2="241.40" stroke="#222" stroke-width="1.3"/>
<text x="560.75" y="237.90" font-size="8.3" text-anchor="middle" fill="#222">ns</text>
<line x1="504.40" y1="303.70" x2="510.00" y2="303.70" stroke="#000" stroke-width="1.4"/>
<line x1="507.20" y1="300.90" x2="507.20" y2="306.50" stroke="#000" stroke-width="1.4"/>
<line x1="540.70" y1="303.70" x2="546.30" y2="303.70" stroke="#000" stroke-width="1.4"/>
<line x1="543.50" y1="300.90" x2="543.50" y2="306.50" stroke="#000" stroke-width="1.4"/>
<line x1="516.50" y1="313.90" x2="522.10" y2="313.90" stroke="#000" stroke-width="1.4"/>
<line x1="519.30" y1="311.10" x2="519.30" y2="316.70" stroke="#000" stroke-width="1.4"/>
<line x1="552.80" y1="313.90" x2="558.40" y2="313.90" stroke="#000" stroke-width="1.4"/>
<line x1="555.60" y1="311.10" x2="555.60" y2="316.70" stroke="#000" stroke-width="1.4"/>
<line x1="528.60" y1="323.70" x2="534.20" y2="323.70" stroke="#000" stroke-width="1.4"/>
<line x1="531.40" y1="320.90" x2="531.40" y2="326.50" stroke="#000" stroke-width="1.4"/>
<line x1="564.90" y1="323.70" x2="570.50" y2="323.70" stroke="#000" stroke-width="1.4"/>
<line x1="567.70" y1="320.90" x2="567.70" y2="326.50" stroke="#000" stroke-width="1.4"/>
<line x1="504.40" y1="334.00" x2="510.00" y2="334.00" stroke="#000" stroke-width="1.4"/>
<line x1="507.20" y1="331.20" x2="507.20" y2="336.80" stroke="#000" stroke-width="1.4"/>
<line x1="516.50" y1="334.00" x2="522.10" y2="334.00" stroke="#000" stroke-width="1.4"/>
<line x1="519.30" y1="331.20" x2="519.30" y2="336.80" stroke="#000" stroke-width="1.4"/>
<line x1="528.60" y1="334.00" x2="534.20" y2="334.00" stroke="#000" stroke-width="1.4"/>
<line x1="531.40" y1="331.20" x2="531.40" y2="336.80" stroke="#000" stroke-width="1.4"/>
<line x1="540.70" y1="344.40" x2="546.30" y2="344.40" stroke="#000" stroke-width="1.4"/>
<line x1="543.50" y1="341.60" x2="543.50" y2="347.20" stroke="#000" stroke-width="1.4"/>
<line x1="552.80" y1="344.40" x2="558.40" y2="344.40" stroke="#000" stroke-width="1.4"/>
<line x1="555.60" y1="341.60" x2="555.60" y2="347.20" stroke="#000" stroke-width="1.4"/>
<line x1="564.90" y1="344.40" x2="570.50" y2="344.40" stroke="#000" stroke-width="1.4"/>
<line x1="567.70" y1="341.60" x2="567.70" y2="347.20" stroke="#000" stroke-width="1.4"/>
<line x1="605.40" y1="275.70" x2="677.90" y2="275.70" stroke="#000" stroke-width="1.75" stroke-dasharray="0.01 4.1" stroke-linecap="round"/>
<line x1="602.40" y1="241.90" x2="602.40" y2="293.20" stroke="#000" stroke-width="1.2"/>
<line x1="601.80" y1="292.60" x2="678.40" y2="292.60" stroke="#000" stroke-width="1.2"/>
<line x1="599.20" y1="241.90" x2="602.40" y2="241.90" stroke="#000" stroke-width="1.0"/>
<text x="596.50" y="244.80" font-size="10.9" text-anchor="end" fill="#000">4</text>
<line x1="599.20" y1="258.80" x2="602.40" y2="258.80" stroke="#000" stroke-width="1.0"/>
<text x="596.50" y="261.70" font-size="10.9" text-anchor="end" fill="#000">2</text>
<line x1="599.20" y1="275.70" x2="602.40" y2="275.70" stroke="#000" stroke-width="1.0"/>
<text x="596.50" y="278.60" font-size="10.9" text-anchor="end" fill="#000">0</text>
<line x1="599.20" y1="292.60" x2="602.40" y2="292.60" stroke="#000" stroke-width="1.0"/>
<text x="596.50" y="295.50" font-size="10.9" text-anchor="end" fill="#000">-2</text>
<line x1="600.40" y1="250.35" x2="602.40" y2="250.35" stroke="#000" stroke-width="0.9"/>
<line x1="600.40" y1="267.25" x2="602.40" y2="267.25" stroke="#000" stroke-width="0.9"/>
<line x1="600.40" y1="284.15" x2="602.40" y2="284.15" stroke="#000" stroke-width="0.9"/>
<text x="0" y="0" font-size="10.7" text-anchor="middle" transform="translate(588.00 266.70) rotate(-90)">iNOS</text>
<circle cx="608.90" cy="274.90" r="3.50" fill="#c6c6c6" stroke="#a9a9a9" stroke-width="1.0" fill-opacity="0.8"/>
<circle cx="610.10" cy="276.30" r="3.50" fill="#c6c6c6" stroke="#a9a9a9" stroke-width="1.0" fill-opacity="0.8"/>
<circle cx="611.30" cy="275.70" r="3.50" fill="#c6c6c6" stroke="#a9a9a9" stroke-width="1.0" fill-opacity="0.8"/>
<line x1="606.10" y1="275.70" x2="614.10" y2="275.70" stroke="#000" stroke-width="1.6"/>
<circle cx="620.90" cy="255.34" r="3.30" fill="#aaf2f8" stroke="#7ee9f2" stroke-width="1.0" fill-opacity="0.8"/>
<circle cx="622.20" cy="255.34" r="3.30" fill="#aaf2f8" stroke="#7ee9f2" stroke-width="1.0" fill-opacity="0.8"/>
<circle cx="623.50" cy="255.34" r="3.30" fill="#aaf2f8" stroke="#7ee9f2" stroke-width="1.0" fill-opacity="0.8"/>
<line x1="619.20" y1="255.34" x2="625.20" y2="255.34" stroke="#000" stroke-width="1.6"/>
<circle cx="633.00" cy="255.21" r="3.30" fill="#f9b46e" stroke="#f6983f" stroke-width="1.0" fill-opacity="0.8"/>
<circle cx="634.30" cy="253.56" r="3.30" fill="#f9b46e" stroke="#f6983f" stroke-width="1.0" fill-opacity="0.8"/>
<circle cx="635.60" cy="254.57" r="3.30" fill="#f9b46e" stroke="#f6983f" stroke-width="1.0" fill-opacity="0.8"/>
<line x1="634.30" y1="253.31" x2="634.30" y2="255.84" stroke="#000" stroke-width="0.9"/>
<line x1="632.10" y1="253.31" x2="636.50" y2="253.31" stroke="#000" stroke-width="0.9"/>
<line x1="632.10" y1="255.84" x2="636.50" y2="255.84" stroke="#000" stroke-width="0.9"/>
<line x1="631.30" y1="254.57" x2="637.30" y2="254.57" stroke="#000" stroke-width="1.6"/>
<rect x="643.10" y="259.72" width="6.60" height="6.60" fill="#c6c6c6" stroke="#a9a9a9" stroke-width="1.0" fill-opacity="0.8"/>
<rect x="643.10" y="259.72" width="6.60" height="6.60" fill="#c6c6c6" stroke="#a9a9a9" stroke-width="1.0" fill-opacity="0.8"/>
<rect x="643.10" y="259.72" width="6.60" height="6.60" fill="#c6c6c6" stroke="#a9a9a9" stroke-width="1.0" fill-opacity="0.8"/>
<line x1="643.40" y1="263.02" x2="649.40" y2="263.02" stroke="#000" stroke-width="1.6"/>
<rect x="655.20" y="249.16" width="6.60" height="6.60" fill="#aaf2f8" stroke="#7ee9f2" stroke-width="1.0" fill-opacity="0.8"/>
<rect x="655.20" y="249.16" width="6.60" height="6.60" fill="#aaf2f8" stroke="#7ee9f2" stroke-width="1.0" fill-opacity="0.8"/>
<rect x="655.20" y="249.16" width="6.60" height="6.60" fill="#aaf2f8" stroke="#7ee9f2" stroke-width="1.0" fill-opacity="0.8"/>
<line x1="655.50" y1="252.46" x2="661.50" y2="252.46" stroke="#000" stroke-width="1.6"/>
<rect x="667.30" y="247.89" width="6.60" height="6.60" fill="#f9b46e" stroke="#f6983f" stroke-width="1.0" fill-opacity="0.8"/>
<rect x="667.30" y="247.89" width="6.60" height="6.60" fill="#f9b46e" stroke="#f6983f" stroke-width="1.0" fill-opacity="0.8"/>
<rect x="667.30" y="247.89" width="6.60" height="6.60" fill="#f9b46e" stroke="#f6983f" stroke-width="1.0" fill-opacity="0.8"/>
<line x1="667.60" y1="251.19" x2="673.60" y2="251.19" stroke="#000" stroke-width="1.6"/>
<line x1="609.90" y1="232.00" x2="634.80" y2="232.00" stroke="#222" stroke-width="1.3"/>
<text x="623.10" y="229.10" font-size="8.3" text-anchor="middle" fill="#222">&lt;0.0001</text>
<line x1="621.70" y1="242.30" x2="634.80" y2="242.30" stroke="#222" stroke-width="1.3"/>
<text x="628.25" y="238.80" font-size="8.3" text-anchor="middle" fill="#222">ns</text>
<line x1="646.20" y1="232.00" x2="671.10" y2="232.00" stroke="#222" stroke-width="1.3"/>
<text x="657.70" y="229.10" font-size="8.3" text-anchor="middle" fill="#222">&lt;0.0001</text>
<line x1="658.00" y1="242.30" x2="671.10" y2="242.30" stroke="#222" stroke-width="1.3"/>
<text x="664.55" y="238.80" font-size="8.3" text-anchor="middle" fill="#222">ns</text>
<line x1="608.20" y1="303.70" x2="613.80" y2="303.70" stroke="#000" stroke-width="1.4"/>
<line x1="611.00" y1="300.90" x2="611.00" y2="306.50" stroke="#000" stroke-width="1.4"/>
<line x1="644.50" y1="303.70" x2="650.10" y2="303.70" stroke="#000" stroke-width="1.4"/>
<line x1="647.30" y1="300.90" x2="647.30" y2="306.50" stroke="#000" stroke-width="1.4"/>
<line x1="620.30" y1="313.90" x2="625.90" y2="313.90" stroke="#000" stroke-width="1.4"/>
<line x1="623.10" y1="311.10" x2="623.10" y2="316.70" stroke="#000" stroke-width="1.4"/>
<line x1="656.60" y1="313.90" x2="662.20" y2="313.90" stroke="#000" stroke-width="1.4"/>
<line x1="659.40" y1="311.10" x2="659.40" y2="316.70" stroke="#000" stroke-width="1.4"/>
<line x1="632.40" y1="323.70" x2="638.00" y2="323.70" stroke="#000" stroke-width="1.4"/>
<line x1="635.20" y1="320.90" x2="635.20" y2="326.50" stroke="#000" stroke-width="1.4"/>
<line x1="668.70" y1="323.70" x2="674.30" y2="323.70" stroke="#000" stroke-width="1.4"/>
<line x1="671.50" y1="320.90" x2="671.50" y2="326.50" stroke="#000" stroke-width="1.4"/>
<line x1="608.20" y1="334.00" x2="613.80" y2="334.00" stroke="#000" stroke-width="1.4"/>
<line x1="611.00" y1="331.20" x2="611.00" y2="336.80" stroke="#000" stroke-width="1.4"/>
<line x1="620.30" y1="334.00" x2="625.90" y2="334.00" stroke="#000" stroke-width="1.4"/>
<line x1="623.10" y1="331.20" x2="623.10" y2="336.80" stroke="#000" stroke-width="1.4"/>
<line x1="632.40" y1="334.00" x2="638.00" y2="334.00" stroke="#000" stroke-width="1.4"/>
<line x1="635.20" y1="331.20" x2="635.20" y2="336.80" stroke="#000" stroke-width="1.4"/>
<line x1="644.50" y1="344.40" x2="650.10" y2="344.40" stroke="#000" stroke-width="1.4"/>
<line x1="647.30" y1="341.60" x2="647.30" y2="347.20" stroke="#000" stroke-width="1.4"/>
<line x1="656.60" y1="344.40" x2="662.20" y2="344.40" stroke="#000" stroke-width="1.4"/>
<line x1="659.40" y1="341.60" x2="659.40" y2="347.20" stroke="#000" stroke-width="1.4"/>
<line x1="668.70" y1="344.40" x2="674.30" y2="344.40" stroke="#000" stroke-width="1.4"/>
<line x1="671.50" y1="341.60" x2="671.50" y2="347.20" stroke="#000" stroke-width="1.4"/>
<text x="185.30" y="307.40" font-size="11.0" text-anchor="end" fill="#b3b3b3">UTD</text>
<text x="185.30" y="317.60" font-size="11.0" text-anchor="end" fill="#84eef7">CD19.CAR</text>
<text x="185.30" y="328.10" font-size="11.0" text-anchor="end" fill="#f5994d">HER2.eSPR</text>
<text x="185.30" y="338.20" font-size="11.0" text-anchor="end" fill="#000">DMEM</text>
<text x="185.30" y="348.50" font-size="11.0" text-anchor="end" fill="#000">Tumor CM</text>
<text x="129.00" y="215.50" font-size="13.2" text-anchor="start" fill="#000" font-weight="bold">f</text>
<rect x="129.50" y="392.60" width="61.20" height="50.40" fill="none" stroke="#f9c9c9" stroke-width="1.3"/>
<rect x="69.70" y="392.60" width="59.80" height="50.40" fill="none" stroke="#a6c412" stroke-width="1.6"/>
<line x1="68.80" y1="392.30" x2="68.80" y2="443.80" stroke="#000" stroke-width="1.2"/>
<line x1="68.20" y1="443.40" x2="191.50" y2="443.40" stroke="#333" stroke-width="1.2"/>
<line x1="69.70" y1="443.40" x2="129.50" y2="443.40" stroke="#a6c412" stroke-width="1.2"/>
<line x1="65.60" y1="443.40" x2="68.80" y2="443.40" stroke="#000" stroke-width="1.0"/>
<text x="65.60" y="447.00" font-size="11.3" text-anchor="end" fill="#000">0</text>
<line x1="65.60" y1="426.33" x2="68.80" y2="426.33" stroke="#000" stroke-width="1.0"/>
<text x="65.60" y="429.94" font-size="11.3" text-anchor="end" fill="#000">50</text>
<line x1="65.60" y1="409.27" x2="68.80" y2="409.27" stroke="#000" stroke-width="1.0"/>
<text x="65.60" y="412.87" font-size="11.3" text-anchor="end" fill="#000">100</text>
<line x1="65.60" y1="392.20" x2="68.80" y2="392.20" stroke="#000" stroke-width="1.0"/>
<text x="65.60" y="395.81" font-size="11.3" text-anchor="end" fill="#000">150</text>
<line x1="67.00" y1="434.87" x2="68.80" y2="434.87" stroke="#000" stroke-width="0.8"/>
<line x1="67.00" y1="417.80" x2="68.80" y2="417.80" stroke="#000" stroke-width="0.8"/>
<line x1="67.00" y1="400.74" x2="68.80" y2="400.74" stroke="#000" stroke-width="0.8"/>
<text x="0" y="0" font-size="10.7" text-anchor="middle" transform="translate(27.6 417.5) rotate(-90)">CD206</text>
<text x="0" y="0" font-size="10.7" text-anchor="middle" transform="translate(42.2 416.5) rotate(-90)">MFI (*100)</text>
<circle cx="73.90" cy="417.90" r="3.30" fill="#b5b5b5" stroke="#a9a9a9" stroke-width="1.0" fill-opacity="0.85"/>
<circle cx="73.90" cy="420.10" r="3.30" fill="#b5b5b5" stroke="#a9a9a9" stroke-width="1.0" fill-opacity="0.85"/>
<line x1="73.90" y1="417.60" x2="73.90" y2="420.60" stroke="#000" stroke-width="0.9"/>
<line x1="71.70" y1="417.60" x2="76.10" y2="417.60" stroke="#000" stroke-width="0.9"/>
<line x1="71.70" y1="420.60" x2="76.10" y2="420.60" stroke="#000" stroke-width="0.9"/>
<line x1="71.15" y1="419.10" x2="76.65" y2="419.10" stroke="#000" stroke-width="1.6"/>
<circle cx="82.10" cy="405.20" r="3.30" fill="#b5b5b5" stroke="#a9a9a9" stroke-width="1.0" fill-opacity="0.85"/>
<circle cx="82.10" cy="407.40" r="3.30" fill="#b5b5b5" stroke="#a9a9a9" stroke-width="1.0" fill-opacity="0.85"/>
<line x1="82.10" y1="404.40" x2="82.10" y2="408.40" stroke="#000" stroke-width="0.9"/>
<line x1="79.90" y1="404.40" x2="84.30" y2="404.40" stroke="#000" stroke-width="0.9"/>
<line x1="79.90" y1="408.40" x2="84.30" y2="408.40" stroke="#000" stroke-width="0.9"/>
<line x1="79.35" y1="406.40" x2="84.85" y2="406.40" stroke="#000" stroke-width="1.6"/>
<circle cx="95.20" cy="417.90" r="3.30" fill="#a4f3fa" stroke="#7ee9f2" stroke-width="1.0" fill-opacity="0.85"/>
<circle cx="95.20" cy="420.10" r="3.30" fill="#a4f3fa" stroke="#7ee9f2" stroke-width="1.0" fill-opacity="0.85"/>
<line x1="92.45" y1="419.10" x2="97.95" y2="419.10" stroke="#000" stroke-width="1.6"/>
<circle cx="95.20" cy="419.10" r="1.90" fill="#000" stroke="none" stroke-width="1"/>
<circle cx="103.00" cy="416.20" r="3.30" fill="#a4f3fa" stroke="#7ee9f2" stroke-width="1.0" fill-opacity="0.85"/>
<circle cx="103.00" cy="418.40" r="3.30" fill="#a4f3fa" stroke="#7ee9f2" stroke-width="1.0" fill-opacity="0.85"/>
<line x1="100.25" y1="417.40" x2="105.75" y2="417.40" stroke="#000" stroke-width="1.6"/>
<circle cx="115.20" cy="418.90" r="3.30" fill="#f8ae62" stroke="#f6983f" stroke-width="1.0" fill-opacity="0.85"/>
<circle cx="115.20" cy="421.10" r="3.30" fill="#f8ae62" stroke="#f6983f" stroke-width="1.0" fill-opacity="0.85"/>
<line x1="112.45" y1="420.10" x2="117.95" y2="420.10" stroke="#000" stroke-width="1.6"/>
<circle cx="123.40" cy="417.90" r="3.30" fill="#f8ae62" stroke="#f6983f" stroke-width="1.0" fill-opacity="0.85"/>
<circle cx="123.40" cy="420.10" r="3.30" fill="#f8ae62" stroke="#f6983f" stroke-width="1.0" fill-opacity="0.85"/>
<line x1="120.65" y1="419.10" x2="126.15" y2="419.10" stroke="#000" stroke-width="1.6"/>
<rect x="133.10" y="415.50" width="6.40" height="6.40" fill="#b5b5b5" stroke="#a9a9a9" stroke-width="1.0" fill-opacity="0.85"/>
<rect x="133.10" y="417.10" width="6.40" height="6.40" fill="#b5b5b5" stroke="#a9a9a9" stroke-width="1.0" fill-opacity="0.85"/>
<line x1="136.30" y1="418.20" x2="136.30" y2="421.20" stroke="#000" stroke-width="0.9"/>
<line x1="134.10" y1="418.20" x2="138.50" y2="418.20" stroke="#000" stroke-width="0.9"/>
<line x1="134.10" y1="421.20" x2="138.50" y2="421.20" stroke="#000" stroke-width="0.9"/>
<line x1="133.55" y1="419.70" x2="139.05" y2="419.70" stroke="#000" stroke-width="1.6"/>
<rect x="141.10" y="406.70" width="6.40" height="6.40" fill="#b5b5b5" stroke="#a9a9a9" stroke-width="1.0" fill-opacity="0.85"/>
<rect x="141.10" y="408.30" width="6.40" height="6.40" fill="#b5b5b5" stroke="#a9a9a9" stroke-width="1.0" fill-opacity="0.85"/>
<line x1="141.55" y1="410.90" x2="147.05" y2="410.90" stroke="#000" stroke-width="1.6"/>
<rect x="153.90" y="429.60" width="6.40" height="6.40" fill="#a4f3fa" stroke="#7ee9f2" stroke-width="1.0" fill-opacity="0.85"/>
<rect x="153.90" y="431.20" width="6.40" height="6.40" fill="#a4f3fa" stroke="#7ee9f2" stroke-width="1.0" fill-opacity="0.85"/>
<line x1="154.35" y1="433.80" x2="159.85" y2="433.80" stroke="#000" stroke-width="1.6"/>
<circle cx="157.10" cy="433.80" r="1.90" fill="#000" stroke="none" stroke-width="1"/>
<rect x="161.50" y="429.60" width="6.40" height="6.40" fill="#a4f3fa" stroke="#7ee9f2" stroke-width="1.0" fill-opacity="0.85"/>
<rect x="161.50" y="431.20" width="6.40" height="6.40" fill="#a4f3fa" stroke="#7ee9f2" stroke-width="1.0" fill-opacity="0.85"/>
<line x1="161.95" y1="433.80" x2="167.45" y2="433.80" stroke="#000" stroke-width="1.6"/>
<rect x="174.40" y="430.80" width="6.40" height="6.40" fill="#f8ae62" stroke="#f6983f" stroke-width="1.0" fill-opacity="0.85"/>
<rect x="174.40" y="432.40" width="6.40" height="6.40" fill="#f8ae62" stroke="#f6983f" stroke-width="1.0" fill-opacity="0.85"/>
<line x1="174.85" y1="435.00" x2="180.35" y2="435.00" stroke="#000" stroke-width="1.6"/>
<rect x="182.60" y="430.20" width="6.40" height="6.40" fill="#f8ae62" stroke="#f6983f" stroke-width="1.0" fill-opacity="0.85"/>
<rect x="182.60" y="431.80" width="6.40" height="6.40" fill="#f8ae62" stroke="#f6983f" stroke-width="1.0" fill-opacity="0.85"/>
<line x1="183.05" y1="434.40" x2="188.55" y2="434.40" stroke="#000" stroke-width="1.6"/>
<line x1="74.30" y1="389.00" x2="84.50" y2="389.00" stroke="#222" stroke-width="1.3"/>
<text x="78.90" y="386.40" font-size="8.3" text-anchor="middle" fill="#222">&lt;0.0001</text>
<line x1="94.40" y1="389.00" x2="105.00" y2="389.00" stroke="#222" stroke-width="1.3"/>
<text x="100.50" y="386.40" font-size="8.3" text-anchor="middle" fill="#222">ns</text>
<line x1="115.20" y1="389.00" x2="125.40" y2="389.00" stroke="#222" stroke-width="1.3"/>
<text x="121.00" y="386.40" font-size="8.3" text-anchor="middle" fill="#222">ns</text>
<line x1="136.00" y1="389.00" x2="146.30" y2="389.00" stroke="#222" stroke-width="1.3"/>
<text x="141.60" y="386.40" font-size="8.3" text-anchor="middle" fill="#222">&lt;0.0001</text>
<line x1="156.00" y1="389.00" x2="167.40" y2="389.00" stroke="#222" stroke-width="1.3"/>
<text x="162.00" y="386.40" font-size="8.3" text-anchor="middle" fill="#222">ns</text>
<line x1="177.60" y1="389.00" x2="187.80" y2="389.00" stroke="#222" stroke-width="1.3"/>
<text x="183.10" y="386.40" font-size="8.3" text-anchor="middle" fill="#222">ns</text>
<text x="64.80" y="456.20" font-size="11.0" text-anchor="end" fill="#b3b3b3">UTD</text>
<line x1="71.15" y1="452.60" x2="76.75" y2="452.60" stroke="#000" stroke-width="1.4"/>
<line x1="73.95" y1="449.80" x2="73.95" y2="455.40" stroke="#000" stroke-width="1.4"/>
<line x1="78.45" y1="452.60" x2="84.05" y2="452.60" stroke="#000" stroke-width="1.4"/>
<line x1="81.25" y1="449.80" x2="81.25" y2="455.40" stroke="#000" stroke-width="1.4"/>
<line x1="133.45" y1="452.60" x2="139.05" y2="452.60" stroke="#000" stroke-width="1.4"/>
<line x1="136.25" y1="449.80" x2="136.25" y2="455.40" stroke="#000" stroke-width="1.4"/>
<line x1="140.75" y1="452.60" x2="146.35" y2="452.60" stroke="#000" stroke-width="1.4"/>
<line x1="143.55" y1="449.80" x2="143.55" y2="455.40" stroke="#000" stroke-width="1.4"/>
<text x="64.80" y="466.60" font-size="11.0" text-anchor="end" fill="#84eef7">CD19.CAR</text>
<line x1="92.25" y1="463.00" x2="97.85" y2="463.00" stroke="#000" stroke-width="1.4"/>
<line x1="95.05" y1="460.20" x2="95.05" y2="465.80" stroke="#000" stroke-width="1.4"/>
<line x1="99.55" y1="463.00" x2="105.15" y2="463.00" stroke="#000" stroke-width="1.4"/>
<line x1="102.35" y1="460.20" x2="102.35" y2="465.80" stroke="#000" stroke-width="1.4"/>
<line x1="154.05" y1="463.00" x2="159.65" y2="463.00" stroke="#000" stroke-width="1.4"/>
<line x1="156.85" y1="460.20" x2="156.85" y2="465.80" stroke="#000" stroke-width="1.4"/>
<line x1="161.35" y1="463.00" x2="166.95" y2="463.00" stroke="#000" stroke-width="1.4"/>
<line x1="164.15" y1="460.20" x2="164.15" y2="465.80" stroke="#000" stroke-width="1.4"/>
<text x="64.80" y="476.90" font-size="11.0" text-anchor="end" fill="#f5994d">HER2.eSPR</text>
<line x1="112.45" y1="473.30" x2="118.05" y2="473.30" stroke="#000" stroke-width="1.4"/>
<line x1="115.25" y1="470.50" x2="115.25" y2="476.10" stroke="#000" stroke-width="1.4"/>
<line x1="119.75" y1="473.30" x2="125.35" y2="473.30" stroke="#000" stroke-width="1.4"/>
<line x1="122.55" y1="470.50" x2="122.55" y2="476.10" stroke="#000" stroke-width="1.4"/>
<line x1="174.85" y1="473.30" x2="180.45" y2="473.30" stroke="#000" stroke-width="1.4"/>
<line x1="177.65" y1="470.50" x2="177.65" y2="476.10" stroke="#000" stroke-width="1.4"/>
<line x1="182.15" y1="473.30" x2="187.75" y2="473.30" stroke="#000" stroke-width="1.4"/>
<line x1="184.95" y1="470.50" x2="184.95" y2="476.10" stroke="#000" stroke-width="1.4"/>
<text x="64.80" y="487.60" font-size="11.0" text-anchor="end" fill="#000">DMEM</text>
<line x1="71.15" y1="484.00" x2="76.75" y2="484.00" stroke="#000" stroke-width="1.4"/>
<line x1="73.95" y1="481.20" x2="73.95" y2="486.80" stroke="#000" stroke-width="1.4"/>
<line x1="92.25" y1="484.00" x2="97.85" y2="484.00" stroke="#000" stroke-width="1.4"/>
<line x1="95.05" y1="481.20" x2="95.05" y2="486.80" stroke="#000" stroke-width="1.4"/>
<line x1="112.45" y1="484.00" x2="118.05" y2="484.00" stroke="#000" stroke-width="1.4"/>
<line x1="115.25" y1="481.20" x2="115.25" y2="486.80" stroke="#000" stroke-width="1.4"/>
<line x1="133.45" y1="484.00" x2="139.05" y2="484.00" stroke="#000" stroke-width="1.4"/>
<line x1="136.25" y1="481.20" x2="136.25" y2="486.80" stroke="#000" stroke-width="1.4"/>
<line x1="154.05" y1="484.00" x2="159.65" y2="484.00" stroke="#000" stroke-width="1.4"/>
<line x1="156.85" y1="481.20" x2="156.85" y2="486.80" stroke="#000" stroke-width="1.4"/>
<line x1="174.85" y1="484.00" x2="180.45" y2="484.00" stroke="#000" stroke-width="1.4"/>
<line x1="177.65" y1="481.20" x2="177.65" y2="486.80" stroke="#000" stroke-width="1.4"/>
<text x="64.80" y="497.90" font-size="11.0" text-anchor="end" fill="#000">CM</text>
<line x1="78.45" y1="494.30" x2="84.05" y2="494.30" stroke="#000" stroke-width="1.4"/>
<line x1="81.25" y1="491.50" x2="81.25" y2="497.10" stroke="#000" stroke-width="1.4"/>
<line x1="99.55" y1="494.30" x2="105.15" y2="494.30" stroke="#000" stroke-width="1.4"/>
<line x1="102.35" y1="491.50" x2="102.35" y2="497.10" stroke="#000" stroke-width="1.4"/>
<line x1="119.75" y1="494.30" x2="125.35" y2="494.30" stroke="#000" stroke-width="1.4"/>
<line x1="122.55" y1="491.50" x2="122.55" y2="497.10" stroke="#000" stroke-width="1.4"/>
<line x1="140.75" y1="494.30" x2="146.35" y2="494.30" stroke="#000" stroke-width="1.4"/>
<line x1="143.55" y1="491.50" x2="143.55" y2="497.10" stroke="#000" stroke-width="1.4"/>
<line x1="161.35" y1="494.30" x2="166.95" y2="494.30" stroke="#000" stroke-width="1.4"/>
<line x1="164.15" y1="491.50" x2="164.15" y2="497.10" stroke="#000" stroke-width="1.4"/>
<line x1="182.15" y1="494.30" x2="187.75" y2="494.30" stroke="#000" stroke-width="1.4"/>
<line x1="184.95" y1="491.50" x2="184.95" y2="497.10" stroke="#000" stroke-width="1.4"/>
<line x1="70.70" y1="502.80" x2="127.00" y2="502.80" stroke="#222" stroke-width="1.3"/>
<line x1="134.90" y1="502.80" x2="191.20" y2="502.80" stroke="#222" stroke-width="1.3"/>
<text x="98.10" y="513.90" font-size="11.3" text-anchor="middle" fill="#2ecc2e" font-weight="bold">Bystander</text>
<text x="164.20" y="513.90" font-size="11.2" text-anchor="middle" fill="#f28c8c" font-weight="bold">Effector</text>
<text x="0.60" y="370.40" font-size="13.2" text-anchor="start" fill="#000" font-weight="bold">g</text>
<rect x="274.60" y="380.50" width="14.45" height="9.72" fill="#e9f6e8" stroke="#9a9a9a" stroke-width="0.4"/>
<rect x="289.05" y="380.50" width="14.45" height="9.72" fill="#6f9ec9" stroke="#9a9a9a" stroke-width="0.4"/>
<rect x="303.50" y="380.50" width="14.45" height="9.72" fill="#c1deed" stroke="#9a9a9a" stroke-width="0.4"/>
<rect x="317.95" y="380.50" width="14.45" height="9.72" fill="#fc8e5a" stroke="#9a9a9a" stroke-width="0.4"/>
<rect x="332.40" y="380.50" width="14.45" height="9.72" fill="#f98454" stroke="#9a9a9a" stroke-width="0.4"/>
<rect x="346.85" y="380.50" width="14.45" height="9.72" fill="#feeca2" stroke="#9a9a9a" stroke-width="0.4"/>
<text x="269.60" y="388.26" font-size="10.6" text-anchor="end" fill="#000">IL-1α</text>
<rect x="274.60" y="390.22" width="14.45" height="9.72" fill="#f7fccd" stroke="#9a9a9a" stroke-width="0.4"/>
<rect x="289.05" y="390.22" width="14.45" height="9.72" fill="#7fadd2" stroke="#9a9a9a" stroke-width="0.4"/>
<rect x="303.50" y="390.22" width="14.45" height="9.72" fill="#97c3dd" stroke="#9a9a9a" stroke-width="0.4"/>
<rect x="317.95" y="390.22" width="14.45" height="9.72" fill="#fee99d" stroke="#9a9a9a" stroke-width="0.4"/>
<rect x="332.40" y="390.22" width="14.45" height="9.72" fill="#fdc37d" stroke="#9a9a9a" stroke-width="0.4"/>
<rect x="346.85" y="390.22" width="14.45" height="9.72" fill="#e5533a" stroke="#9a9a9a" stroke-width="0.4"/>
<text x="269.60" y="397.98" font-size="10.6" text-anchor="end" fill="#000">IL-1β</text>
<rect x="274.60" y="399.94" width="14.45" height="9.72" fill="#9fc9e0" stroke="#9a9a9a" stroke-width="0.4"/>
<rect x="289.05" y="399.94" width="14.45" height="9.72" fill="#9fc9e0" stroke="#9a9a9a" stroke-width="0.4"/>
<rect x="303.50" y="399.94" width="14.45" height="9.72" fill="#9fc9e0" stroke="#9a9a9a" stroke-width="0.4"/>
<rect x="317.95" y="399.94" width="14.45" height="9.72" fill="#fca065" stroke="#9a9a9a" stroke-width="0.4"/>
<rect x="332.40" y="399.94" width="14.45" height="9.72" fill="#fc8e5a" stroke="#9a9a9a" stroke-width="0.4"/>
<rect x="346.85" y="399.94" width="14.45" height="9.72" fill="#fdb171" stroke="#9a9a9a" stroke-width="0.4"/>
<text x="269.60" y="407.70" font-size="10.6" text-anchor="end" fill="#000">IL-6</text>
<rect x="274.60" y="409.66" width="14.45" height="9.72" fill="#c1deed" stroke="#9a9a9a" stroke-width="0.4"/>
<rect x="289.05" y="409.66" width="14.45" height="9.72" fill="#9fc9e0" stroke="#9a9a9a" stroke-width="0.4"/>
<rect x="303.50" y="409.66" width="14.45" height="9.72" fill="#9fc9e0" stroke="#9a9a9a" stroke-width="0.4"/>
<rect x="317.95" y="409.66" width="14.45" height="9.72" fill="#f98454" stroke="#9a9a9a" stroke-width="0.4"/>
<rect x="332.40" y="409.66" width="14.45" height="9.72" fill="#feeca2" stroke="#9a9a9a" stroke-width="0.4"/>
<rect x="346.85" y="409.66" width="14.45" height="9.72" fill="#f1714a" stroke="#9a9a9a" stroke-width="0.4"/>
<text x="269.60" y="417.42" font-size="10.6" text-anchor="end" fill="#000">IL-15</text>
<rect x="274.60" y="419.38" width="14.45" height="9.72" fill="#8fbdda" stroke="#9a9a9a" stroke-width="0.4"/>
<rect x="289.05" y="419.38" width="14.45" height="9.72" fill="#c9e4f0" stroke="#9a9a9a" stroke-width="0.4"/>
<rect x="303.50" y="419.38" width="14.45" height="9.72" fill="#87b5d6" stroke="#9a9a9a" stroke-width="0.4"/>
<rect x="317.95" y="419.38" width="14.45" height="9.72" fill="#fc9760" stroke="#9a9a9a" stroke-width="0.4"/>
<rect x="332.40" y="419.38" width="14.45" height="9.72" fill="#fdba77" stroke="#9a9a9a" stroke-width="0.4"/>
<rect x="346.85" y="419.38" width="14.45" height="9.72" fill="#fc8e5a" stroke="#9a9a9a" stroke-width="0.4"/>
<text x="269.60" y="427.14" font-size="10.6" text-anchor="end" fill="#000">CCL4</text>
<rect x="274.60" y="429.10" width="14.45" height="9.72" fill="#9fc9e0" stroke="#9a9a9a" stroke-width="0.4"/>
<rect x="289.05" y="429.10" width="14.45" height="9.72" fill="#9fc9e0" stroke="#9a9a9a" stroke-width="0.4"/>
<rect x="303.50" y="429.10" width="14.45" height="9.72" fill="#97c3dd" stroke="#9a9a9a" stroke-width="0.4"/>
<rect x="317.95" y="429.10" width="14.45" height="9.72" fill="#fda86b" stroke="#9a9a9a" stroke-width="0.4"/>
<rect x="332.40" y="429.10" width="14.45" height="9.72" fill="#fdb171" stroke="#9a9a9a" stroke-width="0.4"/>
<rect x="346.85" y="429.10" width="14.45" height="9.72" fill="#fc9760" stroke="#9a9a9a" stroke-width="0.4"/>
<text x="269.60" y="436.86" font-size="10.6" text-anchor="end" fill="#000">CCL5</text>
<rect x="274.60" y="438.82" width="14.45" height="9.72" fill="#9fc9e0" stroke="#9a9a9a" stroke-width="0.4"/>
<rect x="289.05" y="438.82" width="14.45" height="9.72" fill="#9fc9e0" stroke="#9a9a9a" stroke-width="0.4"/>
<rect x="303.50" y="438.82" width="14.45" height="9.72" fill="#8fbdda" stroke="#9a9a9a" stroke-width="0.4"/>
<rect x="317.95" y="438.82" width="14.45" height="9.72" fill="#fc9760" stroke="#9a9a9a" stroke-width="0.4"/>
<rect x="332.40" y="438.82" width="14.45" height="9.72" fill="#fdb171" stroke="#9a9a9a" stroke-width="0.4"/>
<rect x="346.85" y="438.82" width="14.45" height="9.72" fill="#fdba77" stroke="#9a9a9a" stroke-width="0.4"/>
<text x="269.60" y="446.58" font-size="10.6" text-anchor="end" fill="#000">CXCL1</text>
<rect x="274.60" y="448.54" width="14.45" height="9.72" fill="#9fc9e0" stroke="#9a9a9a" stroke-width="0.4"/>
<rect x="289.05" y="448.54" width="14.45" height="9.72" fill="#97c3dd" stroke="#9a9a9a" stroke-width="0.4"/>
<rect x="303.50" y="448.54" width="14.45" height="9.72" fill="#97c3dd" stroke="#9a9a9a" stroke-width="0.4"/>
<rect x="317.95" y="448.54" width="14.45" height="9.72" fill="#fca065" stroke="#9a9a9a" stroke-width="0.4"/>
<rect x="332.40" y="448.54" width="14.45" height="9.72" fill="#fc8e5a" stroke="#9a9a9a" stroke-width="0.4"/>
<rect x="346.85" y="448.54" width="14.45" height="9.72" fill="#fdb171" stroke="#9a9a9a" stroke-width="0.4"/>
<text x="269.60" y="456.30" font-size="10.6" text-anchor="end" fill="#000">CXCL2</text>
<rect x="274.60" y="458.26" width="14.45" height="9.72" fill="#b8d9ea" stroke="#9a9a9a" stroke-width="0.4"/>
<rect x="289.05" y="458.26" width="14.45" height="9.72" fill="#b0d4e6" stroke="#9a9a9a" stroke-width="0.4"/>
<rect x="303.50" y="458.26" width="14.45" height="9.72" fill="#6f9ec9" stroke="#9a9a9a" stroke-width="0.4"/>
<rect x="317.95" y="458.26" width="14.45" height="9.72" fill="#fca065" stroke="#9a9a9a" stroke-width="0.4"/>
<rect x="332.40" y="458.26" width="14.45" height="9.72" fill="#fc9760" stroke="#9a9a9a" stroke-width="0.4"/>
<rect x="346.85" y="458.26" width="14.45" height="9.72" fill="#fda86b" stroke="#9a9a9a" stroke-width="0.4"/>
<text x="269.60" y="466.02" font-size="10.6" text-anchor="end" fill="#000">CXCL9</text>
<rect x="274.60" y="467.98" width="14.45" height="9.72" fill="#9fc9e0" stroke="#9a9a9a" stroke-width="0.4"/>
<rect x="289.05" y="467.98" width="14.45" height="9.72" fill="#9fc9e0" stroke="#9a9a9a" stroke-width="0.4"/>
<rect x="303.50" y="467.98" width="14.45" height="9.72" fill="#b0d4e6" stroke="#9a9a9a" stroke-width="0.4"/>
<rect x="317.95" y="467.98" width="14.45" height="9.72" fill="#ee6b47" stroke="#9a9a9a" stroke-width="0.4"/>
<rect x="332.40" y="467.98" width="14.45" height="9.72" fill="#fdc37d" stroke="#9a9a9a" stroke-width="0.4"/>
<rect x="346.85" y="467.98" width="14.45" height="9.72" fill="#fca065" stroke="#9a9a9a" stroke-width="0.4"/>
<text x="269.60" y="475.74" font-size="10.6" text-anchor="end" fill="#000">CXCL10</text>
<rect x="274.60" y="477.70" width="14.45" height="9.72" fill="#97c3dd" stroke="#9a9a9a" stroke-width="0.4"/>
<rect x="289.05" y="477.70" width="14.45" height="9.72" fill="#97c3dd" stroke="#9a9a9a" stroke-width="0.4"/>
<rect x="303.50" y="477.70" width="14.45" height="9.72" fill="#9fc9e0" stroke="#9a9a9a" stroke-width="0.4"/>
<rect x="317.95" y="477.70" width="14.45" height="9.72" fill="#fca065" stroke="#9a9a9a" stroke-width="0.4"/>
<rect x="332.40" y="477.70" width="14.45" height="9.72" fill="#fc8e5a" stroke="#9a9a9a" stroke-width="0.4"/>
<rect x="346.85" y="477.70" width="14.45" height="9.72" fill="#fca065" stroke="#9a9a9a" stroke-width="0.4"/>
<text x="269.60" y="485.46" font-size="10.6" text-anchor="end" fill="#000">G-CSF</text>
<rect x="274.60" y="487.42" width="14.45" height="9.72" fill="#8fbdda" stroke="#9a9a9a" stroke-width="0.4"/>
<rect x="289.05" y="487.42" width="14.45" height="9.72" fill="#e7f6ea" stroke="#9a9a9a" stroke-width="0.4"/>
<rect x="303.50" y="487.42" width="14.45" height="9.72" fill="#6f9ec9" stroke="#9a9a9a" stroke-width="0.4"/>
<rect x="317.95" y="487.42" width="14.45" height="9.72" fill="#fc9760" stroke="#9a9a9a" stroke-width="0.4"/>
<rect x="332.40" y="487.42" width="14.45" height="9.72" fill="#f57b4f" stroke="#9a9a9a" stroke-width="0.4"/>
<rect x="346.85" y="487.42" width="14.45" height="9.72" fill="#fecc82" stroke="#9a9a9a" stroke-width="0.4"/>
<text x="269.60" y="495.18" font-size="10.6" text-anchor="end" fill="#000">TNFα</text>
<rect x="274.60" y="497.14" width="14.45" height="9.72" fill="#fee293" stroke="#9a9a9a" stroke-width="0.4"/>
<rect x="289.05" y="497.14" width="14.45" height="9.72" fill="#d73027" stroke="#9a9a9a" stroke-width="0.4"/>
<rect x="303.50" y="497.14" width="14.45" height="9.72" fill="#f8fccc" stroke="#9a9a9a" stroke-width="0.4"/>
<rect x="317.95" y="497.14" width="14.45" height="9.72" fill="#b0d4e6" stroke="#9a9a9a" stroke-width="0.4"/>
<rect x="332.40" y="497.14" width="14.45" height="9.72" fill="#daeff6" stroke="#9a9a9a" stroke-width="0.4"/>
<rect x="346.85" y="497.14" width="14.45" height="9.72" fill="#97c3dd" stroke="#9a9a9a" stroke-width="0.4"/>
<text x="269.60" y="504.90" font-size="10.6" text-anchor="end" fill="#000">VEGF</text>
<rect x="274.60" y="506.86" width="14.45" height="9.72" fill="#e7573c" stroke="#9a9a9a" stroke-width="0.4"/>
<rect x="289.05" y="506.86" width="14.45" height="9.72" fill="#fedd8e" stroke="#9a9a9a" stroke-width="0.4"/>
<rect x="303.50" y="506.86" width="14.45" height="9.72" fill="#fed488" stroke="#9a9a9a" stroke-width="0.4"/>
<rect x="317.95" y="506.86" width="14.45" height="9.72" fill="#e1f3f6" stroke="#9a9a9a" stroke-width="0.4"/>
<rect x="332.40" y="506.86" width="14.45" height="9.72" fill="#77a5ce" stroke="#9a9a9a" stroke-width="0.4"/>
<rect x="346.85" y="506.86" width="14.45" height="9.72" fill="#b8d9ea" stroke="#9a9a9a" stroke-width="0.4"/>
<text x="269.60" y="514.62" font-size="10.6" text-anchor="end" fill="#000">TGFβ-1</text>
<defs><linearGradient id="gh" x1="0" y1="1" x2="0" y2="0"><stop offset="0.000" stop-color="#4575B4"/><stop offset="0.167" stop-color="#91BFDB"/><stop offset="0.333" stop-color="#E0F3F8"/><stop offset="0.500" stop-color="#FFFFBF"/><stop offset="0.667" stop-color="#FEE090"/><stop offset="0.833" stop-color="#FC8D59"/><stop offset="1.000" stop-color="#D73027"/></linearGradient></defs>
<rect x="366.30" y="381.20" width="4.30" height="73.20" fill="url(#gh)" stroke="none" stroke-width="1"/>
<text x="373.00" y="391.50" font-size="8.6" text-anchor="start" fill="#000">1.5</text>
<text x="373.00" y="424.00" font-size="8.6" text-anchor="start" fill="#000">0</text>
<text x="370.50" y="452.50" font-size="8.6" text-anchor="start" fill="#000">-1.5</text>
<text x="0" y="0" font-size="8.6" text-anchor="middle" transform="translate(383.6 419.6) rotate(90)">Z-score</text>
<line x1="277.40" y1="519.10" x2="313.90" y2="519.10" stroke="#444" stroke-width="1.3"/>
<line x1="321.20" y1="519.10" x2="358.20" y2="519.10" stroke="#444" stroke-width="1.3"/>
<text x="0" y="0" font-size="10.4" text-anchor="middle" transform="translate(296.3 530.0) rotate(-15)">UTD</text>
<text x="0" y="0" font-size="10.0" text-anchor="middle" transform="translate(329.3 535.3) rotate(-15)">HER2.eSPR</text>
<text x="235.00" y="370.50" font-size="13.2" text-anchor="start" fill="#000" font-weight="bold">h</text>
<line x1="480.30" y1="429.40" x2="579.50" y2="429.40" stroke="#000" stroke-width="1.75" stroke-dasharray="0.01 4.1" stroke-linecap="round"/>
<line x1="477.30" y1="404.20" x2="477.30" y2="455.20" stroke="#000" stroke-width="1.2"/>
<line x1="476.70" y1="454.60" x2="579.30" y2="454.60" stroke="#000" stroke-width="1.2"/>
<line x1="474.10" y1="404.20" x2="477.30" y2="404.20" stroke="#000" stroke-width="1.0"/>
<text x="471.60" y="408.00" font-size="10.9" text-anchor="end" fill="#000">2</text>
<line x1="474.10" y1="416.80" x2="477.30" y2="416.80" stroke="#000" stroke-width="1.0"/>
<text x="471.60" y="420.60" font-size="10.9" text-anchor="end" fill="#000">1</text>
<line x1="474.10" y1="429.40" x2="477.30" y2="429.40" stroke="#000" stroke-width="1.0"/>
<text x="471.60" y="433.20" font-size="10.9" text-anchor="end" fill="#000">0</text>
<line x1="474.10" y1="442.00" x2="477.30" y2="442.00" stroke="#000" stroke-width="1.0"/>
<text x="471.60" y="445.80" font-size="10.9" text-anchor="end" fill="#000">-1</text>
<line x1="474.10" y1="454.60" x2="477.30" y2="454.60" stroke="#000" stroke-width="1.0"/>
<text x="471.60" y="458.40" font-size="10.9" text-anchor="end" fill="#000">-2</text>
<line x1="475.30" y1="410.50" x2="477.30" y2="410.50" stroke="#000" stroke-width="0.9"/>
<line x1="475.30" y1="423.10" x2="477.30" y2="423.10" stroke="#000" stroke-width="0.9"/>
<line x1="475.30" y1="435.70" x2="477.30" y2="435.70" stroke="#000" stroke-width="0.9"/>
<line x1="475.30" y1="448.30" x2="477.30" y2="448.30" stroke="#000" stroke-width="0.9"/>
<text x="0" y="0" font-size="10.7" text-anchor="middle" transform="translate(459.2 430.7) rotate(-90)">CD206</text>
<circle cx="485.00" cy="427.80" r="3.40" fill="none" stroke="#000" stroke-width="0.9"/>
<circle cx="486.60" cy="428.80" r="3.40" fill="none" stroke="#000" stroke-width="0.9"/>
<circle cx="485.30" cy="430.50" r="3.40" fill="none" stroke="#000" stroke-width="0.9"/>
<circle cx="486.40" cy="431.10" r="3.40" fill="none" stroke="#000" stroke-width="0.9"/>
<circle cx="485.80" cy="429.30" r="3.40" fill="none" stroke="#000" stroke-width="0.9"/>
<line x1="482.80" y1="429.30" x2="488.80" y2="429.30" stroke="#000" stroke-width="1.5"/>
<circle cx="497.40" cy="427.20" r="3.40" fill="#d0d0d0" stroke="#9a9a9a" stroke-width="0.9" fill-opacity="0.6"/>
<circle cx="498.50" cy="428.60" r="3.40" fill="#d0d0d0" stroke="#9a9a9a" stroke-width="0.9" fill-opacity="0.6"/>
<circle cx="497.90" cy="429.40" r="3.40" fill="#d0d0d0" stroke="#9a9a9a" stroke-width="0.9" fill-opacity="0.6"/>
<line x1="494.90" y1="428.40" x2="500.90" y2="428.40" stroke="#000" stroke-width="1.8"/>
<circle cx="509.00" cy="437.60" r="3.10" fill="#aaf2f8" stroke="#7ee9f2" stroke-width="1.0" fill-opacity="0.8"/>
<circle cx="511.00" cy="437.60" r="3.10" fill="#aaf2f8" stroke="#7ee9f2" stroke-width="1.0" fill-opacity="0.8"/>
<line x1="507.00" y1="437.60" x2="513.00" y2="437.60" stroke="#000" stroke-width="1.6"/>
<circle cx="522.10" cy="431.70" r="3.20" fill="#f9b46e" stroke="#f6983f" stroke-width="1.0" fill-opacity="0.8"/>
<circle cx="522.70" cy="435.50" r="3.20" fill="#f9b46e" stroke="#f6983f" stroke-width="1.0" fill-opacity="0.8"/>
<circle cx="521.60" cy="434.20" r="3.20" fill="#f9b46e" stroke="#f6983f" stroke-width="1.0" fill-opacity="0.8"/>
<line x1="522.10" y1="431.20" x2="522.10" y2="436.20" stroke="#000" stroke-width="0.9"/>
<line x1="519.90" y1="431.20" x2="524.30" y2="431.20" stroke="#000" stroke-width="0.9"/>
<line x1="519.90" y1="436.20" x2="524.30" y2="436.20" stroke="#000" stroke-width="0.9"/>
<line x1="519.35" y1="433.70" x2="524.85" y2="433.70" stroke="#000" stroke-width="1.6"/>
<rect x="530.80" y="404.60" width="6.80" height="6.80" fill="none" stroke="#000" stroke-width="0.9"/>
<rect x="530.80" y="407.60" width="6.80" height="6.80" fill="none" stroke="#000" stroke-width="0.9"/>
<rect x="530.80" y="410.60" width="6.80" height="6.80" fill="none" stroke="#000" stroke-width="0.9"/>
<rect x="530.80" y="412.60" width="6.80" height="6.80" fill="none" stroke="#000" stroke-width="0.9"/>
<line x1="530.80" y1="414.50" x2="537.60" y2="414.50" stroke="#000" stroke-width="1.5"/>
<line x1="534.20" y1="409.00" x2="534.20" y2="419.50" stroke="#000" stroke-width="0.9"/>
<rect x="543.00" y="409.30" width="6.60" height="6.60" fill="#c6c6c6" stroke="#a9a9a9" stroke-width="1.0" fill-opacity="0.8"/>
<rect x="543.00" y="410.30" width="6.60" height="6.60" fill="#c6c6c6" stroke="#a9a9a9" stroke-width="1.0" fill-opacity="0.8"/>
<line x1="543.30" y1="413.10" x2="549.30" y2="413.10" stroke="#000" stroke-width="1.6"/>
<rect x="555.10" y="431.80" width="6.60" height="6.60" fill="#aaf2f8" stroke="#7ee9f2" stroke-width="1.0" fill-opacity="0.8"/>
<rect x="555.10" y="436.80" width="6.60" height="6.60" fill="#aaf2f8" stroke="#7ee9f2" stroke-width="1.0" fill-opacity="0.8"/>
<line x1="558.40" y1="434.40" x2="558.40" y2="440.80" stroke="#000" stroke-width="0.9"/>
<line x1="556.20" y1="434.40" x2="560.60" y2="434.40" stroke="#000" stroke-width="0.9"/>
<line x1="556.20" y1="440.80" x2="560.60" y2="440.80" stroke="#000" stroke-width="0.9"/>
<line x1="555.40" y1="437.60" x2="561.40" y2="437.60" stroke="#000" stroke-width="1.6"/>
<rect x="567.20" y="431.90" width="6.60" height="6.60" fill="#f9b46e" stroke="#f6983f" stroke-width="1.0" fill-opacity="0.8"/>
<rect x="567.20" y="435.90" width="6.60" height="6.60" fill="#f9b46e" stroke="#f6983f" stroke-width="1.0" fill-opacity="0.8"/>
<line x1="570.50" y1="434.40" x2="570.50" y2="440.00" stroke="#000" stroke-width="0.9"/>
<line x1="568.30" y1="434.40" x2="572.70" y2="434.40" stroke="#000" stroke-width="0.9"/>
<line x1="568.30" y1="440.00" x2="572.70" y2="440.00" stroke="#000" stroke-width="0.9"/>
<line x1="567.50" y1="437.20" x2="573.50" y2="437.20" stroke="#000" stroke-width="1.6"/>
<line x1="485.20" y1="388.90" x2="522.70" y2="388.90" stroke="#222" stroke-width="1.3"/>
<text x="503.95" y="385.60" font-size="8.3" text-anchor="middle" fill="#222">ns</text>
<line x1="533.60" y1="388.90" x2="571.30" y2="388.90" stroke="#222" stroke-width="1.3"/>
<text x="554.30" y="385.50" font-size="8.3" text-anchor="middle" fill="#222">&lt;0.0001</text>
<line x1="485.20" y1="402.10" x2="498.50" y2="402.10" stroke="#222" stroke-width="1.3"/>
<text x="491.85" y="399.20" font-size="8.3" text-anchor="middle" fill="#222">ns</text>
<line x1="509.40" y1="402.10" x2="522.70" y2="402.10" stroke="#222" stroke-width="1.3"/>
<text x="516.05" y="399.20" font-size="8.3" text-anchor="middle" fill="#222">ns</text>
<line x1="533.60" y1="402.10" x2="546.90" y2="402.10" stroke="#222" stroke-width="1.3"/>
<text x="540.25" y="399.20" font-size="8.3" text-anchor="middle" fill="#222">ns</text>
<line x1="557.80" y1="402.10" x2="571.10" y2="402.10" stroke="#222" stroke-width="1.3"/>
<text x="564.45" y="399.20" font-size="8.3" text-anchor="middle" fill="#222">ns</text>
<text x="470.50" y="466.40" font-size="11.0" text-anchor="end" fill="#000">Medium</text>
<line x1="483.50" y1="462.60" x2="489.10" y2="462.60" stroke="#000" stroke-width="1.4"/>
<line x1="486.30" y1="459.80" x2="486.30" y2="465.40" stroke="#000" stroke-width="1.4"/>
<line x1="531.90" y1="462.60" x2="537.50" y2="462.60" stroke="#000" stroke-width="1.4"/>
<line x1="534.70" y1="459.80" x2="534.70" y2="465.40" stroke="#000" stroke-width="1.4"/>
<text x="470.50" y="477.10" font-size="11.0" text-anchor="end" fill="#b3b3b3">UTD</text>
<line x1="495.60" y1="473.30" x2="501.20" y2="473.30" stroke="#000" stroke-width="1.4"/>
<line x1="498.40" y1="470.50" x2="498.40" y2="476.10" stroke="#000" stroke-width="1.4"/>
<line x1="544.00" y1="473.30" x2="549.60" y2="473.30" stroke="#000" stroke-width="1.4"/>
<line x1="546.80" y1="470.50" x2="546.80" y2="476.10" stroke="#000" stroke-width="1.4"/>
<text x="470.50" y="487.80" font-size="11.0" text-anchor="end" fill="#84eef7">CD19.CAR</text>
<line x1="507.70" y1="484.00" x2="513.30" y2="484.00" stroke="#000" stroke-width="1.4"/>
<line x1="510.50" y1="481.20" x2="510.50" y2="486.80" stroke="#000" stroke-width="1.4"/>
<line x1="556.10" y1="484.00" x2="561.70" y2="484.00" stroke="#000" stroke-width="1.4"/>
<line x1="558.90" y1="481.20" x2="558.90" y2="486.80" stroke="#000" stroke-width="1.4"/>
<text x="470.50" y="498.50" font-size="11.0" text-anchor="end" fill="#f5994d">HER2.eSPR</text>
<line x1="519.80" y1="494.70" x2="525.40" y2="494.70" stroke="#000" stroke-width="1.4"/>
<line x1="522.60" y1="491.90" x2="522.60" y2="497.50" stroke="#000" stroke-width="1.4"/>
<line x1="568.20" y1="494.70" x2="573.80" y2="494.70" stroke="#000" stroke-width="1.4"/>
<line x1="571.00" y1="491.90" x2="571.00" y2="497.50" stroke="#000" stroke-width="1.4"/>
<text x="470.50" y="509.20" font-size="11.0" text-anchor="end" fill="#000">DMEM</text>
<line x1="483.50" y1="505.40" x2="489.10" y2="505.40" stroke="#000" stroke-width="1.4"/>
<line x1="486.30" y1="502.60" x2="486.30" y2="508.20" stroke="#000" stroke-width="1.4"/>
<line x1="495.60" y1="505.40" x2="501.20" y2="505.40" stroke="#000" stroke-width="1.4"/>
<line x1="498.40" y1="502.60" x2="498.40" y2="508.20" stroke="#000" stroke-width="1.4"/>
<line x1="507.70" y1="505.40" x2="513.30" y2="505.40" stroke="#000" stroke-width="1.4"/>
<line x1="510.50" y1="502.60" x2="510.50" y2="508.20" stroke="#000" stroke-width="1.4"/>
<line x1="519.80" y1="505.40" x2="525.40" y2="505.40" stroke="#000" stroke-width="1.4"/>
<line x1="522.60" y1="502.60" x2="522.60" y2="508.20" stroke="#000" stroke-width="1.4"/>
<text x="470.50" y="519.90" font-size="11.0" text-anchor="end" fill="#000">Tumor CM</text>
<line x1="531.90" y1="516.10" x2="537.50" y2="516.10" stroke="#000" stroke-width="1.4"/>
<line x1="534.70" y1="513.30" x2="534.70" y2="518.90" stroke="#000" stroke-width="1.4"/>
<line x1="544.00" y1="516.10" x2="549.60" y2="516.10" stroke="#000" stroke-width="1.4"/>
<line x1="546.80" y1="513.30" x2="546.80" y2="518.90" stroke="#000" stroke-width="1.4"/>
<line x1="556.10" y1="516.10" x2="561.70" y2="516.10" stroke="#000" stroke-width="1.4"/>
<line x1="558.90" y1="513.30" x2="558.90" y2="518.90" stroke="#000" stroke-width="1.4"/>
<line x1="568.20" y1="516.10" x2="573.80" y2="516.10" stroke="#000" stroke-width="1.4"/>
<line x1="571.00" y1="513.30" x2="571.00" y2="518.90" stroke="#000" stroke-width="1.4"/>
<text x="431.80" y="370.50" font-size="13.2" text-anchor="start" fill="#000" font-weight="bold">i</text>
</svg>
</body></html>
